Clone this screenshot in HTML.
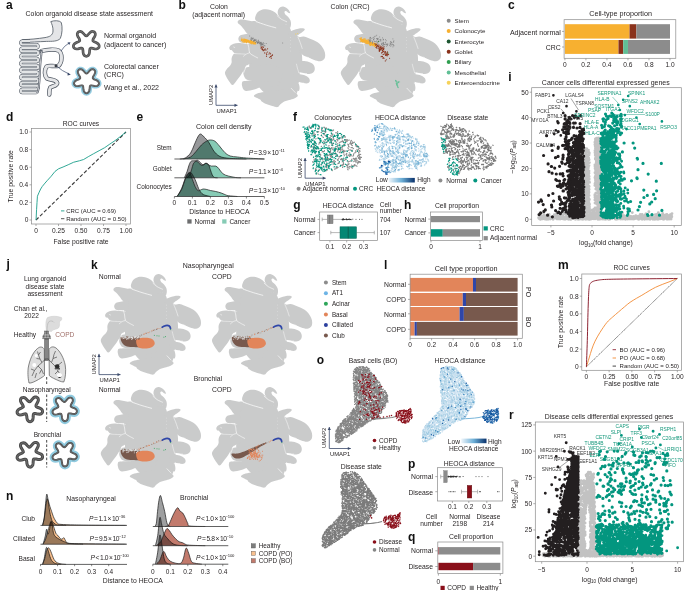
<!DOCTYPE html>
<html><head><meta charset="utf-8"><style>
html,body{margin:0;padding:0;background:#fff;}
body{width:685px;height:591px;overflow:hidden;font-family:"Liberation Sans",sans-serif;}
svg{display:block;}
</style></head><body>
<svg width="685" height="591" viewBox="0 0 685 591" font-family="Liberation Sans, sans-serif"><defs><g id="umap"><path d="M28.00,17.00 C30.50,15.25 36.00,18.67 40.00,19.50 C44.00,20.33 48.33,21.92 52.00,22.00 C55.67,22.08 59.67,19.67 62.00,20.00 C64.33,20.33 65.00,22.50 66.00,24.00 C67.00,25.50 66.50,27.50 68.00,29.00 C69.50,30.50 73.50,30.33 75.00,33.00 C76.50,35.67 76.50,41.17 77.00,45.00 C77.50,48.83 78.17,52.50 78.00,56.00 C77.83,59.50 76.50,62.83 76.00,66.00 C75.50,69.17 75.33,72.00 75.00,75.00 C74.67,78.00 74.67,81.33 74.00,84.00 C73.33,86.67 73.00,89.33 71.00,91.00 C69.00,92.67 65.50,93.50 62.00,94.00 C58.50,94.50 53.67,95.00 50.00,94.00 C46.33,93.00 42.83,90.33 40.00,88.00 C37.17,85.67 35.17,83.00 33.00,80.00 C30.83,77.00 28.33,73.00 27.00,70.00 C25.67,67.00 25.17,65.33 25.00,62.00 C24.83,58.67 25.83,53.67 26.00,50.00 C26.17,46.33 26.17,43.33 26.00,40.00 C25.83,36.67 24.67,33.83 25.00,30.00 C25.33,26.17 25.50,18.75 28.00,17.00 Z" fill="#cacbcb"/><path d="M31.00,15.00 C30.42,13.42 31.67,10.50 32.50,9.00 C33.33,7.50 34.58,6.70 36.00,6.00 C37.42,5.30 39.33,4.88 41.00,4.80 C42.67,4.72 44.33,4.97 46.00,5.50 C47.67,6.03 49.50,6.92 51.00,8.00 C52.50,9.08 53.50,10.67 55.00,12.00 C56.50,13.33 58.67,14.83 60.00,16.00 C61.33,17.17 63.83,17.92 63.00,19.00 C62.17,20.08 58.00,22.08 55.00,22.50 C52.00,22.92 48.17,22.17 45.00,21.50 C41.83,20.83 38.33,19.58 36.00,18.50 C33.67,17.42 31.58,16.58 31.00,15.00 Z" fill="#cacbcb"/><path d="M53.60,9.00 C53.35,7.78 53.60,6.23 54.00,5.20 C54.40,4.17 55.17,3.33 56.00,2.80 C56.83,2.27 58.00,1.93 59.00,2.00 C60.00,2.07 61.08,2.62 62.00,3.20 C62.92,3.78 63.83,4.62 64.50,5.50 C65.17,6.38 66.08,8.05 66.00,8.50 C65.92,8.95 64.70,8.52 64.00,8.20 C63.30,7.88 62.42,6.77 61.80,6.60 C61.18,6.43 60.43,6.68 60.30,7.20 C60.17,7.72 60.38,8.82 61.00,9.70 C61.62,10.58 63.12,11.45 64.00,12.50 C64.88,13.55 65.83,14.75 66.30,16.00 C66.77,17.25 66.93,18.75 66.80,20.00 C66.67,21.25 66.30,23.50 65.50,23.50 C64.70,23.50 63.17,21.25 62.00,20.00 C60.83,18.75 59.58,17.25 58.50,16.00 C57.42,14.75 56.32,13.67 55.50,12.50 C54.68,11.33 53.85,10.22 53.60,9.00 Z" fill="#cacbcb"/><path d="M13.50,17.00 C13.75,16.38 14.58,15.63 15.50,15.30 C16.42,14.97 17.58,14.88 19.00,15.00 C20.42,15.12 22.33,15.67 24.00,16.00 C25.67,16.33 27.50,16.50 29.00,17.00 C30.50,17.50 32.83,17.67 33.00,19.00 C33.17,20.33 31.33,23.25 30.00,25.00 C28.67,26.75 26.25,28.92 25.00,29.50 C23.75,30.08 23.42,29.33 22.50,28.50 C21.58,27.67 20.58,25.83 19.50,24.50 C18.42,23.17 16.92,21.42 16.00,20.50 C15.08,19.58 14.42,19.58 14.00,19.00 C13.58,18.42 13.25,17.62 13.50,17.00 Z" fill="#cacbcb"/><path d="M14.20,34.80 C14.03,33.85 14.53,32.72 15.00,32.00 C15.47,31.28 15.83,30.93 17.00,30.50 C18.17,30.07 20.17,29.57 22.00,29.40 C23.83,29.23 26.83,28.73 28.00,29.50 C29.17,30.27 29.17,32.45 29.00,34.00 C28.83,35.55 28.17,38.10 27.00,38.80 C25.83,39.50 23.83,38.38 22.00,38.20 C20.17,38.02 17.30,38.27 16.00,37.70 C14.70,37.13 14.37,35.75 14.20,34.80 Z" fill="#cacbcb"/><path d="M5.10,43.20 C5.20,42.42 5.87,41.37 6.60,40.70 C7.33,40.03 8.23,39.57 9.50,39.20 C10.77,38.83 12.45,38.53 14.20,38.50 C15.95,38.47 18.37,38.87 20.00,39.00 C21.63,39.13 22.83,39.13 24.00,39.30 C25.17,39.47 26.42,39.05 27.00,40.00 C27.58,40.95 27.50,43.42 27.50,45.00 C27.50,46.58 28.25,48.75 27.00,49.50 C25.75,50.25 22.00,49.53 20.00,49.50 C18.00,49.47 16.65,49.47 15.00,49.30 C13.35,49.13 11.33,49.08 10.10,48.50 C8.87,47.92 8.28,46.32 7.60,45.80 C6.92,45.28 6.42,45.83 6.00,45.40 C5.58,44.97 5.00,43.98 5.10,43.20 Z" fill="#cacbcb"/><path d="M8.80,50.50 C9.40,49.67 9.30,49.28 11.00,49.00 C12.70,48.72 16.83,48.77 19.00,48.80 C21.17,48.83 22.33,49.03 24.00,49.20 C25.67,49.37 27.58,49.17 29.00,49.80 C30.42,50.43 32.33,51.80 32.50,53.00 C32.67,54.20 31.70,55.63 30.00,57.00 C28.30,58.37 23.97,59.87 22.30,61.20 C20.63,62.53 20.88,63.53 20.00,65.00 C19.12,66.47 18.25,68.17 17.00,70.00 C15.75,71.83 13.92,74.25 12.50,76.00 C11.08,77.75 9.75,80.33 8.50,80.50 C7.25,80.67 6.08,78.42 5.00,77.00 C3.92,75.58 2.70,73.50 2.00,72.00 C1.30,70.50 0.63,69.33 0.80,68.00 C0.97,66.67 2.13,65.17 3.00,64.00 C3.87,62.83 5.27,62.00 6.00,61.00 C6.73,60.00 7.17,59.17 7.40,58.00 C7.63,56.83 7.17,55.25 7.40,54.00 C7.63,52.75 8.20,51.33 8.80,50.50 Z" fill="#cacbcb"/><path d="M64.00,28.80 C63.67,27.88 65.08,27.57 66.00,27.00 C66.92,26.43 68.17,25.87 69.50,25.40 C70.83,24.93 72.58,24.47 74.00,24.20 C75.42,23.93 76.92,23.75 78.00,23.80 C79.08,23.85 80.25,24.05 80.50,24.50 C80.75,24.95 80.25,25.75 79.50,26.50 C78.75,27.25 77.12,28.20 76.00,29.00 C74.88,29.80 74.13,30.72 72.80,31.30 C71.47,31.88 69.47,32.92 68.00,32.50 C66.53,32.08 64.33,29.72 64.00,28.80 Z" fill="#cacbcb"/><path d="M74.00,34.00 C74.37,32.08 75.27,32.83 76.20,32.50 C77.13,32.17 78.30,31.83 79.60,32.00 C80.90,32.17 82.43,32.92 84.00,33.50 C85.57,34.08 87.50,34.83 89.00,35.50 C90.50,36.17 91.67,36.58 93.00,37.50 C94.33,38.42 95.83,39.58 97.00,41.00 C98.17,42.42 99.33,44.42 100.00,46.00 C100.67,47.58 101.00,49.08 101.00,50.50 C101.00,51.92 100.83,53.45 100.00,54.50 C99.17,55.55 97.67,56.63 96.00,56.80 C94.33,56.97 92.00,56.13 90.00,55.50 C88.00,54.87 86.00,53.92 84.00,53.00 C82.00,52.08 79.67,51.50 78.00,50.00 C76.33,48.50 74.67,46.67 74.00,44.00 C73.33,41.33 73.63,35.92 74.00,34.00 Z" fill="#cacbcb"/><path d="M71.00,56.80 C72.33,55.22 77.50,56.30 80.00,56.50 C82.50,56.70 84.42,57.33 86.00,58.00 C87.58,58.67 88.73,59.43 89.50,60.50 C90.27,61.57 90.68,63.15 90.60,64.40 C90.52,65.65 89.93,67.15 89.00,68.00 C88.07,68.85 86.67,69.42 85.00,69.50 C83.33,69.58 81.17,69.08 79.00,68.50 C76.83,67.92 73.33,67.95 72.00,66.00 C70.67,64.05 69.67,58.38 71.00,56.80 Z" fill="#cacbcb"/><path d="M70.00,69.50 C71.17,68.83 75.00,69.67 77.00,70.00 C79.00,70.33 80.67,70.83 82.00,71.50 C83.33,72.17 84.42,73.08 85.00,74.00 C85.58,74.92 85.75,76.20 85.50,77.00 C85.25,77.80 84.58,78.55 83.50,78.80 C82.42,79.05 80.58,78.80 79.00,78.50 C77.42,78.20 75.50,77.75 74.00,77.00 C72.50,76.25 70.67,75.25 70.00,74.00 C69.33,72.75 68.83,70.17 70.00,69.50 Z" fill="#cacbcb"/><path d="M69.00,78.00 C70.00,77.50 72.93,78.17 74.00,79.00 C75.07,79.83 75.32,81.77 75.40,83.00 C75.48,84.23 75.23,86.07 74.50,86.40 C73.77,86.73 72.08,85.73 71.00,85.00 C69.92,84.27 68.33,83.17 68.00,82.00 C67.67,80.83 68.00,78.50 69.00,78.00 Z" fill="#cacbcb"/><path d="M62.00,85.00 C65.00,85.00 66.33,85.33 68.00,86.00 C69.67,86.67 71.08,88.10 72.00,89.00 C72.92,89.90 73.83,90.57 73.50,91.40 C73.17,92.23 71.42,93.32 70.00,94.00 C68.58,94.68 66.67,95.00 65.00,95.50 C63.33,96.00 61.50,96.25 60.00,97.00 C58.50,97.75 57.10,99.07 56.00,100.00 C54.90,100.93 54.73,102.35 53.40,102.60 C52.07,102.85 49.90,102.02 48.00,101.50 C46.10,100.98 43.75,100.25 42.00,99.50 C40.25,98.75 38.45,97.70 37.50,97.00 C36.55,96.30 37.05,95.88 36.30,95.30 C35.55,94.72 34.10,94.15 33.00,93.50 C31.90,92.85 29.70,92.15 29.70,91.40 C29.70,90.65 31.28,89.65 33.00,89.00 C34.72,88.35 37.17,88.00 40.00,87.50 C42.83,87.00 46.33,86.42 50.00,86.00 C53.67,85.58 59.00,85.00 62.00,85.00 Z" fill="#cacbcb"/><path d="M17.80,78.50 C18.00,77.80 17.80,77.17 19.00,76.80 C20.20,76.43 22.33,76.35 25.00,76.30 C27.67,76.25 31.67,76.38 35.00,76.50 C38.33,76.62 41.67,76.83 45.00,77.00 C48.33,77.17 53.17,77.00 55.00,77.50 C56.83,78.00 57.17,79.25 56.00,80.00 C54.83,80.75 51.13,81.58 48.00,82.00 C44.87,82.42 40.20,82.00 37.20,82.50 C34.20,83.00 32.53,84.35 30.00,85.00 C27.47,85.65 23.83,86.48 22.00,86.40 C20.17,86.32 19.70,85.40 19.00,84.50 C18.30,83.60 18.00,82.00 17.80,81.00 C17.60,80.00 17.60,79.20 17.80,78.50 Z" fill="#cacbcb"/><path d="M20.00,64.00 C21.67,62.33 25.83,62.67 30.00,62.00 C34.17,61.33 40.83,59.83 45.00,60.00 C49.17,60.17 52.83,61.33 55.00,63.00 C57.17,64.67 58.00,67.67 58.00,70.00 C58.00,72.33 58.00,75.83 55.00,77.00 C52.00,78.17 45.00,77.17 40.00,77.00 C35.00,76.83 28.33,76.83 25.00,76.00 C21.67,75.17 20.83,74.00 20.00,72.00 C19.17,70.00 18.33,65.67 20.00,64.00 Z" fill="#cacbcb"/><path d="M32.00,17.20 C33.67,17.77 38.73,19.58 42.00,20.60 C45.27,21.62 50.00,22.85 51.60,23.30" fill="none" stroke="#fff" stroke-width="0.7" stroke-linecap="round"/><path d="M53.00,11.20 C53.67,11.77 55.42,13.60 57.00,14.60 C58.58,15.60 61.58,16.77 62.50,17.20" fill="none" stroke="#fff" stroke-width="0.6" stroke-linecap="round"/><path d="M73.70,32.50 C74.08,33.42 75.28,36.08 76.00,38.00 C76.72,39.92 77.67,43.00 78.00,44.00" fill="none" stroke="#fff" stroke-width="0.5" stroke-linecap="round"/><path d="M83.80,52.80 L88.00,55.80" fill="none" stroke="#fff" stroke-width="0.6" stroke-linecap="round"/><path d="M75.00,68.30 C75.67,68.40 77.75,68.77 79.00,68.90 C80.25,69.03 81.92,69.07 82.50,69.10" fill="none" stroke="#fff" stroke-width="0.55" stroke-linecap="round"/><path d="M74.20,78.60 C74.67,78.63 76.12,78.80 77.00,78.80 C77.88,78.80 79.08,78.63 79.50,78.60" fill="none" stroke="#fff" stroke-width="0.55" stroke-linecap="round"/><path d="M72.30,59.70 C72.45,60.33 72.82,62.08 73.20,63.50 C73.58,64.92 74.37,67.42 74.60,68.20" fill="none" stroke="#fff" stroke-width="0.45" stroke-linecap="round"/><path d="M67.00,83.80 L71.00,88.00" fill="none" stroke="#fff" stroke-width="0.6" stroke-linecap="round"/><path d="M23.40,38.40 C23.60,39.17 24.27,41.35 24.60,43.00 C24.93,44.65 24.67,46.97 25.40,48.30 C26.13,49.63 27.65,50.15 29.00,51.00 C30.35,51.85 32.75,53.00 33.50,53.40" fill="none" stroke="#fff" stroke-width="0.6" stroke-linecap="round"/><path d="M25.40,48.30 C24.83,48.52 23.02,49.02 22.00,49.60 C20.98,50.18 19.75,51.43 19.30,51.80" fill="none" stroke="#fff" stroke-width="0.5" stroke-linecap="round"/><path d="M11.00,49.20 C11.83,49.23 14.33,49.33 16.00,49.40 C17.67,49.47 20.17,49.57 21.00,49.60" fill="none" stroke="#fff" stroke-width="0.45" stroke-linecap="round"/><path d="M22.30,61.20 L19.60,68.00" fill="none" stroke="#fff" stroke-width="0.6" stroke-linecap="round"/><path d="M9.50,42.50 L10.50,43.00" fill="none" stroke="#fff" stroke-width="0.5" stroke-linecap="round"/><circle cx="66.5" cy="33" r="0.35" fill="#fff"/><circle cx="66.5" cy="36" r="0.35" fill="#fff"/><circle cx="66.5" cy="39.5" r="0.35" fill="#fff"/><circle cx="66.5" cy="43" r="0.35" fill="#fff"/><circle cx="66.5" cy="46.5" r="0.35" fill="#fff"/></g><linearGradient id="gblue" x1="0" x2="1" y1="0" y2="0"><stop offset="0" stop-color="#f0f6fb"/><stop offset="0.5" stop-color="#6baed6"/><stop offset="1" stop-color="#08306b"/></linearGradient></defs><text x="6.00" y="8.50" font-size="12" text-anchor="start" fill="#111" font-weight="bold" >a</text>
<text x="178.40" y="8.50" font-size="12" text-anchor="start" fill="#111" font-weight="bold" >b</text>
<text x="507.90" y="8.80" font-size="12" text-anchor="start" fill="#111" font-weight="bold" >c</text>
<text x="5.90" y="120.60" font-size="12" text-anchor="start" fill="#111" font-weight="bold" >d</text>
<text x="136.40" y="120.60" font-size="12" text-anchor="start" fill="#111" font-weight="bold" >e</text>
<text x="292.90" y="120.60" font-size="12" text-anchor="start" fill="#111" font-weight="bold" >f</text>
<text x="293.30" y="208.50" font-size="12" text-anchor="start" fill="#111" font-weight="bold" >g</text>
<text x="403.90" y="208.60" font-size="12" text-anchor="start" fill="#111" font-weight="bold" >h</text>
<text x="508.30" y="81.10" font-size="12" text-anchor="start" fill="#111" font-weight="bold" >i</text>
<text x="6.40" y="268.20" font-size="12" text-anchor="start" fill="#111" font-weight="bold" >j</text>
<text x="91.10" y="268.60" font-size="12" text-anchor="start" fill="#111" font-weight="bold" >k</text>
<text x="384.00" y="268.50" font-size="12" text-anchor="start" fill="#111" font-weight="bold" >l</text>
<text x="557.90" y="268.60" font-size="12" text-anchor="start" fill="#111" font-weight="bold" >m</text>
<text x="5.90" y="499.60" font-size="12" text-anchor="start" fill="#111" font-weight="bold" >n</text>
<text x="316.80" y="363.50" font-size="12" text-anchor="start" fill="#111" font-weight="bold" >o</text>
<text x="407.90" y="467.50" font-size="12" text-anchor="start" fill="#111" font-weight="bold" >p</text>
<text x="407.90" y="540.80" font-size="12" text-anchor="start" fill="#111" font-weight="bold" >q</text>
<text x="509.00" y="418.60" font-size="12" text-anchor="start" fill="#111" font-weight="bold" >r</text>
<text x="89.30" y="16.07" font-size="6.87" text-anchor="middle" fill="#231f20" >Colon organoid disease state assessment</text>
<path d="M50.8,21.6 C54,20.3 59.5,20.3 61.3,22.5 C62.6,27 62.3,34 60.3,38.5 C57.5,41.6 52,41.3 46.5,41.4 C39,41.6 30,42.6 22.3,42.2 L22.3,39.6 C30,39.6 38,38.6 45,37.6 C49.5,36.8 52.8,35.5 53,31 C53.2,27 51.8,24 50.8,21.6 Z" fill="#e4e5e7" stroke="#4d5560" stroke-width="0.8" stroke-linejoin="round"/>
<path d="M30,41.0 L22.3,41.0 A1.73,1.73 0 0 0 22.3,44.45 L36.6,44.45 A1.73,1.73 0 0 1 36.6,47.90 L22.3,47.90 A1.73,1.73 0 0 0 22.3,51.35 L36.6,51.35 A1.73,1.73 0 0 1 36.6,54.80 L22.3,54.80 A1.73,1.73 0 0 0 22.3,58.25 L36.6,58.25 A1.73,1.73 0 0 1 36.6,61.70 L22.3,61.70 A1.73,1.73 0 0 0 22.3,65.15 L36.6,65.15 A1.73,1.73 0 0 1 36.6,68.60 L22.3,68.60 A1.73,1.73 0 0 0 22.3,72.05 L36.6,72.05 A1.73,1.73 0 0 1 36.6,75.50 L22.3,75.50 A1.73,1.73 0 0 0 22.3,78.95 L36.6,78.95 A1.73,1.73 0 0 1 36.6,82.40 L22.3,82.40 A1.73,1.73 0 0 0 22.3,85.85 L36.6,85.85 A1.73,1.73 0 0 1 36.6,89.30 L22.3,89.30 A1.73,1.73 0 0 0 22.3,92.75 L36.6,92.75 " fill="none" stroke="#4d5560" stroke-width="3.0" stroke-linejoin="round"/>
<path d="M30,41.0 L22.3,41.0 A1.73,1.73 0 0 0 22.3,44.45 L36.6,44.45 A1.73,1.73 0 0 1 36.6,47.90 L22.3,47.90 A1.73,1.73 0 0 0 22.3,51.35 L36.6,51.35 A1.73,1.73 0 0 1 36.6,54.80 L22.3,54.80 A1.73,1.73 0 0 0 22.3,58.25 L36.6,58.25 A1.73,1.73 0 0 1 36.6,61.70 L22.3,61.70 A1.73,1.73 0 0 0 22.3,65.15 L36.6,65.15 A1.73,1.73 0 0 1 36.6,68.60 L22.3,68.60 A1.73,1.73 0 0 0 22.3,72.05 L36.6,72.05 A1.73,1.73 0 0 1 36.6,75.50 L22.3,75.50 A1.73,1.73 0 0 0 22.3,78.95 L36.6,78.95 A1.73,1.73 0 0 1 36.6,82.40 L22.3,82.40 A1.73,1.73 0 0 0 22.3,85.85 L36.6,85.85 A1.73,1.73 0 0 1 36.6,89.30 L22.3,89.30 A1.73,1.73 0 0 0 22.3,92.75 L36.6,92.75 " fill="none" stroke="#eceded" stroke-width="2.0" stroke-linejoin="round"/>
<path d="M30,41.0 L22.3,41.0 A1.73,1.73 0 0 0 22.3,44.45 L36.6,44.45 A1.73,1.73 0 0 1 36.6,47.90 L22.3,47.90 A1.73,1.73 0 0 0 22.3,51.35 L36.6,51.35 A1.73,1.73 0 0 1 36.6,54.80 L22.3,54.80 A1.73,1.73 0 0 0 22.3,58.25 L36.6,58.25 A1.73,1.73 0 0 1 36.6,61.70 L22.3,61.70 A1.73,1.73 0 0 0 22.3,65.15 L36.6,65.15 A1.73,1.73 0 0 1 36.6,68.60 L22.3,68.60 A1.73,1.73 0 0 0 22.3,72.05 L36.6,72.05 A1.73,1.73 0 0 1 36.6,75.50 L22.3,75.50 A1.73,1.73 0 0 0 22.3,78.95 L36.6,78.95 A1.73,1.73 0 0 1 36.6,82.40 L22.3,82.40 A1.73,1.73 0 0 0 22.3,85.85 L36.6,85.85 A1.73,1.73 0 0 1 36.6,89.30 L22.3,89.30 A1.73,1.73 0 0 0 22.3,92.75 L36.6,92.75 " fill="none" stroke="#c9ccd0" stroke-width="0.5" stroke-linejoin="round"/>
<path d="M41.5,51 C47,49.5 55,49 58.5,50.5 C62.5,53 62.5,62 58.5,65.8 C54,66.8 49,65 46.6,66.5 C44,70 44.5,76 47,78.5 C51,80.5 56,79 57.2,83 C57.5,86 52,86.2 50.3,87.5 C49,89.5 49.5,92 49.3,94.5" fill="none" stroke="#4d5560" stroke-width="4.4" stroke-linecap="round" stroke-linejoin="round"/>
<path d="M41.5,51 C47,49.5 55,49 58.5,50.5 C62.5,53 62.5,62 58.5,65.8 C54,66.8 49,65 46.6,66.5 C44,70 44.5,76 47,78.5 C51,80.5 56,79 57.2,83 C57.5,86 52,86.2 50.3,87.5 C49,89.5 49.5,92 49.3,94.5" fill="none" stroke="#e4e5e7" stroke-width="3.0" stroke-linecap="round" stroke-linejoin="round"/>
<path d="M37.5,92.5 C40,88 39.5,72 40.5,62 C41,57 41.5,54 41.5,51" fill="none" stroke="#4d5560" stroke-width="2.0" stroke-linecap="round"/>
<path d="M37.5,92.5 C40,88 39.5,72 40.5,62 C41,57 41.5,54 41.5,51" fill="none" stroke="#e4e5e7" stroke-width="0.8" stroke-linecap="round"/>
<path d="M39.5,50.6 L42.5,51" stroke="#4d5560" stroke-width="1.2"/>
<path d="M56 65.8h0" stroke="#3b3f45" stroke-width="3.00" stroke-linecap="round" fill="none"/>
<path d="M61,51 Q64,46 69,43" fill="none" stroke="#3b4a6b" stroke-width="0.7"/>
<path d="M70.5,42.3 L67.5,42.6 L69.2,45 Z" fill="#3b4a6b"/>
<path d="M56.5,66 Q62,71 69,74" fill="none" stroke="#3b4a6b" stroke-width="0.7"/>
<path d="M70.8,74.8 L67.8,72.6 L67.5,75.6 Z" fill="#3b4a6b"/>
<path d="M78.4,31.9L79.3,31.5L80.5,31.4L81.8,31.9L83.1,33.1L84.3,34.4L85.1,35.2L85.7,35.7L86.3,35.9L86.9,35.7L87.5,35.2L88.3,34.4L89.5,33.1L90.8,31.9L92.1,31.4L93.3,31.5L94.2,31.9L94.9,32.7L95.3,33.8L95.3,35.1L94.6,36.8L93.6,38.3L93.1,39.3L92.9,40.1L92.9,40.7L93.2,41.1L93.9,41.6L94.9,42.1L96.5,42.8L98.1,43.7L98.9,44.8L99.2,45.9L99.1,47.0L98.6,47.9L97.7,48.6L96.4,49.0L94.6,48.8L92.8,48.4L91.7,48.2L90.9,48.2L90.4,48.4L90.0,48.8L89.8,49.6L89.6,50.7L89.5,52.5L89.1,54.3L88.3,55.4L87.3,56.1L86.3,56.3L85.3,56.1L84.3,55.4L83.5,54.3L83.1,52.5L83.0,50.7L82.8,49.6L82.6,48.8L82.2,48.4L81.7,48.2L80.9,48.2L79.8,48.4L78.0,48.8L76.2,49.0L74.9,48.6L74.0,47.9L73.5,47.0L73.4,45.9L73.7,44.8L74.5,43.7L76.1,42.8L77.7,42.1L78.7,41.6L79.4,41.1L79.7,40.7L79.7,40.1L79.5,39.3L79.0,38.3L78.0,36.8L77.3,35.1L77.3,33.8L77.7,32.7Z" fill="#fff" stroke="#4f4f4f" stroke-width="2.7"/>
<path d="M78.4,31.9L79.3,31.5L80.5,31.4L81.8,31.9L83.1,33.1L84.3,34.4L85.1,35.2L85.7,35.7L86.3,35.9L86.9,35.7L87.5,35.2L88.3,34.4L89.5,33.1L90.8,31.9L92.1,31.4L93.3,31.5L94.2,31.9L94.9,32.7L95.3,33.8L95.3,35.1L94.6,36.8L93.6,38.3L93.1,39.3L92.9,40.1L92.9,40.7L93.2,41.1L93.9,41.6L94.9,42.1L96.5,42.8L98.1,43.7L98.9,44.8L99.2,45.9L99.1,47.0L98.6,47.9L97.7,48.6L96.4,49.0L94.6,48.8L92.8,48.4L91.7,48.2L90.9,48.2L90.4,48.4L90.0,48.8L89.8,49.6L89.6,50.7L89.5,52.5L89.1,54.3L88.3,55.4L87.3,56.1L86.3,56.3L85.3,56.1L84.3,55.4L83.5,54.3L83.1,52.5L83.0,50.7L82.8,49.6L82.6,48.8L82.2,48.4L81.7,48.2L80.9,48.2L79.8,48.4L78.0,48.8L76.2,49.0L74.9,48.6L74.0,47.9L73.5,47.0L73.4,45.9L73.7,44.8L74.5,43.7L76.1,42.8L77.7,42.1L78.7,41.6L79.4,41.1L79.7,40.7L79.7,40.1L79.5,39.3L79.0,38.3L78.0,36.8L77.3,35.1L77.3,33.8L77.7,32.7Z" fill="none" stroke="#8a8a8a" stroke-width="0.6"/>
<path d="M78.9,69.7L79.8,69.3L80.9,69.3L82.2,69.7L83.5,70.9L84.6,72.2L85.4,73.0L86.0,73.4L86.5,73.6L87.0,73.4L87.6,73.0L88.4,72.2L89.5,70.9L90.8,69.7L92.1,69.3L93.2,69.3L94.1,69.7L94.8,70.5L95.2,71.5L95.1,72.8L94.4,74.4L93.5,75.9L93.0,76.9L92.8,77.6L92.8,78.2L93.1,78.6L93.7,79.1L94.7,79.6L96.3,80.2L97.8,81.1L98.6,82.1L99.0,83.2L98.9,84.2L98.3,85.1L97.4,85.8L96.2,86.1L94.4,86.0L92.8,85.6L91.7,85.4L90.9,85.4L90.4,85.5L90.0,86.0L89.8,86.7L89.7,87.8L89.5,89.5L89.2,91.2L88.4,92.3L87.5,93.0L86.5,93.2L85.5,93.0L84.6,92.3L83.8,91.2L83.5,89.5L83.3,87.8L83.2,86.7L83.0,86.0L82.6,85.5L82.1,85.4L81.3,85.4L80.2,85.6L78.6,86.0L76.8,86.1L75.6,85.8L74.7,85.1L74.1,84.2L74.0,83.2L74.4,82.1L75.2,81.1L76.7,80.2L78.3,79.6L79.3,79.1L79.9,78.6L80.2,78.2L80.2,77.6L80.0,76.9L79.5,75.9L78.6,74.4L77.9,72.8L77.8,71.5L78.2,70.5Z" fill="#fff" stroke="#93cbe0" stroke-width="5.0"/>
<path d="M78.9,69.7L79.8,69.3L80.9,69.3L82.2,69.7L83.5,70.9L84.6,72.2L85.4,73.0L86.0,73.4L86.5,73.6L87.0,73.4L87.6,73.0L88.4,72.2L89.5,70.9L90.8,69.7L92.1,69.3L93.2,69.3L94.1,69.7L94.8,70.5L95.2,71.5L95.1,72.8L94.4,74.4L93.5,75.9L93.0,76.9L92.8,77.6L92.8,78.2L93.1,78.6L93.7,79.1L94.7,79.6L96.3,80.2L97.8,81.1L98.6,82.1L99.0,83.2L98.9,84.2L98.3,85.1L97.4,85.8L96.2,86.1L94.4,86.0L92.8,85.6L91.7,85.4L90.9,85.4L90.4,85.5L90.0,86.0L89.8,86.7L89.7,87.8L89.5,89.5L89.2,91.2L88.4,92.3L87.5,93.0L86.5,93.2L85.5,93.0L84.6,92.3L83.8,91.2L83.5,89.5L83.3,87.8L83.2,86.7L83.0,86.0L82.6,85.5L82.1,85.4L81.3,85.4L80.2,85.6L78.6,86.0L76.8,86.1L75.6,85.8L74.7,85.1L74.1,84.2L74.0,83.2L74.4,82.1L75.2,81.1L76.7,80.2L78.3,79.6L79.3,79.1L79.9,78.6L80.2,78.2L80.2,77.6L80.0,76.9L79.5,75.9L78.6,74.4L77.9,72.8L77.8,71.5L78.2,70.5Z" fill="#fff" stroke="#4f4f4f" stroke-width="1.9"/>
<path d="M78.9,69.7L79.8,69.3L80.9,69.3L82.2,69.7L83.5,70.9L84.6,72.2L85.4,73.0L86.0,73.4L86.5,73.6L87.0,73.4L87.6,73.0L88.4,72.2L89.5,70.9L90.8,69.7L92.1,69.3L93.2,69.3L94.1,69.7L94.8,70.5L95.2,71.5L95.1,72.8L94.4,74.4L93.5,75.9L93.0,76.9L92.8,77.6L92.8,78.2L93.1,78.6L93.7,79.1L94.7,79.6L96.3,80.2L97.8,81.1L98.6,82.1L99.0,83.2L98.9,84.2L98.3,85.1L97.4,85.8L96.2,86.1L94.4,86.0L92.8,85.6L91.7,85.4L90.9,85.4L90.4,85.5L90.0,86.0L89.8,86.7L89.7,87.8L89.5,89.5L89.2,91.2L88.4,92.3L87.5,93.0L86.5,93.2L85.5,93.0L84.6,92.3L83.8,91.2L83.5,89.5L83.3,87.8L83.2,86.7L83.0,86.0L82.6,85.5L82.1,85.4L81.3,85.4L80.2,85.6L78.6,86.0L76.8,86.1L75.6,85.8L74.7,85.1L74.1,84.2L74.0,83.2L74.4,82.1L75.2,81.1L76.7,80.2L78.3,79.6L79.3,79.1L79.9,78.6L80.2,78.2L80.2,77.6L80.0,76.9L79.5,75.9L78.6,74.4L77.9,72.8L77.8,71.5L78.2,70.5Z" fill="none" stroke="#8a8a8a" stroke-width="0.5"/>
<text x="104.00" y="38.34" font-size="7.05" text-anchor="start" fill="#231f20" >Normal organoid</text>
<text x="104.00" y="46.84" font-size="7.05" text-anchor="start" fill="#231f20" >(adjacent to cancer)</text>
<text x="104.00" y="69.04" font-size="7.05" text-anchor="start" fill="#231f20" >Colorectal cancer</text>
<text x="104.00" y="77.04" font-size="7.05" text-anchor="start" fill="#231f20" >(CRC)</text>
<text x="104.00" y="90.14" font-size="7.05" text-anchor="start" fill="#231f20" >Wang et al., 2022</text>
<text x="219.00" y="8.85" font-size="6.8" text-anchor="middle" fill="#231f20" >Colon</text>
<text x="218.70" y="16.85" font-size="6.8" text-anchor="middle" fill="#231f20" >(adjacent normal)</text>
<text x="350.00" y="8.85" font-size="6.8" text-anchor="middle" fill="#231f20" >Colon (CRC)</text>
<use href="#umap" transform="translate(224.2,4.5) scale(1.0)"/>
<path d="M244 39.3h0m.8 1.4h0m6.1 1h0m-8.6-2.4h0m10.6 3h0m-1 1.6h0m2.5-1.1h0m-4.7-1.4h0m-5.1-.7h0m-.3 .2h0m.7 .2h0m3.1 .4h0m4.7 .7h0m-7.6-1.8h0m-2.2 .9h0m9.1 .6h0m1 .1h0m-2.5-1.2h0m-1.9 .6h0m-3.5-1.4h0m-1.7 .1h0m7.3 2.5h0m-1.9-1.9h0m-1.8 .5h0m-5.2-3.1h0m7.9 4h0m-.3-.7h0m0-.2h0m0 .1h0m-1.4 1h0m7.8 .7h0m-2.2-1.2h0m-1.2 .6h0m-4-.6h0m1.3 .7h0m-1.6-.5h0m.6-1.1h0m-.4 .6h0m-5-1.8h0m9.7 1.5h0m-7.5-1.4h0m-2.7 .4h0m9.4 2.5h0m-1.9-.6h0m-6.7-1.8h0m1.7-.3h0m.7 1h0m.8 .4h0m-3.2-1.7h0m.3 .1h0m-1.8 .2h0m9.9 3.2h0m-1.2-1.3h0m4.6 .3h0m-10.9-2.2h0m4.9 2.7h0m-7.3-.8h0m11.4 2.1h0m-6.9-3.5h0m.8 .8h0m7.3 1.7h0m.1-.2h0m-.4-.3h0m-6-.5h0m-4.1-2.1h0m.5 1.3h0m.5-.4h0m8.6 1.8h0m-10.1-.2h0m8.6 .4h0m-.8-2.2h0m-4.7-.3h0m1.8 1.1h0m3.3 1h0m2.5 1.6h0m-4.3-2.8h0m-4.1 1.2h0m4.9-1h0m-7.7-1.2h0m-.3 .5h0m9.8 1.1h0m-2.5-.6h0m-.7 .8h0m-3.8-1.8h0m8.4 2.8h0m-1.5-.7h0m-1.5-.1h0m3.1 .7h0m.9 .3h0m-11.2-1.6h0m-.6-1.7h0m12.1 2.8h0m-10.6-1.9h0m5.9 1.2h0m4.4 2h0m-7.4-2.4h0m7.8 .9h0m-12.3-1.3h0m11.4 1.5h0m-3.9 .2h0m-4.9-1.7h0m.1-.5h0m4.1-.1h0m-3.2 1.2h0m-.3-2.1h0m-1 1.9h0m3.8-.2h0m-7.5-1.2h0m7.6 1.6h0m.8 1.4h0m-1.6-2h0m0 0h0m6.6 2.8h0m.3-1.5h0m-13.5-2.4h0m3.8 .5h0m8.8 2.3h0m-.1-1.6h0m-1.2 .2h0m-9.5-.9h0m7.5 1.1h0m-8.1-1.9h0m5.1 1.5h0m-.8 .4h0m-1.7-.8h0m1.4 .2h0m-.6 .2h0m-1.3-1.2h0m1.6 .7h0m-5.8-1h0m8.8 2.6h0m1.9 .7h0m-3.5-.9h0m1.9-1.4h0m-4.9-.2h0m-3.7-.6h0m2.2-1.1h0m1.8 .7h0m.9 .4h0m3.9 .6h0m4.3 2.2h0m-9.6-1.2h0m7.7 1.1h0m-1.6 .2h0m-7.4-2.7h0m11.7 1.9h0m-9.3-2.3h0m-2.6-.8h0m7 2.3h0m4.3 1.4h0m-2.4-.1h0m-5.8-.5h0m8.7 1.5h0m-7.9-2h0m-2.5-1h0m-.9 0h0m5.5 .5h0m-5.3 .3h0m.7-.9h0m6.3 .3h0m3.3 2h0m-1.1-1.1h0m-6.7-.2h0m6.6 1.8h0m-3.5-1.9h0m5.6 2.3h0m-6.2-1.2h0m-2.8-1.5h0m.8 .5h0m-.1-1.4h0m.9 .8h0m-3.4-.3h0m5.8 .3h0m-1.3 .6h0m3.4 1.7h0m2.6 .3h0m-5.4-1.7h0m-8.6-1.4h0m6.4 .1h0m4.8 1h0m-4-1.1h0m1.9 1h0m-.7-.7h0m3.3 .7h0m-.3 .7h0m-7.6-2.8h0m4.6 3.5h0m-1.5-1.3h0m.5-.7h0m-2.2 .1h0m2.9 .3h0m-2.4-.9h0m-2.2 1.7h0m1.3-.6h0m2.5 .8h0m3.6 1h0m-.5-1.5h0m-1.5 1.1h0m-6-3.7h0m2.2 3.7h0m5.2-.8h0m2.3 .3h0m-6.2-2.3h0m-3.6 .2h0m10.2 3.4h0m-2.8-1.7h0m-2.4 0h0m2 1.2h0m-6.3-3.6h0m1.4 1.8h0m2.5 .4h0m-7.1-2.5h0m3.7 1.6h0m8.3 1.5h0m-7.1-1.6h0m5.2 1.8h0m-3.4-.7h0m-3.2-1.9h0m4.8 3h0m-4.5-2.8h0" stroke="#f7b030" stroke-width="1.10" stroke-linecap="round" fill="none"/>
<path d="M265 45.9h0m-3.6-.8h0m-2.7-3.2h0m3.4 2.2h0m.9 .8h0m-3.1-1.7h0m-9.4-4h0m12.2 5.6h0m-.5-.4h0m-10.3-5.6h0m6.9 2.7h0m2.4 2.1h0m-1.4-1.2h0m-4.6-2h0m2.3 2.8h0m0-1.1h0m-3-1.3h0m6.5 4.3h0m-1.2-3.1h0m.5 3.8h0m-6.7-7.6h0m8.4 6.3h0m-1.6-.3h0m4 1.4h0m-7.7-3.8h0m3.2 1.3h0m-1.4-.5h0m-6.4-4h0m7.8 5.2h0m1.6-1.4h0m-7.7-2h0m3.6 2.3h0m4.4 .8h0m-10.7-5.6h0m12.1 6h0m-5.2-1.1h0m3.3 1.9h0m-6.5-4.1h0m-.2-.2h0m6.2 3.1h0m-7-2.8h0m5.5 2.9h0m-6.5-5h0m3.8 2.7h0m1.6-.8h0m5.8 3.1h0m-1.2 .9h0m-7.8-3.8h0m5.4 1.9h0m-4.2-2.4h0m-2.7 1.2h0m4.1 .9h0m.3 .1h0m-6.3-2.5h0m.1-1.1h0m2.6 1.4h0m4.1 2.4h0m-6.5-5.2h0m.7 1.6h0m3.3 .6h0m-1-.3h0m7.6 4.6h0m-5-1.4h0m3.3 0h0m2.9 3.5h0m-3.3-3.4h0m-5-.1h0m5.4 1.3h0m.4 .7h0m-7-4.5h0m-2.9 .3h0m10 3.1h0m-4.3-1.5h0m1.3-1.7h0m-3.1 .2h0" stroke="#7f7f7f" stroke-width="0.84" stroke-linecap="round" fill="none"/>
<path d="M262.9 49.3h0m4.7 2.7h0m2.1 .9h0m-3.3 .1h0m5.9 2.3h0m.2-.4h0m-9.2-4.2h0m1.8-1.9h0m-.9 1.1h0m.5 .1h0m-1.8 .1h0m3.6 6.1h0m-4.4-7.5h0m4.6 5.7h0m-.7-4.3h0m5.3 6.1h0m-8-8.9h0m-1.9 .2h0m8.4 10h0m1.4-1.5h0m-.8 .5h0m-2.8-7.7h0m-6.4-2h0m7.7 7.2h0m-6.7-4.7h0m8.4 4.5h0m-9.7-5.8h0m1 1.1h0m.8-2.2h0m3.2 2.9h0m-1.2 3.1h0m6.6 5.3h0" stroke="#8a321b" stroke-width="1.20" stroke-linecap="round" fill="none"/>
<path d="M249.7 36h0m4.5 4h0m3.5 3h0m5.5-.5h0m3 1h0m16.5-.5h0m-17.5 6.5h0" stroke="#7f7f7f" stroke-width="0.90" stroke-linecap="round" fill="none"/>
<path d="M295.7 34h0" stroke="#f6d25a" stroke-width="1.10" stroke-linecap="round" fill="none"/>
<path d="M297.7 33.5h0" stroke="#f6d25a" stroke-width="0.90" stroke-linecap="round" fill="none"/>
<use href="#umap" transform="translate(340.0,4.5) scale(1.0)"/>
<path d="M374 44.5h0m-2.1 .2h0m-11-5.4h0m14.3 5.4h0m-7.3-1.6h0m5.6 2h0m-2.4-1.3h0m-8.6-3.8h0m12.2 4.8h0m-12.7-4.2h0m9.1 3.5h0m-5.7-2.4h0m4.7 2.9h0m.8-1.2h0m-5.9-3.3h0m8.3 3.6h0m-5.5-1h0m-5.6-2.2h0m6.2 .9h0m2.6 2.6h0m-1.5-1.9h0m-9-2.7h0m9.7 3.9h0m1.1 0h0m-1.8-.4h0m-4-1.1h0m6.8 1.9h0m-11.1-4.4h0m3.9 2.2h0m-4.3-1.3h0m13.9 4.2h0m-3.9 0h0m-5.2-3.4h0m6.6 1.8h0m-2.2-.5h0m.4 .3h0m-1.9-.1h0m5.4 1.3h0m-13.3-4.2h0m2.3 1.4h0m1 .9h0m3.5 .5h0m-1.8-1.8h0m3.6 .8h0m2.2 2.2h0m.1 1.4h0m-9-5.3h0m11.2 4h0m1 2.4h0m-8.8-4.3h0m3.6 2.4h0m3.2-.2h0m3.2 .4h0m-10.8-3.5h0m2.4 0h0m-.3 .6h0m3 1.8h0m-9.6-3.8h0m.3 .4h0m7 3h0m8.5 1.6h0m-3.4-1h0m0 1.8h0m-6.8-2.5h0m8.1 3.7h0m-9.7-7.6h0m8.3 5.4h0m-7.1-1.1h0m1-2.5h0m2.2 2.2h0m5.6 2.9h0m-7.2-2.4h0m9.3 2h0m-10.4-4.3h0m5.5 3h0m3.2-.3h0m-8.2-1.5h0m5.5 1.1h0m-5.9-1.8h0m8.6 2.8h0m-8.9-2.7h0m-4.6-.6h0m9.3 1.5h0m-7.4-2.7h0m12.2 5.2h0m-5.6-4h0m-1.4 1.5h0m5.3 1.3h0m-3.5-.1h0m3.2-.8h0m-11.3-3.2h0m4.9 0h0m4.2 2.5h0m-1.3 .8h0m2.9 1.8h0m-7.5-3.8h0m2.5 1h0m-7.4-2.9h0m3.3 2.4h0m11.8 2.9h0m-7.7-1.7h0m-1.1-.2h0m-.4 .6h0m-.4-.8h0m7.6 .7h0m-2.1 1h0m-7.8-2.7h0m3.8 1.1h0m-3.3-.2h0m4.5 1.1h0m4.6 .6h0m-6.9-1.2h0m-5.2-3.3h0m10.1 5.2h0m-1.5-1h0m-8.7-3.1h0m2.6-1.8h0m2.1 2.1h0m5.1 3.6h0m-9.4-5.2h0m5.6 4.4h0m1.7-1.8h0m-3.9-.5h0m.5-2.3h0m5.3 5h0m-.7-.4h0m-1.2 0h0m2.6-1h0m3.8 3.2h0m-11-5.1h0m-1-1.2h0m4.1 2.1h0m2.3-.4h0m-.8-.8h0m3.1 3.8h0m-10.3-4.8h0m7.1 3.2h0m-5.1-3.1h0m11.3 5h0m-3.6-1h0m-3.7-2h0m-5.3-1.2h0m.1 1.5h0m13.2 3h0m-2.1 .3h0m-10.1-3.3h0m1.6-.6h0m11 3.2h0m.1-.9h0m-6.7 .8h0m-1.4-2.7h0m5.9 3.2h0m-4.7-1.6h0m.4-1h0m4.3 .7h0m-6.5-1.2h0m2.2 1.7h0m-9.1-4.6h0m4.6 2.2h0m3.4 1.8h0m4.4 1.8h0m.3-.5h0m-7.9-1.1h0m-2.7-2.4h0m6.2-1h0m4.6 4.6h0m-13.1-5.8h0m4.5 2.2h0m4.1 1.8h0m-5.9-2.5h0m-1.9 1.2h0m3.1 .4h0m3.4-.2h0m7.2 2.9h0m-14.2-2.7h0m13.4 3.6h0m-8.3-3.9h0m-.8-2h0m-5-.5h0m12.8 6.8h0m-9.4-4.8h0m6.3 2.5h0m-5.4-2h0m1.8-.3h0m-2.5-.4h0m12.5 4.7h0m-6.4-2.6h0m-8.3-3.1h0m7.2 3.6h0m-1.1-.3h0m3.1 .9h0m0 1.6h0m-3.9-3.5h0m-5.8-1.7h0m10.2 2.8h0m.1 .8h0m-4.7-3.5h0m9 3.7h0m-7.3-1.4h0m1.8 0h0m-3.7-.3h0m3.9 .9h0m2.4 .5h0m-7.8-2.7h0m2.8 .6h0m-.8-1.6h0m4 2.8h0m-4.1-1.5h0m6.7 2.8h0m-1.6-.2h0m-7.1-3.4h0m9.3 4.4h0m-11.4-5h0m-1-2h0m8.3 7.3h0m1.7-.3h0m-4-3h0m-3.4-.3h0m3.3 .2h0m-3.7-1.8h0m5.8 2.5h0m-3.2-.3h0m9.4 1.2h0m-15.9-4.8h0m8 3.5h0m-2.9-1.2h0m2.9 2.6h0m1.3 .4h0m-4.4-2.9h0m-4-1.1h0m13.1 3.1h0m1.9 3.1h0m-11.6-4.8h0m4.8 2.5h0m6.7 1.4h0m-14.8-7.3h0m.8 1.9h0m3.7 1.5h0m-1.9 0h0m5.3 2h0m-5.1-3.2h0m4.8 2.8h0m-1.7-1.1h0m3.5 .7h0m-7.3-2.4h0m9.9 3.6h0m.5 .8h0m-9.2-2.5h0m3.1-1.3h0m-5.1 .7h0m.5-1.9h0m.7 1.8h0m3.4 .8h0m-2.6-.5h0m3.6-.5h0m2.4 1.2h0m-3.3 1.3h0m7.7 .3h0m-12-3.2h0m10.5 3.5h0" stroke="#f7b030" stroke-width="1.20" stroke-linecap="round" fill="none"/>
<path d="M392.3 44.2h0m-11.9-4.8h0m-2.6-.4h0m-8.4 1.6h0m2.8 .5h0m18.6 5.2h0m-4-2h0m-2.1 .1h0m-12.3-2h0m2.5-.7h0m10.2 2.9h0m-8.4-.1h0m3-7.5h0m12.2 5.6h0m-1.8 .7h0m-16.4-4h0m8.7 6.2h0m-8.6-5.8h0m4.1 3.8h0m12.9-.3h0m-.4 1.1h0m-4.8-4.7h0m-8 5.2h0m-7.8-1.9h0m6-6.7h0m-1.5 .2h0m.9 5.1h0m3.9-1.9h0m-1.1 6.4h0m8.4-1.6h0m-17.2-4.4h0m9 1.7h0m13.1 3.2h0m-14.5-3h0m5 2.1h0m9.8-1.6h0m-9.1-4.5h0m1 6.1h0m-2.6-4.4h0m-1.1 1.6h0m-8.9-.8h0m1.4 2.9h0m1.9-2.1h0m-4-.1h0m7.8-2.7h0m12.7 3.3h0m-19.5-3.1h0m6.4 1.1h0m5.8 4.2h0m10.2-2.3h0m-24.2-3.5h0m.5 3.4h0m.4-4.1h0m2.1 4.4h0m-1.7-3.9h0m12.5 7.5h0m10.7-4.6h0m-10.6-1.5h0m-2.3 1.6h0m-10.4-1.1h0m14.9 3.1h0m-12-3.2h0m3.7-.5h0m-1.9 5h0m1.4-8.9h0m-.3 5.7h0m8.4 3.7h0m7.4 .1h0m-17.8-6.6h0m8.7 6.4h0m.3-5h0m-6.3-.9h0m.7 .1h0m5.4 4.9h0m7.6-1.8h0m-1 3.1h0m3.5-.5h0m-18.1-.6h0m12.3 1.7h0m-4.3-2.8h0m3.3 3.4h0m-3.4-6.1h0m-1.7 4.4h0m1.7-2.2h0m4.5 2.3h0m-17.3-2.8h0m16.8 2.2h0m-.9-3.3h0m-.6 1.6h0m2.3 1.8h0m-10-1.9h0m11.9 3.4h0m3.1-6.7h0m-19.6-1.3h0m8 5.7h0m9.6 .6h0m-20.4-6.1h0m23.2 4.5h0m.1 3.4h0m0 0h0m-16.6-2.8h0m7.2 3.9h0m-7.7-8.3h0m3.7 2.2h0m2.4 2.8h0m10.1 3.4h0m-9.1-4.2h0m-10.9-4.6h0m-3.7 2h0m9.3 .9h0" stroke="#7f7f7f" stroke-width="0.84" stroke-linecap="round" fill="none"/>
<path d="M383.8 49.8h0m-1.6-1.9h0m6 6.5h0m-11.7-7.8h0m-.5 .8h0m2.2 1.1h0m1.1 2.9h0m7 3.3h0m-7.4-10h0m9.7 9.9h0m-8.6-8.8h0m7.1 8.8h0m-3.8-5.6h0m-.1 2.6h0m0-3.9h0m-.7 2.7h0m4.4 4.1h0m-.7 .4h0m.9-.4h0m-9.2-8.3h0m2.3 2.1h0m-.3 2.3h0m-1-3.4h0m7 7h0m-6-4.4h0m1.7 3h0m4 1.4h0m-1.6 0h0m-3.6-4.5h0m2.5 1.7h0m-5-5.3h0m9.5 5.7h0m-5.9-4.1h0m-2.5-.4h0m2.8-1h0m-1.8 2.8h0m4.1 2.3h0m-.2-4.7h0m.1 1.8h0m-3.2-.8h0m-.2-.1h0m1.1 1.1h0m.5 1.7h0m5.1 2h0m-10.8-5.6h0m6.2 1.1h0m4.8 7.8h0m2.1 2.6h0m-12.4-12.9h0m-.4 2.7h0m7.5 4.8h0m-3.2-3.5h0m-2 .8h0m-3.3-5.1h0m1.9 1.6h0m8.8 8h0m-7.4-5.5h0m6.5 6.2h0m-9.2-11.2h0m10.5 11.6h0m-1-3h0m-3-2.5h0m3 4.8h0m-.9-2.2h0m-4.5-6h0m-.7 1.4h0m-2.5-2.8h0m5 6.9h0m3.2-.8h0m1.9 2h0m-4.3 .9h0m-.2-4.9h0m2.2 3.2h0m-4-4.9h0m.6 5.2h0m-3.3-7.1h0m.5 .2h0m.6 1.5h0m-1.1-6.2h0m1.2 8.1h0m-4-4.5h0m10.7 8.4h0m-3.6-5.4h0m-.9 .2h0m-6.9-4.6h0m8.8 14.1h0m2.6 2h0m-5.3-3.1h0m1.6 1.3h0m1.1 0h0m-1.9-1.6h0m2.2 2.1h0m1.3 2.4h0m-1.9-3.1h0m-.9-1.4h0" stroke="#8a321b" stroke-width="1.10" stroke-linecap="round" fill="none"/>
<path d="M378.5 41.5h0m9.5 11.5h0" stroke="#2f9e4f" stroke-width="1.00" stroke-linecap="round" fill="none"/>
<path d="M397.2 85.1h0m0-.4h0m-.9-1.9h0m.2 .8h0m-.2-2.2h0m1.6 5.5h0m-.2-.7h0m-.3-2.9h0m.9 4.3h0m-.6-2h0m-1.4-4.7h0m1 5.2h0m-.3-2.4h0m.7 3.5h0m-2.1-6.8h0m1.1 3.9h0m-.5-1h0m.7 1.2h0m-1.2-4h0m.9 4.6h0m-.2-3.2h0m-1-.7h0" stroke="#60bf95" stroke-width="0.90" stroke-linecap="round" fill="none"/>
<path d="M398.4 82.2h0m.1 .5h0m-1-.5h0m1 .1h0m-.4-.5h0m1.6 .1h0m-1 .1h0m-1.5 .8h0" stroke="#60bf95" stroke-width="0.84" stroke-linecap="round" fill="none"/>
<path d="M448.7 20.8h0" stroke="#8c8c8c" stroke-width="4.00" stroke-linecap="round" fill="none"/>
<text x="454.50" y="23.03" font-size="6.2" text-anchor="start" fill="#231f20" >Stem</text>
<path d="M448.7 31.1h0" stroke="#f7b030" stroke-width="4.00" stroke-linecap="round" fill="none"/>
<text x="454.50" y="33.35" font-size="6.2" text-anchor="start" fill="#231f20" >Colonocyte</text>
<path d="M448.7 41.4h0" stroke="#1e5631" stroke-width="4.00" stroke-linecap="round" fill="none"/>
<text x="454.50" y="43.67" font-size="6.2" text-anchor="start" fill="#231f20" >Enterocyte</text>
<path d="M448.7 51.8h0" stroke="#8a321b" stroke-width="4.00" stroke-linecap="round" fill="none"/>
<text x="454.50" y="53.99" font-size="6.2" text-anchor="start" fill="#231f20" >Goblet</text>
<path d="M448.7 62.1h0" stroke="#2f9e4f" stroke-width="4.00" stroke-linecap="round" fill="none"/>
<text x="454.50" y="64.31" font-size="6.2" text-anchor="start" fill="#231f20" >Biliary</text>
<path d="M448.7 72.4h0" stroke="#60bf95" stroke-width="4.00" stroke-linecap="round" fill="none"/>
<text x="454.50" y="74.63" font-size="6.2" text-anchor="start" fill="#231f20" >Mesothelial</text>
<path d="M448.7 82.7h0" stroke="#f6d25a" stroke-width="4.00" stroke-linecap="round" fill="none"/>
<text x="454.50" y="84.95" font-size="6.2" text-anchor="start" fill="#231f20" >Enteroendocrine</text>
<path d="M216,84.6 L216,105.3 L237.5,105.3" fill="none" stroke="#3b4a6b" stroke-width="0.8"/>
<path d="M214.4,87.6 L216,84.6 L217.6,87.6 Z" fill="#3b4a6b"/>
<path d="M234.5,103.7 L237.5,105.3 L234.5,106.89999999999999 Z" fill="#3b4a6b"/>
<text x="213.10" y="94.95" font-size="5.9" text-anchor="middle" fill="#231f20" transform="rotate(-90 213.1 94.95)">UMAP2</text>
<text x="226.75" y="112.72" font-size="5.9" text-anchor="middle" fill="#231f20" >UMAP1</text>
<text x="620.60" y="16.29" font-size="7.2" text-anchor="middle" fill="#231f20" >Cell-type proportion</text>
<rect x="564.90" y="24.20" width="64.64" height="14.40" fill="#f7b030"/>
<rect x="629.54" y="24.20" width="6.83" height="14.40" fill="#8a321b"/>
<rect x="636.37" y="24.20" width="33.63" height="14.40" fill="#8c8c8c"/>
<rect x="564.90" y="40.00" width="53.60" height="13.90" fill="#f7b030"/>
<rect x="618.50" y="40.00" width="4.73" height="13.90" fill="#8a321b"/>
<rect x="623.23" y="40.00" width="4.73" height="13.90" fill="#60bf95"/>
<rect x="627.96" y="40.00" width="42.04" height="13.90" fill="#8c8c8c"/>
<rect x="564.1" y="19.7" width="111.69999999999993" height="38.599999999999994" fill="none" stroke="#8a8a8a" stroke-width="0.7"/>
<line x1="564.90" y1="58.30" x2="564.90" y2="60.30" stroke="#8a8a8a" stroke-width="0.7" />
<text x="564.90" y="66.58" font-size="6.6" text-anchor="middle" fill="#231f20" >0</text>
<line x1="585.92" y1="58.30" x2="585.92" y2="60.30" stroke="#8a8a8a" stroke-width="0.7" />
<text x="585.92" y="66.58" font-size="6.6" text-anchor="middle" fill="#231f20" >0.2</text>
<line x1="606.94" y1="58.30" x2="606.94" y2="60.30" stroke="#8a8a8a" stroke-width="0.7" />
<text x="606.94" y="66.58" font-size="6.6" text-anchor="middle" fill="#231f20" >0.4</text>
<line x1="627.96" y1="58.30" x2="627.96" y2="60.30" stroke="#8a8a8a" stroke-width="0.7" />
<text x="627.96" y="66.58" font-size="6.6" text-anchor="middle" fill="#231f20" >0.6</text>
<line x1="648.98" y1="58.30" x2="648.98" y2="60.30" stroke="#8a8a8a" stroke-width="0.7" />
<text x="648.98" y="66.58" font-size="6.6" text-anchor="middle" fill="#231f20" >0.8</text>
<line x1="670.00" y1="58.30" x2="670.00" y2="60.30" stroke="#8a8a8a" stroke-width="0.7" />
<text x="670.00" y="66.58" font-size="6.6" text-anchor="middle" fill="#231f20" >1.0</text>
<text x="560.80" y="34.54" font-size="7.05" text-anchor="end" fill="#231f20" >Adjacent normal</text>
<text x="560.80" y="49.78" font-size="6.9" text-anchor="end" fill="#231f20" >CRC</text>
<line x1="562.00" y1="31.40" x2="564.10" y2="31.40" stroke="#8a8a8a" stroke-width="0.7" />
<line x1="562.00" y1="47.00" x2="564.10" y2="47.00" stroke="#8a8a8a" stroke-width="0.7" />
<rect x="31.5" y="128.6" width="99.1" height="95.4" fill="none" stroke="#8a8a8a" stroke-width="0.7"/>
<line x1="29.50" y1="220.00" x2="31.50" y2="220.00" stroke="#8a8a8a" stroke-width="0.7" />
<text x="28.30" y="222.38" font-size="6.6" text-anchor="end" fill="#231f20" >0</text>
<line x1="29.50" y1="202.40" x2="31.50" y2="202.40" stroke="#8a8a8a" stroke-width="0.7" />
<text x="28.30" y="204.78" font-size="6.6" text-anchor="end" fill="#231f20" >0.2</text>
<line x1="29.50" y1="184.80" x2="31.50" y2="184.80" stroke="#8a8a8a" stroke-width="0.7" />
<text x="28.30" y="187.18" font-size="6.6" text-anchor="end" fill="#231f20" >0.4</text>
<line x1="29.50" y1="167.20" x2="31.50" y2="167.20" stroke="#8a8a8a" stroke-width="0.7" />
<text x="28.30" y="169.58" font-size="6.6" text-anchor="end" fill="#231f20" >0.6</text>
<line x1="29.50" y1="149.60" x2="31.50" y2="149.60" stroke="#8a8a8a" stroke-width="0.7" />
<text x="28.30" y="151.98" font-size="6.6" text-anchor="end" fill="#231f20" >0.8</text>
<line x1="29.50" y1="132.00" x2="31.50" y2="132.00" stroke="#8a8a8a" stroke-width="0.7" />
<text x="28.30" y="134.38" font-size="6.6" text-anchor="end" fill="#231f20" >1.0</text>
<line x1="36.00" y1="224.00" x2="36.00" y2="226.00" stroke="#8a8a8a" stroke-width="0.7" />
<text x="36.00" y="233.18" font-size="6.6" text-anchor="middle" fill="#231f20" >0</text>
<line x1="58.50" y1="224.00" x2="58.50" y2="226.00" stroke="#8a8a8a" stroke-width="0.7" />
<text x="58.50" y="233.18" font-size="6.6" text-anchor="middle" fill="#231f20" >0.25</text>
<line x1="81.00" y1="224.00" x2="81.00" y2="226.00" stroke="#8a8a8a" stroke-width="0.7" />
<text x="81.00" y="233.18" font-size="6.6" text-anchor="middle" fill="#231f20" >0.50</text>
<line x1="103.50" y1="224.00" x2="103.50" y2="226.00" stroke="#8a8a8a" stroke-width="0.7" />
<text x="103.50" y="233.18" font-size="6.6" text-anchor="middle" fill="#231f20" >0.75</text>
<line x1="126.00" y1="224.00" x2="126.00" y2="226.00" stroke="#8a8a8a" stroke-width="0.7" />
<text x="126.00" y="233.18" font-size="6.6" text-anchor="middle" fill="#231f20" >1.00</text>
<text x="81.00" y="126.01" font-size="6.7" text-anchor="middle" fill="#231f20" >ROC curves</text>
<text x="13.20" y="176.30" font-size="6.8" text-anchor="middle" fill="#231f20" transform="rotate(-90 13.2 176.3)">True positive rate</text>
<text x="81.05" y="243.75" font-size="6.8" text-anchor="middle" fill="#231f20" >False positive rate</text>
<path d="M36,220 L126,132" stroke="#3a3a3a" stroke-width="1.1" stroke-dasharray="3.6,2.0" fill="none"/>
<path d="M36.05,220.12 L36.57,209.66 L37.00,202.61 L37.43,196.22 L38.88,192.79 L40.66,189.01 L42.29,186.43 L45.02,183.08 L47.51,180.26 L51.21,176.21 L55.01,171.43 L58.62,168.78 L63.05,167.01 L68.20,164.75 L73.68,162.22 L79.39,160.79 L83.62,159.51 L88.22,156.73 L93.48,153.78 L99.08,150.71 L104.56,147.74 L109.74,144.15 L115.06,140.58 L120.52,136.45 L125.80,132.09" stroke="#1b9e8a" stroke-width="0.9" fill="none" stroke-linejoin="round"/>
<line x1="61.00" y1="210.90" x2="64.40" y2="210.90" stroke="#1b9e8a" stroke-width="0.9" />
<text x="66.20" y="213.06" font-size="6.0" text-anchor="start" fill="#231f20" >CRC (AUC = 0.69)</text>
<line x1="61.00" y1="218.70" x2="64.40" y2="218.70" stroke="#444" stroke-width="0.9" />
<text x="66.20" y="220.90" font-size="6.1" text-anchor="start" fill="#231f20" >Random (AUC = 0.50)</text>
<text x="223.80" y="129.16" font-size="7.1" text-anchor="middle" fill="#231f20" >Colon cell density</text>
<path d="M179.80,159 L179.80,159.00 C180.70,158.83 183.40,159.00 185.20,158.00 C187.00,157.00 189.10,155.17 190.60,153.00 C192.10,150.83 193.00,147.67 194.20,145.00 C195.40,142.33 196.75,138.83 197.80,137.00 C198.85,135.17 199.45,134.00 200.50,134.00 C201.55,134.00 202.75,135.67 204.10,137.00 C205.45,138.33 207.10,139.83 208.60,142.00 C210.10,144.17 211.60,147.83 213.10,150.00 C214.60,152.17 215.95,153.75 217.60,155.00 C219.25,156.25 220.60,156.92 223.00,157.50 C225.40,158.08 228.10,158.25 232.00,158.50 C235.90,158.75 244.00,158.92 246.40,159.00 L246.40,159 Z" fill="#97989a" style="mix-blend-mode:multiply"/>
<path d="M179.80,159.00 C180.70,158.83 183.40,159.00 185.20,158.00 C187.00,157.00 189.10,155.17 190.60,153.00 C192.10,150.83 193.00,147.67 194.20,145.00 C195.40,142.33 196.75,138.83 197.80,137.00 C198.85,135.17 199.45,134.00 200.50,134.00 C201.55,134.00 202.75,135.67 204.10,137.00 C205.45,138.33 207.10,139.83 208.60,142.00 C210.10,144.17 211.60,147.83 213.10,150.00 C214.60,152.17 215.95,153.75 217.60,155.00 C219.25,156.25 220.60,156.92 223.00,157.50 C225.40,158.08 228.10,158.25 232.00,158.50 C235.90,158.75 244.00,158.92 246.40,159.00" fill="none" stroke="#1a1a1a" stroke-width="0.7"/>
<path d="M183.40,159 L183.40,159.00 C184.60,158.67 188.50,158.25 190.60,157.00 C192.70,155.75 194.20,153.50 196.00,151.50 C197.80,149.50 199.60,146.75 201.40,145.00 C203.20,143.25 205.30,141.83 206.80,141.00 C208.30,140.17 209.05,139.97 210.40,140.00 C211.75,140.03 213.40,140.20 214.90,141.20 C216.40,142.20 217.75,144.12 219.40,146.00 C221.05,147.88 223.00,150.83 224.80,152.50 C226.60,154.17 228.10,155.25 230.20,156.00 C232.30,156.75 234.70,156.67 237.40,157.00 C240.10,157.33 241.90,157.67 246.40,158.00 C250.90,158.33 261.40,158.83 264.40,159.00 L264.40,159 Z" fill="#86cbb5" style="mix-blend-mode:multiply"/>
<path d="M183.40,159.00 C184.60,158.67 188.50,158.25 190.60,157.00 C192.70,155.75 194.20,153.50 196.00,151.50 C197.80,149.50 199.60,146.75 201.40,145.00 C203.20,143.25 205.30,141.83 206.80,141.00 C208.30,140.17 209.05,139.97 210.40,140.00 C211.75,140.03 213.40,140.20 214.90,141.20 C216.40,142.20 217.75,144.12 219.40,146.00 C221.05,147.88 223.00,150.83 224.80,152.50 C226.60,154.17 228.10,155.25 230.20,156.00 C232.30,156.75 234.70,156.67 237.40,157.00 C240.10,157.33 241.90,157.67 246.40,158.00 C250.90,158.33 261.40,158.83 264.40,159.00" fill="none" stroke="#1a1a1a" stroke-width="0.7"/>
<line x1="174.40" y1="159.00" x2="264.40" y2="159.00" stroke="#3a3a3a" stroke-width="0.8" />
<path d="M184.30,177.8 L184.30,177.80 C184.75,176.80 186.25,173.80 187.00,171.80 C187.75,169.80 188.20,167.47 188.80,165.80 C189.40,164.13 190.00,162.63 190.60,161.80 C191.20,160.97 191.65,160.97 192.40,160.80 C193.15,160.63 194.20,160.88 195.10,160.80 C196.00,160.72 196.90,159.97 197.80,160.30 C198.70,160.63 199.60,162.05 200.50,162.80 C201.40,163.55 202.30,164.72 203.20,164.80 C204.10,164.88 205.00,163.30 205.90,163.30 C206.80,163.30 207.85,163.72 208.60,164.80 C209.35,165.88 209.80,168.13 210.40,169.80 C211.00,171.47 211.60,173.55 212.20,174.80 C212.80,176.05 213.10,176.80 214.00,177.30 C214.90,177.80 217.00,177.72 217.60,177.80 L217.60,177.8 Z" fill="#97989a" style="mix-blend-mode:multiply"/>
<path d="M184.30,177.80 C184.75,176.80 186.25,173.80 187.00,171.80 C187.75,169.80 188.20,167.47 188.80,165.80 C189.40,164.13 190.00,162.63 190.60,161.80 C191.20,160.97 191.65,160.97 192.40,160.80 C193.15,160.63 194.20,160.88 195.10,160.80 C196.00,160.72 196.90,159.97 197.80,160.30 C198.70,160.63 199.60,162.05 200.50,162.80 C201.40,163.55 202.30,164.72 203.20,164.80 C204.10,164.88 205.00,163.30 205.90,163.30 C206.80,163.30 207.85,163.72 208.60,164.80 C209.35,165.88 209.80,168.13 210.40,169.80 C211.00,171.47 211.60,173.55 212.20,174.80 C212.80,176.05 213.10,176.80 214.00,177.30 C214.90,177.80 217.00,177.72 217.60,177.80" fill="none" stroke="#1a1a1a" stroke-width="0.7"/>
<path d="M187.00,177.8 L187.00,177.80 C187.45,177.30 188.95,176.13 189.70,174.80 C190.45,173.47 190.90,171.63 191.50,169.80 C192.10,167.97 192.70,165.13 193.30,163.80 C193.90,162.47 194.50,162.22 195.10,161.80 C195.70,161.38 196.15,160.97 196.90,161.30 C197.65,161.63 198.76,163.10 199.60,163.80 C200.44,164.50 201.19,165.42 201.94,165.50 C202.69,165.58 203.41,164.68 204.10,164.30 C204.79,163.92 205.33,163.12 206.08,163.20 C206.83,163.28 207.73,164.32 208.60,164.80 C209.47,165.28 210.10,165.88 211.30,166.10 C212.50,166.32 214.57,165.70 215.80,166.10 C217.03,166.50 217.51,167.23 218.68,168.50 C219.85,169.77 221.20,172.44 222.82,173.70 C224.44,174.96 226.27,175.42 228.40,176.05 C230.53,176.68 233.50,177.21 235.60,177.50 C237.70,177.79 240.10,177.75 241.00,177.80 L241.00,177.8 Z" fill="#86cbb5" style="mix-blend-mode:multiply"/>
<path d="M187.00,177.80 C187.45,177.30 188.95,176.13 189.70,174.80 C190.45,173.47 190.90,171.63 191.50,169.80 C192.10,167.97 192.70,165.13 193.30,163.80 C193.90,162.47 194.50,162.22 195.10,161.80 C195.70,161.38 196.15,160.97 196.90,161.30 C197.65,161.63 198.76,163.10 199.60,163.80 C200.44,164.50 201.19,165.42 201.94,165.50 C202.69,165.58 203.41,164.68 204.10,164.30 C204.79,163.92 205.33,163.12 206.08,163.20 C206.83,163.28 207.73,164.32 208.60,164.80 C209.47,165.28 210.10,165.88 211.30,166.10 C212.50,166.32 214.57,165.70 215.80,166.10 C217.03,166.50 217.51,167.23 218.68,168.50 C219.85,169.77 221.20,172.44 222.82,173.70 C224.44,174.96 226.27,175.42 228.40,176.05 C230.53,176.68 233.50,177.21 235.60,177.50 C237.70,177.79 240.10,177.75 241.00,177.80" fill="none" stroke="#1a1a1a" stroke-width="0.7"/>
<line x1="174.40" y1="177.80" x2="264.40" y2="177.80" stroke="#3a3a3a" stroke-width="0.8" />
<path d="M177.10,196.5 L177.10,196.50 C177.85,195.17 180.25,191.50 181.60,188.50 C182.95,185.50 184.15,181.00 185.20,178.50 C186.25,176.00 187.00,174.50 187.90,173.50 C188.80,172.50 189.85,172.33 190.60,172.50 C191.35,172.67 191.65,173.33 192.40,174.50 C193.15,175.67 194.20,177.50 195.10,179.50 C196.00,181.50 197.05,184.67 197.80,186.50 C198.55,188.33 198.70,189.17 199.60,190.50 C200.50,191.83 201.40,193.50 203.20,194.50 C205.00,195.50 209.20,196.17 210.40,196.50 L210.40,196.5 Z" fill="#97989a" style="mix-blend-mode:multiply"/>
<path d="M177.10,196.50 C177.85,195.17 180.25,191.50 181.60,188.50 C182.95,185.50 184.15,181.00 185.20,178.50 C186.25,176.00 187.00,174.50 187.90,173.50 C188.80,172.50 189.85,172.33 190.60,172.50 C191.35,172.67 191.65,173.33 192.40,174.50 C193.15,175.67 194.20,177.50 195.10,179.50 C196.00,181.50 197.05,184.67 197.80,186.50 C198.55,188.33 198.70,189.17 199.60,190.50 C200.50,191.83 201.40,193.50 203.20,194.50 C205.00,195.50 209.20,196.17 210.40,196.50" fill="none" stroke="#1a1a1a" stroke-width="0.7"/>
<path d="M177.10,196.5 L177.10,196.50 C177.85,195.33 180.25,192.33 181.60,189.50 C182.95,186.67 184.15,182.00 185.20,179.50 C186.25,177.00 187.15,175.58 187.90,174.50 C188.65,173.42 188.95,172.17 189.70,173.00 C190.45,173.83 191.50,177.25 192.40,179.50 C193.30,181.75 194.20,184.67 195.10,186.50 C196.00,188.33 196.90,189.92 197.80,190.50 C198.70,191.08 199.60,190.25 200.50,190.00 C201.40,189.75 202.15,189.08 203.20,189.00 C204.25,188.92 205.60,189.25 206.80,189.50 C208.00,189.75 208.90,190.17 210.40,190.50 C211.90,190.83 214.00,191.08 215.80,191.50 C217.60,191.92 219.70,192.50 221.20,193.00 C222.70,193.50 223.60,194.05 224.80,194.50 C226.00,194.95 226.30,195.37 228.40,195.70 C230.50,196.03 235.90,196.37 237.40,196.50 L237.40,196.5 Z" fill="#86cbb5" style="mix-blend-mode:multiply"/>
<path d="M177.10,196.50 C177.85,195.33 180.25,192.33 181.60,189.50 C182.95,186.67 184.15,182.00 185.20,179.50 C186.25,177.00 187.15,175.58 187.90,174.50 C188.65,173.42 188.95,172.17 189.70,173.00 C190.45,173.83 191.50,177.25 192.40,179.50 C193.30,181.75 194.20,184.67 195.10,186.50 C196.00,188.33 196.90,189.92 197.80,190.50 C198.70,191.08 199.60,190.25 200.50,190.00 C201.40,189.75 202.15,189.08 203.20,189.00 C204.25,188.92 205.60,189.25 206.80,189.50 C208.00,189.75 208.90,190.17 210.40,190.50 C211.90,190.83 214.00,191.08 215.80,191.50 C217.60,191.92 219.70,192.50 221.20,193.00 C222.70,193.50 223.60,194.05 224.80,194.50 C226.00,194.95 226.30,195.37 228.40,195.70 C230.50,196.03 235.90,196.37 237.40,196.50" fill="none" stroke="#1a1a1a" stroke-width="0.7"/>
<line x1="174.40" y1="196.50" x2="264.40" y2="196.50" stroke="#3a3a3a" stroke-width="0.8" />
<line x1="174.40" y1="196.50" x2="174.40" y2="198.50" stroke="#3a3a3a" stroke-width="0.6" />
<text x="174.40" y="204.98" font-size="6.6" text-anchor="middle" fill="#231f20" >0</text>
<line x1="192.40" y1="196.50" x2="192.40" y2="198.50" stroke="#3a3a3a" stroke-width="0.6" />
<text x="192.40" y="204.98" font-size="6.6" text-anchor="middle" fill="#231f20" >0.1</text>
<line x1="210.40" y1="196.50" x2="210.40" y2="198.50" stroke="#3a3a3a" stroke-width="0.6" />
<text x="210.40" y="204.98" font-size="6.6" text-anchor="middle" fill="#231f20" >0.2</text>
<line x1="228.40" y1="196.50" x2="228.40" y2="198.50" stroke="#3a3a3a" stroke-width="0.6" />
<text x="228.40" y="204.98" font-size="6.6" text-anchor="middle" fill="#231f20" >0.3</text>
<line x1="246.40" y1="196.50" x2="246.40" y2="198.50" stroke="#3a3a3a" stroke-width="0.6" />
<text x="246.40" y="204.98" font-size="6.6" text-anchor="middle" fill="#231f20" >0.4</text>
<line x1="264.40" y1="196.50" x2="264.40" y2="198.50" stroke="#3a3a3a" stroke-width="0.6" />
<text x="264.40" y="204.98" font-size="6.6" text-anchor="middle" fill="#231f20" >0.5</text>
<text x="219.40" y="213.65" font-size="6.8" text-anchor="middle" fill="#231f20" >Distance to HEOCA</text>
<rect x="187.30" y="219.30" width="4.30" height="4.30" fill="#6d6e6f"/>
<text x="194.60" y="223.84" font-size="6.5" text-anchor="start" fill="#231f20" >Normal</text>
<rect x="222.20" y="219.30" width="4.30" height="4.30" fill="#86cbb5"/>
<text x="229.40" y="223.84" font-size="6.5" text-anchor="start" fill="#231f20" >Cancer</text>
<text x="171.70" y="150.30" font-size="6.4" text-anchor="end" fill="#231f20" >Stem</text>
<text x="171.70" y="170.60" font-size="6.4" text-anchor="end" fill="#231f20" >Goblet</text>
<text x="171.70" y="188.70" font-size="6.4" text-anchor="end" fill="#231f20" >Colonocytes</text>
<text x="248.8" y="154.6" font-size="6.7" letter-spacing="-0.4" fill="#231f20"><tspan font-style="italic">P</tspan> = 3.9 × 10<tspan font-size="4.2" dy="-3.0" letter-spacing="-0.2">−11</tspan></text>
<text x="248.8" y="174.1" font-size="6.7" letter-spacing="-0.4" fill="#231f20"><tspan font-style="italic">P</tspan> = 1.1 × 10<tspan font-size="4.2" dy="-3.0" letter-spacing="-0.2">−4</tspan></text>
<text x="248.8" y="193.1" font-size="6.7" letter-spacing="-0.4" fill="#231f20"><tspan font-style="italic">P</tspan> = 1.3 × 10<tspan font-size="4.2" dy="-3.0" letter-spacing="-0.2">−10</tspan></text>
<text x="333.00" y="120.35" font-size="6.8" text-anchor="middle" fill="#231f20" >Colonocytes</text>
<text x="400.40" y="120.35" font-size="6.8" text-anchor="middle" fill="#231f20" >HEOCA distance</text>
<text x="467.80" y="120.35" font-size="6.8" text-anchor="middle" fill="#231f20" >Disease state</text>
<path d="M330 152.3l.1 .9m7.6-20.2l-.5 1.1m22 23.1l.3 .2m-7.3-7.2l0 1.1m-21.9-13.5l-1.3 0m18.9 6.3l.5 1.4m-39.1-4.9l-.3 .3m22.8 12.2l.4 .3m23.8 12.2l1 .7m-36-33.8l.6 .1m14.5 34.8l.9 1.1m4.7-9.4l.3 .1m-6.6 2.3l-.8 .8m-10.3-3.5l-.7 .3m25.7 8.9l-.3 .7m5.4-7.7l-.7 .7m-11.8-15.4l.6 .9m-26.9-1.5l-1.3 .4m37.6 21.1l-.6 .1m-14.5-27.9l.5 0m4.3 25.7l-.3 .5m-2-3.2l-1.1 .8m-8.1-7.5l.4 .9m23.8 7.9l.1 1.1m-38 4.2l-.9 .1m33.8-29.9l-.6 .3m-34.6 .5l.4 .2m19.2 19.8l-.8 1.2m7.8-11.6l-.1 .7m-14.6 15.9l1 .8m32.4-17.3l.8 .6m-33.1 13.7l0 1.1m13.1-9.5l-.9 .5m7.1 8.3l.4 .6m4.9-20.6l.7 .3m-36.7 13.1l-.4 0m17.8 3.9l-.3 .4m-18-28.9l-1.4 0m-3.7-7.3l.1 1.2m45.3 36.9l-1 .4m-26.7 4.5l-.7 1m21.1-26.3l.7 .2m-24 11.8l1.1 1m16.6-16.5l-.2 .9m-1.2 17.8l-.3 0m-4.9-9.9l-.3 1.5m-7.1-.6l.3 .6m.2-3.1l.7 .6m28.2 12l-1.3 .1m-18.9-15.7l-.1 1.5m21.2 14.7l1.3 .5m-10.9-6.1l.7 .8m-13.2-2.5l-.4 .4m-17.5 19.6l-.3 .1m32.1-18.5l.6 .5m-28.1-4.3l-.8 .2m3.3-23.5l.4 .1m10.7 19.9l.7 1m8.5 9.7l.7 .3m10-13.4l.4 .6m-41.3 5.8l-.2 1.3m21.1-21.2l-.6 .2m-.4 19.9l-.6 1.1m7.9-4.9l-.7 .9m14.5-5.2l-.7 1.1m-5.5 20.7l-1.1 .1m-15-6.4l.2 .8m-21.7 .8l.2 .5m9.1-32.8l-.4 .3m25.9 9.9l-.7 .5m-27.6 29.1l.5 .8m39.2-21.6l1.4 .2m-10.3-5.3l0 .6m10.7 13.5l.9 0m-36.1 7.1l-.2 .5m25.8 2.1l.6 .2m-20-19.7l-.4 1.3m8.2-10.4l-.1 .7m-15.8 4.5l.4 .4m22-3.6l-.2 1.1m11 3.9l-.5 1.1m-5.2-3.2l.1 .3m-24 15.8l-.9 .7m-3.1-19.1l.7 .2m9.5 22.8l-.2 .5m2.4-22.9l1 .5m19.2 9.3l-.1 .6m-49.5-19.3l-1.1 .2m16.8 25.1l.4 .9m36.7-4.6l.3 1m-15.7 7.1l.1 1.5m8.4 3.5l.2 1m3.6-17.9l.3 1.4m-10.1 2.3l.6 .8m12.7 2.7l.3 1.2m-32.7-17.1l.3 0m-11.1-3.2l-.5 .2m36.4 2.8l1.2 .7m-12.9-9l.4 .1m4.9 6.1l-1.1 .5m4.4 10l-1 .5m-18.5 12.7l-.5 .4m3.2-28.8l0 .3m6.2 25.1l-.5 .2m-19-28.8l-1.1 .6m-5.2 14.6l.6 .1m11.9-6.1l-.1 .3m28.6 12.7l.1 .8m-1.3-11.6l.6 .4m-33.7 .2l-.4 .5m6-12.8l.5 1.1m.9-4.7l.6 1m18.1 15.6l-.5 .2m-4.2 8l-.7 .1m-2 6.9l-.2 .3m-4.8-6.2l.3 .5m22.2-1.6l-.3 .5m-23.7 2.1l.4 .9m26.5 7.1l-.3 .7m-29.7-26.2l-.7 .3m12.6 14.4l-.7 .1m.6-3.7l.3 .6m-29.3-2.6l0 .5m34.3-10.8l.4 .6m2.1 29.8l-.2 .8m-2.8-12.1l-.4 .3m-.7-10.8l.5 1.3m-17.3 8.9l-.8 0m18-3.7l.5 .2m9.3-3.4l-.6 .4m-3.6 12.6l-1.1 .7m-11.2-26.9l.4 1m12.9 6.1l.3 .6m-28.1 8.3l1.1 .8m-9-10.1l.9 .5m37.4 13.5l-.1 .4m-.9 2.7l-.4 .7m-25.4-24.4l-.2 .9m3.7 17.9l-.5 .1m17.1-14.6l-.8 0m4.2 10.2l1.3 .3m-6.2-13.7l.1 .9m-12.7-1.3l-1.1 .5m-16.5 7l-.5 1.3m2 11.1l-.4 .4m24.4-18.5l-.3 .4m-15.2-4.6l-.7 1m20.4 1l.8 1.1m-18.7 25.1l.1 .4m1.7-21.1l-.9 .5m-2.3 1.2l-.4 .6m2.2 22.8l-.9 1.2m24.6-6.3l.8 .3m-18.1-31.5l.4 .2m-.2 8.5l.6 .6m25.5 11.3l-.5 1.3m.3 4.8l.8 .1m-28 .5l-1 .2m-4.4-18.5l.5 .5m10.6 .3l-.1 1.2m13.9-.5l-1.1 .7m-10.7 10.8l-.1 .3m17.8 10.1l1.2 0m-30.6-3.8l-.4 .1m21.1-12.4l.3 .8m9.5 5.4l.6 .5m-33.4 5.3l0 1.1m12.2-9l-.3 1.3m-18.8-24.8l.4 1.1m9.6 27.4l-1.4 .1m29.4 3.6l-1.1 .2m-9.7-8.2l-1.2 .3m-25.8-25l.5 1.1m40.6 31.4l-.7 .6m-26.8-25.7l.2 .9m-.7 19.3l-.4 1m-25.7-25.6l-.3 0m37.7 21l-.9 .9m-12.4-15.6l.4 .3m-11.9 12.3l.3 .5m22.5-11.8l.9 1m.3 26.3l1.2 .3m-19.3 5.9l.2 .4m24.4-7l-.6 .5m-28-10.2l.1 1.3m-4.7 13.3l-.7 .2m43-22l.6 .2m-2 2.3l.5 .8m-36.3 14.1l.1 1m31.2-17.9l-1.5 .3m-37.3-15.3l.3 .2m25.6 9.9l-.3 .6m-8.7-2.5l1.1 1m-18 8.1l.3 .4m23.6-18.5l.3 .3m5.6 9.5l0 1.4m-6.4 13.2l.9 .3m-6.2 .2l.5 .6m.8-11.7l-.9 .2m-.4-7.1l0 .7m-16.2-4.6l-1.2 .9m42.2 23.3l-.8 1m-6.3-4.9l-1 .2m-33.5 4.2l-1 0m34.1 4.6l-.3 1.4m-7-16.5l.1 .3m3 1l.3 .4m-2.9 8.3l.7 1.2m16.6-4.6l-.5 .5m-23.2-8l.4 .4m-10.7 2.3l-.3 .7m4.7 7.5l-.2 1.1m-10.1-8.5l0 .5m22.7 6.7l1.1 .2m-20.8-23.9l0 .8m5.5 22.4l.7 .9m30.5-1.7l.2 1.1m-6.6-14.8l-.8 1m-4.3 8.7l-.6 .8m-23.4 6.8l.6 .7m18.6-23.2l.1 .5m-3.3 8.3l-1 0m-16.4 11.9l-.6 .4m1.2 8.9l.4 .4m-11.4-40.9l-.4 .5m5.7 31.3l.7 1.2m19.7-6l.4 .4m-7.8-9.6l-1.1 .3m-3.2-10.7l1.1 .2m34.2 18.9l.4 .1m-29.8-16.1l.3 .7m2.2 .5l-.7 .7m9.1 18.9l.2 .7m-9-12.3l-.1 1.2m10.3 10.3l.1 .8m-7.5 8.9l-1.3 .3m-26-32.9l-.1 .9m49.3 8.8l-.3 1m-43.2 .5l-.3 .5m44.9 4.4l-.3 .6m-7.9 7.9l.3 .1m-28.3-24l.9 .6m-5.5 .4l-.2 .3m42.2 19.8l.4 1.1m-28.1-15.8l.3 .1m-9.5-12.3l-.5 .1m10.2 18l-.1 .6m-17.6-2.2l-.4 1.1m-5.5-22.8l-.4 1.3m16.9 4l0 .8m12 11.7l-.5 .1m-22.3 0l-.3 .3m45.4 17.5l.4 .9m-41.2-20.2l1.1 .7m-2.8 5.3l-1.3 .6m27 2.8l.2 .4m-31.8 2.5l.2 .4m30.7 6l-.2 1m11.1-3.6l.8 1m-15.7-9.7l.5 .1m-.2 8.8l-.5 .4m-8.1-9.5l.5 1.3m1.1-6.8l.6 1.4m-9-14.5l.3 .1m17.7 16.7l-.4 .3m-9.9-9l.9 .7m26.3 15.6l-.9 1.1m-24.4-25.7l-1.3 .2m15.8 9.9l-.7 1m13 12.9l-.6 .8m-20 7.7l-1.4 .6m3.3-22.1l-1.1 .6m2.8 24.6l-.3 .5m-20.3-38.7l-.6 .2m25.8 27.9l-.8 .7m-3.1-4.7l-.4 .2m-13.8-5.5l.8 .9m-4.2-16.7l-.5 0m21.9 33.9l.4 .3m-34-30.5l-.8 .2m35.6 10.4l.1 .7m-18.4 12.1l.5 .8m-21.9-14.2l-.3 .2m43.5-2.4l.3 .1m-4.3 18.1l.1 .7m-26.6-15.8l-.3 .5m21.5-6l.2 .6m11.4 .7l0 .3m-4.9 24.1l-.7 .8m-18.1-16.3l-.1 1.3m16.6 2.9l-.3 .1m-15.5-12.5l.8 .5m-2.4-5.7l.7 .2m-11.1-9l-1.2 .1m13.1 33.1l0 .6m-14 10.4l-1.3 .3m36.7-7.5l1.1 .3m-21.6 3.4l.2 1.1m9.8-11.4l-.2 .3m13.6 1.3l.1 .5m-25.6-2.8l.3 .1m23.4-3.7l-.3 .7m-29.8-28.4l1.1 .2m31.4 30.5l-1.2 .8m-15.6-2.3l-.3 .7m-.9 10.3l-.9 0m7-13.3l-.3 .3m-7.3 1.3l1.3 .6m-4.6-19l.1 .4m-10.9 20l-1.4 0m33.7 8l.1 .3m-9.6-6.4l-.7 .7m14.5 1.9l-.1 .4m-14.8-27.1l-1 .6m-25-4.6l-1.4 .4m-2.8 29l.2 .2m-2.7-33.3l-.3 .8m31.9 36.5l-1.3 .4m9.7-.5l.2 .3m-3.9-17.4l.5 .6m-.9 20.5l.7 .8m10.4-20.3l-.1 .4m-30.3 15.7l-.8 .4m21.9-13.2l.8 .4m1.4 1.7l-.1 .5m4.9 6.6l-.2 .6m-2.2-4.2l.7 1.3" stroke="#8d8d8d" stroke-width="1.12" stroke-linecap="round" fill="none"/>
<path d="M309.7 139.1l-.9 .6m6.3-3.7l.1 .8m29.4 2.9l.2 .3m-28.6 30.4l-.8 0m2.9-41.7l-.4 .3m18.2 17.5l-.3 .3m-7.6-12.3l-1.3 .1m-5.3 34.5l.4 1.3m-3-7.1l.2 .3m-1.1-9.1l.2 1.4m20.3-10.7l1.4 .2m-22.1 14.4l-.9 .5m-1.1-35.9l.1 .4m-1.7 17.7l.7 .3m16.7 18.3l-.4 0m6.2-6.2l-.6 1.4m-7.5 10.4l-.2 .2m9.3-18.6l-.5 .7m-16.6 9.4l1.2 .7m3.6-5.6l.8 .4m-13.1-7.2l.6 .5m25.4 1.7l-1.3 .7m-26.3-23.7l.2 1m18.8 5.8l.1 1.2m-16.9 3.6l-.5 .8m2 22.4l-.5 1m-6.5-15.5l-.7 .6m.9-11.9l.7 .9m23 18.9l-.9 .1m-.8-24.8l-1.2 .8m1.4 9l-.5 1.3m-25.3-7.6l-.4 .6m19.3 21.3l-.3 .3m9.1-19.3l-.1 .8m-7.5 7.6l.5 .3m-14.3-9.3l.3 .3m-3.9-7.1l-.1 .9m14.7 17.6l.2 1m7 13.1l.4 .3m-3.2-7.5l-1.3 .1m-7 15.9l-1 .8m21.3-9.7l.1 .3m-24-19l1 1m24.2 21.4l-.4 1.2m-26.8-18.6l0 1m28.2 3.6l-.4 .5m-34.5-21.3l.5 1.3m32.6 14.1l.9 .2m-29.3-.9l.1 .6m-3.7-9.4l-.2 .4m28 18.1l0 .6m-11.7 5.3l.4 .1m-5.3 3.2l-.7 1.3m-9.7-32l.6 .2m36.4 7.7l-.6 .8m-20.1-.9l.2 .7m21.6 13.9l.9 .8m-13.6 5.2l.7 1.3m-18.8-18.8l-.4 0m-7.7 1.7l-.3 .1m3-14.2l.9 .8m26.7 1.2l.3 .4m-25.2 4.7l-.8 .4m7.1 10.5l-.2 .2m2.3 13l-.4 .1m14-13.7l-.6 .3m-12.6-23.5l.1 1.2m2.7 30.3l.3 .8m.7 .4l-.2 .8m-2.4 5.2l.4 .2m19.3-6.3l.4 1.2m-26.1-29.6l.1 .4m27.7 34.5l-1 .2m-28.4-38.9l-.3 1.1m7.7 42.4l.1 .4m27.7-17.2l-.6 .3m-13.3 11.5l-.1 .4m-21.1-19.1l.3 .9m-1.8 1.8l-.1 .7m-5.8-21.1l0 .8m25.9 5.1l.2 .6m-17.5 25.6l-.4 .1m4.8-21.9l-1.2 .4m37.6 5.8l.5 .4m-43.6-11.2l-.6 .5m23.9-.8l-1.1 .3m-16.7 20.9l-.8 0m15.1-5.7l-.2 .6m-15.6 13.5l.8 .9m-1.1-27.9l1.1 .8m11.2 23.5l-.9 .2m-15.2-10.3l.5 1m-.8 10.6l-.2 .5m-1.1-39.8l.2 .8m6.2 39.4l-.9 .3m16.8-.6l.6 .3m-29.1-24.9l0 .6m1.1 4.3l1.1 .9m17.8-6.6l.3 .1m-8.3 12.9l.2 1.4m8.3 3.7l.5 1m-13-6.2l.4 .3m15.8-12.7l-1.1 0m13.8 2.8l.5 0m-17.4-6.4l.9 .5m.8 15.2l-.4 .5m17.6 5.8l.5 .4m-25.2-16.9l.3 0m-4.6 17.7l-1.3 .2m2.3-3.1l.2 .8m-10.1-13.7l0 .6m5.6 .4l1 .5m3.6-16.4l.1 .5m8.6 13.5l.1 .3m-14.7 7l.6 1.3m.2-17.5l-.3 .5m14.2 1.9l-.4 .9m-2.3 32.4l-.7 .9m23.6-19l.5 .5m-33-1.5l.4 .1m-7.5-13.5l-.6 .5m19 20.9l.3 .2m-19.3-20l-.4 0m28.9 10.2l.7 1m-17.3-.8l.2 .3m21.1-11.3l0 .7m-20.8-12.2l-.6 .2m-9.7 6.6l-.5 0m33.4 22.7l-1.3 .3m11.3 4.9l.5 0m-41.1-33.5l-.5 .5m5.7 45.1l-.1 1.3m11-14.4l-.3 .1m-17.2-19.2l.9 .7m24.8 17.1l.4 .2m-11.6-13l0 .8m-1.6 15.8l-.8 0m5.7-2.4l.7 .8m-2.4-4l-.5 1.3m-7.7 8.8l-1.3 .3m3.9-10.4l-.2 1.2m5.1-29.2l.6 1.2m16.6 15.8l.3 .6m-11.8-16.2l-1 .2m-5 9.2l.9 .5m2.8 25.7l.1 .9m-8 .9l.2 1.4m7.3-30.9l-.6 .1m16.3 20l.1 .4m-12.9-16.4l.6 .9m-23.5 4.3l-.3 .5m17.5-16.9l-.3 .3m-11.2 25.7l-.4 .4m21.4-6.3l-.5 .4m-26.9-16.7l-.2 .8m-2.3-4.1l-.8 .9m9.1 18.6l.6 .2m-5-14.2l-.7 .2m20.6 11l.2 .8m6.6-4.8l.7 .2m-14 4.1l-.6 .6m3.5 5.3l.6 .8m-18.4-26.8l.8 .9m20.4 38.6l.7 .9m0-39.1l-.3 .3m13.3 21.8l.6 .2m-8 14.8l-.8 .3m-7.6-3.4l-.3 .4m11.5-30.1l.6 .4m-13.5 19.3l-.7 0m20-18.1l-.7 .7m-13.1 12.4l-.3 .3m-8.2 18.2l-.6 .8m14.6-27.2l-1.2 .2m-18.9 10.2l1.1 .5m4.2 16.1l.4 .4m-2.6-29.5l.8 .4m.3-.8l0 1.3m-6.4 28.3l-.3 .9m4.5-21.9l-.9 1.1m16.4 4.8l1.1 1m-25.5-3.1l-.1 .7m.2-2.7l-1 .1m4.2-9.7l-.8 1.1m-6.9-13.1l-1.3 .1m24.5 13.7l1.2 .1m-9.5 12.8l.5 1m-4.9-19.2l.6 1m2.8-1.8l-.7 0m-2.2-4.2l-1.1 .4m.6 10.5l.3 .4m-3.8 8.8l-.3 1.2m-2.1-16.8l.7 1m7.2 28.7l-.4 .8m-1.7-41.2l.6 .1m9.3 44.6l.2 .9m8.8-26.9l0 .6m-16 22.6l1 1m-.4 3.7l0 .7m-4.7-7.1l-.6 1.1m7.3-15.2l1.3 .1m15.8-14.6l.4 .1m-10.3-.4l-.4 .1m-14.1 16.2l-.7 .9m10.3 10.2l-.5 .7m6.9-34.7l-1.4 .2m-20-2l-.5 .7m4.6 17.5l-.5 .6m.5-19.7l.4 0m14.5 21.3l-1.3 .2m6.8 6l-.4 0m-4.6 15.4l-.9 .7m3.7-27.6l.1 .7m9.9 1.7l-.6 .6m-8 23.5l.5 1.3m-14.5-6.9l-.7 0m11.5-.2l-.2 .5m-12.3 7l-.3 1.2m19.2-22.7l-.5 1.3m-14-8.3l.7 .1m11.5 17.2l-1.1 .7m-14.3-12.1l.2 1.3m-2.8-7.4l1.1 .9m20 10.8l.7 .1m-21.6-16.1l-.4 .6m4.6 .4l.7 0m18.8-1.2l-.8 .4m2.4 .5l-1.2 .5m-16.5 29.2l-.4 0m-8.8-24.3l.9 .3m16.1 7.6l-.3 1m12.3-18l-.5 .5m-25.4-10l.1 1.4m10.2 39.5l-.3 .4m-10.9-30.6l-1 .5m1.2 24.6l-.3 .1m32.8-.2l-.4 .2m-33.7-35.5l-.7 .3m-6.4 3.6l.4 .2m8.9 27l.8 .5m22.8-23.5l1.4 0m-14.6 26.5l-.8 1.1m-18.7-22.9l-.9 .9m6.8 5.2l1.1 .5m6.6-4.7l.7 .5m-5.3 11.6l.3 0m4.1 22.4l1.1 .2m7.2-34.9l.7 1m1.6 17.9l-1.1 .9m-13.6-4.4l.8 .1m-2 5.7l-.8 1.2m-6.3-33.7l.2 1.3m9.6-4.9l.9 .2m22 22.4l0 .6m-27.4-17l-.4 1.2m17.1 6.3l-.5 .2m2.7-8.6l-1.1 .4m-14.2 15.8l1.4 .2m.6 5.2l1 .6m11.2-22.9l1.1 .7m.7 26.4l.2 .5m-5.3-.3l.2 .7m-1.8-28.1l-.6 1.2m-16.1 5.9l1 .9m14.3 10.4l.5 .6m-4.8 12.5l-.5 1.1m3.3-28.7l1.2 .3m6 20.6l.8 .1m-6.1 16.6l-.1 .4m-15.1-26.8l-1 0m4.7 6.2l-.1 1.2m-.6-26.1l-.7 .1m11.3 41l1 0m-16-29.7l-.3 1.1m19.9 11.9l.1 .6m-15.8-17.2l-.1 .3m-.4 7.7l-.5 1m1.5-16.9l.1 .3m9.6 16.4l.9 .4m22.3 21.3l.6 .4m-15-.2l-1.2 .8m-9.3-26.6l-1 .2m-1.3 22.4l.3 .2m-11.4-16.7l.3 .9m-.3-6.8l.3 .1m28.5 10l-.6 .6m-3.3 11.9l-.3 .1m-14.7-.2l-.5 .4m40.9-11l0 .7m-29.9-3.6l-.4 1.4m-9-2l-.2 .7m-12.6-19.7l-.9 1m2.2 6.5l-1.1 .9m28.6 21l-.2 .4m17.9 8.6l1.2 .2m-26.2-30.7l.6 .5m27.9 7.3l.4 .6m-35.9 14.6l.4 .6m-8.9-5.4l-.6 .4m23.7-19.5l.8 1.1m-14.4 12.4l.6 .7m-13.5-7.9l-1 .7m35.4-5.3l.6 .8m-15.2 12.9l.8 1.1m-4.4 11.5l.2 .2m-10.8-37.4l-.5 1.3m8 8.2l.3 .1m11 9.5l-.7 .1m19.7 5.7l1 .1m-27.1 19.4l.2 .3m-16.5-28.9l.2 1m20.2 22.3l-.5 .3m-2.2-1.1l-.2 .9m-10.9-16.9l-.1 .4m28.3-3.7l1.3 .5m-33-15.1l-.5 1.1m10-.6l1.3 .1m-15-1.3l.1 .5m12 36.5l-.5 .9m-12.5-33.8l-1.3 .7m32.2 2.4l-.1 .8m-21.8-13.4l-1.1 .8m-1.9-.8l.7 .7m131.6 20.5l.3 .7m-2.1-4.4l.7 .4m13 18.3l.7 0m-13.9-21.8l-1 .7m4.9 24.5l-.6 .6m9.1 1.3l-1.3 .2m-12.5-17l1 .7m13.8 10.3l-.3 .2m-6.3 8.7l.2 .5m-1.7-10l.4 1.2m3.3 5.7l.1 .4m-11.2-28.1l1.1 1m.7 5.5l.5 1.2m1.3-10.3l1.2 .2m9.9 28.3l.9 .9m-14.6-18.8l-.1 1.3m5.8 12.8l-.2 .7m-3.1-13.8l-1 1m-2.1-4.1l-.4 1.3m1.8 5.5l.2 .5m11.1 11.3l.4 .2m-11.8-17.1l-.2 .5m10.4 27.4l.6 .9m3.2-1.6l-.9 .9m1.3-8.4l-.2 .3m-.5 2.2l-.7 .2m-2.9-6.8l.5 .7m3.3 9l-.6 .8m-3.8-3l.2 .4m-8.7-30.3l.9 .5m12.3 31.1l.9 .3m-13.3-30.6l-.5 .2m-1.6 5.8l-.3 .2m6 22.2l.4 .2m-7.7-26.7l1 .5m13.4 15.2l.1 .8m-13.8-13.6l-.1 .6m8.1 12.2l-1.4 .1m.8 6.7l1 .4m-6.9-18.9l.7 .4m9.4 12.1l-.3 .4m-2.7 8.4l.8 .4m-7.5-28.5l.6 .5m13.7 29.3l-.4 1.2m-12.4-19.2l1.4 .5m5.2 21l.5 .1m2.9 .9l.4 .7m-4.3-10.5l-.5 1.3m-8-24.4l.2 .3m10.4 29.8l.1 1.4m-11.2-27.8l.6 .1m8.5 25.4l-.4 .3m4.8-11.3l.8 0m-8 6.1l.2 1.4m4-4.8l-.5 .4m5.8 8.8l-.1 .3m-7.5-3.9l0 .8m-7.1-29.2l-.8 .1m14.1 25.1l-.8 .1m.7 9.7l.6 .8m-13.7-30.7l-.1 .3m8.4 18.4l.6 .3m4.8 9.1l-1.3 .1m-5.1-.9l-.7 .7m-6.2-26.8l.8 .4m-2.7-.1l-1 .6m4.1 .6l.4 .8m-5-10.1l.7 .5m2.4 13.4l-.7 .4m9.3 21.4l.1 1m2.1-6.4l.5 .4m2.3 3.6l.4 .7m-8.9-3l-.3 .4m7.5 1.9l.3 1.2m-.9-3.2l0 1" stroke="#03967f" stroke-width="1.12" stroke-linecap="round" fill="none"/>
<path d="M404.8 136.7l.2 .4m1.7 29.2l1.2 .8m-20.6-15.8l-.5 .3m31.8 11.8l-.6 1.3m-33.8-4.8l-.9 .1m35.2-14.8l-.4 .1" stroke="#91c2dd" stroke-width="1.12" stroke-linecap="round" fill="none"/>
<path d="M385.5 128.7l1.1 .5m-10 6l.4 .3m17.3 17.2l.6 .9" stroke="#7fb7d8" stroke-width="1.12" stroke-linecap="round" fill="none"/>
<path d="M387.2 142.2l-1.1 .7m16.6 14.3l.4 .6m2.2 2.3l-.2 1.1m-6.6 8.4l-.6 .6m25.2-11.4l-.3 .9m-34.9-4.2l-.8 1.1m20-2.2l-1.1 .1" stroke="#6aaad1" stroke-width="1.12" stroke-linecap="round" fill="none"/>
<path d="M427.5 154.6l-.4 .9m-15.1-7.2l-.4 .4m4.2 14.5l.5 .3" stroke="#69aad1" stroke-width="1.12" stroke-linecap="round" fill="none"/>
<path d="M390.1 143l.8 .7m37.1 17.1l.7 .2m-29.5-22.8l.7 .7" stroke="#9cc9e0" stroke-width="1.12" stroke-linecap="round" fill="none"/>
<path d="M420.9 160.6l.7 .1m-21.1-1.8l-.6 .8m20.3-3.8l1.3 .3m-37.8-12.5l.6 .5" stroke="#bedaec" stroke-width="1.12" stroke-linecap="round" fill="none"/>
<path d="M396.4 167.1l-.1 1m9.8-11.9l-.5 .8m-19.8-2l-.3 .8m-3.2-23.1l-.2 .4m7.5 4.6l-.1 .4m3.5 26.2l-.1 .3m17.9-6.9l-.6 .7m-33.4-32.2l-.5 .8m12.4 29.4l0 1m36.6-1.1l-1.1 .7m-9.5-12.9l.2 .3m-39.8-17.1l-.1 .7" stroke="#9fcae1" stroke-width="1.12" stroke-linecap="round" fill="none"/>
<path d="M403.2 158.4l-.1 .6m-7.2 4.9l.8 .3m-.9-17l-.4 .6m1.5 18.6l-1.3 .1m13.1-3.7l.6 .2m-10.7-17.2l-.7 .4" stroke="#9ecae1" stroke-width="1.12" stroke-linecap="round" fill="none"/>
<path d="M378.7 146.1l-.6 .1m16.4-18.3l.3 .4m7.5 29.3l-1.1 .1m-18.4-25.7l1.2 .3" stroke="#70aed3" stroke-width="1.12" stroke-linecap="round" fill="none"/>
<path d="M404.4 150.2l1.1 .7m-1.2 10.7l1.1 .9m18.1-16.4l1.4 .6m-31.1 18.5l-1.2 .3" stroke="#a8cfe4" stroke-width="1.12" stroke-linecap="round" fill="none"/>
<path d="M376.2 150.5l-.4 .9m21.8-1.7l1 .3m27.3 8.7l-.3 .4m-11.8-17.5l.1 .4m-19.8 25.4l.3 .6m2.7-38.5l.3 .6" stroke="#c3dded" stroke-width="1.12" stroke-linecap="round" fill="none"/>
<path d="M407.2 148.2l.5 .7m1.9-13.3l.4 1.4m-20.2 15.4l0 .3m-5.4-22.5l.2 .5m7.8 21l.6 1" stroke="#96c5de" stroke-width="1.12" stroke-linecap="round" fill="none"/>
<path d="M413.4 153.7l-.3 .9" stroke="#64a6d0" stroke-width="1.12" stroke-linecap="round" fill="none"/>
<path d="M415.4 138.4l.2 1.2m-5.6-3.7l0 .4m-6.6 14l.6 0m-24.3 9l-.4 1.2m4.1-31.9l-.8 .2m42.6 17.4l-.7 .7m-26.7 10.9l-.9 .2m-5.3 6.2l-1.1 .7m4.3-24.4l-1.3 .5m7.9 18.1l.8 .2m-1.7 2.8l-1 .1" stroke="#b0d3e7" stroke-width="1.12" stroke-linecap="round" fill="none"/>
<path d="M407.1 143.3l1 .1m17.7 18.4l-.3 0m-38.2-8l.4 .4m-5.9-4.7l.3 .8m-3.1 .5l.5 .7m33.9 10l.3 .8m-29.1-3l.8 .3m40.6-3.8l0 .6m-25.8 1.7l.4 1" stroke="#cbe1f0" stroke-width="1.12" stroke-linecap="round" fill="none"/>
<path d="M412.6 155.2l.2 1.2m3.1-6.8l-.4 .9" stroke="#7eb7d7" stroke-width="1.12" stroke-linecap="round" fill="none"/>
<path d="M411.7 145.5l0 .5m-14.6-5.2l-.4 .8m-3.2 20.5l.1 1.1" stroke="#64a7d0" stroke-width="1.12" stroke-linecap="round" fill="none"/>
<path d="M400.8 141.9l-.5 .2m19.8 20.4l1 .5m-29.3 6l.7 .6m-9-11.5l.9 .9m-3.2-13.9l.6 .6m8.6-6.7l.6 .9m-7.4-15.4l.3 .7m33 43.2l.5 1.4m-37.8-17.8l.7 1.3" stroke="#c4ddee" stroke-width="1.12" stroke-linecap="round" fill="none"/>
<path d="M423.4 146.6l.1 .5m-6.4 8.4l.7 .2m-35.7-5.1l-.6 .3m-1.3-4.4l-1.1 .8m8 10.6l-.8 .3" stroke="#93c3dd" stroke-width="1.12" stroke-linecap="round" fill="none"/>
<path d="M391.9 146.2l.9 .3m20 6.3l.5 .3m-21.7-23l.5 .4m23.5 23.4l-.6 .3m-10.9-1.5l.1 1.3m10.5-7.8l.4 .8m-32.2-23l-.7 .1" stroke="#72afd4" stroke-width="1.12" stroke-linecap="round" fill="none"/>
<path d="M398.5 152l-.2 .7m-3.8-24.4l.5 1m-13.1 4.4l0 .3m34.3 30.1l-.1 .4" stroke="#7db6d7" stroke-width="1.12" stroke-linecap="round" fill="none"/>
<path d="M426 154.3l-.2 1.3m-30.1-1.1l-.3 .8m18.1 7.5l1.3 .3m-21.5-9.5l-.9 .4m0-6.9l.1 .6m15.9 12.8l-1 .9m-14.8 7.3l-.7 .2m10.8-32.1l.4 .1" stroke="#bad8ea" stroke-width="1.12" stroke-linecap="round" fill="none"/>
<path d="M399.4 138.3l.6 .5" stroke="#c4deee" stroke-width="1.12" stroke-linecap="round" fill="none"/>
<path d="M417 164.9l-1 .1m-31.8-10.4l1.1 .1m11.7-10l-.6 .3m2-13.7l.5 .4m-15.9 19l.1 .3m7.5 10.8l-1.1 1" stroke="#bddaeb" stroke-width="1.12" stroke-linecap="round" fill="none"/>
<path d="M390.8 136.6l.2 1.1m9 18.6l-1.4 .5m18.9 6.6l-.7 .8" stroke="#88bdda" stroke-width="1.12" stroke-linecap="round" fill="none"/>
<path d="M386.3 167.8l-.8 .3m2.3-3.2l.2 .3" stroke="#4996c8" stroke-width="1.12" stroke-linecap="round" fill="none"/>
<path d="M394.5 153.2l-.1 1m16.4-14.4l.3 .7m6.1 14.1l.3 .2m-17.9-9.3l.6 .1m-13.7-3.4l.2 .6m-5.1 5l.9 .6m4.1-3.2l0 .4" stroke="#a1cbe2" stroke-width="1.12" stroke-linecap="round" fill="none"/>
<path d="M381.7 149l.5 0m-3.9-19.3l0 .6m2.6 .7l.9 .1" stroke="#76b1d5" stroke-width="1.12" stroke-linecap="round" fill="none"/>
<path d="M389.6 148.8l-.6 1.2m26.8-3.2l.8 .2m-12.6 6.9l-.2 .6" stroke="#65a7d0" stroke-width="1.12" stroke-linecap="round" fill="none"/>
<path d="M424.3 148.4l0 1.3m1.1-2.1l-.8 .7m-5 11.3l-.2 .2m-9.6 1.9l0 .3m-16.9-22l-.2 .2m3.2 4.7l.1 .4m25.5 20.6l-1.2 .3m3.1-11.6l-.1 .5m-19.5-4.9l.4 .6" stroke="#c0dbec" stroke-width="1.12" stroke-linecap="round" fill="none"/>
<path d="M377.6 125.3l-.1 .5" stroke="#9ac7e0" stroke-width="1.12" stroke-linecap="round" fill="none"/>
<path d="M386.7 163l1 .5" stroke="#3783bc" stroke-width="1.12" stroke-linecap="round" fill="none"/>
<path d="M397 151.2l-1.1 .6m19.2 12.2l.2 1" stroke="#8abddb" stroke-width="1.12" stroke-linecap="round" fill="none"/>
<path d="M385.8 163.7l.8 .4" stroke="#60a4ce" stroke-width="1.12" stroke-linecap="round" fill="none"/>
<path d="M382.2 152.4l-.8 .1m33.7-4.3l-.7 .6m-22.2 17.4l.4 .3m32.6-16.2l-.2 1m-40.1 4.9l.3 .6m-2.4-11l-.4 .4" stroke="#b8d7ea" stroke-width="1.12" stroke-linecap="round" fill="none"/>
<path d="M397.4 163.1l.1 .4m-7.1-2.8l-.6 .9m34.8-6.4l0 .8m-12-19.5l-.8 .6m-.9 17.9l0 .8m-22-8.5l-.1 .4m37.2 15.6l-.1 .5" stroke="#a4cde3" stroke-width="1.12" stroke-linecap="round" fill="none"/>
<path d="M399.1 149.9l-.4 .5" stroke="#c6deee" stroke-width="1.12" stroke-linecap="round" fill="none"/>
<path d="M394.7 136.3l.2 1.1m-12.5 13.1l.1 1.1m10 15.5l-.5 1.3m9.3-22.9l.9 1.1m24.5 9.7l.1 .8m-18.2-20.9l.5 .8" stroke="#98c6df" stroke-width="1.12" stroke-linecap="round" fill="none"/>
<path d="M386.1 138.8l.1 1.2m26.6 .6l-.9 .9" stroke="#67a9d1" stroke-width="1.12" stroke-linecap="round" fill="none"/>
<path d="M380.6 155.9l.3 .3m33.4-1.8l-.4 .4m-14.4-13.2l-.2 1.3m10.4 2.3l-.5 .2" stroke="#c8e0ef" stroke-width="1.12" stroke-linecap="round" fill="none"/>
<path d="M385 163.6l.7 .6" stroke="#1b5fa5" stroke-width="1.12" stroke-linecap="round" fill="none"/>
<path d="M403.8 156.7l-.8 .4m-13-3.2l1.3 .3m17.4 11.7l.4 .5" stroke="#acd1e5" stroke-width="1.12" stroke-linecap="round" fill="none"/>
<path d="M418.8 163.3l-.1 .6m4.7-3l-.8 .8m-35-34.3l-.3 .6m-3.9-1.3l.5 1m4.3 1l.7 .6" stroke="#8bbedb" stroke-width="1.12" stroke-linecap="round" fill="none"/>
<path d="M385.3 139.1l-.6 .2m18.9-4.3l.1 .3" stroke="#8abedb" stroke-width="1.12" stroke-linecap="round" fill="none"/>
<path d="M389.6 146.6l-.5 1.1m-.7-19.3l-.1 .4m37.4 27.4l.3 .2m-.9 5l-.6 0m-31.9-10.2l-1.3 .4m33.7-2.7l-.1 .4m-.3 4.6l-1.2 .7" stroke="#aad0e5" stroke-width="1.12" stroke-linecap="round" fill="none"/>
<path d="M415.4 165.2l-.8 .1m-33.8-36.9l.5 .1" stroke="#86bbda" stroke-width="1.12" stroke-linecap="round" fill="none"/>
<path d="M397.1 157l-.7 .4m5.9-27l.5 .7m-4.8 18.2l-.4 .4m-3.1-7.3l-.5 1m19.4 20l.5 .9" stroke="#b5d6e9" stroke-width="1.12" stroke-linecap="round" fill="none"/>
<path d="M388.7 171.9l-1.1 .7m-5.7-2.7l.5 1.1" stroke="#2369ab" stroke-width="1.12" stroke-linecap="round" fill="none"/>
<path d="M386.3 126.5l-.3 1.1m12.1 12.5l-.5 .9m26.3 5.3l1 1m-38.1-17.1l.4 .2" stroke="#9bc8e0" stroke-width="1.12" stroke-linecap="round" fill="none"/>
<path d="M403.1 154.4l-.2 .3m-21.4-14.7l.5 .1m23.9 15.3l-.2 1.1m19.1-.6l-.8 .5m-36.5-3.1l.9 1.2" stroke="#66a8d0" stroke-width="1.12" stroke-linecap="round" fill="none"/>
<path d="M420.3 151.9l.1 .9m-21.2 13.4l-.9 .3m-3.2 4.1l.3 1.4m-3.2-16l-1.5 0" stroke="#bbd9eb" stroke-width="1.12" stroke-linecap="round" fill="none"/>
<path d="M391.7 153.4l.3 .3m-3-18.7l0 .7m15.2 4.4l1.1 .3m15 25.9l1.1 .1m-8.7-11.9l-.1 .6m-23.3-12.9l-.9 .4m23.7 16.8l.5 1.1m-28.9-33.8l0 .5m-1.1 15.5l-1 .6" stroke="#c5deee" stroke-width="1.12" stroke-linecap="round" fill="none"/>
<path d="M413.7 144.2l-.4 1" stroke="#6eacd3" stroke-width="1.12" stroke-linecap="round" fill="none"/>
<path d="M388 169.8l-.5 .3" stroke="#3f8ec3" stroke-width="1.12" stroke-linecap="round" fill="none"/>
<path d="M393.6 143l.2 .4m-4.8 5.6l.3 .3m.1-9.5l.4 .7" stroke="#b3d5e8" stroke-width="1.12" stroke-linecap="round" fill="none"/>
<path d="M421.7 159.8l-1.4 .4m-24.5-11.7l-.2 .4m2 3l-.4 .2" stroke="#76b2d5" stroke-width="1.12" stroke-linecap="round" fill="none"/>
<path d="M395.2 154l.3 .6m6.9-23.1l-1.4 .3m5.1 19.6l-.2 .9m-21.6-7.7l.2 1.4m.4-17.2l-.5 1.3m27.4 38.6l1 .1m-8.7-9.2l.4 .5m-6-4.2l-.3 1.4m-10.7-17.7l-.4 0" stroke="#cde2f1" stroke-width="1.12" stroke-linecap="round" fill="none"/>
<path d="M397.3 137.5l-.7 .1m-3.1 4.5l.6 .1m-11.6 7.1l-.7 .8m20.2 14.1l-1 .3m23.5-11.8l-.4 .8m-31.2 13.9l-.3 .1m4.1-12.6l-.1 .3" stroke="#b6d6e9" stroke-width="1.12" stroke-linecap="round" fill="none"/>
<path d="M385.5 151.1l-.4 .1m21.9-.9l.9 0m-25.8-16.3l0 1.4m-2.4-9.2l-.2 .4" stroke="#8ec0dc" stroke-width="1.12" stroke-linecap="round" fill="none"/>
<path d="M377 126.1l.3 .4m22.5 18.1l-.1 .3" stroke="#8dc0dc" stroke-width="1.12" stroke-linecap="round" fill="none"/>
<path d="M388 129.4l-.1 1.2m6.3 31.8l.1 .6m30.3-10.1l.2 1.3m-48.7-11.9l-.2 .4m21.1 6.6l.3 .3m4.7 17l-.1 .4m-3.6-25.5l1.2 .9m1.5-11.1l-1.4 .5" stroke="#d1e4f2" stroke-width="1.12" stroke-linecap="round" fill="none"/>
<path d="M399.6 138.8l0 .9m-2.5 16.6l-.4 1.4m17.9 8.9l.6 .1m-32.8-19.5l-.2 1.1m10-.1l.8 .5" stroke="#7eb6d7" stroke-width="1.12" stroke-linecap="round" fill="none"/>
<path d="M418.4 143.6l.8 .3m-25.8-7.3l.9 .5m12.9 14.7l-1.2 .2" stroke="#78b3d6" stroke-width="1.12" stroke-linecap="round" fill="none"/>
<path d="M413.4 154.5l.9 .6m-19.8-8.4l-.9 .1m-10.3-14.5l.5 .3" stroke="#a5cee3" stroke-width="1.12" stroke-linecap="round" fill="none"/>
<path d="M396.9 158.5l.3 .3m-14.9-26.7l-.5 1m11.5 35.8l-.4 0" stroke="#d0e3f2" stroke-width="1.12" stroke-linecap="round" fill="none"/>
<path d="M388.2 143.7l.3 .1" stroke="#d4e5f3" stroke-width="1.12" stroke-linecap="round" fill="none"/>
<path d="M402.4 158.6l.2 1m10.4-21.7l.5 .3m-32.9-3.8l.2 .7m15.3 19.6l-.2 .4" stroke="#cae0f0" stroke-width="1.12" stroke-linecap="round" fill="none"/>
<path d="M395 157.1l-.3 .5m21.1 3.8l0 1.4" stroke="#b3d4e8" stroke-width="1.12" stroke-linecap="round" fill="none"/>
<path d="M406.4 161.3l-.8 .1m-16.4-24.8l-.2 .4m-6.6 19.3l-.6 .7m26.6 8.9l.6 .3" stroke="#80b8d8" stroke-width="1.12" stroke-linecap="round" fill="none"/>
<path d="M403.4 161.2l0 1.1m17.7 2.7l.5 .4m-27.9 1.7l.9 .8m7.2-34.7l0 .3m-15.3 10.9l-.3 .3" stroke="#74b0d4" stroke-width="1.12" stroke-linecap="round" fill="none"/>
<path d="M382.1 149.7l.5 .3" stroke="#a7cfe4" stroke-width="1.12" stroke-linecap="round" fill="none"/>
<path d="M386 172.5l.2 1.4" stroke="#3986be" stroke-width="1.12" stroke-linecap="round" fill="none"/>
<path d="M408.6 147.5l-.5 .5m11.7 6.6l-.5 .6" stroke="#83bad9" stroke-width="1.12" stroke-linecap="round" fill="none"/>
<path d="M413.8 156.9l-.7 .6" stroke="#78b2d5" stroke-width="1.12" stroke-linecap="round" fill="none"/>
<path d="M387.2 169.7l.2 .3" stroke="#12529c" stroke-width="1.12" stroke-linecap="round" fill="none"/>
<path d="M409.6 146.1l.5 .6m-20.2-7.6l-.6 1.1m21.6 12.9l-.3 1.4m-18.6 1.5l-.3 .2m11.9-4.3l.4 .5m10.1 11.7l.1 .4" stroke="#bfdbec" stroke-width="1.12" stroke-linecap="round" fill="none"/>
<path d="M413.5 151.9l1.2 .2m-7.4-18.5l-1.1 .9" stroke="#b5d5e8" stroke-width="1.12" stroke-linecap="round" fill="none"/>
<path d="M398 138.8l.3 .2m28.5 16.5l.4 .3m-45.9-32.2l1.1 .1" stroke="#79b3d6" stroke-width="1.12" stroke-linecap="round" fill="none"/>
<path d="M405 158.2l-.2 .6m-2.4 9.3l.8 .6m-26.1-19l-.2 .4m3.5 5.7l-.3 .4m1 .2l.2 1m8.8-27.3l-.4 .3m2.6 11.9l.8 .3m31.7 21.8l.1 .5" stroke="#b9d8ea" stroke-width="1.12" stroke-linecap="round" fill="none"/>
<path d="M405.5 161.4l-.1 1.4m.5-21.9l-.1 .8m4 22.8l-.3 .3" stroke="#7cb5d7" stroke-width="1.12" stroke-linecap="round" fill="none"/>
<path d="M392.1 137.2l.5 .2m-11.1 1.1l1.3 .4m23 16.3l-.1 .6m19.6 .7l.2 .4m-30.9 13.9l.3 .2m-21-43.1l.6 .3m42.9 34.7l.4 .1m-39.3-26.3l.5 .3m3.4-1.4l.3 .1m9.4-7.1l1.1 .2" stroke="#94c4de" stroke-width="1.12" stroke-linecap="round" fill="none"/>
<path d="M393.7 171l-.1 .7" stroke="#7bb5d6" stroke-width="1.12" stroke-linecap="round" fill="none"/>
<path d="M376.2 128l-1.4 .3" stroke="#3c8ac0" stroke-width="1.12" stroke-linecap="round" fill="none"/>
<path d="M381.4 130.9l.1 .6m11.4 4.5l-.1 .7m-4.5 6.5l.6 .1m-7.1 16.1l-1.2 .7m40-14.2l-.6 .4" stroke="#cce1f0" stroke-width="1.12" stroke-linecap="round" fill="none"/>
<path d="M384.2 154.1l.2 .7" stroke="#9ac7df" stroke-width="1.12" stroke-linecap="round" fill="none"/>
<path d="M376 145.3l-1 .2m8.7 13.1l-.9 .2m2.3-33.1l-.7 .1" stroke="#b2d4e7" stroke-width="1.12" stroke-linecap="round" fill="none"/>
<path d="M382.9 147.1l0 .4m36.4 15.3l.8 1" stroke="#d2e5f3" stroke-width="1.12" stroke-linecap="round" fill="none"/>
<path d="M379.6 149.7l.8 .6m25.9 .8l0 1m-8.9 13.3l.5 1m-19.6-18.3l-1.3 .4m43.9 2.5l.4 .3m-16.7 8.8l-.5 .4" stroke="#a0cbe1" stroke-width="1.12" stroke-linecap="round" fill="none"/>
<path d="M389.4 159.7l-.7 .4" stroke="#cfe3f1" stroke-width="1.12" stroke-linecap="round" fill="none"/>
<path d="M385.3 127.9l-.1 .4m1.8 22l-.9 .8m23.6 8.4l-.5 1.3" stroke="#cee3f1" stroke-width="1.12" stroke-linecap="round" fill="none"/>
<path d="M399.1 135.4l-.8 .3m27.7 20.5l1 .4" stroke="#6babd2" stroke-width="1.12" stroke-linecap="round" fill="none"/>
<path d="M417.3 141.7l-.6 .5m-7.9-8.1l-1.3 .3" stroke="#83b9d9" stroke-width="1.12" stroke-linecap="round" fill="none"/>
<path d="M424 154.1l-.1 .9m-6.9 6.6l1.4 .1m-33.4-35.4l-.5 .3" stroke="#8fc1dc" stroke-width="1.12" stroke-linecap="round" fill="none"/>
<path d="M406.9 143.9l0 .4m-5.6 21.8l.4 .3m2.3-20.8l-.4 .4m-22.5-13.3l0 .8m-4.8 13.3l1.1 1m30.6-11.6l-1 .8" stroke="#8dbfdc" stroke-width="1.12" stroke-linecap="round" fill="none"/>
<path d="M406.6 155.1l0 1.5m-10.9 2.6l-.6 1.3m5-21.4l.3 .9m21.4 11.8l.3 .9m-4.2 11.3l-.2 1.2m-1.6-26.1l1 0" stroke="#a3cce2" stroke-width="1.12" stroke-linecap="round" fill="none"/>
<path d="M421.3 145.9l-.6 1.1m-9.5 14.1l1.1 .9m-28.1-28l-.3 .6" stroke="#7ab4d6" stroke-width="1.12" stroke-linecap="round" fill="none"/>
<path d="M383.8 135.5l-.6 .1m18.7 26l-.1 1.1" stroke="#79b4d6" stroke-width="1.12" stroke-linecap="round" fill="none"/>
<path d="M399.3 169.3l-.4 1.3m4.5-13.3l.3 .7m8.4 3.3l-.4 .4m-15.2 3.2l-1.4 .3" stroke="#87bcda" stroke-width="1.12" stroke-linecap="round" fill="none"/>
<path d="M406.7 162.3l.8 1.1m-24.7-18.9l0 1.2m9.1 18.9l-.7 .8m31.3-19l-.4 .2m-6.8 3.2l-.2 .7" stroke="#b7d7e9" stroke-width="1.12" stroke-linecap="round" fill="none"/>
<path d="M392.2 151l1.3 .1" stroke="#7bb4d6" stroke-width="1.12" stroke-linecap="round" fill="none"/>
<path d="M375.2 127.7l-.5 .1" stroke="#4d98c9" stroke-width="1.12" stroke-linecap="round" fill="none"/>
<path d="M374.6 133.8l-.3 .3m12.9 36.8l-.5 .3" stroke="#549dcb" stroke-width="1.12" stroke-linecap="round" fill="none"/>
<path d="M376.9 139.7l.3 .4m1.2-1l.1 .5" stroke="#6cabd2" stroke-width="1.12" stroke-linecap="round" fill="none"/>
<path d="M383.6 161.5l.4 .3" stroke="#3d8cc2" stroke-width="1.12" stroke-linecap="round" fill="none"/>
<path d="M395.6 166.6l-.7 .5" stroke="#a9d0e5" stroke-width="1.12" stroke-linecap="round" fill="none"/>
<path d="M404.8 136.7l-.3 .3m19.8 7.5l-1 .1m-30.2 26.9l1 .5m15.7-3.9l-.8 .8" stroke="#acd1e6" stroke-width="1.12" stroke-linecap="round" fill="none"/>
<path d="M397.5 136.5l.3 .5m-10.7 14.8l-.4 .5" stroke="#b8d7e9" stroke-width="1.12" stroke-linecap="round" fill="none"/>
<path d="M385.3 137.1l-1 .6m14.4 10l-.1 1m3 4.4l-1 0m-9.2-17.2l-.4 1.1m25.5 25.2l-.1 .4m9.9-.2l.3 .9m-39.8-25.7l.9 .3" stroke="#c2dced" stroke-width="1.12" stroke-linecap="round" fill="none"/>
<path d="M382.4 139.6l-1.1 .6m36.8 14.7l.3 .4m-31.6-13.5l.5 .8m29.1-2.7l.7 .3m-32.8-5.8l-1.5 .1m15.6 2.8l-.6 .1m-14-7.4l1.1 .9" stroke="#a2cce2" stroke-width="1.12" stroke-linecap="round" fill="none"/>
<path d="M381.7 167.2l.1 .6" stroke="#5ea3ce" stroke-width="1.12" stroke-linecap="round" fill="none"/>
<path d="M412.3 161.4l-1.5 .1m-19.6-.4l-.2 .4m27.9-1.1l1.5 .1m.7 5.4l.5 .2m5.7-7.1l.8 .5" stroke="#b1d4e7" stroke-width="1.12" stroke-linecap="round" fill="none"/>
<path d="M407.9 135.2l-.1 .9m1.9 9.9l.4 .5m-14.7 4.4l-.1 .4" stroke="#cfe3f2" stroke-width="1.12" stroke-linecap="round" fill="none"/>
<path d="M427.7 155l1.2 .9m-29.1 8.9l.5 .3m13.5-23.2l-.3 .5m4.7 15.9l-.3 .2m-26.1-23.2l-.5 .4m27.9 15l-.6 .7m-3.6 4.2l-.2 1.5" stroke="#d0e4f2" stroke-width="1.12" stroke-linecap="round" fill="none"/>
<path d="M388.7 163.2l0 .9" stroke="#2f79b5" stroke-width="1.12" stroke-linecap="round" fill="none"/>
<path d="M418.2 148.2l.8 .9m-27.8 5.9l-1.5 .2m-9.6-13.5l-.9 0" stroke="#cee2f1" stroke-width="1.12" stroke-linecap="round" fill="none"/>
<path d="M393.1 152.2l.4 1.4m18-11.1l0 1.4m-38.8-14.9l-.8 .9m51.7 24.4l.1 1.4m-41.9-24.8l-.3 .6m27.3 32.9l.8 .5m-.7-25l-.9 .2" stroke="#84bad9" stroke-width="1.12" stroke-linecap="round" fill="none"/>
<path d="M386.3 162.1l-.9 .3m5-12.2l-.2 1.1m26.3 16.4l-.5 .8" stroke="#63a6cf" stroke-width="1.12" stroke-linecap="round" fill="none"/>
<path d="M381.6 165.5l1.2 .5" stroke="#11529c" stroke-width="1.12" stroke-linecap="round" fill="none"/>
<path d="M416.7 160.6l.2 .6m-27.1-11.1l-.2 1.3m27.3-8.3l-.6 1m-16.4 18.6l.1 .5m-13.2-13.2l-.1 .9m10.4-3.1l-.3 .3" stroke="#9dc9e0" stroke-width="1.12" stroke-linecap="round" fill="none"/>
<path d="M418.1 163.8l1 .2m-16.4-18.1l-.2 .9" stroke="#68a9d1" stroke-width="1.12" stroke-linecap="round" fill="none"/>
<path d="M416.1 160.2l.2 1.3m-34.5-5.8l-.3 .2m15.6-4.1l.9 .5" stroke="#b4d5e8" stroke-width="1.12" stroke-linecap="round" fill="none"/>
<path d="M411.9 147.3l-.5 1.2" stroke="#67a8d0" stroke-width="1.12" stroke-linecap="round" fill="none"/>
<path d="M384.9 164.4l.4 .7m-6.8-28.6l1.2 .4" stroke="#4292c6" stroke-width="1.12" stroke-linecap="round" fill="none"/>
<path d="M388.5 162.6l-.2 1.1m7.3 5.6l-.7 .9" stroke="#61a5cf" stroke-width="1.12" stroke-linecap="round" fill="none"/>
<path d="M390.4 135.4l-.5 .9" stroke="#93c3de" stroke-width="1.12" stroke-linecap="round" fill="none"/>
<path d="M393.1 137.8l-.3 1.1m16.1 4.2l1.3 .4" stroke="#60a4cf" stroke-width="1.12" stroke-linecap="round" fill="none"/>
<path d="M399.2 155.6l.4 .5m22.8-7.9l-.7 .9m-34.3-18.2l-.5 .8m37.4 21.3l.6 .5" stroke="#aed2e6" stroke-width="1.12" stroke-linecap="round" fill="none"/>
<path d="M376.1 129.8l-1.4 .1" stroke="#2e77b5" stroke-width="1.12" stroke-linecap="round" fill="none"/>
<path d="M379.5 133.9l.5 0" stroke="#71aed3" stroke-width="1.12" stroke-linecap="round" fill="none"/>
<path d="M389.8 161.3l-1.4 .5m-3.7-.2l.5 .4" stroke="#0d4c98" stroke-width="1.12" stroke-linecap="round" fill="none"/>
<path d="M411.6 168.3l-.8 .2m-22.3-18.3l-.1 .3m-1.8-7.5l-.8 1m12.2 22.5l-.7 .3m-2.9-9.3l-1 .2m28.5 2.5l.9 .5m-40.1-30.4l.6 .3" stroke="#d3e5f3" stroke-width="1.12" stroke-linecap="round" fill="none"/>
<path d="M378.2 138.3l-.9 .7m18.9 22.4l.2 1.1m9-8.3l-.1 1" stroke="#6eadd3" stroke-width="1.12" stroke-linecap="round" fill="none"/>
<path d="M392 163l.8 .2m3.6-.6l.3 .4m-6.6-9.5l.4 .6m6.7-4.2l.4 .4" stroke="#90c1dc" stroke-width="1.12" stroke-linecap="round" fill="none"/>
<path d="M387.2 172.5l-1.4 .5" stroke="#3c8ac1" stroke-width="1.12" stroke-linecap="round" fill="none"/>
<path d="M400.2 156.3l-.2 .5m-16.3-17.8l-.7 .7" stroke="#8cbfdb" stroke-width="1.12" stroke-linecap="round" fill="none"/>
<path d="M392.7 136.7l0 .8" stroke="#66a7d0" stroke-width="1.12" stroke-linecap="round" fill="none"/>
<path d="M420.6 149.4l.2 .4m-14.7-3.4l-1.1 .2" stroke="#c8dfef" stroke-width="1.12" stroke-linecap="round" fill="none"/>
<path d="M399.9 136.4l.1 1.2m.3 7.1l1.2 .1" stroke="#9ac8e0" stroke-width="1.12" stroke-linecap="round" fill="none"/>
<path d="M426.6 161.7l0 .4" stroke="#95c5de" stroke-width="1.12" stroke-linecap="round" fill="none"/>
<path d="M387 171l.9 .2" stroke="#4f9ac9" stroke-width="1.12" stroke-linecap="round" fill="none"/>
<path d="M402.6 153.9l-1.2 .4" stroke="#abd1e5" stroke-width="1.12" stroke-linecap="round" fill="none"/>
<path d="M388.7 136.5l-.3 1.3m28 29.6l-.6 0" stroke="#b9d7ea" stroke-width="1.12" stroke-linecap="round" fill="none"/>
<path d="M408.2 156.8l.3 .8m-11.5-14.6l-.7 1.3m-12.9 2.2l.2 .3" stroke="#81b8d8" stroke-width="1.12" stroke-linecap="round" fill="none"/>
<path d="M415.9 160.6l-.7 .4m-6.4-12.6l.3 1.3" stroke="#89bddb" stroke-width="1.12" stroke-linecap="round" fill="none"/>
<path d="M388.2 148.8l-.5 0m10.9 3.1l-.1 .4m21.5 1.2l-.1 .7" stroke="#a6cee4" stroke-width="1.12" stroke-linecap="round" fill="none"/>
<path d="M386 156.2l.2 .4" stroke="#b1d3e7" stroke-width="1.12" stroke-linecap="round" fill="none"/>
<path d="M390.2 172.5l-.3 .2" stroke="#3784bd" stroke-width="1.12" stroke-linecap="round" fill="none"/>
<path d="M402.8 154.9l.1 .4m-24.3-7.6l-.8 1.2" stroke="#c7dfef" stroke-width="1.12" stroke-linecap="round" fill="none"/>
<path d="M402.6 161.1l-.4 .1" stroke="#74b1d4" stroke-width="1.12" stroke-linecap="round" fill="none"/>
<path d="M393.8 159.4l0 1.3m7.2-.7l-1 .6" stroke="#77b2d5" stroke-width="1.12" stroke-linecap="round" fill="none"/>
<path d="M414.9 144.8l0 .4m-21.7-8.4l.3 1" stroke="#89bdda" stroke-width="1.12" stroke-linecap="round" fill="none"/>
<path d="M385.2 140.3l0 1.2m30.3 24.9l.2 .7m-9.9-29.7l1 .9m-2.7 3.7l-.6 1.3" stroke="#abd0e5" stroke-width="1.12" stroke-linecap="round" fill="none"/>
<path d="M405.5 153.7l-.7 0m1.1-10.4l-.5 1" stroke="#afd2e6" stroke-width="1.12" stroke-linecap="round" fill="none"/>
<path d="M415.5 149.7l.9 1.2m-15.2-18.3l.8 .7" stroke="#b7d6e9" stroke-width="1.12" stroke-linecap="round" fill="none"/>
<path d="M410.9 137.1l.4 .8" stroke="#92c2dd" stroke-width="1.12" stroke-linecap="round" fill="none"/>
<path d="M401.9 163.5l-.1 1.1" stroke="#97c6df" stroke-width="1.12" stroke-linecap="round" fill="none"/>
<path d="M390 171l-1.2 .5m-10.2-43.7l.8 .2" stroke="#5fa4ce" stroke-width="1.12" stroke-linecap="round" fill="none"/>
<path d="M380.1 134.3l-.2 .3m15 27.6l.1 1" stroke="#86bbd9" stroke-width="1.12" stroke-linecap="round" fill="none"/>
<path d="M381.8 151.7l1.3 .5m28.3-.6l-.7 .5m-1.2 9.7l-1.1 .3" stroke="#a9cfe4" stroke-width="1.12" stroke-linecap="round" fill="none"/>
<path d="M409.4 147.6l.4 .3m2.9 12.2l-.2 .3m-27.2-21.2l-.6 .1m13.2-5.4l-.5 0m11.2 1.6l.7 1m-26.6 6.1l.1 1" stroke="#a6cee3" stroke-width="1.12" stroke-linecap="round" fill="none"/>
<path d="M403 139.1l.3 1.2m-5.5 12.3l.3 .3m1-.4l-1 1m-15.7-2.1l-.6 .9" stroke="#90c1dd" stroke-width="1.12" stroke-linecap="round" fill="none"/>
<path d="M418.9 141.9l-.2 .7m-15.5 16.8l-1.1 .2m-25.1-7.7l.9 .8m45.2 9.6l-.4 .2m-40.1-11.8l.4 .7" stroke="#bcd9eb" stroke-width="1.12" stroke-linecap="round" fill="none"/>
<path d="M372.6 130.2l-.9 1.2" stroke="#4795c7" stroke-width="1.12" stroke-linecap="round" fill="none"/>
<path d="M386.1 163.1l0 .6" stroke="#408fc4" stroke-width="1.12" stroke-linecap="round" fill="none"/>
<path d="M400.3 163.2l.9 .3m-3.9-21.3l1 .6m-23.1 6l.3 .4m34.7 4.2l-.4 .3m-10.3-23.8l.3 1.1" stroke="#a5cde3" stroke-width="1.12" stroke-linecap="round" fill="none"/>
<path d="M392.4 159.5l.3 .4" stroke="#9cc8e0" stroke-width="1.12" stroke-linecap="round" fill="none"/>
<path d="M411.9 150.6l1.3 .5m-11.6 17.5l-.4 .8m-21.5-36.7l.6 .1" stroke="#add1e6" stroke-width="1.12" stroke-linecap="round" fill="none"/>
<path d="M390.4 128l.3 .7m1.8 42.7l-1.3 .5m29.4-9.5l.7 1.2" stroke="#afd3e7" stroke-width="1.12" stroke-linecap="round" fill="none"/>
<path d="M375.6 130.3l-.1 .6" stroke="#2e77b4" stroke-width="1.12" stroke-linecap="round" fill="none"/>
<path d="M410.5 164.7l1.1 .8m14.9-11.4l-.3 .8m-35 15.4l.8 1.1m-11.3-44.9l.2 .3m15.9 7.5l-1.3 .3" stroke="#c1dced" stroke-width="1.12" stroke-linecap="round" fill="none"/>
<path d="M380.4 144.8l-.1 .5m44.1 19.4l0 .9" stroke="#c9e0ef" stroke-width="1.12" stroke-linecap="round" fill="none"/>
<path d="M377.3 127.1l0 .3" stroke="#3682bb" stroke-width="1.12" stroke-linecap="round" fill="none"/>
<path d="M419.2 156.4l1.3 .3m-26.6 .3l.8 .7" stroke="#d2e4f2" stroke-width="1.12" stroke-linecap="round" fill="none"/>
<path d="M383.6 134.3l1.4 .2" stroke="#a3cde3" stroke-width="1.12" stroke-linecap="round" fill="none"/>
<path d="M417.2 155.9l-.9 0m-8.6-12.4l.2 .5" stroke="#a7cee4" stroke-width="1.12" stroke-linecap="round" fill="none"/>
<path d="M383.7 163.8l.6 .4" stroke="#5fa3ce" stroke-width="1.12" stroke-linecap="round" fill="none"/>
<path d="M389.9 140.1l.1 .6" stroke="#61a4cf" stroke-width="1.12" stroke-linecap="round" fill="none"/>
<path d="M387.1 167.2l-.1 .4" stroke="#0a4896" stroke-width="1.12" stroke-linecap="round" fill="none"/>
<path d="M398.8 132.6l.4 .3m-25 5.4l.2 1.1m29.4-2.9l.1 .3m-7.1 1.2l.5 .2m2.1 25.1l-1 .7m1.4-17.3l-.1 1.4" stroke="#62a5cf" stroke-width="1.12" stroke-linecap="round" fill="none"/>
<path d="M375.3 125.7l-.8 0m13.2 41.1l1.1 .6" stroke="#539ccb" stroke-width="1.12" stroke-linecap="round" fill="none"/>
<path d="M387 168.8l-.5 0" stroke="#084594" stroke-width="1.12" stroke-linecap="round" fill="none"/>
<path d="M385.3 157.8l-.4 .2m10 8.5l.9 .6" stroke="#82b9d8" stroke-width="1.12" stroke-linecap="round" fill="none"/>
<path d="M399.1 145.1l.3 .1m-19.6-21.5l-.6 .3" stroke="#c9e0f0" stroke-width="1.12" stroke-linecap="round" fill="none"/>
<path d="M385.5 171l-.6 .7" stroke="#347fba" stroke-width="1.12" stroke-linecap="round" fill="none"/>
<path d="M417.9 161.9l1.1 .7" stroke="#6aaad2" stroke-width="1.12" stroke-linecap="round" fill="none"/>
<path d="M384.1 151l.6 1.3m11.2 8.5l-.3 1.1m-2.5-5.9l-1.4 0m4.8 2.3l.5 .5m-12.3-6.5l-.3 1" stroke="#6fadd3" stroke-width="1.12" stroke-linecap="round" fill="none"/>
<path d="M400.1 163.6l.2 .3m7.3-24l.5 .7" stroke="#73b0d4" stroke-width="1.12" stroke-linecap="round" fill="none"/>
<path d="M388.2 161l.5 .4" stroke="#094795" stroke-width="1.12" stroke-linecap="round" fill="none"/>
<path d="M426.9 153.4l-1.1 0" stroke="#7db5d7" stroke-width="1.12" stroke-linecap="round" fill="none"/>
<path d="M385.8 174.1l1.5 0" stroke="#11519b" stroke-width="1.12" stroke-linecap="round" fill="none"/>
<path d="M381.5 165.3l-.3 1.1" stroke="#0c4a97" stroke-width="1.12" stroke-linecap="round" fill="none"/>
<path d="M414.2 156.5l-.1 .3m-30.7-19l.6 .4m-8.6 6.9l-.8 .7" stroke="#88bcda" stroke-width="1.12" stroke-linecap="round" fill="none"/>
<path d="M377 132.2l.6 .4" stroke="#3a88bf" stroke-width="1.12" stroke-linecap="round" fill="none"/>
<path d="M416.6 166.3l.3 1.1m-25.4-16.1l.5 .3" stroke="#add2e6" stroke-width="1.12" stroke-linecap="round" fill="none"/>
<path d="M384.4 161.8l-.2 .9" stroke="#2971b1" stroke-width="1.12" stroke-linecap="round" fill="none"/>
<path d="M380.8 167.7l-1.4 .2m10.9-5.3l-1.4 0" stroke="#3987bf" stroke-width="1.12" stroke-linecap="round" fill="none"/>
<path d="M407.2 140.2l.5 .2" stroke="#99c7df" stroke-width="1.12" stroke-linecap="round" fill="none"/>
<path d="M400 155.9l-.3 1.1m2.4 7.5l1.4 .1" stroke="#cce2f1" stroke-width="1.12" stroke-linecap="round" fill="none"/>
<path d="M389 129.3l.1 .4" stroke="#cae1f0" stroke-width="1.12" stroke-linecap="round" fill="none"/>
<path d="M376 142.6l-.8 .2" stroke="#6cacd2" stroke-width="1.12" stroke-linecap="round" fill="none"/>
<path d="M386.2 172.3l-.6 .4" stroke="#266dae" stroke-width="1.12" stroke-linecap="round" fill="none"/>
<path d="M408.9 138.8l-.7 1.2m-12.1-8.8l.9 .7m9.8 23.3l.7 .1m-5.6-18.7l.8 .2" stroke="#6dacd2" stroke-width="1.12" stroke-linecap="round" fill="none"/>
<path d="M381.8 170.2l.4 0" stroke="#4895c7" stroke-width="1.12" stroke-linecap="round" fill="none"/>
<path d="M395.1 134.4l.3 .7m-20 6.3l-.3 .5" stroke="#80b7d8" stroke-width="1.12" stroke-linecap="round" fill="none"/>
<path d="M384.9 159.8l-.5 .1m30.3 3.7l-.5 .1m-8.9-2.8l1 .4" stroke="#b2d4e8" stroke-width="1.12" stroke-linecap="round" fill="none"/>
<path d="M392.2 160.8l.3 .4" stroke="#71afd4" stroke-width="1.12" stroke-linecap="round" fill="none"/>
<path d="M383.5 171.4l.7 .6" stroke="#195ca3" stroke-width="1.12" stroke-linecap="round" fill="none"/>
<path d="M398.5 159l.1 .9m15.7-1.3l-.7 .1" stroke="#95c4de" stroke-width="1.12" stroke-linecap="round" fill="none"/>
<path d="M379.6 124.6l-1.3 .2" stroke="#c2dded" stroke-width="1.12" stroke-linecap="round" fill="none"/>
<path d="M403.5 151.8l.1 .5" stroke="#85bbd9" stroke-width="1.12" stroke-linecap="round" fill="none"/>
<path d="M387.8 167.4l-.9 1" stroke="#67a8d1" stroke-width="1.12" stroke-linecap="round" fill="none"/>
<path d="M399.3 135.9l-.7 .7" stroke="#c0dced" stroke-width="1.12" stroke-linecap="round" fill="none"/>
<path d="M469.4 137.7l-.5 1m20 25.9l-.7 .2m-41.8-19.1l-1.1 .3m39.8 1.2l-.6 1.2m-21.3 15.7l-.3 1.2m-13.1-11.6l.3 .6m1.2-11.6l-.1 .3m-2.4 7.5l.5 1m-2.8-24.8l-1.2 .3m30.4 27.6l.4 .3m-11.7 3.8l.1 .9m-11.8-16.1l-1.2 .8m8.5 2.4l-.8 .4m-13.3-12.4l.1 .3m40.5 31.2l.4 .6m-23.2-24.6l-.8 .8m10.2-8.9l0 .6m17.7 30.1l1 .3m-16.1-1.9l.9 .4m4.9-16.6l.1 1.2m-22.5-17.5l-.2 .8m-12.7 19.5l.7 .6m35.4-10.7l-1 .9m10.5 20.4l.2 .9m-17-.3l.2 1m-6.3 4.9l0 1.4m-7.8-33.5l.7 .4m-5.1-7.8l.8 1.2m26 14.8l.7 .6m-26.2 9.6l.7 .8m24-18.3l.8 .6m-11.8 30.4l-.7 .5m-3.8-5.3l-.1 .4m-6.3-35l-.6 1.1m17.8 31.7l.9 .7m-37-32l-.5 .1m41.3 15.9l.2 .8m-30.4-11l1.1 .4m14 6.1l-.7 .1m-7.6-8.4l.4 .5m8.5 9.6l.1 1.3m-9.2 8.4l-.1 1.4m.6-22.7l1 .8m-15 4.2l1.1 .2m14.8-3.7l-1.3 .2m-9-4.9l-.1 .4m15.8 21.7l1.1 .4m.3 13l-1.3 .3m-2.9-24.7l-.3 .7m1.2-5.9l.4 .2m-14.6-8.5l1.2 .4m6.8 14.2l.9 .7m2.7 3.1l0 .6m28.8 3.3l-.2 1.3m-14.3 15.2l.6 .2m-26.1-17l.9 1m-1.1-7.4l.2 .7m28.2 4.7l-.6 .4m7.9 17.2l.4 1.4m-16.6 .5l1 .9m2.8-16.6l.8 1.1m-12.2-3.1l.9 .8m5.8-20.5l-.6 .1m-6 33.9l.2 .9m16.8 2.6l.4 .2m-14-37.3l-.6 .4m-6.4-3.9l.5 .6m-5.7 5.9l.7 .9m-8.8 14.2l-.1 .3m39.7 12.7l.3 .3m-13.6-5.4l.1 .8m-7 4.3l.6 .2m1.1-17.8l-.3 .7m-11.4-.2l-.4 .1m13 18.7l0 1.2m-14.8-25.1l-.2 1.2m30.4 13.4l-.8 1.1m-30.7-11.6l-.7 .1m28.1 23.9l-1 0m-5.4-36.2l-.5 .3m-3.7 14.8l1.2 .8m8.2 19.9l.3 .8m-19-1.9l-.8 .7m13.1-31.7l-.3 1.1m-17.8 10.5l1.1 .2m8.9-13l-.8 1m-11.4-11.8l-.4 1.4m22.5 34.5l.8 0m20.9 .4l-.4 1.2m-33.8-15.8l.4 0m6.2 15.3l-.5 .6m11.2 5l.6 .5m-7.1-7.8l-.1 .3m-18.8-17.6l-.9 .4m2.4 10.4l.9 1.2m5.9-23.7l-.4 .3m26.7 32.5l-.9 .4m-31.7-33.7l.9 .2m39.3 26.2l-.2 .5m-31.7 12.7l.7 .2m-11.1-34.5l1.1 .5m27.2 4.6l.9 .1m-30.8-14.1l-.1 1m24.4 33.1l1.4 .2m8.1 1.6l.6 0m-20.1 .3l.2 .5m2.5-29.5l-.8 1m-15-8.2l.1 .3m20.2 24l-.2 .7m-2.8 4.1l-.6 .3m-21.7-9.1l.7 .1m19.9 21l-.4 1.4m8.1-3.2l1.3 0m10.3 .7l-.4 .2m-36.8-14.9l.6 .5m-2.4-20.1l-.8 .6m1.9-4.8l-1.2 .5m-3.5 24.8l-1.4 0m18.4 6.9l-1.2 .6m12.5 6l-1 1m-22.4-26.7l0 .3m5.5 27.1l0 .9m-9.7-18.1l.6 .9m39.5-5.2l.2 1.1m-36.6-7.1l.3 .3m18.8-3l-.5 1.2m-8.2 .9l-1.1 .7m20-.2l-.4 .1m17.2 19.8l.5 .1m-7.9-3l-1.3 .3m-37.4-30.2l-.6 .2m12.5 34.9l.7 .6m-14.6-18.2l1.5 .1m25.4-4.6l.9 .8m-8 11l.7 .1m-2.1 14l.3 .2m3.8-32.3l.4 .1m-3.7 10.7l.8 .8m-8.8 .7l-.9 .1m-5.1 .9l-1.3 0m5.7-20.7l-.6 .2m36.3 30.6l-.9 .4m-38 6.6l.1 1.1m-10.6-32.6l-.8 .7m49 29.9l.8 .2m-10.6 0l.9 .2m-19.6-3.7l-.3 .1m22.3-13.4l-1.1 .9m-15.2-8.6l-.6 1.2m11.7 14.2l1 .6m-7.4 4.9l0 .3m-19.6-7.1l.6 .3m8.2-23.5l.5 .6m28.1 29.1l.7 .2m-12.3-.2l.2 .2m-22.9-20.3l-.2 .3m1.7 3.8l.6 1.1m32.4 7.2l-.7 1.1m-43.7-8.6l-.3 .9m18.3-16.6l-.3 .6m-13.4 3l-.9 1m38.3 15.9l-.3 .7m.5-5.4l0 .4m-20.4-12.2l-.4 0m-8.6-6.1l.7 .5m13.2 35l.5 .9m-15.4-5l.9 .6m8.9-4.5l-.5 .5m17.4 4.7l.4 .4m-20.5 7.1l-.9 .4m5.2-19.1l-.2 .2m10.4 .9l-.3 1.3m-33.9-1.5l.7 .7m12.9-4.2l-1.2 .9m-15.9-14.2l-.1 .8m9.3 9.5l.8 .9m-5.5-11.9l.5 1m39.1 20.5l.6 .8m-40.8-29.2l.2 1.4m46.8 32.4l.6 .5m-42-13.7l-.3 .2m17.8-11.7l-.5 1.2m14.5 5.6l-.3 .1m-26.5-10.4l-.5 .7m8.4 22.4l.3 1.3m-8.2-6.7l-.6 .5m8.5-20.7l-.9 .1m3 3.3l.2 .7m-16.4 9.5l.5 1m14.7 18.1l1.4 .2m7.3-13.5l-1.4 .3m13.7 11.2l.4 .9m-23.1 1.3l-1.1 .1m-14.6-9.9l-.1 1.4m10-9.4l-.6 .8m10.4 9.8l.3 .3m-3.6-4l-.5 .6m-5.2 21.5l1 .8m25.2-23.1l-.8 .2m-4.9-15.3l-.3 .5m-33.3-8.6l-1.3 .1m27.6 23.1l.1 1.1m-12.1-2.3l.4 .2m25.7-9.8l.7 1.3m-.4 13.1l.4 .1m-4.5-11.9l-.2 .4m-3.4 7.2l.4 .2m-25.2-6.4l-.2 1.4m-3.2-11.7l-.1 .6m12.7 22.9l0 .4m18.3-2.3l0 .9m-27.5 .4l-.5 .7m-1.2-29.3l-.2 .4m35.8 19l-.4 .5m-5.8-8.8l-1 .2m.9 12.5l-.5 .4m-19.8 5.7l.6 .1m-10.9-25.2l.2 .2m20.3 12.4l-1 1.1m3.3 11.1l-1.4 .5m-7.4 10.1l.2 .8m25.6-5.4l.6 0m-38.3-22.1l-.4 0m-2.6-14.9l.3 .5m-6.7-.2l.3 .2m8.5-1.2l-.7 .4m21 23.7l-1.2 .6m13.8 .5l-.3 .5m3.8-1.3l.7 .1m-25.4 2.9l.3 .6m-10.7 16.5l.3 .2m35-21.8l0 .6m-17.7-9.6l.9 0m17.2 18.2l.1 1.3m-47.1-24.6l.1 .3m24 22.4l1.2 .8m-16.7-16.7l.5 .6m27.2 21.1l-1 .3m8.8-6.4l.5 .1m-33.9-28l.8 .8m28.1 16.8l-.2 1.1m-3.2-2.1l.4 .8m-13.1 2.9l-.5 .4m28.9 11l-.3 .8m-44.6-20.5l.5 .7m6.9 2.6l-.7 0m0 4.2l-.5 1.2m20.3 13.9l-.9 .5m15-6.6l.5 1.3m-27.4-29.9l-.7 .2m22.5 40.1l-.9 .7m-25.8-20.3l.4 1.2m-1-4.7l-.3 .3m27.2 5.6l-.6 .9m-32.5-27.6l.3 .4m-10.3 .5l.5 .2m19.2 32.3l.8 .7m-6.2-13.8l.3 .3m-13.1-17.1l.4 .4m17.6 11.6l.7 1m-.2 28l-.8 1.1m3.7-30l-.4 1.5m22.7 9.5l1.4 .6m-31.5-13.1l-1.3 .5m17.2 17.4l-.4 .7m11.4-3.2l-1.3 0m-15.8-23.5l.2 .3m22.6 15.4l-.2 1.3m-5.4 19.9l.4 0m-17.2-14.5l-.7 0m-18.4-17.6l1.1 .5m22-.2l-.5 .5m-19.3-9.7l-1 .8m-2.6 21.4l0 .7m4.7-12.9l-.9 .1m12.6 24.3l-.8 .9m21.4-23.1l.6 .6m-3.2-2.7l-.4 .1m-28.4 5.9l.4 .2m20.6 8.3l1.1 .5m-11.9-.6l-.8 .3m-9.9-12.3l.9 .3m16.9 15.5l-1 .2m-15.1-27.8l-.5 .5m3.9 23l-.5 .9m20.3 16l-.6 .9m-21.6-27.9l-.7 .1m21.7 8.9l.8 0m-29.7 2.4l-.6 0m28 15.6l.7 1m4.5-30.9l.7 .4m5.8 7.7l.7 .1m2.2 13.2l.9 .1m-26.7-18.6l0 .4m-.6-2l1.1 .7m8.4 20.2l-.2 .5m-16.5-28.1l-.3 .6m3.1 24.6l1 .9m-.8-8l.1 .9m19.9 11l.4 1.1m10.5-14.3l.1 .9m-39.5 4.1l.5 .5m8 2.1l-.4 1.2m-11.3-21.6l.4 .2m14.8 25.9l-.5 .3m3.9-33.4l.9 .9m14.2 18.1l-.4 .2m-30.5-11.5l.6 .7m8.7 14.4l.6 1m30 1.4l-.7 .4m-37.9-28.3l-.3 .3m18 17.9l.8 .1m18.1-.5l-.1 .8m-34.4 8.3l1.4 .1m-4.5-3.6l-1.2 .8m14.4-15.4l.2 .4m26 28.4l1.3 .6m-22.7-11.5l-.5 1.1m-15.7-13.3l-.2 1m38.5 21.7l1.2 .2m-41.7-38.7l.3 .6m7 6.5l.2 1.3m-6.3-3l-1.3 .6m11.5-2.9l-.8 .2m-13.9 12.4l-.2 .7m28.3 5.3l-.4 .2m-10.5 6.4l-.8 .5m-.3 12.3l.4 .1m21.1-3l.2 .7m-31.7-13.2l1.4 0m33.7-5.8l.7 .2m-28.8-4.4l.1 .5m-16.3-14.8l.5 .2m19.7 3.4l.9 .4m7.6 6.4l-.6 .8m-28.9 .8l.3 .8m31.4 7.9l.4 .3m-11.4 17.2l-.4 .6m23.4 .7l.7 1.2m-26.8-33.4l-1.2 .4m-6.6 15.5l1.1 .6m38.3-4.4l-.5 1.3m-33.6 3.1l-.4 .4m36.3-6.5l.3 .4m-28.9-9.5l.7 .5m4.2 17.5l-.7 .1m-19.1-9.4l-1.4 .2m23.4 16.9l.5 .7m-20.7-8.1l-.8 .6m33.7 5l-.9 .4m-26.6-17.1l-.4 .5m38.4 15.8l-.8 0m-25.5 3.7l-.4 0m-7.6-21.1l1.1 .4m2.4 0l1.1 .8m-18 2.7l.3 .3m-4.1-17l.6 0m13.3 22.8l-.9 .3m32.2-7.9l-.5 .3m-26.9-9.7l.3 .8m1.1 2.1l-.7 .8m-10.3 9.2l.6 .7m-6.9-17.1l1.1 .9m39.5 15.3l-.4 0m-43.7-15.2l-1 .7m41.9 19.1l.2 .4m-14.4 3.9l-.3 .9m8.5-8.7l.4 1.4m-15.9 5.1l-.6 .1m-13.6-31.5l.5 .2m43.4 28.5l-.6 1.3m-33.9-9l-1.4 .2m4.3-14.9l-.5 .2m28.8 12.4l.9 .9m-35.3-1.6l1 .1m9.1 24.5l-.8 .4m-2.4 4.5l0 .4m-10.7-9.4l.5 0m33.8 4.1l.7 .3m-11-13.8l.3 1m17.9 10.1l0 .8m-9.3-.8l-.1 .3m-17-25.4l.2 1.4m-3.5 19.7l-.6 1m15.3-19.2l-.4 .1m-31.7-12.2l.4 0m18.1 24.2l.1 .4m-16.4-29.7l-.2 .6m24 15.3l-.8 .4m-9.6 20.4l-1.3 .1m6.5-19.4l-1 .8m18.6 21l1.1 .1m-12.6-25.4l-.5 .7m17.1 26.2l.8 .6m-40.7-37.2l-.5 .7m38.3 17.9l.6 .3m-14.6-3.9l-.9 .8m5.5 21.1l.1 .7m17.6-6.7l.5 .4m-9.5-1l.6 .7m-6.5-2.5l-.7 .4m13.9-2.1l-.3 1.4m-19.2-7.3l.4 .1m16.8-.2l.2 .5m-41.6-7l.1 1.1m-1.5-10l.1 .4m25.2 31.7l-1 .3m-28.8-36.9l.9 .1m24.9 38.1l-.4 .8m-14.3-39.7l.1 .9m-1.2 20.1l.5 1.1m8.6-19.8l-.5 .4m.6 31.5l.2 .4m1-34.6l0 .3m-17 7.2l.8 .9m-.9 6.4l.5 .9m20.4 4l-.4 .3m-19.3-14.4l.3 .6m4.5-2l-.2 .7m6.9-.8l-.5 .3m-1.7-3.9l-.1 .6m21.6 13.1l-.3 .9m-6.9 14.1l.7 0m-9-27.2l-.3 .3m1.1 1.5l-.7 .9m21.7 16.4l-.5 1.3m-28-7.1l-.4 .1m9.2 15.7l-.1 .3m-3.8 5.2l.1 .7m5.9-.5l-1 .7m-16.5-36.3l-.9 .4m7.2 13.1l.5 1.2m26.7 .6l-.9 .9m-26.8-13.5l0 .4m25.7 7.5l.4 1.3m-28.8-12.9l-.3 .1m39.3 23.4l1.2 .2m-38-11.7l-.4 .1m41.7 14.5l-.4 .2m-47.9-19.2l-.3 .2m12.9 6.3l-.4 .9m-10.5 .9l1.4 .5m38.1-.5l.7 .4m-19.2 4l.2 1.4m22.7 2.8l-.6 .1m-41.8-29.6l.8 .5m1.2 4.3l-.2 .4m7 15.8l-.5 .6m4.2 14.2l.6 .4m20.4 6l.2 .3m-21.2-18.5l.2 .3m-1.9 2.5l-.3 .1m23.9-6.9l1 .8m-21-5.9l-.2 .2m-24.1-5.3l.4 .1m11.8 9.2l1 .7m12.5 10.9l.1 .5m-19.4-24.1l.3 .8m5 26.4l.1 .4m19.3-5.5l.3 .9m-12.2 7.1l1.1 .2m-12-24l-1 .7m14.8 22.9l.9 .5m24.5-11.8l.4 .3m-33.9 1.8l1.4 .2m22.4 15l.2 1.1m9.2-19.9l-.3 .5m-31.8-5.4l-1.1 1m-4.6-9l.9 .2m17.1-.8l-.9 1.1m-19 .5l.7 .5m14.9 4.1l-.2 1.4m4.1 8.1l0 .6m-6.8-11.4l-.4 1.4m3.9-.1l.5 .1m-11.6 10.4l-.3 .7m6.6 14.4l0 .6m-12.5-19.2l-.4 .6m30.3 11.3l.7 .1m-2.2 4.4l1 .4m-6.9-25.5l.4 .5m16.3 16.9l1.3 .6m-18.9-2.4l1.1 .9m1.5-4.5l.2 1.1m19.4-5.6l.1 .9m-19.3 16.5l-.5 .5m-17.5-29l.9 .4m-1.9 20.4l.1 .5m21.2 5.9l.4 .1m-9.6 4.3l-.4 .7m28.4-5.1l1 .2m-25-9.8l-.2 1.2m21.9-7l-.4 .4m-30-2.5l-1.4 0m21.2-6.5l.1 .5m5.1 15.9l-.6 .5m-29.5-13.2l.4 .6m3 8.5l.6 .9m22.6-11.3l-.4 .5m-17.5 22.9l.9 .3m3-2.8l.8 .7m1.8 4.8l-1.2 .5m1-30.8l-.7 .4m-12.1 2.5l-.4 .2m31.5 17.3l-.8 .7m-19.1 1l.8 1.1m-23.2-15.7l.9 .5m42.5 1l-.9 .4m-7.3-7.8l.2 .7m.7 18.7l-1.3 .3m-3.9-18.4l1 .1m-30.8-2.6l-1.2 .5m47.1 19.2l-.3 .9m-23.4-11.2l-.4 .2m17.1-.1l-1.1 .9m-34.5-22.3l-.3 .2m12 31l-1.1 .5m.8 9.8l-.5 1.1m27.2-19.8l-.1 1.2m-19.5 2l.2 .4m-24.1-27.5l-.6 .6m34.8 27.8l-.7 1.1m-24.4-11.4l1.4 .3m1.7 12.1l1 .3m10.2-10.3l.4 .1m6.2-3.2l-.2 .6m-16.3-10.7l-1 1m23.7 23.2l-1.1 .2m9.5-10.1l-.5 0m6.7 10.1l.3 1.4m-7.3 3.4l.3 .3m-.8-11.6l-.2 .7m-12.6-14.5l-.8 .7m10.7 7.5l-.3 .6m-34.4-5.6l0 .4m32.1 18.2l-.9 .5m-16.8-8.2l1.1 .8m4.1 7.5l1 1.1m6-25.1l1.1 .8m-27.9 16.6l-.7 .1m6 3.3l-.6 1m18.8-7.9l-1.2 .6m-25.8-18.9l1.2 .8m27 4.1l.3 1m15.6 19.8l-.1 .4m-17.2 10.2l-.6 .3m-28.8-33.4l-1.1 .3m50.1 23.3l.7 .7m-16.1-7l-.6 .1m-15.9 17.3l.3 .7m19.1-32.2l-.8 .7m9.4 20.1l1 1m-30.5 9.8l.3 .1m9.7-10.1l-.2 .3m14.5-5l1.1 .7m-15.7 7.9l0 1.4m15.6-10.2l.7 .1m-40.1-24.9l.3 .2m9.3 15l.2 1.1m-12 1.5l.3 .3m25.2 6.4l0 .5m20.5 2.8l-.2 .4m-5.8 3.6l-.6 .3m-5.7-26.1l-.3 .6m-6.8 21.3l1.1 .5m-22.8-32.3l-.2 .6m35.4 17l-.5 .7m-9.7-4.8l.5 .3m-7.8-3.5l-1.3 .7m15.9 21.8l1 .2m-37.2-26.8l.4 1.3m22.2 25.7l-.5 1.3m-17-11.2l-1 .5m0 18.6l.2 .7m-.5-2.2l-.9 1.1" stroke="#7a7a7a" stroke-width="1.12" stroke-linecap="round" fill="none"/>
<path d="M305.1,158.0 L305.1,178.2 L325.70000000000005,178.2" fill="none" stroke="#3b4a6b" stroke-width="0.8"/>
<path d="M303.5,161.0 L305.1,158.0 L306.70000000000005,161.0 Z" fill="#3b4a6b"/>
<path d="M322.70000000000005,176.6 L325.70000000000005,178.2 L322.70000000000005,179.79999999999998 Z" fill="#3b4a6b"/>
<text x="302.20" y="168.10" font-size="5.9" text-anchor="middle" fill="#231f20" transform="rotate(-90 302.20000000000005 168.1)">UMAP2</text>
<text x="315.40" y="185.62" font-size="5.9" text-anchor="middle" fill="#231f20" >UMAP1</text>
<path d="M298.6 188.7h0" stroke="#8d8d8d" stroke-width="4.00" stroke-linecap="round" fill="none"/>
<text x="302.60" y="191.04" font-size="6.5" text-anchor="start" fill="#231f20" >Adjacent normal</text>
<path d="M355 188.7h0" stroke="#03967f" stroke-width="4.00" stroke-linecap="round" fill="none"/>
<text x="359.00" y="191.04" font-size="6.5" text-anchor="start" fill="#231f20" >CRC</text>
<text x="375.80" y="182.44" font-size="6.5" text-anchor="start" fill="#231f20" >Low</text>
<rect x="388.7" y="177.9" width="26.1" height="4.6" fill="url(#gblue)"/>
<text x="417.20" y="182.44" font-size="6.5" text-anchor="start" fill="#231f20" >High</text>
<text x="401.00" y="191.04" font-size="6.5" text-anchor="middle" fill="#231f20" >HEOCA distance</text>
<path d="M440.4 180.5h0" stroke="#8d8d8d" stroke-width="4.00" stroke-linecap="round" fill="none"/>
<text x="446.30" y="182.64" font-size="6.5" text-anchor="start" fill="#231f20" >Normal</text>
<path d="M475.3 180.5h0" stroke="#03967f" stroke-width="4.00" stroke-linecap="round" fill="none"/>
<text x="480.80" y="182.64" font-size="6.5" text-anchor="start" fill="#231f20" >Cancer</text>
<text x="348.20" y="207.75" font-size="6.8" text-anchor="middle" fill="#231f20" >HEOCA distance</text>
<text x="379.80" y="206.74" font-size="6.5" text-anchor="start" fill="#231f20" >Cell</text>
<text x="379.80" y="213.14" font-size="6.5" text-anchor="start" fill="#231f20" >number</text>
<line x1="322.20" y1="219.40" x2="327.40" y2="219.40" stroke="#888" stroke-width="0.6" />
<line x1="322.20" y1="217.60" x2="322.20" y2="221.20" stroke="#888" stroke-width="0.6" />
<line x1="333.00" y1="219.40" x2="342.00" y2="219.40" stroke="#888" stroke-width="0.6" />
<path d="M342.4 219.3h0m5.2 .2h0m-4.4-.4h0m0 .5h0m-1 .1h0m3.1-.3h0m-.7 .1h0m1.8-.3h0m1.6 .2h0m.8 .1h0m-6 .1h0m.6-.1h0m-1 .1h0m.7-.2h0m.7 .1h0m7.3 .2h0m-2.7-.3h0m-1.4 .3h0m-3.5-.5h0m-.1 0h0m3.3 .3h0m-3.7-.2h0m3.4 0h0m-4.2 .2h0m8.2 0h0m-3.5 .2h0m3.7-.2h0m2.2-.3h0m-3.3 .4h0m1.4-.2h0m-8.2 .2h0m2.3-.2h0m-2.6 .2h0m1.2 .1h0m5.3-.4h0m-2.6-.1h0m-2.2 .4h0m5.3-.5h0m-6.4 .4h0m-.1-.2h0" stroke="#333" stroke-width="1.00" stroke-linecap="round" fill="none"/>
<path d="M356 219.4h0m3.5 0h0m2.5 0h0" stroke="#333" stroke-width="0.90" stroke-linecap="round" fill="none"/>
<rect x="327.4" y="215" width="5.6" height="8.7" fill="#8c8c8c" stroke="#777" stroke-width="0.5"/>
<line x1="329.60" y1="215.00" x2="329.60" y2="223.70" stroke="#666" stroke-width="0.6" />
<line x1="330.80" y1="232.60" x2="340.00" y2="232.60" stroke="#888" stroke-width="0.6" />
<line x1="330.80" y1="230.80" x2="330.80" y2="234.40" stroke="#888" stroke-width="0.6" />
<line x1="356.50" y1="232.60" x2="374.30" y2="232.60" stroke="#888" stroke-width="0.6" />
<line x1="374.30" y1="230.80" x2="374.30" y2="234.40" stroke="#888" stroke-width="0.6" />
<rect x="340" y="226.8" width="16.5" height="11.6" fill="#038774" stroke="#0a6a5a" stroke-width="0.5"/>
<line x1="348.20" y1="226.80" x2="348.20" y2="238.40" stroke="#0f4f42" stroke-width="0.7" />
<rect x="319.7" y="212" width="57.69999999999999" height="28.599999999999994" fill="none" stroke="#8a8a8a" stroke-width="0.7"/>
<line x1="329.90" y1="240.60" x2="329.90" y2="242.40" stroke="#8a8a8a" stroke-width="0.7" />
<text x="329.90" y="249.04" font-size="6.5" text-anchor="middle" fill="#231f20" >0.1</text>
<line x1="346.70" y1="240.60" x2="346.70" y2="242.40" stroke="#8a8a8a" stroke-width="0.7" />
<text x="346.70" y="249.04" font-size="6.5" text-anchor="middle" fill="#231f20" >0.2</text>
<line x1="363.60" y1="240.60" x2="363.60" y2="242.40" stroke="#8a8a8a" stroke-width="0.7" />
<text x="363.60" y="249.04" font-size="6.5" text-anchor="middle" fill="#231f20" >0.3</text>
<text x="315.60" y="222.15" font-size="6.8" text-anchor="end" fill="#231f20" >Normal</text>
<text x="315.60" y="235.35" font-size="6.8" text-anchor="end" fill="#231f20" >Cancer</text>
<line x1="317.60" y1="219.40" x2="319.70" y2="219.40" stroke="#8a8a8a" stroke-width="0.7" />
<line x1="317.60" y1="232.60" x2="319.70" y2="232.60" stroke="#8a8a8a" stroke-width="0.7" />
<text x="379.80" y="222.04" font-size="6.5" text-anchor="start" fill="#231f20" >704</text>
<text x="379.80" y="235.24" font-size="6.5" text-anchor="start" fill="#231f20" >107</text>
<text x="457.00" y="207.75" font-size="6.8" text-anchor="middle" fill="#231f20" >Cell proportion</text>
<rect x="431.00" y="216.00" width="49.00" height="6.20" fill="#8c8c8c"/>
<rect x="431.00" y="229.20" width="11.76" height="7.40" fill="#03967f"/>
<rect x="442.76" y="229.20" width="37.24" height="7.40" fill="#8c8c8c"/>
<rect x="430.4" y="212" width="52.10000000000002" height="28.599999999999994" fill="none" stroke="#8a8a8a" stroke-width="0.7"/>
<line x1="431.00" y1="240.60" x2="431.00" y2="242.40" stroke="#8a8a8a" stroke-width="0.7" />
<text x="431.00" y="249.04" font-size="6.5" text-anchor="middle" fill="#231f20" >0</text>
<line x1="480.00" y1="240.60" x2="480.00" y2="242.40" stroke="#8a8a8a" stroke-width="0.7" />
<text x="480.00" y="249.04" font-size="6.5" text-anchor="middle" fill="#231f20" >1</text>
<text x="426.30" y="221.85" font-size="6.8" text-anchor="end" fill="#231f20" >Normal</text>
<text x="426.30" y="235.35" font-size="6.8" text-anchor="end" fill="#231f20" >Cancer</text>
<line x1="428.30" y1="219.10" x2="430.40" y2="219.10" stroke="#8a8a8a" stroke-width="0.7" />
<line x1="428.30" y1="232.90" x2="430.40" y2="232.90" stroke="#8a8a8a" stroke-width="0.7" />
<rect x="483.60" y="226.30" width="4.20" height="4.20" fill="#03967f"/>
<text x="490.00" y="230.64" font-size="6.5" text-anchor="start" fill="#231f20" >CRC</text>
<rect x="483.60" y="236.10" width="4.20" height="4.20" fill="#8c8c8c"/>
<text x="490.00" y="240.44" font-size="6.5" text-anchor="start" fill="#231f20" >Adjacent normal</text>
<text x="605.80" y="85.32" font-size="7.0" text-anchor="middle" fill="#231f20" >Cancer cells differential expressed genes</text>
<rect x="531.7" y="87.7" width="149.5999999999999" height="137.7" fill="none" stroke="#8a8a8a" stroke-width="0.7"/>
<path d="M560 218h0m42.3-2.1h0m-35.4 2.2h0m39.9-3.3h0m-1 4.5h0m-18-.2h0m28.9-3.9h0m-47.6 2.2h0m0-6.6h0m68.2 6.2h0m18.4 1.8h0m-73.6 .1h0m22.7-4.3h0m-17.4 .5h0m-28.8 3.7h0m104.2-.7h0m-64-1h0m4.3 1.5h0m-40.2-4.3h0m6.5 3.8h0m73.5-.5h0m15.4-4.8h0m-18.8 6.2h0m-3.4-3h0m-81.8-1.4h0m10.6 4h0m97.3-1.3h0m-75.2 .3h0m11.6-4.5h0m-8.7 .8h0m-48.5 2h0m130.2 1.2h0m-67-1h0m34 3h0m-70.9-2.3h0m54 .5h0m-59.6 .9h0m100.6-1h0m-78.2 .3h0m-32.8 .6h0m-5.1-.5h0m41.7-2.4h0m41.6 1.7h0m37-2.5h0m-74.3-1.6h0m24.8 6.1h0m39.4-2.1h0m-85.7 2.4h0m84.8-.4h0m-9.6-.3h0m-4.2-4h0m-97.3 4.3h0m27.7-.2h0m-11.7-1.9h0m-13.7-.3h0m123.2-1.7h0m-32 2.7h0m28.7 1.6h0m-58.4 .2h0m-42.3-.5h0m84.5-.9h0m-32-3.5h0m-23.6 .7h0m-15.9 1.9h0m30.5 1.7h0m-70.7-3.6h0m91 3.8h0m-12.3 .3h0m6.7-1.8h0m-52.1-.7h0m20-2.6h0m-36.7 3.9h0m-5.2 .9h0m47.5 .2h0m-41.3-2.2h0m-1.9-.2h0m55.6 1.4h0m-43-1.3h0m-7.3 1.6h0m73.4-1.3h0m-21.6-1.5h0m43.7 2.7h0m-13.5 1h0m-41.8-.2h0m-54 .2h0m87.4-1.5h0m-61.9 .9h0m-28.4-1.4h0m46.8 .1h0m-12.7-3.1h0m28.1-.8h0m-54.6 4h0m67.8-2.2h0m49.3 3.9h0m-88.5-.8h0m33.7-1.9h0m-67 .1h0m39.3-3.6h0m-5 5.2h0m-32.6 1.1h0m-.4-1.6h0m50.5-2.2h0m23.4 .3h0m-24.1 3.1h0m10.1-1.5h0m-39.4 .4h0m-23.8-.2h0m88.4 1h0m15.2 .3h0m-78.3-2.3h0m20.1-.8h0m77.9 3.3h0m-118.3-2.6h0m85.1 2.5h0m23.4-.3h0m-17.8-2.8h0m-12.2 1h0m2-.6h0m-59 .9h0m49.8 .9h0m28.3-6.2h0m-110.3 5.8h0m41.3 .7h0m-22.5-1.3h0m54.9 .4h0m52.6 .9h0m-27.1-.2h0m28.8 .9h0m-34-.3h0m-8.4-1.6h0m5.4 1.8h0m-48.4-5.8h0m-9.2 5.4h0m57.6-.4h0m-64.9-.5h0m24.1 .5h0m75.8-1.5h0m-43.7 2.1h0m-45.3-.5h0m-1.1-1.1h0m-11.3 1.5h0m83.8 .5h0m16.8 .1h0m-58.5-.4h0m-62.3-2.6h0m27.1 .6h0m-31.3 1.4h0m40.6 .8h0m19.6-1.6h0m-43.1 .4h0m88.6 .1h0m-100.1-1.4h0m18.6 .2h0m5.1 .8h0m77.8-1.4h0m11-1.6h0m-116.8 3.9h0m118.9 .4h0m-20.6 .4h0m-92.6-1.5h0m101.8-1.2h0m-46.3 .6h0m44.3 1.1h0m-60.2-.6h0m-7.5-2h0m-30.6-.1h0m-.4 0h0m16.4 3.5h0m10.8-.4h0m30.4 .4h0m25-.6h0m-77.7-.3h0m111.4-1.3h0m-32.3 1.9h0m5-.4h0m13.4 .8h0m-82.7-2.1h0m42.9 1.7h0m12.9-1.2h0m-18.1-1.8h0m-44.7 .9h0m100.3-1h0m-30.6 2.8h0m30.1-3.4h0m-49.8-1.4h0m-19.3 2h0m74.4-.5h0m-125.4 2.5h0m45.9-.9h0m54.4 .3h0m-14.7-.8h0m-14.9-1.9h0m46.6 2.6h0m-44.1-6.3h0m29.8 8.4h0m-55.7-5h0m-37.7 4h0m61.6 .4h0m37.1 0h0m-106.2-.1h0m53.4 .5h0m32.7 .2h0m-61.3-4.3h0m42.1 1h0m50.1 2.3h0m-88.3 1.2h0m24.8-2.7h0m44.1-.6h0m-13.5 3.4h0m-36.8-2.7h0m15 2.4h0m-4.1-2.8h0m-57.1 1.6h0m103.5-1.5h0m-9 2h0m-48.4-7h0m2.2 4.2h0m25.3 3.7h0m-.6-1.6h0m-47.1 1.7h0m68.3-1.1h0m-91.5-1.6h0m42.5 1.3h0m12.3-1.3h0m-9.8 .3h0m41-.1h0m23.2 2.5h0m-82.9-2.5h0m71.7 .9h0m-78.7-4h0m87.5 4.8h0m-72.7 .2h0m43.9-2.3h0m-49.7-.9h0m56.2 3.3h0m-64.1-1.2h0m39.2 1.3h0m25.5-1.3h0m-47.4 .3h0m-19.1-.6h0m-7-1.7h0m36.7 2.3h0m-39.1-1.3h0m-13.8 .2h0m94.8 .2h0m-30.2 .8h0m62.3-1h0m-44.1-.1h0m-36.3 .2h0m36.4-1.1h0m-24.2 1.7h0m44.9 1.6h0m-103.8-1.5h0m27.2-.5h0m49.3 1.3h0m-13.1 .4h0m-43.8-.2h0m22-1.5h0m-15.2 .6h0m-8.6 1.1h0m63.7-.5h0m-69.1-.5h0m57-.4h0m30.5 .2h0m-75.2 .7h0m-15.9-2h0m21.2 2.1h0m-5.2 .2h0m50.3-.6h0m11.7-1.5h0m-88.2 2.1h0m121.9-1.4h0m-75 2h0m19-.6h0m53 .3h0m-95.6-2.9h0m100.3-2.5h0m-20.2 2.6h0m-7.6 1.7h0m-51.1 1.2h0m43.6-1.1h0m18.5-.7h0m-100.9 1.8h0m36.6-.8h0m63.1 1.1h0m-65.3-1.4h0m-26.4 0h0m16.1-.9h0m19.2 .5h0m42.7-.2h0m-8.5-1.2h0m-35.6 2.7h0m-22.3-1.7h0m17.7 2.1h0m-19.3-2.2h0m1.8 .9h0m-22.7 .3h0m41.2-3.9h0m44.5 4.5h0m-29.3-3.2h0m38.6 1.3h0m-61.5 2h0m42.4-1.5h0m-15.4-1.5h0m-20.5-.4h0m-24.6 .7h0m71.9 2.6h0m38.4-3.3h0m-11.5 3.6h0m-74.3-8.4h0m7 7.1h0m2.2 1.3h0m31-.1h0m22.7-1.7h0m-24.5 1.8h0m35-4.3h0m2.9 1.4h0m-53.1-3.2h0m27.2-.4h0m-6.2 6.1h0m-30.3-.5h0m-40.6-.7h0m34.6 1.7h0m-39.6-.1h0m48.8 .1h0m24.6-.7h0m-70.8-1.3h0m45.1 2h0m35.8-2.1h0m2.3 .9h0m-82.6-1h0m96.9-.9h0m19.5 3h0m-89.9-3.4h0m52.5 2.8h0m-48.1-.3h0m79.7-1.1h0m-15.9-.7h0m-72.8 2.9h0m8.3-.2h0m-23.4-.8h0m-19-.5h0m104.8 0h0m-33.5-1.4h0m39.8 .9h0m-91.8-.9h0m79.8-1.9h0m-61 1.4h0m-7.5 2.9h0m72.7-2h0m8.5 2.4h0m-82.3-4h0m10.3 3.2h0m74.6-1.7h0m16.4-3.1h0m-10.4 2.4h0m-61.7 1.7h0m-37-2.6h0m57.9-1h0m39.8 4.6h0m-111.4 0h0m111.1-2.3h0m-100.1 1.7h0m86 .8h0m-11-1.7h0m-78.4 1.7h0m66.6-.2h0m42.5-.1h0m2-2.4h0m-81.2 1.9h0m32.8-1h0m19.3 .6h0m-75.9 .3h0m5.2-2.8h0m-21.1 2.8h0m46.2 .5h0m-13.2 .6h0m30.2-2.2h0m-56.8 1.6h0m-5 .6h0m16.6 .1h0m12-2.2h0m73.6 .7h0m-8.9-.8h0m-11.5 1h0m8-1.8h0m-28.4 3.1h0m53-3.5h0m-89.4 .3h0m35.5-2.8h0m50.9 2.7h0m-86.3 1.1h0m65.4-.5h0m-67.6 1.3h0m1.1-.9h0m50.1-.3h0m-69.1 .9h0m11.7-4.6h0m45.2 5.4h0m2.2-1.9h0m56 2.5h0m-72.8-1.4h0m-1.4 .3h0m-21.4-2h0m58.2 3.1h0m-54 .2h0m11.5-1h0m82.9-2.4h0m-8.2 .2h0m-59.3-.2h0m12.8 2.9h0m-30.2 .1h0m1.6-.9h0m-42.7-.8h0m83.8 .5h0m-66.5 1.3h0m20.1 0h0m58.8-1.2h0m-80.7-1.7h0m67.6 1.1h0m-79.5-2.5h0m53.5 3.5h0m51 .1h0m-62.3 .3h0m57.1 .2h0m-88.3 .5h0m2.7-2.9h0m35.3 1.2h0m-5.9-.4h0m36.1 1.8h0m-63-1.1h0m-12.3 1.5h0m30.1-1.8h0m42.7 .3h0m-14 .8h0m-62.7-2h0m86.7-.7h0m33.4 1.1h0m-60.8 2.4h0m-3.4-2.4h0m-24.2 .3h0m45.4 .6h0m21.6 1.1h0m-2-4.9h0m-52.6 4.8h0m51.6-.2h0m-11.6 .4h0m-58.8-2.6h0m70.5-1.1h0m17.4 2h0m-19.7 .3h0m22.7 .1h0m-5.6 .7h0m-15.7-1.3h0m-4.3 1.6h0m27.7-2.1h0m-117.5 2.1h0m110.2-3.1h0m5.3-.7h0m3.4 3.5h0m-86.6 .6h0m61-1.7h0m-86.6-3.6h0m8.2 3.9h0m57.7-4.8h0m-15.5 5.3h0m-3.1-2.3h0m-46.6 1.1h0m88.8-3h0m21.5 1.4h0m-63.4 2.4h0m-29.2 .7h0m-9.5-1.1h0m-20.8-1.6h0m73.8 .2h0m-4.3 1h0m48.6 2.2h0m-46.5-.9h0m-42.2-4.6h0m56.3 5.3h0m19.7 .3h0m-60.7-2.8h0m-5.1 .9h0m41.6-.1h0m-84.8 .8h0m127.2 1h0m-56.2-1.6h0m20.8 .7h0m.6-1.6h0m-59.4 1h0m48.4-2.2h0m-43.4 2.7h0m55.6-1h0m-74.2-.2h0m-17.8 2.1h0m47.4-4.5h0m18.1 3.1h0m-35.5-5h0m58.6 5.9h0m-46.8-3.5h0m17.2 4h0m1.5-1.5h0m20 .8h0m4.2-.4h0m-60.4-.1h0m58.1-.8h0m-1.1 1h0m-14.8 .9h0m-6.7 .2h0m-45.4-5.4h0m15.8 2.2h0m53.5 2.6h0m-58.5-2.3h0m-3 1.5h0m99.8 .4h0m-10.4-.5h0m-99 .3h0m111.2-.7h0m-88.5 .9h0m70.2 .2h0m-85.7-.2h0m49.4-.6h0m44 1.6h0m-32.4-2.8h0m-7.9 0h0m-35.4 1.1h0m-21.6-1.5h0m56.6 3.3h0m30.3-1.9h0m-46.6-1.1h0m9.6 1.7h0m-12-1.2h0m28.3-.4h0m-17.3-1h0m-64-2h0m126.2 5.4h0m-74.5 .1h0m-19.1-5.3h0m-35.9 5.8h0m88.3-2.8h0m-81.7 .8h0m37.4-1.4h0m-22.8 2.8h0m70-1.9h0m-28.4 1.4h0m66.2-1.6h0m-21.8 2.3h0m-27.5-2.4h0m-31.4-1.8h0m58.1 2.3h0m-5.5 .4h0m30.7-.5h0m-70.3 1.5h0m-12.7 .9h0m25.9-1.2h0m29.6-1.5h0m-56.2 .8h0m30.6-2.1h0m-78.1 4.1h0m38 0h0m-25.4-.1h0m81.5-1.4h0m-87.2 .5h0m114.9-2.8h0m-115 1.9h0m74.2 .2h0m-73.4 .7h0m109.7 .9h0m-54-.9h0m26.3 .1h0m29-.5h0m-7.1-2.8h0m19.4 .8h0m-87.3 1.9h0m58.8 .2h0m-20.8-2h0m48.9 3h0m-109.5-.8h0m24.3-2.1h0m-13.1 .8h0m40.3 .3h0m11.2 1.5h0m-28-.7h0m62.6 1.1h0m-35.3-.8h0m1.4 .7h0m21-2.1h0m-36.6-.8h0m-59.5 1.8h0m52.6-.3h0m37.9-1.8h0m-53.1 0h0m64.7 1.7h0m-56-.8h0m58.5 2h0m-7.4-3.1h0m-62.5 2.6h0m.4 .7h0m-20.4 .2h0m96.5-1.1h0m-76.3-47.5h0m10.9 12.5h0m-9.5 1h0m9.1 12.8h0m2.3-7.2h0m-13.1 3.3h0m3.8 1.4h0m-.6-10h0m8.3 12.5h0m2.6-27.7h0m2-21h0m-3.2 52.2h0m-8.3-10.8h0m7.5-47.8h0m-.9 67.9h0m-6 4.4h0m7.9 1.9h0m2.6-39.7h0m-6 32.9h0m-6.7-25.5h0m12.7-41.1h0m-7.4 74.5h0m4.6-35.8h0m-8.4 27.1h0m.3-55.4h0m8.8 36.2h0m-13.8-39.6h0m12.9 24.4h0m-11.1-21.8h0m.8 38h0m12.4-48.8h0m-12 63.4h0m1.5-16.6h0m11.7 20.7h0m-14.5-13h0m9.7-20.6h0m.8 24.2h0m-1.6-34.4h0m.7 52.1h0m-8.6-35.8h0m5.7 29.1h0m-7.3-29.1h0m14.9 32.6h0m-6.4 2.7h0m5.6-22.1h0m-10.4-8.1h0m9.3 20.2h0m-.1-33.4h0m-10.5 38.7h0m8.6 .4h0m-.1-24.9h0m-7.9-9.8h0m9.1 31.1h0m-10.4-40.2h0m10.4-28.2h0m-13.3 72.4h0m11.3-54.6h0m-10.8 12.2h0m3 6.6h0m1.4-.5h0m9.9 42.4h0m-13.7-48.9h0m15.1-20.3h0m-.4 21.7h0m-12.6-6.2h0m10.7 26.3h0m1.1-42.6h0m-14.6 54h0m1.2-10.8h0m3.3-37.3h0m7.1-10.4h0m-8.7 51.4h0m11.4 16.6h0m-1.3-8.2h0m2-34.1h0m-11.2 15.6h0m.4 12.9h0m8.1-50.9h0m-8.3 43.8h0m3.1 24h0m-3.8-16.6h0m0-8.5h0m-2.7 23.9h0m14.1-6.1h0m-12.2-25.6h0m12.5 28.7h0m-12.1-.3h0m10.6-23.3h0m2.5 15.9h0m-5.6-50.8h0m5 61.9h0m-.1-19.1h0m-4.1-10.8h0m1.8-1.6h0m-.7 21.1h0m-9.1-52.2h0m9.5-10.1h0m2.3-2.4h0m-12.1 61.7h0m-.3 7.2h0m13.1-55.9h0m-.2 60.2h0m-12.1-7.4h0m5.7 6.1h0m2.1-22.3h0m1.2-42.8h0m-1.4 23.8h0m-.6 7.3h0m-6.9 20.2h0m10.9 3.9h0m-1.6-15.9h0m2 19.4h0m-14.5-22.1h0m12 3.4h0m3.2-5.7h0m-13.5-30h0m13 58.2h0m-15.1-5h0m5-21.4h0m6.5-17.6h0m-.7 18.9h0m-.3-10.9h0m.8 30h0m-9.5-35.4h0m11.8-19.6h0m-9.6 63.2h0m-.4-39.7h0m10.2-7.9h0m1.4 46.9h0m-13.1-33.3h0m11.9-3.4h0m-2.4-24.4h0m-.3 .2h0m2.4 32.4h0m-10.8 27.6h0m10.8-46.6h0m-3.3-20.6h0m5.2 23.5h0m-.6-7.8h0m-14.4 22.9h0m14 34.5h0m-11.9-59.2h0m-2.1 61.1h0m10.7-23.9h0m-9.2 11.5h0m1.4-53.6h0m11.5 9.8h0m-14.4 17.6h0m2.3 18.1h0m-2.3-17.9h0m13.8-19.6h0m.6 48.7h0m.3-32.4h0m-3.9 4.9h0m.1-29.1h0m1.4 17.2h0m3.2 25.4h0m-15.6-14.1h0m1.7-4.9h0m13.9-23h0m-16.1 50.9h0m.9-40.9h0m13.8 5.6h0m-1.3-26h0m-1.8 59.9h0m-1.5 12.2h0m-9.5-27.7h0m2-15.5h0m12.8-11.5h0m-2.9-14.4h0m-11.9 33.8h0m-.8-17.6h0m.2 26.6h0m13.5 30.2h0m-10.4-46.8h0m-1.7 26.7h0m3.6 10.9h0m6.9 4.1h0m-3.9-2.1h0m3-27.9h0m-.6 36.3h0m-1-6.4h0m-9.5-18.7h0m8.7 19.9h0m-.1 1.8h0m-6.7-44.6h0m2.3-12.3h0m.4 45.5h0m-2.9-38.6h0m10.9 31.1h0m2.7-45.2h0m-11.8 25h0m-1.3 7.7h0m-1 20.2h0m11.8-62.5h0m-10.2 30.3h0m12.2 26.2h0m-2.4-14.9h0m3.2-26.6h0m-14.2 54h0m9.5-24.9h0m3.9-18.8h0m-13.4-14.9h0m2.9 47.2h0m11.6-25.6h0m-15.8 9.1h0m0 24.8h0m-.3-44.5h0m3.8-2.3h0m-3.6 11.6h0m11.8-22.4h0m0 62.7h0m-.8-68.3h0m-10.8 60h0m11.6-24.4h0m-7.8-27.1h0m5.1 60.3h0m5.4 4.4h0m.1-29.5h0m-.9 .8h0m-13.3-17.7h0m12.4 5.7h0m-2-31.6h0m-8.6 28.3h0m13.3 6.8h0m-13.4 33.2h0m-.5-.8h0m1.2-34.9h0m11.1 24.6h0m2 10.7h0m-9.5 2.8h0m-3.4-34h0m7.9 26.8h0m-.4-40.1h0m-8.4 41.4h0m-.3 1.1h0m2.2-53.4h0m8.5-1.1h0m-1.4 11.4h0m-7.9 47.6h0m-2.2-36.5h0m2.9 23.7h0m8.9-52.2h0m.7-6.3h0m-3.1 73.3h0m1.7-76.6h0m-8.2 10.6h0m11.9 64.2h0m-3.2-35.7h0m.3-21.9h0m-1-4.2h0m.3 44.3h0m-.3-8.9h0m-9.9-7.2h0m13.6-27.8h0m-1.7 1.6h0m-.4 23.6h0m-10.1 10.6h0m-2-8.2h0m.8-2.1h0m-1.4-11.3h0m12.9 8h0m-9.2-16.9h0m9.1-2.9h0m-12.5-3h0m9.5 24.9h0m4.7-.3h0m-2.9-3h0m-2.8 38.1h0m2.4-44.1h0m2.2 3.5h0m-12.9-18.4h0m14.1 36.1h0m-1.3-16.4h0m-13.7 43h0m-.1-23h0m2.8 9.7h0m.7-53.8h0m-3.1 11.2h0m14.2 7h0m-3.8-12.2h0m3 4.4h0m-2.1 20.9h0m-10.4 9.8h0m10.2-7h0m.5-5.6h0m2.1 20.4h0m1.5-44.1h0m-12.4 39.7h0m.9-29h0m9.4-11.6h0m-12.6 31.3h0m1.2-25.2h0m8.6 5.9h0m-2.1 45.7h0m5.1-33.7h0m1.7 8.8h0m-12.2-35.8h0m6.8 44.7h0m5.2-22.5h0m-1.7 2.1h0m-10.8-17.6h0m-3 40.9h0m.3 6.2h0m12.2-49h0m-8.2 48.9h0m8.2-53.4h0m-.3 .1h0m-1.6-5.3h0m-3.8 67.6h0m-4-37.6h0m-2.1 9.9h0m12.6-14.8h0m1.1-1.2h0m-9.6-7.4h0m-1.3 16.7h0m-.7-21.8h0m10 58.6h0m-.1-35.3h0m-9.4 38.1h0m-.2-18.4h0m9.2-53.5h0m1.4 31.7h0m-14-18.7h0m3.5 33.6h0m11.1-53.1h0m-3.1 32.5h0m-9.2-.2h0m10.2 28.8h0m-1.8-4.1h0m3.7 6.6h0m-10.9-1.2h0m12.5-51.3h0m-11.9 6.6h0m6.6 25.5h0m-6.4 34.5h0m6.8-70.1h0m2 3.8h0m2.8 31.9h0m-13.6-26.1h0m13.2 47.3h0m-2.3-37.3h0m.4-28.5h0m-1.5 26.3h0m-8.1 2.6h0m10.6 26.4h0m-.7-18.2h0m-11.6 21.2h0m-1.3-2.1h0m11.8 7.1h0m-12.4-44.1h0m3.8 4.7h0m-.7 54.5h0m-3-56.5h0m1.5 45.5h0m-.6-51.1h0m3.1 36.5h0m-1.1-40.5h0m-1.8 35.1h0m10.4 22.7h0m-9.2-21h0m12.1-6.4h0m-11.2 17.3h0m10.4-58.6h0m-12.5 51.5h0m0-13.1h0m4 38h0m7.5-27.3h0m-.3-25.5h0m-8.3 38.7h0m11.7-30.3h0m-5-24.2h0m-10.8 24h0m13.9 45.4h0m-1.9-79.3h0m-10.6 11.4h0m1.7 22.4h0m-2.6 42h0m11.7-47.6h0m-11.7-11h0m3.4 30h0m-.2 16.8h0m-3.4-20.8h0m14.4 9h0m-1.7-52.6h0m-12.1 19.5h0m10.6 5h0m-11-13.2h0m12.4 39.2h0m-10.9 2.6h0m13.3-17.4h0m-5.8 35.4h0m5.8-47.7h0m-11.3 31.9h0m.7 12.9h0m-2.9-19.4h0m9-6.7h0m-6.2 1.6h0m-3.4-32h0m-.1 12.7h0m12.7 4.2h0m-9.7 34.4h0m9.3-4.4h0m1.3-47.2h0m.6 42.4h0m-9.5 21.3h0m9.6-46.2h0m-.3-12.5h0m.3 23.3h0m-13.8-6.4h0m-1.5-7.6h0m10.2-13.1h0m2.1 5.1h0m-12.2 11h0m13.5-3.4h0m-13.5 20.4h0m10 1.6h0m-10.2 7.7h0m3.7 2.3h0m10.1-46.7h0m-10.8 21.8h0m12.4-28.8h0m.5 67.3h0m-11.2-9.6h0m-1.6 .2h0m8.5-6.6h0m1.1 7.6h0m-1.1-35.6h0m-11.7 37.6h0m-.4-41.2h0m3.5 55.4h0m7.5-61.7h0m4.1 49.3h0m-13.3-6.7h0m12.2-9.6h0m1.9-20.3h0m-13.9-3h0m9.9 52h0m-9.9-42.7h0m.7 34.4h0m.7 .1h0m10-41.2h0m1.5 44.8h0m-.5-10.5h0m-3.3-6.5h0m-.2 2h0m5.3-23.3h0m-3.7-17.3h0m-12.2 33.5h0m5.1 22.4h0m-.9-23.9h0m-.2 .9h0m12-6.7h0m-4.3-31.9h0m2.5 56.5h0m-1.1-4.8h0m1.4-63h0m-1.6 68.6h0m-9.7-6.8h0m12.5-54.3h0m-15.1 10.3h0m14.3-15.9h0m-12.6 30.1h0m-.6-6.3h0m-1.9-10.9h0m1.4 46.8h0m.8-24.5h0m12.7-32.1h0m.3 38.9h0m-14.6 19h0m2.9-20.2h0m10.4 7.5h0m-11.8-18.5h0m10.3 37.8h0m.6-12.9h0m-6.8 14.3h0m9.5-40.4h0m-.3 24.9h0m-14.7 3.4h0m12.6-22.3h0m1.8 23.8h0m-3.4-55.9h0m.1 30.1h0m2.4 37.1h0m-9.5-38h0m0-10.3h0m10.2 44.9h0m-3.3-36.4h0m-.4-31.2h0m-5 76h0m5.2-6.9h0m-11-13h0m.2-2.3h0m.1-42.3h0m13.2 63.4h0m-1.1-25.5h0m-11.1-12.8h0m-.7-9.6h0m.9 24.7h0m10.2-47.4h0m-.7 36.4h0m-10.9-5.8h0m3.2 25.8h0m10.1 14.4h0m-1.3-7.5h0m2.2 1.2h0m-1.1-46.9h0m-12.2 .8h0m-.9 24.2h0m13 2.3h0m1.4-12.3h0m-14.4-17.8h0m1.6 48.8h0m-1.1-45.6h0m11.1-3.6h0m-.1 15.2h0m-7.1 4.8h0m10.8 20.5h0m-14.3-13.5h0m.4 11.9h0m8.8-53.2h0m-9.7 45.7h0m3.7 9.9h0m-3.1-26.6h0m-1.5-5.4h0m14.5 37.8h0m-11.3-43.2h0m6.9 54.7h0m5-40.8h0m-11.8 9.2h0m7.4-19.1h0m.1 5.6h0m4.5-8.3h0m-.2 11.2h0m-11.4 26.4h0m-3.2 4.3h0m12.8-59.3h0m-12.8 13.2h0m-.3 9.5h0m3.2-9h0m-1.6 43.8h0m9.2-45.3h0m5.1 34.7h0m-.8-9.8h0m-14.6-26.1h0m1.8-2.8h0m13.5 30.2h0m-12 16.2h0m8.1-.4h0m3.2-51.8h0m-11.8 41.3h0m1.7 13.8h0m-3.1-53.9h0m10.9 62.4h0m-.2-71.5h0m-10.9 75.5h0m3-16.8h0m9-6.8h0m-2-32.4h0m-.8-10.2h0m-8 43.2h0m10.2-38.2h0m1.4-16.9h0m-.7 44.6h0m-1.5-29h0m-11.2 42.5h0m15-22.6h0m-13.4 23.8h0m-1.9-6.2h0m-.8-43h0m4.5 22.2h0m-3.1-11h0m11.9 51.9h0m-1.4-39.2h0m-11.9-16.7h0m11-.7h0m3-17.2h0m1.4 74.2h0m.2-55.8h0m-13.6 10.3h0m12.3 20h0m-10.5-19.5h0m.9 50.3h0m-3.1-57.6h0m3.2 51.9h0m11.2-25.5h0m-15.6-18.3h0m.3 28.2h0m.7-37.8h0m14.1 47.7h0m-13.4-43.7h0m5.8 47.6h0m6.8-45.6h0m-1.9-14.8h0m1.6 17.8h0m-1.4-10.8h0m-8.8-1.7h0m6.9 28.1h0m-.2-44.1h0m-8.9 56.3h0m.5 5.4h0m-2.5-40.4h0m11.2 55h0m-.7-15h0m-6.7 3h0m-2.1-1.7h0m12.1-29.7h0m-10.5 36.6h0m-3-25.2h0m15.6 16h0m-11.4-7h0m-1-37.4h0m1.1 40.8h0m10.8-6.8h0m-2.6-13.5h0m-13.1 3.2h0m2 6.1h0m2-4.8h0m-1.1-24.5h0m10.4-16.2h0m-11.9 21.7h0m9.4 42.3h0m2.5-46.3h0m-11.1 31.7h0m13.2 2h0m-9 20h0m6.5-27.8h0m3 3.4h0m-3.1-16.8h0m3.2-13.9h0m-3.7-17.1h0m-1 37.6h0m.9-14h0m-1.5 32.8h0m3-49.3h0m-9.4 29.3h0m6.4 25.2h0m-9.4 16.5h0m10.2-58.2h0m-9.1-9.4h0m12.2 16.4h0m-13.3 13.4h0m11.1-4.6h0m3.6-34.6h0m.2 61.9h0m.1-25.2h0m-11.6 26.2h0m6.1 5.7h0m5.1-52h0m-12.2 41.8h0m-.4-21.9h0m11.5 11.7h0m-14.6 1.6h0m15.9-19.9h0m.1-3.2h0m-15.8 1.3h0" stroke="#c2c2c2" stroke-width="2.90" stroke-linecap="round" fill="none"/>
<path d="M569.6 187.3h0m13.3-3.7h0m-5.9-45.2h0m-.2 67.1h0m5.4-58.8h0m-13.3 48.7h0m2.5-20.1h0m5.5-18.4h0m-2.6 24.1h0m-.8-7.4h0m-.9-20.3h0m3.9 24.2h0m-6.4 .9h0m2.9 14.7h0m8.9-47.3h0m0 16.1h0m-12 51.3h0m3.1-59.7h0m10.6 28.5h0m-10.5 11.8h0m3-53.7h0m-.7 64.5h0m8.6-37.7h0m-9.8-22.9h0m.9 38.1h0m4.4 11.1h0m-4.6-11.4h0m-2.8 12h0m11.8 22.1h0m-6-60.3h0m2.1 .5h0m-10.5 40.1h0m11.1-30.3h0m1.7 47.2h0m-6.5-57.4h0m5.1 53.2h0m-.1 7.4h0m.3-27.7h0m-8.7 20.8h0m5.4-48.8h0m5.6 23.6h0m-4.2 21.1h0m4.6-57.8h0m-13.4 57.9h0m8.2-60h0m-3.1 8.8h0m-6.3 5.8h0m2.2 47.4h0m11.2-11.2h0m-13.9-39.4h0m4 58.8h0m-.7-22.4h0m6.6 13.3h0m-3.8-55.4h0m3.6 59.1h0m-5.4-22.7h0m6.6-35.5h0m.5 58.2h0m-7.6-19.9h0m3.1-7.6h0m7.2-15.1h0m-5.2 40h0m.1-46.2h0m5.2-3.8h0m-14.2 18.9h0m1.1 2.8h0m-1.2 1.8h0m4.5-10.3h0m.6-12.5h0m2.9 21h0m1 2.9h0m3.6-20.5h0m-.4 24h0m-5.4-2h0m-.3 31.3h0m6.2-62.8h0m1.5 19.5h0m-6.7-7.5h0m2.6 11.2h0m-6.8 12.7h0m9.6 16.8h0m1-47.3h0m-9.9-6.2h0m4.5 9.5h0m2.7-3.3h0m-3 18.6h0m-3.8 16.5h0m2.2 21.7h0m6.3-63.3h0m-7.7 7.3h0m7.6 54.3h0m-3.4-71.5h0m1.7 42.3h0m3.5 32h0m-2.2 .2h0m2.7-4.4h0m-8.7-62.1h0m4.5 49.9h0m-.5-24.4h0m4-.5h0m-10.7 8.4h0m7.3-36.5h0m4 52.4h0m-10.8-15.3h0m9.5 23h0m-1.8-8.1h0m-4.2-22.2h0m-1.2-33.9h0m-1.3 59.8h0m.6-6.8h0m9.4 .2h0m-.4-5.4h0m-2.5-10.1h0m1.8 31h0m-1.1-38.7h0m.2 22.4h0m-5.4 15.6h0m4.1-54.3h0m-7.1 28.4h0m10-33.4h0m-9.4 17.4h0m1.6-4.8h0m-6.8 33.5h0m4-31.6h0m6-11.8h0m-3.8 52.5h0m2.7-18.8h0m-.6 27.3h0m-2.2 1.9h0m4.4-77h0m3.6 48.7h0m-7.6-9.2h0m-6.5-26.9h0m10.9 38.4h0m-2.5 16.7h0m4.4-3.1h0m2-22.9h0m-3 13.1h0m-8.2-4.3h0m9.4 25.9h0m-9.3-59.2h0m1.8 38.1h0m6.9-17.9h0m-4 36h0m1.6-70.5h0m4.2 42.7h0m-.3-23.4h0m-2.1 48.7h0m-1.9-10.8h0m-2.6 3.4h0m-4.2-28.6h0m2.5-12.8h0m3.2 41.5h0m-2.8-22.5h0m7.8-38.8h0m-12.6 67.6h0m.9-20.4h0m2.9-38.7h0m4.2-9.6h0m1.7 26.2h0m-5.4 .1h0m3.5 31.6h0m3.6-35h0m-5.2 27.8h0m.6 10h0m-4-48.1h0m8.6 48.9h0m-7.4-13.4h0m7.4-24.1h0m-2.8-22.6h0m2.4 48.5h0m-7.7-5h0m-3.9 6.3h0m14.5 9.6h0m-11.7-25.9h0m-.1 20.3h0m7 3h0m.8-37.9h0m3 56h0m-12.9-41.5h0m4-17.3h0m1.5-6h0m.2 18.5h0m5.7-23.6h0m1.4 39h0m-3.3-42.2h0m-4.2 11.2h0m5.6 10.5h0m-5.5-14h0m1.6 64.7h0m-3.3-26.9h0m2.1-3.2h0m5.3-14.4h0m-6.4-20.4h0m4.8 9.4h0m.3 19.8h0m0-45.4h0m-9.5 44.4h0m6.6-15.7h0m7.2 48.6h0m-1.6-33h0m-.8 1.5h0m-10.2 34.1h0m1.7-47.5h0m8.9 42.8h0m-5-42.3h0m4.4 2.7h0m-8.5 33.9h0m3.6-16.9h0m-3.2 13h0m7 9.6h0m-2.7-26.3h0m-2.2-28h0m-4.8-5.4h0m6.4-1.4h0m6.8-16h0m-11.4 71.4h0m-1.7-26.5h0m2.1 36.8h0m5.4-33.9h0m3.5 31.4h0m-1.9-65.7h0m-1.3 42.3h0m4.2-48.5h0m-9.7 5.6h0m7.6 11.1h0m.5-12.5h0m-8.5 34.4h0m1.7 28.7h0m6.6-73.1h0m.2 71.9h0m-8.7-46.5h0m5.1 14.7h0m-1.4 10.9h0m-2.4 25.8h0m5.6-62h0m-5.6 18.4h0m6.6-32.4h0m-7.5 25.5h0m9.4-4h0m-2.9 33.3h0m4.3-61.2h0m-.9 40.5h0m-10.4-4.7h0m2.5-2.1h0m-4.7 53.3h0m5.7-50.2h0m4.2-22.5h0m-7.1 10.1h0m6.9 5.4h0m-10.7 52.2h0m3.2-51.9h0m.1 33.6h0m10.3-27.3h0m-7.2 48h0m.3-23h0m4.5 21.9h0m-2.9-57.2h0m-5 57.6h0m10.7-49.6h0m-12.3 48.8h0m-.1-60.9h0m13.2 57.6h0m-7.6-31.9h0m-4.2 27.2h0m5.4 1h0m-4.6-21h0m4-34.8h0m6.7-18.9h0m-10.1 74.6h0m6-37.4h0m-3.4 44.4h0m1.8-73.6h0m3.5-.5h0m-11.2 37.2h0m9.9-39.4h0m-.3 11.4h0m-7 34.5h0m4.8 22.7h0m4.7-53.5h0m-1.8 10.8h0m-9.3 23.7h0m2.1-3.2h0m3.2-18.7h0m6.2 37.8h0m-4.2-50h0m-.7 62.6h0m-6.6-40.8h0m11.1 10.1h0m-12.6-4.9h0m4.1 27.9h0m0-59.3h0m9.6-16h0m-4.5 84.6h0m1.9-16.7h0m-3 10.5h0m-9-48h0m6.4-6.5h0m4.2 26.2h0m-3.8 4h0m.9-8.7h0m-2.1 41.5h0m-3.3-16.3h0m11.4-61.6h0m-.7 34.7h0m-9.2 7h0m10.7-11.2h0m-12.1 19.1h0m8.8-30h0m3.2 5.8h0m-7.6 52.5h0m1.7-79.4h0m4.8 44.2h0m-1 10.3h0m-.5-42h0m-6.9 44.3h0m8.2-63.2h0m-3.1 61.1h0m-6.1-21h0m4.9 44.2h0m5.9-3.8h0m-4-24.4h0m.2-25h0m-1 3.7h0m1.4 26.7h0m-.7-27.2h0m-9.8 24.9h0m5.7 22.1h0m6.5 3.1h0m-1.5-53.2h0m1-2.8h0m-7.5 7h0m7.1 15h0m-6.7 27.8h0m-.6-38.3h0m.2 6.8h0m.1 35.3h0m-2.4-64.3h0m4 58.6h0m2.6-22.2h0m.6 23.7h0m-6.4-53h0m10.7 57.6h0m-9.4-38.8h0m-2-27.1h0m-1.4 32.5h0m5.2-37.4h0m3.2-2.8h0m-4.8 68.4h0m-3.7-22.1h0m10.9-45.8h0m-3.5 12.2h0m-.9 46.4h0m-6.5-9.7h0m2.4-33h0m5.5 60.9h0m2.6-61.3h0m-5.9-10.6h0m-3.7 13.7h0m11.7 44.9h0m-2.1-48.2h0m-3-4.2h0m4.1 63h0m-10.2-20.1h0m8.2 4.3h0m-10.2-39.5h0m5.6 13.7h0m1.3-5.8h0m1.8-22.6h0m4.4 29.5h0m-10 1.3h0m-1.5 5.5h0m1.7-2h0m5.7 20h0m-8.8-1.6h0m12.8-44.2h0m-9.5 60.1h0m7.5-46.2h0m.6 47.1h0m2.7-47.2h0m-8.6-18.4h0m1.9 21.1h0m1.2-29.5h0m-8.1 43.6h0m1.1 25.4h0m1.4-20.6h0m.3 2.5h0m2.3 20.9h0m2.1-29.7h0m4.5-20.3h0m-12.5 13.6h0m10.6-6.1h0m-4.4 33.8h0m-1.9-28.2h0m-2 31h0m-1.9-1.9h0m1.9-49.7h0m10.9-10.7h0m-6.4 53.6h0m1.7-14.9h0m1.5 4.3h0m-9.8 21.3h0m8.1-34.1h0m5.6 20.1h0m-1.2 16.2h0m1.6-54.4h0m-1.5 23.6h0m-6.6 24.3h0m1.7-26.2h0m4.5-17h0m-6.9 13.2h0m-5.9 16.2h0m8.4 22.5h0m2.2 1.8h0m-7.4-24.6h0m2.4 1.6h0m7.4-51h0m-9.5 58.6h0m5.8-55.9h0m-2.5 67.9h0m-3.1 5.2h0m-1.4-35h0m8.9-12.2h0m-9.4 35.7h0m7.4-41.4h0m-8.6 52.8h0m7-50.6h0m-1.7-15.5h0m6 58.2h0m-11-38.4h0m8.5-32.7h0m.3 6.9h0m2.8 13.6h0m-4.9-8.4h0m.9 17.9h0m-4.9 39.5h0m-1.8 5.6h0m1.9-7.9h0m-2.5-20.7h0m11.8-46.4h0m-2.1 5.9h0m-4.9 73.2h0m-2.2-29.1h0m6.6-49.4h0m-8.8 10.8h0m4.2-7.3h0m-5.9 24.6h0m8.6 12.1h0m.4-20.1h0m2.4 19.9h0m-5.6 25.1h0m-3.5-23h0m-.1-19.8h0m11.1 5.4h0m-3.2 30.8h0m.8-8.1h0m3.9-54.8h0m-13.4 33.4h0m5.2 21.3h0m-1.8 10.9h0m3.1-12h0m.8-15.5h0m3.8-1h0m1.4 43.8h0m-1.7-1.1h0m-.4-54.2h0m-9.1 7.8h0m3.1-22.9h0m-.6 62.6h0m-2.7 8.9h0m5.3-1.7h0m1.9-17.6h0m-.3 1.3h0m-2.3-49.3h0m-6.8 46.6h0m3.2-36.2h0m-3.4 52.4h0m5.4-56.5h0m1.5 5.2h0m-3.4 46.2h0m-3.9-54.8h0m4.5 12.2h0m5.7 1.8h0m-6.3 52.4h0m1.5-13h0m-1.8-39.3h0m11.1 38.1h0m-.8-39.2h0m-8.3-21h0m8.7 19.5h0m-9.3 .2h0m4 46.5h0m-1.4-66.6h0m.2 18.9h0m-4.4 50h0m5.9-17.5h0m-4.1 14.8h0m8.6 3.4h0m-8.6-8h0m2.3-1.6h0m-5.2-26.5h0m11.4 15.9h0m.2-11h0m-6 .2h0m-.9-36.6h0m6.5 48.5h0m-2.6-52.5h0m-.8 70.1h0m-9.2-59.4h0m1.2 52.4h0m11.2-39.9h0m-2.4 40.8h0m1.7-10.7h0m-6-18.5h0m8.8 33.1h0m-7.6-33.2h0m-.5 14.3h0m-.3 10.9h0m-2.7-10h0m-4.2-37.1h0m8.2 61.8h0m5.4-35.3h0m-6.6-27.1h0m1 52.5h0m-.8-12.7h0m-3.9 14.3h0m5-34.8h0m-6.4 32.1h0m-2.1-17.6h0m4.1-1.9h0m7.6-25.9h0m1.3-11.3h0m-1 8.3h0m-1.6 31.4h0m.4-50.9h0m-9.7 38.2h0m6.3 17.8h0m5.1-6.4h0m1.4-23.7h0m-1.8-14.8h0m-4.1 22h0m-6 32.6h0m3.4-2.7h0m9.6-23.5h0m-1.2 24.4h0m-13-35.3h0m8.8 44.9h0m4.3-11.9h0m-.5-58.8h0m-3.4 36h0m-7.8 8.7h0m10.5-35.7h0m-.1 26.1h0m-3.6 34.3h0m-3.1-14.2h0m-4.9-3h0m11.7-13.1h0m-2.3 15.6h0m-2.6 20.7h0m4.6 1.5h0m-3.6-38.4h0m.4 34.1h0m-1.5-31.9h0m-4.7-10.2h0m.7 24.2h0m11.4-18.9h0m-10.2-21.2h0m3.7 13.9h0m6.2-29h0m-14.2 71.2h0m11.6-37.2h0m0 12.4h0m-9.2-25.5h0m5.7 18.8h0m-3.5 30.8h0m6.1-37.5h0m-6.3 34.7h0m8.2-24.3h0m-.8-25.8h0m-8.6 19.8h0m.9 27.8h0m9.1 7.7h0m-8.4-29h0m9.7 30.9h0m-.3-32.8h0m-2.4-20.2h0m-5.1-17.6h0m-3.2 19.8h0m.8 26.4h0m9-48.2h0m-6.2 44.6h0m3.1 11.4h0m-10.2-34.2h0m9.2-25.8h0m-.9 55.1h0m-1.9-46.4h0m-4.3 10.6h0m11 35.6h0m.7-1.9h0m-12.7-2.4h0m12.7-.2h0m-3.5-35.1h0m-.6 34.4h0m-5.8 2.3h0m.3-25.5h0m0 4.9h0m-3.6 2.7h0m12.9-18.9h0m-3.5 22.3h0m-7.7-22.5h0m7.2-2.3h0m3.4 20h0m-.8 40.6h0m.3-57.8h0m.3 48h0m-4-9.8h0m-1.9 14.2h0m-1-31.1h0m7-14.5h0m-13.2 39.8h0m1.1 14h0m12.9-1.5h0m-5.3-64.8h0m-1.4 66.2h0m-2-41.7h0m-4.1 35.2h0m9.6-58.9h0m-1.8 .4h0m3.5 10h0m-8.7-5.4h0m7.4-3.6h0m-4.5 43.6h0m6.7-19.1h0m-1.3-18h0m2.5 36.4h0m-5-51.2h0m3.4 8.9h0m-6.6 13.7h0m3.7 3.9h0m.7-25.8h0m3.4 18.3h0m-9.9-13.3h0m1.4 54.9h0m8.2-23.3h0m-2.7 12.6h0m-9-.5h0m9.8 26.7h0m-.7-16.9h0m-10.1-18h0m-.8 24.2h0m4.8-31.7h0m-3.7 14.8h0m9.8-16.6h0m.3-26.7h0m-4.4 29.6h0m-3.1-20.7h0m9.6 29.5h0m-6.6 19.7h0m-4.2-19.6h0m8.1 15h0m-7.3-13.9h0m-2.1-4h0m2.8 12.2h0m5.3 8.6h0m2.3-42h0m1.6-2.5h0m-4.1-1.7h0m-1.1 15.7h0m-7.8-9.8h0m10.6 20h0m-3.4-19.1h0m5.5-31.4h0m1.9 55.4h0m-9.7-31.6h0m4.4 8.8h0m4.4 9.4h0m-6.5 31.9h0m1-6.1h0m-5.2-6.7h0m-3.4-35.3h0m12.1 28.9h0m-6.5-2.7h0m5.9-49.9h0m-4.1 61.1h0m2.6-1.9h0m-6.6-41.7h0m8.1 28.1h0m-8.7 8h0m10.4-29.6h0m-11.2 7.6h0m9.4 51.3h0m3.3-34.4h0m-.5 2.5h0m-5.9 20.3h0m.4-11.3h0m0-22.4h0m2.4 34.2h0m.5-66.4h0m-7 78.6h0m.5-22.4h0m1-4.8h0m-.8-35.2h0m.4 60.8h0m6.6-25.5h0m1.7 9.8h0m-3.9-7.6h0m2-1.5h0m-3.7 9.5h0m1.8-9.1h0m-3.5 14.8h0m5.1 6.2h0m.5-30.4h0m-8.6 27.5h0m9.5-2.4h0m-8-6.5h0m7.2-15.5h0m-7.3-15h0m.4-16.5h0m-.6 49.4h0m2.9 .5h0m5.8-22.1h0m-10.5 5.1h0m7.1-12.4h0m-1.9 24.5h0m-8-28.5h0m5.2-1.1h0m9-24.1h0m-8.5 1.8h0m2.1 27.3h0m1.6-22.4h0m-1.5 7.3h0m.1-18.1h0m-1.8 2.5h0m7.7-13.1h0m-9.7 53.4h0m8.1 8.6h0m1.5-35.4h0m-8 47h0m.9-21.5h0m6.1 7.2h0m-4.1 19h0m3.3-75.5h0m.6 1.7h0m-7.2 35.5h0m-5.1 10.1h0m7.9 27.2h0m-1.9-9.6h0m.8-54.2h0m-2.9 46.5h0m-1.3-30.7h0m3.9 57.4h0m4.3-21.2h0m-10.8 8.1h0m4.8-57.2h0m-2.7 36.4h0m5.6 13.2h0m4.8-9.7h0m-2.5 26.2h0m-6-.7h0m-4.6-49.8h0m9.7 34.9h0m3-23.6h0m-8.6-18.4h0m-1.6-2.4h0m8.3 41.7h0m-3.8-16.8h0m4.9-38.4h0m.5 11.9h0m1.9 58.2h0m-10.5-54.3h0m-3.5 35.8h0m10.1-29.7h0m-1.1 41.6h0m-5.2-44.2h0m10.5 54.8h0m-10.7-1.4h0m6.3-37.8h0m-8.3 .7h0m8-9.3h0m-.6 49.6h0m2.9-64.8h0m-8.6 66.1h0m9.9-36.1h0m-5.7-16.9h0m-3.8 46.3h0m2.3-46.5h0m8.8 43.8h0m-11.5-37.8h0m4.7-5.3h0m-5 50.1h0m11.4-16.4h0m-2.4 8.8h0m-4.6-27.1h0m-3.4-24.8h0m3.4 59.5h0m2.5-54.2h0m-8.6 21.8h0m5.1 2.3h0m6.7 22.8h0m1.2-12h0" stroke="#231f20" stroke-width="2.90" stroke-linecap="round" fill="none"/>
<path d="M552.2 150.5h0m15.1 20.6h0m-7.8 14.8h0m-12.9-50.2h0m8.9 22h0m11.8-28.6h0m-18.3 42.6h0m7.9 8.8h0m6.1-35.1h0m-10.9 27.8h0m-4-9.3h0m10.1-41.1h0m-6.6 43.7h0m12.2-34h0m-18.5 77.4h0m19.9-70.9h0m-7-7.4h0m-3.5 36.5h0m2.7 17.9h0m8.2 21h0m-22-51.5h0m8.2-10.3h0m8.4 28.7h0m5.9-42h0m-14.8 34.6h0m8.8 17.6h0m7-38.5h0m-.8-.2h0m-1 60.8h0m-16.7-10.9h0m17.4 2.7h0m.4 13.7h0m-4.7-49.7h0m6.3 30.4h0m.6 2.2h0m-9.3 2.2h0m10-56.2h0m-2.1-13.7h0m-4.1 48.9h0m-.5-46h0m.1 79h0m1.3-28.4h0m4.7-52.5h0m-8.3 85.7h0m5.2-65.1h0m-.5 .2h0m3.1 1.3h0m-1.9-15.8h0m-10 39.8h0m9.7 24h0m1.5-35.6h0m2.5 26.1h0m-1.8 24.9h0m1.6-18.1h0m-5.7-68.3h0m1.9 82.9h0m-.7-82.7h0m2 32.8h0m.9 15.8h0m-4.8 7.3h0m4.3 4.4h0m-9.6-39.2h0m4.7 10.6h0m-3.2 26.5h0m6.3 21.1h0m1.7-35.3h0m2.1-43.3h0m-13.9 51.7h0m7.7 30h0m.3-26.5h0m1.9-44.4h0m-2.2 44.5h0m-5.5 3.3h0m10.6 13.2h0m1.9-18.1h0m-2.8-40.4h0m-1.8 44h0m-2.8 5.7h0m0-33.6h0m-3.5 9h0m8.9 47.3h0m-5.9-28.7h0m-1.7 2.6h0m8.8-65h0m-.5 61.9h0m-3.9-42.9h0m4.4-14.7h0m-.9 16.7h0m-2.4 .7h0m2.7-21.7h0m.2 77.7h0m.7-38.5h0m-1.4-28.2h0m.2 46h0m-1.2-21.1h0m-2.2-13.2h0m-1.2-21.2h0m1.9 12.9h0m-1.3 42.6h0m-.5 .7h0m3.9 2.2h0m-9.9-35.2h0m6.4 32.5h0m-5.2 1.3h0m1.3 3.7h0m7.3-64.5h0m-7.8 84.2h0m-7.4-10.9h0m16.6-46.4h0m-7.2 64.2h0m7.2-52.8h0m-2.9 25.7h0m-1.2-20.2h0m3.9 29.2h0m.7 14.4h0m-2.8-6.5h0m-1.2-12.1h0m2.4-34.5h0m-5.6 31.5h0m2.9 17.4h0m-5.4-4h0m8.9-13h0m-11.1-30h0m7.4 46.4h0m-.2-74.1h0m-2.6 44.9h0m3.3-50h0m1.7 7.7h0m1.3-2.4h0m-.4 59.6h0m-9.2 10.3h0m5-1h0m-1-6.8h0m3.4-69.3h0m-3.7 33.5h0m6.2 59.2h0m-7.1-51.2h0m3.6-36.3h0m6.3 11.2h0m10 1.6h0m-2.7-4.5h0m-3.7-19h0m2.1 27.7h0m2.2-16.5h0m-.6 20.7h0m-3.1-12h0m4 7.6h0m-11.9-13.3h0m8.6 14h0m3.6-9.6h0m-9.8-15.8h0m6.2 9h0m-5.2 19.8h0m-3.6-16.1h0m11.9-8h0m-13.4 .5h0m1.7 20.2h0m.3-18.1h0m-4.1-2.8h0m3.2 24.2h0m4.8-32.2h0m7.1 16h0m-14.6-15.8h0m15.4-.1h0m.5 28.5h0m-9.7-4.7h0m10.8-9.8h0m-17-10.7h0m15.9 28.1h0m-5.8-7.9h0m.1-16.1h0m-1.2 12.7h0m1.3-19.8h0m-1.8 7.2h0m4.4-5.1h0m-3.6-.5h0m-.9 9.9h0m-4.9 13.5h0m1.3-17.4h0m3.5 19.2h0m3.4-.2h0m-7.5-25.1h0m-15.7 83.6h0m9.8 2.8h0m-19.5 7.6h0m18.9-8h0m-1.2-1.3h0m-20-.9h0m16.3 11.4h0m-18 1.2h0m26.2-1.9h0m-27 2.7h0m21-6.3h0m-21.6-6.2h0m13.9 14.7h0m-11.4-16.9h0m10.8 7h0m3.8 3.7h0m7.8-2.3h0m-4.6 3.9h0m-7.3-7.2h0m-8.3-.4h0m4.4 10.6h0m-7-2.3h0" stroke="#231f20" stroke-width="3.20" stroke-linecap="round" fill="none"/>
<path d="M601.2 179.8h0m6 2.9h0m-4.4-38.1h0m3.2 49h0m5.8-21h0m-7.6 25h0m-1.1-7.3h0m3.4-26.7h0m-3.4 20.7h0m-2.4-43.1h0m5.2 24.6h0m6.5 25.7h0m-10.9-4.1h0m10.3-52.1h0m-1.5 50.5h0m-6.7 11.4h0m5.8-52.6h0m-5-3.8h0m-1.1 30.2h0m3.1 3.5h0m-1.5 28.1h0m4.4-8.9h0m-5-35.6h0m-1.5-16.7h0m10.4 19.4h0m-.9-10.3h0m.7 11.5h0m-10.5-27.9h0m4.4 1h0m5 40.5h0m-.7-2.9h0m-8-19h0m3.9 30.3h0m3.9-32.1h0m-2.7 16.4h0m-2.7-2.7h0m-4.5 19.3h0m9.1 3.8h0m.2-20.5h0m-1.3 12.3h0m-5.7-21.4h0m-1.3 35.6h0m6.5-34.3h0m-3 43.2h0m1.6-43.8h0m-5.1 10h0m8.5 19.2h0m.2 .3h0m-8.8-14.9h0m4.1-14.6h0m5.9-24.9h0m-6 23.4h0m-.1-11.9h0m7.2 19.2h0m-.1-20.4h0m-3.3 12.4h0m-7.5-9.9h0m4.9 44.2h0m4.8-37.7h0m-8.4 50.6h0m.6 10.1h0m3.1-35.1h0m1.1 7h0m-1.1 23.6h0m-.2-50h0m4-27.2h0m-2.2 79.6h0m-7.3-62.3h0m10.9 52.8h0m-10.7-27.3h0m1.5 6.1h0m-.9-17.9h0m7 9.6h0m1.6-34.8h0m-7 20.2h0m9.7 47.2h0m-12.1-67.4h0m1.1 17.6h0m7 36.2h0m1.5 18.2h0m-5.5 6.7h0m5.9-.8h0m.4-28.1h0m.7-34.7h0m-6.2-11.4h0m-3.9 54.7h0m11.5-45.4h0m-2.4-2h0m1.4 22.8h0m-1.7 37.3h0m-7.4-12.6h0m-2.7-53.3h0m9.9 2.2h0m-1.6 15.2h0m-5.8 33.5h0m-3.1-19.2h0m1.9-10.9h0m7.4 24.7h0m-7.9-50.5h0m7.3 23.1h0m3.6 48.5h0m-4.7-65.3h0m2.7 27.7h0m-7.4-34h0m9.4 42.6h0m-3 25.7h0m-.5 7h0m3.4-36.3h0m.4 27h0m-11.8-37.6h0m1.1 35.2h0m9.2-10h0m-5.7-26.4h0m-5.3-5.7h0m5.5 50.1h0m2.7-45.5h0m-4.5 40.3h0m5 3.8h0m-4.3-19.6h0m2.7-46.8h0m-.7 60.5h0m4.3-2.5h0m2.4-6.2h0m-3.2 6.3h0m-3.5 10.9h0m1 3.6h0m-4.2-51.7h0m-1.9-25.8h0m6.6 29.9h0m-3.7-16.1h0m4.1 65.5h0m-2-57.1h0m-2.5 33.7h0m7.9 2.6h0m-10.9-17.7h0m5.9-17.2h0m-3.5 21.4h0m-1.2-41.9h0m2.4 58.2h0m-1.5-7.7h0m-1.8-32.3h0m1.6-1.7h0m-1 4.9h0m7.3 6.1h0m1.4 32.3h0m-7.7-67.3h0m-2.8 68.8h0m12.8-40.6h0m-9 38.4h0m-2.8-50.4h0m7.1 67.1h0m-.5-46h0m-4.4-9.3h0m6-22.2h0m-4 .4h0m-4.4 57.3h0m5.9-40h0m1.1 40.6h0m2.5-35.5h0m-5.4 .2h0m5.6 45h0m2.5 .1h0m-7.3-26.9h0m-3.6 36.3h0m4.2-32.7h0m-5.3-33.7h0m.2 64h0m.9-53h0m-1.1 14.6h0m3-9.3h0m-1 18.1h0m3.9 29.1h0m-2.1-32.7h0m5.5-30h0m-6.5 16.2h0m.8 5.5h0m-3.5 35.2h0m6.9-69.4h0m-.4 1.1h0m-5.3 7.4h0m-2.1 9.5h0m11.6 30.1h0m-10.4 26.4h0m.1-79h0m10.9 24.3h0m-.5 39.9h0m-6.1 8.7h0m-3.4-11.9h0m10.8-11.9h0m-6.3 14.1h0m-5.9-6.1h0m11.8-12h0m-10.5-35.2h0m1.9 33.3h0m.9-36.6h0m-1.2 65.1h0m5-27.3h0m3.2-26.8h0m-.5 61.8h0m-5.8-76.7h0m5.4 50.1h0m-1.2-8h0m.7-41.6h0m-7.2 38.3h0m-2.7 37.6h0m5.9-75.7h0m5 77.1h0m-2.1-9.4h0m.7-20h0m-4.8-47.3h0m5.3 43.5h0m-4 36.2h0m1-69.4h0m.4 52.9h0m1.4-60.2h0m-3.1 41.9h0m7 27.1h0m-8.6-42.9h0m-.5 12.1h0m-4.2-35.9h0m10.7 6.4h0m-9.5 7.4h0m4.4 3.5h0m3.5-27.9h0m-1.1 46h0m3.1-44.2h0m-2 21.2h0m3 5.5h0m-5.2-2.1h0m-1.3-11.5h0m7.7 30.9h0m-4.9 17.6h0m-2.6-7.6h0m-5.4-24.2h0m1-13.1h0m3.4 9.5h0m-1.6-23.5h0m1.2 62.5h0m5.3-45h0m2.4 46.3h0m-5.2-46.3h0m4.7 27.1h0m-11.3-21.4h0m12.2 19.4h0m-1.2-11.6h0m.9-32.3h0m-11.8 46.9h0m12.5 34.6h0m-8.2-37.8h0m5.4 27.4h0m-1.4-62.2h0m-1.1 35.7h0m3.1-24.5h0m-1.4 61.8h0m-4.4-5.1h0m-.5-55.5h0m-2.9 9.3h0m7-16.1h0m2.7 60.4h0m-.4-53.5h0m2.2-13.9h0m-3.1 46.8h0m-3.1-58.6h0m.8 61.4h0m-7.3 10h0m2.3-39.5h0m3.3 50.5h0m5.2-70.1h0m-7.2 1.5h0m5-7h0m-3.5 18.3h0m4.5 3.5h0m3 2h0m-2.6 17.6h0m-1.2-14h0m-9.1-27.2h0m4.8 18.1h0m8.5 48.5h0m-10.6-13h0m-2.7-28.6h0m4.2-4.8h0m7.6 56.7h0m-.8-14h0m-2.8-39.7h0m-4.3-2.1h0m3.7 .9h0m-3.8 55.6h0m5.8-4.6h0m-3-2.6h0m2.3-63.6h0m-.1 67.4h0m-2.2-23.7h0m-5.8-47h0m-.8 60.5h0m4.2-6.3h0m8.7-37.8h0m-9.1 38h0m1.5 1.8h0m-1.9-33.7h0m5.6-8.6h0m-4.6-5.2h0m8.3 46.8h0m-2.4-13.3h0m2.2 6.7h0m-3.7 26.4h0m-1.6-64.3h0m2.6 60.7h0m2.8-79.8h0m-8.9 82.6h0m-2.2-83.8h0m4.1 44.9h0m-5.7 11.3h0m11.1 9h0m.3 7.9h0m-7.7-40.6h0m8.8 22h0m-2 27.4h0m-.5-9.5h0m-2.9 9.2h0m1-7.4h0m-7.4 2.4h0m11.3-64.2h0m-3-8.4h0m2.6 80.6h0m-3.7-10.5h0m-6.1-10h0m7.2-19.8h0m-6.9-37h0m1.2-7.3h0m-1.3 7.8h0m-1.7 35.8h0m.3-34.4h0m6.8 49.5h0m-5.7-9.9h0m1 34.3h0m3-15.4h0m-3-54h0m5.6 27.1h0m1.3-20.8h0m1.9 58.7h0m-10.4-47.9h0m10.4-16.6h0m-1.5 62h0m-7.4-32h0m1.6-8.4h0m9.1 42.8h0m-9.5 2.2h0m1.9-66.1h0m-.1 54.8h0m6.9 1.4h0m-11.7-10.7h0m-.2-41.4h0m-.3 60.7h0m1.2-26.5h0m10.1 31.8h0m-5.4-47h0m6.9 1.6h0m-7.6 5.2h0m2.2 3.7h0m3.9-26.9h0m1.8-17.5h0m-13 50.6h0m10-42.9h0m-7.2-11.2h0m4.1 51.3h0m-.7 15.4h0m-4.3-8.8h0m3.9-48.1h0m-1.8 13.1h0m5.9 14.7h0m-10 13.5h0m4.5 5.7h0m1.4-22.3h0m-2.7-8.6h0m1.8 7.8h0m1.3 2.1h0m1.5 16.6h0m3.3-28.3h0m-6.4-12.5h0m2.8 69.5h0m-4.7-58h0m10.1 .3h0m-13.2 5.7h0m8.8 34.4h0m2.1 19.7h0m.1-31.4h0m-3.5-17.4h0m4.3-26.1h0m.8 67.3h0m-6.8-60.9h0m4.5 34.1h0m-7.4-43.2h0m7-2h0m-3.9 43.7h0m0-3.4h0m5.8 33.1h0m-3.5-31.1h0m-3.9-40.1h0m7 75.1h0m0-23.1h0m-6.7-46.8h0m.7 5.9h0m6.4 66.2h0m-9.2 .6h0m3.8-74.2h0m4.1 2.4h0m-4.7 23.8h0m2.7 11.3h0m2 19.1h0m-1-.4h0m-1-10.7h0m3.2 14.4h0m-10.4-1h0m7.4-21.5h0m-5.7 25.6h0m7.2-31h0m1.3 8.1h0m.2 27.2h0m-5.9-42.1h0m5.5-5.4h0m-.2-27.1h0m-3.2 62.1h0m1.5-18.3h0m-2.3 10.7h0m-6.7-48.5h0m9.4 55.4h0m-1.6-25.2h0m-7 5.5h0m3.5 9.2h0m2.8-22.1h0m.2-16.5h0m-6.5 27.5h0m1.3 26.7h0m8.4-22.5h0m-4.3 7.7h0m4.1 5.5h0m-1.2-2.4h0m-3.3 20.2h0m-2.2-78.3h0m6.8 13.8h0m-4.9 45.6h0m2.5-55.3h0m-5.9 14.6h0m4.4-12.8h0m-2.1 64.3h0m4.9 10.6h0m1.2-17.3h0m-5.7-35.9h0m-3.4-22.1h0m7.2 43.1h0m-1.5 5.5h0m-.1 23.1h0m-2.4-76.3h0m-3.3 82.7h0m-.5-18.5h0m6.5-2.8h0m-2.3-13h0m-.5-47.4h0m-.6 24.2h0m1.7-2.4h0m-5.8-14h0m12.8 31.6h0m-4.2 31.6h0m2.5 2.5h0m1.2-18.4h0m-8.7-47.8h0m8.1-5.7h0m-8.1 18.2h0m7 18.4h0m-1.5 31.5h0m2-11.4h0m-9.4 14.9h0m5.9-69.8h0m-.3 18.5h0m5.9-23.9h0m-7.7 46.9h0m.9-22h0m3 7.9h0m-7.3-29.6h0m8.7 33.8h0m-3.6 25.4h0m-.5-40.8h0m-1.5 11.4h0m2.1 36.5h0m-2.7 13.4h0m7.1-13.9h0m-3.8 13.1h0m-7.1-9.7h0m7.8-51.8h0m-1.7 55.6h0m1.5-32.8h0m4.1 8.1h0m-8.8-10.6h0m7.8-27.4h0m-11.7 15.5h0m5.6 .7h0m.3 43.9h0m-2.6-36.8h0m2.7-1.6h0m3.9 0h0m-6.1-23.8h0m5.1 27.1h0m-7.8 15.1h0m9.8-28.4h0m-9.6 26.5h0m0 24.2h0m11.8-40h0m-3.5 49.7h0m-2.4-79.1h0m2.3 62.5h0m-1.9-58.9h0m2.7 25.5h0m1.2-35.5h0m-1.9 77.6h0m3.3-44.1h0m-1.1 12.8h0m-2.5 37.3h0m1.2-74.3h0m-3.4 58h0m4.6-28.6h0m-8.1-23.7h0m6.5-14.5h0m-9.6 31h0m1.9 21.2h0m-1.5 21.1h0m3.7-61.2h0m-2 13.1h0m2.7 6.5h0m1.2-2.4h0m2.3-23.3h0m.4 12.3h0m-3.3 60.6h0m-1.1-56.3h0m8.5-6.7h0m-5.7 42.5h0m.3 11.8h0m-.7-5.5h0m-3.3-27.6h0m-2.8-9.7h0m-1 29.3h0m1.1 17.4h0m-1 8.7h0m12-16.7h0m-7-65.5h0m-.5 27.3h0m5-16.3h0m-.8 22h0m-6.4-14.5h0m10.4 4.3h0m-6.3 4.6h0m-2.9-16.4h0m4.6 60.7h0m-3-10.6h0m7.8-21.7h0m-4.6 6.4h0m-2.4 29.9h0m-2.1-70.3h0m.5 7.2h0m0 37.5h0m8.1 30.4h0m-.1-18.7h0m-2 13.9h0m-5-36.6h0m3.7-12.5h0m3.4-26.5h0m-10.3 4.6h0m2.3 43.5h0m1.9 18.4h0m1-2.9h0m.6-60.8h0m-2.6 21.9h0m.5 41.8h0m0-31.3h0m6.1-7.5h0m-5.9 32.2h0m7-31.8h0m-2.1 24.2h0m-8.1 20.3h0m3.6 5.4h0m5.5-52.8h0m-11.2 43.4h0m3.1-42.9h0m6.2-15.7h0m1.2 47.3h0m-.7-56.9h0m-4 9.1h0m6.7 17.2h0m-10.9-17.9h0m4.5 49.6h0m6-1.9h0m-3.4 9.2h0m-7.5-5.8h0m9.1-48.3h0m-1.4 44.9h0m-.1 25.2h0m-5.6-42.8h0m4.9-31.6h0m-8.5 68.1h0m8.2 5h0m-.8-72.4h0m2.2 3h0m1.9 68.9h0m.5-78.3h0m-12.2 67h0m10.2-9.3h0m-7.4 8.1h0m7.1-34.5h0m-6.3-27.8h0m.9 57.9h0m-2.4-52.8h0m10.2 10.6h0m-2.9-12.4h0m-1.4 15.7h0m1 50.5h0m3.8-40.7h0m-5.5-18.1h0m-2.6 67h0m-1.3-74.1h0m5.7 53.8h0m-8.8-2.5h0m7.2-30.9h0m5.1-30.9h0m-11.9 20.2h0m1.2-16.2h0m8.3 71.3h0m-6-18.5h0m2.3-20.1h0m-6.1-20.8h0m6.9-14.6h0m-1.5 32.2h0m4.3-18h0m-8 53.3h0m4.1-18.9h0m-4.1-27.6h0m.7 22.7h0m3-34.1h0m5.1 13.7h0m-5.4 30.2h0m-3.9-34.7h0m1.8 65.5h0m3.8-75.3h0m.7 67.6h0m-.8-16.9h0m.5-15.8h0m-2.7-42.6h0m4.6 37.9h0m.6-33.9h0m-1.2 79.2h0m-5.1-53.6h0m5.3 43.6h0m-1.5-23.4h0m4.8-22.4h0m-1.2 21.4h0m-10.2 30.8h0m2.4-23.9h0m3.6-12.5h0m-.5-31.1h0m-1.4 1h0m4.3 48.3h0m.4-27.4h0m-5.4-24.7h0m4.9 46h0m-2.1 17h0m-2.6-63.9h0m1.1 51.2h0m1-1.8h0m5.1-29.4h0m-6 14.9h0m-3.8 2.3h0m-1.6-13.1h0m5.8-21.2h0m5.3 33.6h0m-.4-22.8h0m-4.7 51h0m.2 7.2h0m1.4-48.5h0m-.2-1.6h0m1.6 9.4h0m-2.1 43h0m-2-34.6h0m3.1-25.8h0m-.8-22.4h0m1.6 55.3h0m-.5-2.9h0m-5.3-45.6h0m4.9 1.1h0m-5.7 50.5h0m8-1.7h0m1.3 7.6h0m-4.5-45.9h0m-6.9 43.7h0m9.9 11.8h0m-3.3-60.3h0m.9-8.8h0m3.8 24.3h0m-8-5.9h0m-2.8-22.9h0m2.9 20.1h0m3.1-12.3h0m1 48.6h0m4.2 19.7h0m-4.6-33.6h0m.8-22h0m-1.9 20.5h0m3.9-1.9h0m-2.1 30.7h0m-3.4-5.7h0m4.3 11.7h0m-9.4-58.4h0m6.2 16.6h0m-5.3 30.9h0m-.6-37.9h0m9.8-5.7h0m-9.3 31.1h0m-.4-53.7h0m11.6 25.8h0m-9.6 6h0m.5 30.8h0m10.2-28.9h0m-.2-14h0m-3.8 7h0m3.8 1.4h0m-9.6 3.9h0m3.7 27h0m.9-37.3h0m-1-1.4h0m-4.7 28.9h0m.1-42.6h0m9.9 50.7h0m-7.8 9.7h0m8.4-.1h0m-9.6-31.7h0m6.7 31.7h0m-8.3-7.3h0m3.4-15h0m1.4 19.7h0m3.1-28.6h0m-5.7-7.2h0m7.7 53.2h0m-1.5-70.7h0m-10.2 13.7h0m1.2-14.8h0m7.5 53.3h0m-3.1-49.4h0m6 57.2h0m-6.8-6.7h0m1.3-6.7h0m4-34.3h0m-9.3-22.5h0m0 75.7h0m6.1 8.1h0m2.2-20.2h0m-2.4-30.3h0m1.2 49h0m1-37.1h0m1.3 4.1h0m-5.6 12.5h0m.7-24.6h0m-2.9 34.3h0m-.9-50.6h0m5 42.4h0m-.8-58.4h0m-1.5 19.6h0m-.7 2.8h0m5.8 17.3h0m-6.5 15.4h0m4.2 4.9h0m-1.2-27.9h0m-1.3-1.2h0m-2.1 10.9h0m6.9 35.3h0m.6-10.3h0m-4.1-4.7h0m6-8.2h0m-7.5-17.2h0m8.3-28.7h0m-11 57.4h0m5.1-48.2h0m-.3 14.3h0m-4.6 7.4h0m2.3 22.8h0m5.8 7h0m-.1-56.9h0m-2.9 36.1h0m4.6-33h0m-8.6 59.3h0m.5-7.9h0m-1.7-59.9h0m-1.7 33h0m12.7-32.9h0m-11.1 48.2h0m10.1-55.2h0m1.1 27.8h0m-5.3-.2h0m-4.8 5.7h0m10.9-3.2h0m-4.3 21.5h0m2.8-39.3h0m-4.8-13.7h0m2.9-.9h0m13.1 37.1h0m-8.2 12.1h0m-1.3 26.3h0m4.4-48.5h0m-3.3-26.4h0m3.2 50.3h0m1.1 22h0m-4.2-20.3h0m-.4-53.2h0m5.9 59.8h0m-5-46.5h0m7.7 49.4h0m-9.1 10h0m13.1-15h0m-8.3 1.3h0m5.7-6.5h0m-4.6-11.2h0m-.9-19.7h0m-3.6-18.6h0m1.2 38.9h0m-3 38h0m.9-30.8h0m1.2 27.3h0m3.6-15.1h0m-3.8 4.6h0m1.7-5.4h0m1.8-28.4h0m2.7 12.3h0m-3.7 25.3h0m-2.8-46.1h0m3.4 16.7h0m8.7 38.4h0m-13.2-72h0m3.6 54.2h0m-2.5-20.6h0m8.6 25.4h0m-.7 6.9h0m-3.5-24h0m.4-18.4h0m-3.6 44.5h0m4.5-48.8h0m-4.6-3h0m2.6-4.4h0m5 25.2h0m-5.3 2.1h0m-4.9-30h0m1.4 64.3h0m6.3-21.1h0m-4.1 14.8h0m1.2-3.9h0m-1.3 2.2h0m3.3-15.2h0m-4.8 24h0m-.8-19.2h0m.9 12.1h0m4.4-37h0m-3.9 35.8h0m-1.7-9.9h0m4.8 19.3h0m-2.2-45.8h0m7.5 26h0m-5.5-1.5h0m-1-38.1h0m-.5-3.8h0m-1.3 42.1h0m2.8-40.6h0m.7 59.4h0m-4.5-10.5h0m-.2-52h0m.2 41.7h0m.4-34h0m1.6 48h0m-2.4-21.4h0m13.9 24.2h0m-7.9 1h0m-5.1-39.2h0m.7 40.7h0m10 1.9h0m-11-74.3h0m-.1 16.6h0m7.5 14.1h0m-3.6-12.8h0m-2.1 14.8h0m2.5 6.5h0m-.4-.2h0m-5.2-31.5h0m3.6 33.9h0m9.2 26.2h0m-12.6-40.5h0m5.7 35.1h0m-.9-39.3h0m-5.1-21.9h0m-.4 41h0m3.7 24.2h0m-1.5-10.7h0m4.3-7.7h0m-.9-1.2h0m-3.8 17.9h0m8.7-9.6h0m-6.4-7.4h0m-.8 2.6h0m1.8 17.9h0m-3-9.8h0m.3-29.2h0m4.6 29h0m-5.5-38.7h0m.9-1.9h0m-2.1 19h0m2.2-28.5h0m-2.5-4.8h0m2.5 64.9h0m2.8 3.2h0m-1.9-53h0m4.3 7.7h0m-6.1 32.6h0m3.3 6.7h0m4.3-.1h0m-6-10.7h0m3.5-4.2h0m-4.1-30.3h0m-1.8 24.4h0m12.5 4.4h0m-11.7 5.9h0m1.8 5.6h0m-1.7-61.2h0m1.7 28.4h0m-2.4-20.5h0m.8-10.5h0m2.5 35.9h0m-3.5 1.3h0m-.4-20.9h0m9.3 39.8h0m4.2 8.7h0m-12-56.3h0m2.2 68.7h0m1-41.1h0m-2.3 44h0m-2.1-47.4h0m2.9-22.3h0m.7 41h0m-2.9-13.4h0m.7 2.9h0m2.6 34.6h0m7.4-12.1h0m-2.2-22.3h0m-3.2-2.3h0m-5.2-4.1h0m3.9-13.4h0m1 57.2h0m1.5-35.7h0m-1.3-1.1h0m-2.7 9.5h0m1-8.4h0m2.4 18.5h0m-4.3-26.7h0m2.7 26.8h0m-5.4-44.3h0m-.1-9.1h0m11.9 53.5h0m1.4 12.6h0m-13.4-68.6h0m2.7 19.8h0m6.7 28h0m-5.4-9.3h0m-.5 5.8h0m.8-14.8h0m-2.7 19.4h0m4.3 21.6h0m-3.2-11.9h0m-2.3-27.2h0m3.5-20.6h0" stroke="#03967f" stroke-width="2.90" stroke-linecap="round" fill="none"/>
<path d="M610.2 130.1h0m5.7-12.4h0m4.4 16.9h0m1-18.6h0m-.9 18h0m-4.8-3.4h0m.6-10.1h0m.8 4.2h0m.7 4h0m-16.1-3.5h0m16.1-3.4h0m-13.3 4.7h0m7.4-13.4h0m5.4 3.3h0m-1 19h0m-2.4-16.9h0m-.9 11.8h0m-10-11.3h0m4.2 15.3h0m1.5-8.5h0m7.6-6.3h0m1 9.3h0m.4 4h0m-12.5-8.6h0m.4-10.1h0m9.5 7.3h0m6.5 5.7h0m-13.4-10.3h0m3.3-.3h0m2.3 4.1h0m-2.4 13.2h0m-9.1-6h0m18.2-2.9h0m-6.4-9.4h0m7.5 10.5h0m-18-7.3h0m13.1 4.1h0m4.5-8.5h0m-4.1 16h0m3.7-11.1h0m.3 4.7h0m-12.9-5.5h0m12.3-2.5h0m-7 13.3h0m-9.3 2.4h0m1.3-9.5h0m3.8 9.7h0m5.4-14.3h0m-4.6 8.9h0m1.4 3.9h0m1.3-7.2h0m1.9 2.7h0m-11.1-4.7h0m10 13.1h0m-2.1-6.1h0m.3 2.5h0m-6.5-.6h0m16.4 3h0m-10.2-5.4h0m5.2 1h0m-6.9-12.6h0m3.6 19h0m-7-15.3h0m.1-3.6h0m6.5-1.8h0m2.3 2.4h0m3.9 14.6h0m2.3-12.3h0m-2.6 9.7h0m2.2-7.4h0" stroke="#03967f" stroke-width="3.10" stroke-linecap="round" fill="none"/>
<path d="M637.5 159.1h0m12.3 44.8h0m-10.4 2.7h0m20.1 8.6h0m-18.9-12.9h0m20.7-38.9h0m-14 32h0m.2 19.1h0m8.8-33.3h0m-27.1 27.8h0m8.8 1h0m10.2-35.9h0m-16.7 6.7h0m25.1 10h0m-12.7 6.7h0m-7-19.6h0m18.3 20.8h0m-3.5 3.3h0m-3.8 13.5h0m4.1-.8h0m1.6-20.3h0m8.3 16h0m-18.1-20.3h0m-6.6-11.5h0m5.8-15.2h0m-9.9-20.4h0m1.6 5.1h0m3.3 21.6h0m-.8-11.4h0m-6.6 43.2h0m-6.5-58.5h0m-1.7 8.9h0" stroke="#03967f" stroke-width="3.20" stroke-linecap="round" fill="none"/>
<path d="M553.4 95.3h0m13.1 10.9h0m-3.3 6.8h0m13.2-1.7h0m-18.9 10.1h0m13.1-2.5h0m-14.8 11.4h0m5 5.1h0m1.6 10.2h0m-8.2-11.5h0" stroke="#231f20" stroke-width="2.70" stroke-linecap="round" fill="none"/>
<path d="M628.2 96h0m-5 3.8h0m-4.9 5.1h0m1.6 5.1h0m9.9-3.8h0m6.6 11.4h0m-11.5-2.5h0m-6.6 7.6h0m21.4 1.3h0m22.2-2.6h0m-35.4 7.7h0" stroke="#03967f" stroke-width="2.70" stroke-linecap="round" fill="none"/>
<line x1="529.70" y1="219.30" x2="531.70" y2="219.30" stroke="#8a8a8a" stroke-width="0.7" />
<text x="528.50" y="221.64" font-size="6.5" text-anchor="end" fill="#231f20" >0</text>
<line x1="529.70" y1="193.88" x2="531.70" y2="193.88" stroke="#8a8a8a" stroke-width="0.7" />
<text x="528.50" y="196.22" font-size="6.5" text-anchor="end" fill="#231f20" >10</text>
<line x1="529.70" y1="168.46" x2="531.70" y2="168.46" stroke="#8a8a8a" stroke-width="0.7" />
<text x="528.50" y="170.80" font-size="6.5" text-anchor="end" fill="#231f20" >20</text>
<line x1="529.70" y1="143.04" x2="531.70" y2="143.04" stroke="#8a8a8a" stroke-width="0.7" />
<text x="528.50" y="145.38" font-size="6.5" text-anchor="end" fill="#231f20" >30</text>
<line x1="529.70" y1="117.62" x2="531.70" y2="117.62" stroke="#8a8a8a" stroke-width="0.7" />
<text x="528.50" y="119.96" font-size="6.5" text-anchor="end" fill="#231f20" >40</text>
<line x1="529.70" y1="92.20" x2="531.70" y2="92.20" stroke="#8a8a8a" stroke-width="0.7" />
<text x="528.50" y="94.54" font-size="6.5" text-anchor="end" fill="#231f20" >50</text>
<line x1="550.90" y1="225.40" x2="550.90" y2="227.40" stroke="#8a8a8a" stroke-width="0.7" />
<text x="550.90" y="235.34" font-size="6.5" text-anchor="middle" fill="#231f20" >−5</text>
<line x1="592.00" y1="225.40" x2="592.00" y2="227.40" stroke="#8a8a8a" stroke-width="0.7" />
<text x="592.00" y="235.34" font-size="6.5" text-anchor="middle" fill="#231f20" >0</text>
<line x1="633.10" y1="225.40" x2="633.10" y2="227.40" stroke="#8a8a8a" stroke-width="0.7" />
<text x="633.10" y="235.34" font-size="6.5" text-anchor="middle" fill="#231f20" >5</text>
<line x1="674.20" y1="225.40" x2="674.20" y2="227.40" stroke="#8a8a8a" stroke-width="0.7" />
<text x="674.20" y="235.34" font-size="6.5" text-anchor="middle" fill="#231f20" >10</text>
<text x="605.8" y="245.2" font-size="6.8" text-anchor="middle" fill="#231f20">log<tspan font-size="4.5" dy="1.5">10</tspan><tspan dy="-1.5">(fold change)</tspan></text>
<text x="0" y="0" font-size="6.8" text-anchor="middle" fill="#231f20" transform="translate(514.5,156.8) rotate(-90)">−log<tspan font-size="4.5" dy="1.5">10</tspan><tspan dy="-1.5">(</tspan><tspan font-style="italic">P</tspan><tspan font-size="4.5" dy="1.5">adj</tspan><tspan dy="-1.5">)</tspan></text>
<text x="535.20" y="97.06" font-size="4.9" text-anchor="start" fill="#333" >FABP1</text>
<text x="565.20" y="97.36" font-size="4.9" text-anchor="start" fill="#333" >LGALS4</text>
<text x="556.20" y="103.26" font-size="4.9" text-anchor="start" fill="#333" >CA12</text>
<text x="575.40" y="105.26" font-size="4.9" text-anchor="start" fill="#333" >TSPAN8</text>
<text x="547.80" y="108.76" font-size="4.9" text-anchor="start" fill="#333" >CES2</text>
<text x="537.00" y="113.46" font-size="4.9" text-anchor="start" fill="#333" >PCK1</text>
<text x="547.20" y="117.96" font-size="4.9" text-anchor="start" fill="#333" >BTNL3</text>
<text x="566.40" y="120.26" font-size="4.9" text-anchor="start" fill="#333" >CDHR5</text>
<text x="531.30" y="122.46" font-size="4.9" text-anchor="start" fill="#333" >MYO1A</text>
<text x="561.90" y="128.66" font-size="4.9" text-anchor="start" fill="#333" >CA2</text>
<text x="539.20" y="133.86" font-size="4.9" text-anchor="start" fill="#333" >AKR7A3</text>
<text x="535.90" y="147.36" font-size="4.9" text-anchor="start" fill="#333" >CALML4</text>
<text x="597.40" y="95.16" font-size="4.9" text-anchor="start" fill="#13977a" >SERPINA1</text>
<text x="627.90" y="95.16" font-size="4.9" text-anchor="start" fill="#13977a" >SPINK1</text>
<text x="595.10" y="100.76" font-size="4.9" text-anchor="start" fill="#13977a" >HLA-B</text>
<text x="621.80" y="102.56" font-size="4.9" text-anchor="start" fill="#13977a" >SPNS2</text>
<text x="639.90" y="104.36" font-size="4.9" text-anchor="start" fill="#13977a" >AHNAK2</text>
<text x="594.20" y="107.56" font-size="4.9" text-anchor="start" fill="#13977a" >SQSTM1</text>
<text x="587.90" y="112.36" font-size="4.9" text-anchor="start" fill="#13977a" >PSAP</text>
<text x="606.00" y="110.96" font-size="4.9" text-anchor="start" fill="#13977a" >ITGA2</text>
<text x="626.40" y="112.76" font-size="4.9" text-anchor="start" fill="#13977a" >WFDC2</text>
<text x="645.20" y="116.16" font-size="4.9" text-anchor="start" fill="#13977a" >S100P</text>
<text x="574.30" y="116.86" font-size="4.9" text-anchor="start" fill="#13977a" >SERINC2</text>
<text x="584.50" y="124.06" font-size="4.9" text-anchor="start" fill="#13977a" >HLA-E</text>
<text x="618.00" y="122.46" font-size="4.9" text-anchor="start" fill="#13977a" >ADGRG1</text>
<text x="583.80" y="129.06" font-size="4.9" text-anchor="start" fill="#13977a" >HLA-A</text>
<text x="620.70" y="130.46" font-size="4.9" text-anchor="start" fill="#13977a" >TACC1</text>
<text x="637.00" y="130.46" font-size="4.9" text-anchor="start" fill="#13977a" >PMEPA1</text>
<text x="660.30" y="129.06" font-size="4.9" text-anchor="start" fill="#13977a" >RSPO3</text>
<text x="585.20" y="134.96" font-size="4.9" text-anchor="start" fill="#13977a" >HLA-C</text>
<line x1="571.00" y1="98.50" x2="578.50" y2="110.00" stroke="#333" stroke-width="0.45" />
<line x1="561.00" y1="109.00" x2="565.00" y2="113.50" stroke="#333" stroke-width="0.45" />
<line x1="610.00" y1="114.50" x2="645.00" y2="114.50" stroke="#13977a" stroke-width="0.45" />
<line x1="612.50" y1="97.00" x2="618.00" y2="103.00" stroke="#13977a" stroke-width="0.45" />
<line x1="575.00" y1="124.50" x2="567.00" y2="131.00" stroke="#333" stroke-width="0.45" />
<text x="45.00" y="280.78" font-size="6.6" text-anchor="middle" fill="#231f20" >Lung organoid</text>
<text x="45.00" y="288.98" font-size="6.6" text-anchor="middle" fill="#231f20" >disease state</text>
<text x="45.00" y="296.48" font-size="6.6" text-anchor="middle" fill="#231f20" >assessment</text>
<text x="13.80" y="311.28" font-size="6.6" text-anchor="start" fill="#231f20" >Chan et al.,</text>
<text x="31.50" y="317.78" font-size="6.6" text-anchor="middle" fill="#231f20" >2022</text>
<text x="13.80" y="336.68" font-size="6.6" text-anchor="start" fill="#231f20" >Healthy</text>
<text x="55.30" y="336.68" font-size="6.6" text-anchor="start" fill="#a0706a" >COPD</text>
<path d="M46.5,331 C45.5,326 45.5,320 47.5,317.5 C51,315.8 57,315.8 61.5,317.5 C62.5,319.5 61,321 59.5,321.5 C59.5,324 60,326 58.5,328 C56.5,329.5 53,329 51.5,331.5 Z" fill="#dcdcdc" stroke="#c8c8c8" stroke-width="0.4"/>
<path d="M47,331 C47,327 47.5,323 49,321.5 C51,320.5 53,321 54,322.5" fill="none" stroke="#bbb" stroke-width="0.8"/>
<path d="M44.3,349.5 C43,346.5 40,346.3 37.5,348.5 C33,352 29.5,360 28.2,368 C27.5,374 28.3,380 29,383 C31,383.5 35,381.5 38.5,379.5 C41,378 43.5,376.5 44.5,375.5 Z" fill="#dedede" stroke="#555" stroke-width="0.7"/>
<path d="M49,349.5 C50.5,346.5 53.5,346.2 56,348 C60,351 63.8,358 65.2,365 C66.2,371 65.5,378 63.8,382 C61.5,382.2 57,380 53.5,378.3 C51.5,377.3 50,376.3 49.3,375.5 Z" fill="#dedede" stroke="#555" stroke-width="0.7"/>
<rect x="44.5" y="331" width="4.2" height="29.5" fill="#6e6e6e" stroke="#444" stroke-width="0.4"/>
<line x1="44.70" y1="341.00" x2="48.50" y2="341.00" stroke="#b5b5b5" stroke-width="0.7" />
<line x1="44.70" y1="343.00" x2="48.50" y2="343.00" stroke="#b5b5b5" stroke-width="0.7" />
<line x1="44.70" y1="345.00" x2="48.50" y2="345.00" stroke="#b5b5b5" stroke-width="0.7" />
<line x1="44.70" y1="347.00" x2="48.50" y2="347.00" stroke="#b5b5b5" stroke-width="0.7" />
<line x1="44.70" y1="349.00" x2="48.50" y2="349.00" stroke="#b5b5b5" stroke-width="0.7" />
<line x1="44.70" y1="351.00" x2="48.50" y2="351.00" stroke="#b5b5b5" stroke-width="0.7" />
<line x1="44.70" y1="353.00" x2="48.50" y2="353.00" stroke="#b5b5b5" stroke-width="0.7" />
<line x1="44.70" y1="355.00" x2="48.50" y2="355.00" stroke="#b5b5b5" stroke-width="0.7" />
<line x1="44.70" y1="357.00" x2="48.50" y2="357.00" stroke="#b5b5b5" stroke-width="0.7" />
<path d="M42.6,338.6 L44.3,333.6 L48.9,333.6 L50.6,338.6 Z" fill="#9a9a9a" stroke="#444" stroke-width="0.5"/>
<path d="M42.4,336.2 L50.8,336.2" stroke="#333" stroke-width="0.6"/>
<path d="M45.2,331.5 L45.2,338 M48,331.5 L48,338" stroke="#ddd" stroke-width="0.5"/>
<path d="M45.5,359 L42,362.5 L38,366 L34.5,370.5 L32,376" fill="none" stroke="#444" stroke-width="0.65"/>
<path d="M42,362.5 L40,359 L38.5,355 L37.5,351.5" fill="none" stroke="#444" stroke-width="0.65"/>
<path d="M38,366 L41.5,369.5 L43.5,374" fill="none" stroke="#444" stroke-width="0.65"/>
<path d="M34.5,370.5 L31,369" fill="none" stroke="#444" stroke-width="0.65"/>
<path d="M40,359 L36.5,358.5" fill="none" stroke="#444" stroke-width="0.65"/>
<path d="M38.5,355 L40.5,352" fill="none" stroke="#444" stroke-width="0.65"/>
<path d="M41.5,369.5 L39.5,373.5" fill="none" stroke="#444" stroke-width="0.65"/>
<path d="M36.5,373 L35,378" fill="none" stroke="#444" stroke-width="0.65"/>
<path d="M47.8,359 L51.5,362.5 L55,366 L58,371 L61,376" fill="none" stroke="#444" stroke-width="0.65"/>
<path d="M51.5,362.5 L53,358.5 L54,354.5 L55.5,351" fill="none" stroke="#444" stroke-width="0.65"/>
<path d="M55,366 L59,364.5 L62,362" fill="none" stroke="#444" stroke-width="0.65"/>
<path d="M53,358.5 L57,357" fill="none" stroke="#444" stroke-width="0.65"/>
<path d="M58,371 L55,374" fill="none" stroke="#444" stroke-width="0.65"/>
<path d="M36.2 355.4h0" stroke="#fff" stroke-width="3.00" stroke-linecap="round" fill="none"/>
<path d="M34.3 365h0" stroke="#fff" stroke-width="4.00" stroke-linecap="round" fill="none"/>
<path d="M57.2 366.6h0" stroke="#2a2a2a" stroke-width="4.60" stroke-linecap="round" fill="none"/>
<path d="M55.6 368.5h0" stroke="#555" stroke-width="2.00" stroke-linecap="round" fill="none"/>
<path d="M59 368.8h0" stroke="#444" stroke-width="2.00" stroke-linecap="round" fill="none"/>
<path d="M59.5 375.6h0" stroke="#fff" stroke-width="5.00" stroke-linecap="round" fill="none"/>
<path d="M57.4,376.6 C58,378.4 61,378.6 61.7,376.6 C60.5,377.3 58.6,377.3 57.4,376.6 Z" fill="#222"/>
<path d="M46.7,377 L46.7,385" stroke="#444" stroke-width="1.0" stroke-dasharray="2.6,1.8"/>
<path d="M46.7,394.5 L46.7,422" stroke="#444" stroke-width="1.0" stroke-dasharray="2.6,1.8"/>
<path d="M46.7,440 L46.7,467.5" stroke="#444" stroke-width="1.0" stroke-dasharray="2.6,1.8"/>
<text x="46.70" y="391.58" font-size="6.6" text-anchor="middle" fill="#231f20" >Nasopharyngeal</text>
<text x="47.40" y="436.58" font-size="6.6" text-anchor="middle" fill="#231f20" >Bronchial</text>
<path d="M21.5,398.0L22.5,397.6L23.6,397.5L24.9,397.9L26.3,399.1L27.5,400.4L28.3,401.2L28.9,401.7L29.5,401.8L30.0,401.6L30.6,401.1L31.4,400.3L32.5,398.9L33.8,397.6L35.0,397.1L36.2,397.1L37.1,397.5L37.9,398.2L38.3,399.3L38.3,400.7L37.6,402.3L36.7,403.9L36.2,404.9L36.0,405.6L36.0,406.2L36.3,406.7L37.0,407.1L38.0,407.5L39.7,408.2L41.3,409.0L42.2,410.0L42.5,411.1L42.5,412.2L42.0,413.1L41.1,413.8L39.8,414.2L38.0,414.1L36.3,413.7L35.2,413.6L34.4,413.6L33.8,413.8L33.5,414.2L33.3,415.0L33.2,416.1L33.1,417.9L32.8,419.7L32.1,420.8L31.2,421.5L30.2,421.8L29.1,421.6L28.2,421.0L27.4,419.9L26.9,418.1L26.8,416.4L26.5,415.3L26.3,414.5L26.0,414.1L25.4,413.9L24.6,414.0L23.5,414.2L21.8,414.7L20.0,414.9L18.7,414.6L17.8,413.9L17.2,413.0L17.1,412.0L17.4,410.9L18.2,409.8L19.7,408.8L21.3,408.1L22.3,407.6L22.9,407.1L23.3,406.7L23.2,406.1L22.9,405.3L22.4,404.4L21.4,402.9L20.6,401.3L20.5,399.9L20.8,398.8Z" fill="#fff" stroke="#4a4a4a" stroke-width="3.0"/>
<path d="M21.5,398.0L22.5,397.6L23.6,397.5L24.9,397.9L26.3,399.1L27.5,400.4L28.3,401.2L28.9,401.7L29.5,401.8L30.0,401.6L30.6,401.1L31.4,400.3L32.5,398.9L33.8,397.6L35.0,397.1L36.2,397.1L37.1,397.5L37.9,398.2L38.3,399.3L38.3,400.7L37.6,402.3L36.7,403.9L36.2,404.9L36.0,405.6L36.0,406.2L36.3,406.7L37.0,407.1L38.0,407.5L39.7,408.2L41.3,409.0L42.2,410.0L42.5,411.1L42.5,412.2L42.0,413.1L41.1,413.8L39.8,414.2L38.0,414.1L36.3,413.7L35.2,413.6L34.4,413.6L33.8,413.8L33.5,414.2L33.3,415.0L33.2,416.1L33.1,417.9L32.8,419.7L32.1,420.8L31.2,421.5L30.2,421.8L29.1,421.6L28.2,421.0L27.4,419.9L26.9,418.1L26.8,416.4L26.5,415.3L26.3,414.5L26.0,414.1L25.4,413.9L24.6,414.0L23.5,414.2L21.8,414.7L20.0,414.9L18.7,414.6L17.8,413.9L17.2,413.0L17.1,412.0L17.4,410.9L18.2,409.8L19.7,408.8L21.3,408.1L22.3,407.6L22.9,407.1L23.3,406.7L23.2,406.1L22.9,405.3L22.4,404.4L21.4,402.9L20.6,401.3L20.5,399.9L20.8,398.8Z" fill="none" stroke="#8a8a8a" stroke-width="0.6"/>
<path d="M56.8,398.5L57.7,398.1L58.8,398.0L60.0,398.4L61.3,399.5L62.4,400.7L63.2,401.4L63.8,401.9L64.4,402.0L64.9,401.8L65.5,401.3L66.2,400.6L67.2,399.3L68.5,398.1L69.7,397.6L70.8,397.6L71.7,398.0L72.4,398.7L72.8,399.7L72.8,401.0L72.2,402.6L71.3,404.0L70.9,405.0L70.7,405.7L70.7,406.3L71.0,406.7L71.7,407.1L72.6,407.6L74.2,408.2L75.7,409.0L76.5,410.0L76.9,411.0L76.8,412.0L76.3,412.9L75.5,413.6L74.3,414.0L72.6,413.9L70.9,413.5L69.9,413.4L69.1,413.4L68.6,413.6L68.3,414.1L68.1,414.8L68.0,415.9L67.9,417.5L67.6,419.2L66.9,420.3L66.0,420.9L65.0,421.2L64.1,421.0L63.1,420.4L62.4,419.4L62.0,417.7L61.8,416.1L61.6,415.0L61.3,414.3L61.0,413.9L60.4,413.7L59.7,413.8L58.6,414.0L57.0,414.4L55.3,414.6L54.1,414.3L53.2,413.7L52.7,412.8L52.5,411.8L52.8,410.8L53.6,409.8L55.0,408.8L56.5,408.1L57.4,407.6L58.1,407.2L58.4,406.7L58.3,406.2L58.1,405.5L57.6,404.5L56.6,403.1L55.9,401.6L55.8,400.3L56.1,399.3Z" fill="#fff" stroke="#8fcadf" stroke-width="5.8"/>
<path d="M56.8,398.5L57.7,398.1L58.8,398.0L60.0,398.4L61.3,399.5L62.4,400.7L63.2,401.4L63.8,401.9L64.4,402.0L64.9,401.8L65.5,401.3L66.2,400.6L67.2,399.3L68.5,398.1L69.7,397.6L70.8,397.6L71.7,398.0L72.4,398.7L72.8,399.7L72.8,401.0L72.2,402.6L71.3,404.0L70.9,405.0L70.7,405.7L70.7,406.3L71.0,406.7L71.7,407.1L72.6,407.6L74.2,408.2L75.7,409.0L76.5,410.0L76.9,411.0L76.8,412.0L76.3,412.9L75.5,413.6L74.3,414.0L72.6,413.9L70.9,413.5L69.9,413.4L69.1,413.4L68.6,413.6L68.3,414.1L68.1,414.8L68.0,415.9L67.9,417.5L67.6,419.2L66.9,420.3L66.0,420.9L65.0,421.2L64.1,421.0L63.1,420.4L62.4,419.4L62.0,417.7L61.8,416.1L61.6,415.0L61.3,414.3L61.0,413.9L60.4,413.7L59.7,413.8L58.6,414.0L57.0,414.4L55.3,414.6L54.1,414.3L53.2,413.7L52.7,412.8L52.5,411.8L52.8,410.8L53.6,409.8L55.0,408.8L56.5,408.1L57.4,407.6L58.1,407.2L58.4,406.7L58.3,406.2L58.1,405.5L57.6,404.5L56.6,403.1L55.9,401.6L55.8,400.3L56.1,399.3Z" fill="#fff" stroke="#4a4a4a" stroke-width="1.9"/>
<path d="M56.8,398.5L57.7,398.1L58.8,398.0L60.0,398.4L61.3,399.5L62.4,400.7L63.2,401.4L63.8,401.9L64.4,402.0L64.9,401.8L65.5,401.3L66.2,400.6L67.2,399.3L68.5,398.1L69.7,397.6L70.8,397.6L71.7,398.0L72.4,398.7L72.8,399.7L72.8,401.0L72.2,402.6L71.3,404.0L70.9,405.0L70.7,405.7L70.7,406.3L71.0,406.7L71.7,407.1L72.6,407.6L74.2,408.2L75.7,409.0L76.5,410.0L76.9,411.0L76.8,412.0L76.3,412.9L75.5,413.6L74.3,414.0L72.6,413.9L70.9,413.5L69.9,413.4L69.1,413.4L68.6,413.6L68.3,414.1L68.1,414.8L68.0,415.9L67.9,417.5L67.6,419.2L66.9,420.3L66.0,420.9L65.0,421.2L64.1,421.0L63.1,420.4L62.4,419.4L62.0,417.7L61.8,416.1L61.6,415.0L61.3,414.3L61.0,413.9L60.4,413.7L59.7,413.8L58.6,414.0L57.0,414.4L55.3,414.6L54.1,414.3L53.2,413.7L52.7,412.8L52.5,411.8L52.8,410.8L53.6,409.8L55.0,408.8L56.5,408.1L57.4,407.6L58.1,407.2L58.4,406.7L58.3,406.2L58.1,405.5L57.6,404.5L56.6,403.1L55.9,401.6L55.8,400.3L56.1,399.3Z" fill="none" stroke="#8a8a8a" stroke-width="0.5"/>
<path d="M21.5,443.3L22.5,442.9L23.6,442.8L24.9,443.2L26.3,444.4L27.5,445.7L28.3,446.5L28.9,447.0L29.5,447.1L30.0,446.9L30.6,446.4L31.4,445.6L32.5,444.2L33.8,442.9L35.0,442.4L36.2,442.4L37.1,442.8L37.9,443.5L38.3,444.6L38.3,446.0L37.6,447.6L36.7,449.2L36.2,450.2L36.0,450.9L36.0,451.5L36.3,452.0L37.0,452.4L38.0,452.8L39.7,453.5L41.3,454.3L42.2,455.3L42.5,456.4L42.5,457.5L42.0,458.4L41.1,459.1L39.8,459.5L38.0,459.4L36.3,459.0L35.2,458.9L34.4,458.9L33.8,459.1L33.5,459.5L33.3,460.3L33.2,461.4L33.1,463.2L32.8,465.0L32.1,466.1L31.2,466.8L30.2,467.1L29.1,466.9L28.2,466.3L27.4,465.2L26.9,463.4L26.8,461.7L26.5,460.6L26.3,459.8L26.0,459.4L25.4,459.2L24.6,459.3L23.5,459.5L21.8,460.0L20.0,460.2L18.7,459.9L17.8,459.2L17.2,458.3L17.1,457.3L17.4,456.2L18.2,455.1L19.7,454.1L21.3,453.4L22.3,452.9L22.9,452.4L23.3,452.0L23.2,451.4L22.9,450.6L22.4,449.7L21.4,448.2L20.6,446.6L20.5,445.2L20.8,444.1Z" fill="#fff" stroke="#4a4a4a" stroke-width="3.0"/>
<path d="M21.5,443.3L22.5,442.9L23.6,442.8L24.9,443.2L26.3,444.4L27.5,445.7L28.3,446.5L28.9,447.0L29.5,447.1L30.0,446.9L30.6,446.4L31.4,445.6L32.5,444.2L33.8,442.9L35.0,442.4L36.2,442.4L37.1,442.8L37.9,443.5L38.3,444.6L38.3,446.0L37.6,447.6L36.7,449.2L36.2,450.2L36.0,450.9L36.0,451.5L36.3,452.0L37.0,452.4L38.0,452.8L39.7,453.5L41.3,454.3L42.2,455.3L42.5,456.4L42.5,457.5L42.0,458.4L41.1,459.1L39.8,459.5L38.0,459.4L36.3,459.0L35.2,458.9L34.4,458.9L33.8,459.1L33.5,459.5L33.3,460.3L33.2,461.4L33.1,463.2L32.8,465.0L32.1,466.1L31.2,466.8L30.2,467.1L29.1,466.9L28.2,466.3L27.4,465.2L26.9,463.4L26.8,461.7L26.5,460.6L26.3,459.8L26.0,459.4L25.4,459.2L24.6,459.3L23.5,459.5L21.8,460.0L20.0,460.2L18.7,459.9L17.8,459.2L17.2,458.3L17.1,457.3L17.4,456.2L18.2,455.1L19.7,454.1L21.3,453.4L22.3,452.9L22.9,452.4L23.3,452.0L23.2,451.4L22.9,450.6L22.4,449.7L21.4,448.2L20.6,446.6L20.5,445.2L20.8,444.1Z" fill="none" stroke="#8a8a8a" stroke-width="0.6"/>
<path d="M56.8,443.8L57.7,443.4L58.8,443.3L60.0,443.7L61.3,444.8L62.4,446.0L63.2,446.7L63.8,447.2L64.4,447.3L64.9,447.1L65.5,446.6L66.2,445.9L67.2,444.6L68.5,443.4L69.7,442.9L70.8,442.9L71.7,443.3L72.4,444.0L72.8,445.0L72.8,446.3L72.2,447.9L71.3,449.3L70.9,450.3L70.7,451.0L70.7,451.6L71.0,452.0L71.7,452.4L72.6,452.9L74.2,453.5L75.7,454.3L76.5,455.3L76.9,456.3L76.8,457.3L76.3,458.2L75.5,458.9L74.3,459.3L72.6,459.2L70.9,458.8L69.9,458.7L69.1,458.7L68.6,458.9L68.3,459.4L68.1,460.1L68.0,461.2L67.9,462.8L67.6,464.5L66.9,465.6L66.0,466.2L65.0,466.5L64.1,466.3L63.1,465.7L62.4,464.7L62.0,463.0L61.8,461.4L61.6,460.3L61.3,459.6L61.0,459.2L60.4,459.0L59.7,459.1L58.6,459.3L57.0,459.7L55.3,459.9L54.1,459.6L53.2,459.0L52.7,458.1L52.5,457.1L52.8,456.1L53.6,455.1L55.0,454.1L56.5,453.4L57.4,452.9L58.1,452.5L58.4,452.0L58.3,451.5L58.1,450.8L57.6,449.8L56.6,448.4L55.9,446.9L55.8,445.6L56.1,444.6Z" fill="#fff" stroke="#8fcadf" stroke-width="5.8"/>
<path d="M56.8,443.8L57.7,443.4L58.8,443.3L60.0,443.7L61.3,444.8L62.4,446.0L63.2,446.7L63.8,447.2L64.4,447.3L64.9,447.1L65.5,446.6L66.2,445.9L67.2,444.6L68.5,443.4L69.7,442.9L70.8,442.9L71.7,443.3L72.4,444.0L72.8,445.0L72.8,446.3L72.2,447.9L71.3,449.3L70.9,450.3L70.7,451.0L70.7,451.6L71.0,452.0L71.7,452.4L72.6,452.9L74.2,453.5L75.7,454.3L76.5,455.3L76.9,456.3L76.8,457.3L76.3,458.2L75.5,458.9L74.3,459.3L72.6,459.2L70.9,458.8L69.9,458.7L69.1,458.7L68.6,458.9L68.3,459.4L68.1,460.1L68.0,461.2L67.9,462.8L67.6,464.5L66.9,465.6L66.0,466.2L65.0,466.5L64.1,466.3L63.1,465.7L62.4,464.7L62.0,463.0L61.8,461.4L61.6,460.3L61.3,459.6L61.0,459.2L60.4,459.0L59.7,459.1L58.6,459.3L57.0,459.7L55.3,459.9L54.1,459.6L53.2,459.0L52.7,458.1L52.5,457.1L52.8,456.1L53.6,455.1L55.0,454.1L56.5,453.4L57.4,452.9L58.1,452.5L58.4,452.0L58.3,451.5L58.1,450.8L57.6,449.8L56.6,448.4L55.9,446.9L55.8,445.6L56.1,444.6Z" fill="#fff" stroke="#4a4a4a" stroke-width="1.9"/>
<path d="M56.8,443.8L57.7,443.4L58.8,443.3L60.0,443.7L61.3,444.8L62.4,446.0L63.2,446.7L63.8,447.2L64.4,447.3L64.9,447.1L65.5,446.6L66.2,445.9L67.2,444.6L68.5,443.4L69.7,442.9L70.8,442.9L71.7,443.3L72.4,444.0L72.8,445.0L72.8,446.3L72.2,447.9L71.3,449.3L70.9,450.3L70.7,451.0L70.7,451.6L71.0,452.0L71.7,452.4L72.6,452.9L74.2,453.5L75.7,454.3L76.5,455.3L76.9,456.3L76.8,457.3L76.3,458.2L75.5,458.9L74.3,459.3L72.6,459.2L70.9,458.8L69.9,458.7L69.1,458.7L68.6,458.9L68.3,459.4L68.1,460.1L68.0,461.2L67.9,462.8L67.6,464.5L66.9,465.6L66.0,466.2L65.0,466.5L64.1,466.3L63.1,465.7L62.4,464.7L62.0,463.0L61.8,461.4L61.6,460.3L61.3,459.6L61.0,459.2L60.4,459.0L59.7,459.1L58.6,459.3L57.0,459.7L55.3,459.9L54.1,459.6L53.2,459.0L52.7,458.1L52.5,457.1L52.8,456.1L53.6,455.1L55.0,454.1L56.5,453.4L57.4,452.9L58.1,452.5L58.4,452.0L58.3,451.5L58.1,450.8L57.6,449.8L56.6,448.4L55.9,446.9L55.8,445.6L56.1,444.6Z" fill="none" stroke="#8a8a8a" stroke-width="0.5"/>
<text x="208.20" y="268.32" font-size="7.0" text-anchor="middle" fill="#231f20" >Nasopharyngeal</text>
<text x="98.80" y="279.45" font-size="6.8" text-anchor="start" fill="#231f20" >Normal</text>
<text x="212.00" y="279.45" font-size="6.8" text-anchor="start" fill="#231f20" >COPD</text>
<text x="207.80" y="380.65" font-size="6.8" text-anchor="middle" fill="#231f20" >Bronchial</text>
<text x="98.70" y="392.25" font-size="6.8" text-anchor="start" fill="#231f20" >Normal</text>
<text x="212.00" y="392.25" font-size="6.8" text-anchor="start" fill="#231f20" >COPD</text>
<use href="#umap" transform="translate(100,272) scale(1.0)"/>
<path d="M120.80,337.00 C121.30,336.55 122.47,337.55 124.00,337.80 C125.53,338.05 128.00,338.47 130.00,338.50 C132.00,338.53 134.33,338.03 136.00,338.00 C137.67,337.97 139.33,336.88 140.00,338.30 C140.67,339.72 141.00,345.05 140.00,346.50 C139.00,347.95 136.17,347.00 134.00,347.00 C131.83,347.00 128.83,347.00 127.00,346.50 C125.17,346.00 124.00,345.00 123.00,344.00 C122.00,343.00 121.37,341.67 121.00,340.50 C120.63,339.33 120.30,337.45 120.80,337.00 Z" fill="#78594d"/>
<path d="M136.50,339.50 C137.08,338.53 138.42,338.48 140.00,338.20 C141.58,337.92 144.17,337.75 146.00,337.80 C147.83,337.85 149.67,337.97 151.00,338.50 C152.33,339.03 153.42,340.00 154.00,341.00 C154.58,342.00 155.00,343.42 154.50,344.50 C154.00,345.58 152.58,346.83 151.00,347.50 C149.42,348.17 147.00,348.45 145.00,348.50 C143.00,348.55 140.42,348.55 139.00,347.80 C137.58,347.05 136.92,345.38 136.50,344.00 C136.08,342.62 135.92,340.47 136.50,339.50 Z" fill="#e2855a"/>
<path d="M127.2 336.8h0m-5 1h0m3.5 .4h0m6.8 .1h0m-4.5-.1h0m9.8-.4h0m-6.2 .1h0m6.4 .1h0m-13.9 .6h0m4.3-.9h0m-5 .7h0m-1.9-1.6h0m16.6 1.6h0m-10.3 .3h0m7-1.4h0m-9.8 .7h0" stroke="#e4e4e4" stroke-width="0.80" stroke-linecap="round" fill="none"/>
<path d="M122.8 338.2h0m-.5 1.1h0m9.1-.8h0m2-.7h0m-3.8 1.7h0m-6.7-2.1h0m13.9 1.5h0m-1.9-.6h0m-7.4-.8h0m11.4 1.7h0m-4.9 .2h0m-5.5 .1h0m-2.1-2.7h0m10.2 .5h0m2.2 1.4h0m-8.8-.3h0m3 .5h0m-5.1-2.2h0m11 1.2h0m-11.9-1.1h0m6.7 .4h0m-2.9 1.8h0m8 .1h0m-12.8-.4h0m3.3 .9h0m10.7-3.5h0m1.7-1h0m4.6-1.8h0m7.3-2.9h0m1.2-.5h0m1.9-.4h0m.3-.5h0m5-1.3h0" stroke="#78594d" stroke-width="0.80" stroke-linecap="round" fill="none"/>
<path d="M131.7 339.5h0m4.3-2.8h0m-4.4 1h0m-4.7 1.5h0m-3.6-.9h0m3.4 .8h0m2.1-.2h0m-6.9-1h0m10.3 .1h0m2.7-1.2h0m3.4 0h0m-10.3 1.5h0m1.9-.6h0m-7.2-.7h0m14.1 1.4h0m-2.3-.4h0m2.9-.5h0m-4.8 .9h0m3 .8h0m2.6-1.6h0" stroke="#f4f4f4" stroke-width="0.80" stroke-linecap="round" fill="none"/>
<path d="M128.8 338.2h0m3.4-1.6h0m-9.6 2.2h0m.3-.9h0m3.5-1.1h0m7.2 1.3h0m3.6 .9h0m-4.6 .6h0m-2.1-2.6h0" stroke="#a89890" stroke-width="0.80" stroke-linecap="round" fill="none"/>
<path d="M137.4 336.7h0m2.1-1h0m1.8-1h0m2-.2h0m6.2-2.7h0m1.7 0h0m1.2-.8h0m6.5-2.5h0m2.6-1.1h0" stroke="#b0a29c" stroke-width="0.80" stroke-linecap="round" fill="none"/>
<path d="M144.1 334.3h0m0-.5h0m1.4-.5h0m2.4-.6h0m1-.1h0m2.8-1.7h0m1.5-.7h0m4.6-1.7h0m2.3 0h0" stroke="#e2855a" stroke-width="0.80" stroke-linecap="round" fill="none"/>
<path d="M162.3,327.2 C164,325.6 167.5,324.8 169.3,326 C170.2,326.8 170.5,327.8 170.5,328.6" fill="none" stroke="#2f46a8" stroke-width="1.7" stroke-linecap="round"/>
<path d="M170.7 329.6h0m-16.4 5.8h0m4.7 .6h0m4.9 1.2h0m1.7-.6h0m-8.6-.8h0" stroke="#2ea65a" stroke-width="1.00" stroke-linecap="round" fill="none"/>
<use href="#umap" transform="translate(211.2,272) scale(1.0)"/>
<path d="M232.00,337.00 C232.50,336.55 233.67,337.55 235.20,337.80 C236.73,338.05 239.20,338.47 241.20,338.50 C243.20,338.53 245.53,338.03 247.20,338.00 C248.87,337.97 250.53,336.88 251.20,338.30 C251.87,339.72 252.20,345.05 251.20,346.50 C250.20,347.95 247.37,347.00 245.20,347.00 C243.03,347.00 240.03,347.00 238.20,346.50 C236.37,346.00 235.20,345.00 234.20,344.00 C233.20,343.00 232.57,341.67 232.20,340.50 C231.83,339.33 231.50,337.45 232.00,337.00 Z" fill="#78594d"/>
<path d="M247.70,339.50 C248.28,338.53 249.62,338.48 251.20,338.20 C252.78,337.92 255.37,337.75 257.20,337.80 C259.03,337.85 260.87,337.97 262.20,338.50 C263.53,339.03 264.62,340.00 265.20,341.00 C265.78,342.00 266.20,343.42 265.70,344.50 C265.20,345.58 263.78,346.83 262.20,347.50 C260.62,348.17 258.20,348.45 256.20,348.50 C254.20,348.55 251.62,348.55 250.20,347.80 C248.78,347.05 248.12,345.38 247.70,344.00 C247.28,342.62 247.12,340.47 247.70,339.50 Z" fill="#e2855a"/>
<path d="M244.4 337.8h0m0 1.2h0m3.8-2.1h0m-6.5-.4h0m-4.2 3h0m.1-.4h0m6-2.6h0m.1 1.7h0m-5.9-.1h0m11.9-.7h0m.2 .1h0m-.2 .7h0m-16.4 1.2h0m.9-2.1h0m15.3 2h0m-14.2-.5h0m11.9-.5h0m-.3 1h0" stroke="#f4f4f4" stroke-width="0.80" stroke-linecap="round" fill="none"/>
<path d="M249.1 338.6h0m-13.9 .8h0m1.3 .2h0m3.3-1.8h0m-.4 .3h0m10.3-1.4h0m-12.3 .1h0m10.2 1.9h0m-4.3-1.6h0m4.5 .8h0m2.3-.1h0m-1 1.9h0m-15.5-2.7h0m3.8 2.1h0m4.9-2.1h0m-5.3 .9h0m7.2 .3h0m3.1-1.9h0m-7.1 .2h0m7.7 2.1h0m-7.2-1.7h0m-7.9 .7h0m6.1-1.3h0m-1.6 .3h0m5.7 1.1h0m-3.5-.3h0m-5.3-1h0m15.3 1.2h0m-15.6 1.3h0m11.6-1.9h0m-4.2 .6h0m16.1-4.4h0m1.3-.7h0m5.6-1.1h0m2.5-1.8h0m4.2-1.5h0" stroke="#78594d" stroke-width="0.80" stroke-linecap="round" fill="none"/>
<path d="M235.5 337.8h0m4.3 .4h0m-6.5-1.8h0m4.7 .7h0m6.2 1.7h0m-10.7 .4h0m10.2-.3h0m-8.6-.8h0m7.4 .4h0m-1.8-2h0m7.7 .1h0" stroke="#a89890" stroke-width="0.80" stroke-linecap="round" fill="none"/>
<path d="M238.3 338.8h0m.3-.9h0m4.1 .9h0m-2.6-2.2h0m3.7 2.5h0m-4-1.6h0m3.4 1.2h0m-6.2 .3h0m5.6 .1h0m2-1.1h0" stroke="#e4e4e4" stroke-width="0.80" stroke-linecap="round" fill="none"/>
<path d="M249.5 336.5h0m.5 0h0m4.6-1.9h0m0-.6h0m3.5-.5h0m4.4-2.1h0m5-1.2h0m1-1.1h0m2.4-1.3h0m1.4-.1h0m.5-.2h0" stroke="#e2855a" stroke-width="0.80" stroke-linecap="round" fill="none"/>
<path d="M251.4 336h0m.3-1h0m.9 0h0m2.8-.9h0m4.6-1h0m1-.3h0m.6-1.4h0m3.2-.6h0m.7-.6h0m4-1.5h0" stroke="#b0a29c" stroke-width="0.80" stroke-linecap="round" fill="none"/>
<path d="M273.5,327.2 C275.2,325.6 278.7,324.8 280.5,326 C281.4,326.8 281.7,327.8 281.7,328.6" fill="none" stroke="#2f46a8" stroke-width="1.7" stroke-linecap="round"/>
<path d="M281.9 329.6h0" stroke="#2ea65a" stroke-width="1.00" stroke-linecap="round" fill="none"/>
<use href="#umap" transform="translate(100,385) scale(1.0)"/>
<path d="M120.80,450.00 C121.30,449.55 122.47,450.55 124.00,450.80 C125.53,451.05 128.00,451.47 130.00,451.50 C132.00,451.53 134.33,451.03 136.00,451.00 C137.67,450.97 139.33,449.88 140.00,451.30 C140.67,452.72 141.00,458.05 140.00,459.50 C139.00,460.95 136.17,460.00 134.00,460.00 C131.83,460.00 128.83,460.00 127.00,459.50 C125.17,459.00 124.00,458.00 123.00,457.00 C122.00,456.00 121.37,454.67 121.00,453.50 C120.63,452.33 120.30,450.45 120.80,450.00 Z" fill="#78594d"/>
<path d="M136.50,452.50 C137.08,451.53 138.42,451.48 140.00,451.20 C141.58,450.92 144.17,450.75 146.00,450.80 C147.83,450.85 149.67,450.97 151.00,451.50 C152.33,452.03 153.42,453.00 154.00,454.00 C154.58,455.00 155.00,456.42 154.50,457.50 C154.00,458.58 152.58,459.83 151.00,460.50 C149.42,461.17 147.00,461.45 145.00,461.50 C143.00,461.55 140.42,461.55 139.00,460.80 C137.58,460.05 136.92,458.38 136.50,457.00 C136.08,455.62 135.92,453.47 136.50,452.50 Z" fill="#e2855a"/>
<path d="M134.4 452.7h0m-5.8-2.6h0m.8 .4h0m-4.4-1.1h0m5.2 1.9h0m-7.1 1.1h0m5.4-1.5h0m-4.8-.1h0m6.9 .9h0m1.9-.6h0m-11 .1h0m.5-.5h0m.5-.7h0m.4 .1h0m10.8 1.7h0m-.3-1.8h0m-7.9 .1h0m-.7 0h0m-2.9 1.3h0m.5-1.9h0m7 2.3h0m5.2-2.4h0m1.6 3.3h0m-11.7-3.4h0m6.8 2.7h0m-3.6 .2h0m-.5-.3h0m-5.2-1.2h0m12.6 1.7h0m-12.3-.5h0m-.4-1.8h0m12.1 .8h0m6.6-2.5h0m2.8-.9h0m2.9-1.6h0m5.5-1.4h0m2.1-.9h0m2.5-1.6h0m2.3-1.2h0" stroke="#78594d" stroke-width="0.80" stroke-linecap="round" fill="none"/>
<path d="M131.3 450.7h0m6.1 .3h0m-8.4 .2h0m-.8 .7h0m-4.5-.8h0m12.8 1.6h0m-1.3-2.6h0m-2.4 .3h0m-6 2.2h0m-.4-2.2h0m3.4-.3h0m4.6 1h0m-4.2-1.1h0m-6.1 .7h0m10.2 2.1h0m-11.3-1h0m5 .7h0m7.6-3h0" stroke="#f4f4f4" stroke-width="0.80" stroke-linecap="round" fill="none"/>
<path d="M132.8 449.6h0m-5.7 1h0m1.3 1.9h0m-.1-2.4h0m-4.9 1.4h0m14-2h0m-10.1 .4h0m.6 .6h0m9.8-.2h0" stroke="#a89890" stroke-width="0.80" stroke-linecap="round" fill="none"/>
<path d="M123.1 450.5h0m5 0h0m8.3 1.9h0m2-1.4h0m-15.4 1h0m12.2-1.9h0m-1.5-.4h0m4 .4h0m-14.8 .7h0m-.7-1.4h0m15.3 2.1h0" stroke="#e4e4e4" stroke-width="0.80" stroke-linecap="round" fill="none"/>
<path d="M138.7 449.1h0m.8 .5h0m.7-1.4h0m2.7-.3h0m3.3-1.5h0m1.5-.4h0m.8-.7h0m.8 .2h0m.3-.1h0m3.9-2.4h0m3.1-1h0m1.2 0h0m2.3-.9h0m1.8-.5h0" stroke="#e2855a" stroke-width="0.80" stroke-linecap="round" fill="none"/>
<path d="M141.7 448.2h0m3-1.1h0m6.9-2.9h0m3.6-.9h0m5.9-2.4h0" stroke="#b0a29c" stroke-width="0.80" stroke-linecap="round" fill="none"/>
<path d="M162.3,440.2 C164,438.6 167.5,437.8 169.3,439 C170.2,439.8 170.5,440.8 170.5,441.6" fill="none" stroke="#2f46a8" stroke-width="1.7" stroke-linecap="round"/>
<path d="M170.7 442.6h0m-16.4 5.8h0m4.7 .6h0m4.9 1.2h0m1.7-.6h0m-8.6-.8h0" stroke="#2ea65a" stroke-width="1.00" stroke-linecap="round" fill="none"/>
<use href="#umap" transform="translate(211.2,385) scale(1.0)"/>
<path d="M231.70,453.80 C232.45,453.30 235.12,453.88 237.20,453.50 C239.28,453.12 241.87,452.33 244.20,451.50 C246.53,450.67 248.87,449.50 251.20,448.50 C253.53,447.50 255.87,446.45 258.20,445.50 C260.53,444.55 263.87,443.12 265.20,442.80 C266.53,442.48 267.20,442.82 266.20,443.60 C265.20,444.38 261.37,446.18 259.20,447.50 C257.03,448.82 255.20,450.25 253.20,451.50 C251.20,452.75 249.20,453.92 247.20,455.00 C245.20,456.08 243.03,457.42 241.20,458.00 C239.37,458.58 237.62,458.75 236.20,458.50 C234.78,458.25 233.45,457.28 232.70,456.50 C231.95,455.72 230.95,454.30 231.70,453.80 Z" fill="#78594d"/>
<path d="M253.1 454h0m4.3 5h0m-6-2.7h0m.8 2.3h0m-.6-1.2h0m.9-.9h0m1.3-3.5h0m9 2.2h0m-15.2 2.4h0m-.3 .9h0m4.6-3.1h0m7.3 0h0m-10.6-5.5h0m10.3 7.3h0m-8 .4h0m5.3-.7h0m1.6 .3h0m-2.9-.7h0m-2-1.4h0m4.8-1.4h0m1.1-1.1h0m-3.5 .8h0m-.5-.5h0m-7 5.4h0m7.6-5h0m-.4 4.7h0m-4.7-3.3h0m6.1 1.9h0m-3.5-7.9h0m6.3 7.3h0m-4.9-1.8h0m1-.5h0m-5.2-.9h0m1.7 .4h0m-2.2 3.7h0m-.6 .1h0m1.1-.9h0m9.6-.5h0m-8.4-.5h0m3.5-5.3h0m-3 5.7h0m.5-.3h0m4.8 2.1h0m.7-.5h0m-4.8-1.9h0m.1-.8h0m.4-4.3h0m-.6 5.1h0m-2.6 0h0m6-.4h0m-2.9-5h0m2.9 4.6h0m.1-5.8h0m1.2 7.8h0m-3.3-2.9h0m2.5 .3h0m-1.7 0h0m-.1 3.8h0m-4.3-2.4h0m6 .5h0m2.5 5.6h0m-8.6-11.8h0m7 10.4h0m.3-2.2h0m-6.2-4.5h0m6.1-.6h0m-6.3 .5h0m3.6 0h0m4.3 2h0m-9.5 4.1h0m2-3.2h0m2.2-1.6h0m1.4-1.2h0m-6.4-.2h0m5 2.5h0m2.3 .2h0m-5.4-2.5h0m5.1 3.7h0m-2.4-2.1h0m4.2 .5h0m-.7 1.7h0m-2.1 2.2h0m-3.2-5h0m-.9-1.3h0m9.4 7.7h0m-6.1-3.6h0m4.6 .7h0m.1-6.2h0m-7.4 5.2h0m8.3-1.1h0m-9.1-1.4h0m.8-1.5h0m8.6 .7h0m-1.3 2.9h0m-7.1 .2h0m8.9 .7h0m-1.5-1.6h0m-2.9-.9h0m-.4 4.5h0m-7.4-4.1h0m6.7-1.5h0m-2.2 4.1h0m9.2-.5h0m-6.7-6.6h0m6.4 4.9h0m-7.8-3.6h0m-.1 .1h0m.5 4.7h0m-.2-.6h0m-3.5 3.5h0m.8-9.8h0m1.8 3.2h0m-3.2 1.2h0m5.2-2.4h0m-1.8 7.8h0m3.3-4.8h0m-2.2 .1h0m-.7 2.6h0m.1-4.9h0m2.7 .9h0m-6.8-1.6h0m1.6-2.2h0m-3.3 7.5h0m2.8-3h0m4.4 5.2h0m6.5-1h0m-7.2-2.5h0m6.6 3.7h0m-8.4-2.9h0m2.3-1.2h0m-3.1-4.2h0m-.1-.6h0m7 6.2h0m-9.7 2.6h0m8.4-9.9h0m3.8 8.1h0m.9-6.1h0m-6.2 5h0m-1.3-.8h0m3.4-5h0m-9.2 .3h0m2.8 2.4h0" stroke="#e2855a" stroke-width="1.00" stroke-linecap="round" fill="none"/>
<path d="M249.3 450h0m.6-.6h0m.9 0h0m5.1-2.1h0m.8-.8h0m.6-.3h0m1.2-1h0m1.6 .8h0m4.3-2h0m5.1-2h0m1-.8h0m.6-.8h0m1.8 .1h0" stroke="#e2855a" stroke-width="0.80" stroke-linecap="round" fill="none"/>
<path d="M252.4 447.8h0m.8 .1h0m.3-.1h0m9-3.2h0m3.1-1.5h0m1.7-.4h0m1.2-.8h0" stroke="#b0a29c" stroke-width="0.80" stroke-linecap="round" fill="none"/>
<path d="M254.9 447.2h0m6.1-1.8h0m1.1-.7h0m1.8-1.2h0m1.9-.8h0m7.1-2.1h0" stroke="#78594d" stroke-width="0.80" stroke-linecap="round" fill="none"/>
<path d="M273.5,440.2 C275.2,438.6 278.7,437.8 280.5,439 C281.4,439.8 281.7,440.8 281.7,441.6" fill="none" stroke="#2f46a8" stroke-width="1.7" stroke-linecap="round"/>
<path d="M281.9 442.6h0" stroke="#2ea65a" stroke-width="1.00" stroke-linecap="round" fill="none"/>
<path d="M325.9 282.6h0" stroke="#8c8c8c" stroke-width="4.00" stroke-linecap="round" fill="none"/>
<text x="331.90" y="284.87" font-size="6.3" text-anchor="start" fill="#231f20" >Stem</text>
<path d="M325.9 293.2h0" stroke="#6db4e6" stroke-width="4.00" stroke-linecap="round" fill="none"/>
<text x="331.90" y="295.47" font-size="6.3" text-anchor="start" fill="#231f20" >AT1</text>
<path d="M325.9 303.8h0" stroke="#2ea65a" stroke-width="4.00" stroke-linecap="round" fill="none"/>
<text x="331.90" y="306.07" font-size="6.3" text-anchor="start" fill="#231f20" >Acinar</text>
<path d="M325.9 314.4h0" stroke="#e2855a" stroke-width="4.00" stroke-linecap="round" fill="none"/>
<text x="331.90" y="316.67" font-size="6.3" text-anchor="start" fill="#231f20" >Basal</text>
<path d="M325.9 325h0" stroke="#2b3f9e" stroke-width="4.00" stroke-linecap="round" fill="none"/>
<text x="331.90" y="327.27" font-size="6.3" text-anchor="start" fill="#231f20" >Ciliated</text>
<path d="M325.9 335.6h0" stroke="#78594d" stroke-width="4.00" stroke-linecap="round" fill="none"/>
<text x="331.90" y="337.87" font-size="6.3" text-anchor="start" fill="#231f20" >Club</text>
<path d="M99,353.90000000000003 L99,374.6 L120.5,374.6" fill="none" stroke="#3b4a6b" stroke-width="0.8"/>
<path d="M97.4,356.90000000000003 L99,353.90000000000003 L100.6,356.90000000000003 Z" fill="#3b4a6b"/>
<path d="M117.5,373.0 L120.5,374.6 L117.5,376.20000000000005 Z" fill="#3b4a6b"/>
<text x="96.10" y="364.25" font-size="5.9" text-anchor="middle" fill="#231f20" transform="rotate(-90 96.1 364.25)">UMAP2</text>
<text x="109.75" y="382.02" font-size="5.9" text-anchor="middle" fill="#231f20" >UMAP1</text>
<text x="466.20" y="271.11" font-size="7.25" text-anchor="middle" fill="#231f20" >Cell type proportion</text>
<rect x="410.10" y="277.90" width="62.89" height="13.70" fill="#e2855a"/>
<rect x="472.99" y="277.90" width="3.01" height="13.70" fill="#2f46a8"/>
<rect x="476.00" y="277.90" width="41.60" height="13.70" fill="#78594d"/>
<rect x="410.10" y="293.00" width="52.68" height="13.00" fill="#e2855a"/>
<rect x="462.78" y="293.00" width="3.22" height="13.00" fill="#2f46a8"/>
<rect x="466.00" y="293.00" width="51.60" height="13.00" fill="#78594d"/>
<rect x="410.10" y="307.00" width="49.45" height="13.90" fill="#e2855a"/>
<rect x="459.55" y="307.00" width="4.30" height="13.90" fill="#2f46a8"/>
<rect x="463.85" y="307.00" width="53.75" height="13.90" fill="#78594d"/>
<rect x="410.10" y="321.90" width="4.51" height="13.70" fill="#e2855a"/>
<rect x="414.62" y="321.90" width="2.26" height="13.70" fill="#2f46a8"/>
<rect x="416.87" y="321.90" width="100.73" height="13.70" fill="#78594d"/>
<rect x="410.1" y="274.2" width="112.19999999999993" height="64.10000000000002" fill="none" stroke="#8a8a8a" stroke-width="0.7"/>
<line x1="410.10" y1="338.30" x2="410.10" y2="340.30" stroke="#8a8a8a" stroke-width="0.7" />
<text x="410.10" y="347.34" font-size="6.5" text-anchor="middle" fill="#231f20" >0</text>
<line x1="431.60" y1="338.30" x2="431.60" y2="340.30" stroke="#8a8a8a" stroke-width="0.7" />
<text x="431.60" y="347.34" font-size="6.5" text-anchor="middle" fill="#231f20" >0.2</text>
<line x1="453.10" y1="338.30" x2="453.10" y2="340.30" stroke="#8a8a8a" stroke-width="0.7" />
<text x="453.10" y="347.34" font-size="6.5" text-anchor="middle" fill="#231f20" >0.4</text>
<line x1="474.60" y1="338.30" x2="474.60" y2="340.30" stroke="#8a8a8a" stroke-width="0.7" />
<text x="474.60" y="347.34" font-size="6.5" text-anchor="middle" fill="#231f20" >0.6</text>
<line x1="496.10" y1="338.30" x2="496.10" y2="340.30" stroke="#8a8a8a" stroke-width="0.7" />
<text x="496.10" y="347.34" font-size="6.5" text-anchor="middle" fill="#231f20" >0.8</text>
<line x1="517.60" y1="338.30" x2="517.60" y2="340.30" stroke="#8a8a8a" stroke-width="0.7" />
<text x="517.60" y="347.34" font-size="6.5" text-anchor="middle" fill="#231f20" >1.0</text>
<text x="406.00" y="287.05" font-size="6.8" text-anchor="end" fill="#231f20" >Normal</text>
<line x1="408.00" y1="284.30" x2="410.10" y2="284.30" stroke="#8a8a8a" stroke-width="0.7" />
<text x="406.00" y="302.15" font-size="6.8" text-anchor="end" fill="#231f20" >COPD</text>
<line x1="408.00" y1="299.40" x2="410.10" y2="299.40" stroke="#8a8a8a" stroke-width="0.7" />
<text x="406.00" y="316.55" font-size="6.8" text-anchor="end" fill="#231f20" >Normal</text>
<line x1="408.00" y1="313.80" x2="410.10" y2="313.80" stroke="#8a8a8a" stroke-width="0.7" />
<text x="406.00" y="332.05" font-size="6.8" text-anchor="end" fill="#231f20" >COPD</text>
<line x1="408.00" y1="329.30" x2="410.10" y2="329.30" stroke="#8a8a8a" stroke-width="0.7" />
<text x="0.00" y="0.00" font-size="6.8" text-anchor="middle" fill="#231f20" transform="translate(526,292) rotate(90)">PO</text>
<text x="0.00" y="0.00" font-size="6.8" text-anchor="middle" fill="#231f20" transform="translate(526,322) rotate(90)">BO</text>
<rect x="581.8" y="274" width="99.70000000000005" height="96.30000000000001" fill="none" stroke="#8a8a8a" stroke-width="0.7"/>
<line x1="579.80" y1="366.80" x2="581.80" y2="366.80" stroke="#8a8a8a" stroke-width="0.7" />
<text x="578.60" y="369.18" font-size="6.6" text-anchor="end" fill="#231f20" >0</text>
<line x1="579.80" y1="349.14" x2="581.80" y2="349.14" stroke="#8a8a8a" stroke-width="0.7" />
<text x="578.60" y="351.52" font-size="6.6" text-anchor="end" fill="#231f20" >0.2</text>
<line x1="579.80" y1="331.48" x2="581.80" y2="331.48" stroke="#8a8a8a" stroke-width="0.7" />
<text x="578.60" y="333.86" font-size="6.6" text-anchor="end" fill="#231f20" >0.4</text>
<line x1="579.80" y1="313.82" x2="581.80" y2="313.82" stroke="#8a8a8a" stroke-width="0.7" />
<text x="578.60" y="316.20" font-size="6.6" text-anchor="end" fill="#231f20" >0.6</text>
<line x1="579.80" y1="296.16" x2="581.80" y2="296.16" stroke="#8a8a8a" stroke-width="0.7" />
<text x="578.60" y="298.54" font-size="6.6" text-anchor="end" fill="#231f20" >0.8</text>
<line x1="579.80" y1="278.50" x2="581.80" y2="278.50" stroke="#8a8a8a" stroke-width="0.7" />
<text x="578.60" y="280.88" font-size="6.6" text-anchor="end" fill="#231f20" >1.0</text>
<line x1="586.40" y1="370.30" x2="586.40" y2="372.30" stroke="#8a8a8a" stroke-width="0.7" />
<text x="586.40" y="379.48" font-size="6.6" text-anchor="middle" fill="#231f20" >0</text>
<line x1="609.12" y1="370.30" x2="609.12" y2="372.30" stroke="#8a8a8a" stroke-width="0.7" />
<text x="609.12" y="379.48" font-size="6.6" text-anchor="middle" fill="#231f20" >0.25</text>
<line x1="631.85" y1="370.30" x2="631.85" y2="372.30" stroke="#8a8a8a" stroke-width="0.7" />
<text x="631.85" y="379.48" font-size="6.6" text-anchor="middle" fill="#231f20" >0.50</text>
<line x1="654.58" y1="370.30" x2="654.58" y2="372.30" stroke="#8a8a8a" stroke-width="0.7" />
<text x="654.58" y="379.48" font-size="6.6" text-anchor="middle" fill="#231f20" >0.75</text>
<line x1="677.30" y1="370.30" x2="677.30" y2="372.30" stroke="#8a8a8a" stroke-width="0.7" />
<text x="677.30" y="379.48" font-size="6.6" text-anchor="middle" fill="#231f20" >1.00</text>
<text x="631.70" y="269.91" font-size="6.7" text-anchor="middle" fill="#231f20" >ROC curves</text>
<text x="563.50" y="322.15" font-size="6.8" text-anchor="middle" fill="#231f20" transform="rotate(-90 563.5 322.15)">True positive rate</text>
<text x="631.65" y="386.45" font-size="6.8" text-anchor="middle" fill="#231f20" >False positive rate</text>
<path d="M586.4,366.8 L677.3,278.5" stroke="#222" stroke-width="0.75" stroke-dasharray="0.9,0.7" fill="none"/>
<path d="M586.40,366.80 C586.85,365.33 588.22,360.91 589.13,357.97 C590.04,355.03 590.87,351.94 591.85,349.14 C592.84,346.34 593.67,343.99 595.04,341.19 C596.40,338.40 598.08,335.45 600.03,332.36 C601.99,329.27 604.64,325.23 606.76,322.65 C608.88,320.07 610.82,318.68 612.76,316.91 C614.70,315.14 616.43,313.75 618.40,312.05 C620.37,310.36 622.64,308.37 624.58,306.76 C626.52,305.14 628.06,303.74 630.03,302.34 C632.00,300.94 634.43,299.54 636.39,298.37 C638.36,297.19 639.73,296.53 641.85,295.28 C643.97,294.03 646.85,292.19 649.12,290.86 C651.39,289.54 653.21,288.43 655.48,287.33 C657.76,286.23 660.33,285.21 662.76,284.24 C665.18,283.27 667.60,282.46 670.03,281.50 C672.45,280.55 676.09,279.00 677.30,278.50" stroke="#f28a33" stroke-width="0.9" fill="none"/>
<path d="M586.40,366.80 C586.55,362.38 587.01,350.61 587.31,340.31 C587.61,330.01 587.91,313.82 588.22,304.99 C588.52,296.16 588.75,290.94 589.13,287.33 C589.51,283.72 589.88,284.33 590.49,283.36 C591.10,282.39 591.63,282.02 592.76,281.50 C593.90,280.99 595.04,280.62 597.31,280.27 C599.58,279.91 600.64,279.60 606.40,279.38 C612.15,279.16 620.03,279.09 631.85,278.94 C643.67,278.79 669.72,278.57 677.30,278.50" stroke="#8e2433" stroke-width="1.0" fill="none"/>
<line x1="612.60" y1="349.70" x2="616.00" y2="349.70" stroke="#8e2433" stroke-width="0.9" />
<text x="619.60" y="351.86" font-size="6.0" text-anchor="start" fill="#231f20" >BO (AUC = 0.96)</text>
<line x1="612.60" y1="358.00" x2="616.00" y2="358.00" stroke="#f28a33" stroke-width="0.9" />
<text x="619.60" y="360.16" font-size="6.0" text-anchor="start" fill="#231f20" >PO (AUC = 0.68)</text>
<line x1="612.60" y1="366.10" x2="616.00" y2="366.10" stroke="#333" stroke-width="0.9" />
<text x="619.60" y="368.26" font-size="6.0" text-anchor="start" fill="#231f20" >Random (AUC = 0.50)</text>
<text x="91.10" y="500.75" font-size="6.8" text-anchor="middle" fill="#231f20" >Nasopharyngeal</text>
<text x="194.20" y="499.95" font-size="6.8" text-anchor="middle" fill="#231f20" >Bronchial</text>
<path d="M42.55,525.4 L42.55,525.40 C42.83,524.07 43.74,521.07 44.25,517.40 C44.76,513.73 45.22,507.23 45.62,503.40 C46.01,499.57 46.30,495.40 46.64,494.40 C46.98,493.40 47.26,495.23 47.66,497.40 C48.06,499.57 48.51,504.23 49.02,507.40 C49.54,510.57 50.16,514.07 50.73,516.40 C51.30,518.73 51.72,520.15 52.44,521.40 C53.15,522.65 54.14,523.32 54.99,523.90 C55.84,524.48 55.70,524.65 57.55,524.90 C59.40,525.15 64.65,525.32 66.08,525.40 L66.08,525.4 Z" fill="#9e9fa0" style="mix-blend-mode:multiply"/>
<path d="M42.55,525.40 C42.83,524.07 43.74,521.07 44.25,517.40 C44.76,513.73 45.22,507.23 45.62,503.40 C46.01,499.57 46.30,495.40 46.64,494.40 C46.98,493.40 47.26,495.23 47.66,497.40 C48.06,499.57 48.51,504.23 49.02,507.40 C49.54,510.57 50.16,514.07 50.73,516.40 C51.30,518.73 51.72,520.15 52.44,521.40 C53.15,522.65 54.14,523.32 54.99,523.90 C55.84,524.48 55.70,524.65 57.55,524.90 C59.40,525.15 64.65,525.32 66.08,525.40" fill="none" stroke="#1a1a1a" stroke-width="0.7"/>
<path d="M42.55,525.4 L42.55,525.40 C42.83,524.23 43.74,521.40 44.25,518.40 C44.76,515.40 45.16,510.57 45.62,507.40 C46.07,504.23 46.55,500.57 46.98,499.40 C47.41,498.23 47.69,499.23 48.17,500.40 C48.66,501.57 49.31,504.57 49.88,506.40 C50.45,508.23 51.01,509.73 51.58,511.40 C52.15,513.07 52.72,514.98 53.29,516.40 C53.86,517.82 54.28,518.73 54.99,519.90 C55.70,521.07 56.56,522.65 57.55,523.40 C58.54,524.15 58.12,524.15 60.96,524.40 C63.80,524.65 69.48,524.77 74.60,524.90 C79.71,525.03 83.12,525.12 91.65,525.20 C100.18,525.28 120.07,525.37 125.75,525.40 L125.75,525.4 Z" fill="#f9c08e" style="mix-blend-mode:multiply"/>
<path d="M42.55,525.40 C42.83,524.23 43.74,521.40 44.25,518.40 C44.76,515.40 45.16,510.57 45.62,507.40 C46.07,504.23 46.55,500.57 46.98,499.40 C47.41,498.23 47.69,499.23 48.17,500.40 C48.66,501.57 49.31,504.57 49.88,506.40 C50.45,508.23 51.01,509.73 51.58,511.40 C52.15,513.07 52.72,514.98 53.29,516.40 C53.86,517.82 54.28,518.73 54.99,519.90 C55.70,521.07 56.56,522.65 57.55,523.40 C58.54,524.15 58.12,524.15 60.96,524.40 C63.80,524.65 69.48,524.77 74.60,524.90 C79.71,525.03 83.12,525.12 91.65,525.20 C100.18,525.28 120.07,525.37 125.75,525.40" fill="none" stroke="#1a1a1a" stroke-width="0.7"/>
<line x1="40.50" y1="525.40" x2="127.00" y2="525.40" stroke="#3a3a3a" stroke-width="0.8" />
<path d="M43.06,544.2 L43.06,544.20 C43.43,542.87 44.68,538.70 45.27,536.20 C45.87,533.70 46.18,529.53 46.64,529.20 C47.09,528.87 47.55,534.03 48.00,534.20 C48.46,534.37 48.91,532.20 49.37,530.20 C49.82,528.20 50.28,523.20 50.73,522.20 C51.18,521.20 51.67,522.53 52.09,524.20 C52.52,525.87 52.80,530.20 53.29,532.20 C53.77,534.20 54.28,535.20 54.99,536.20 C55.70,537.20 56.56,537.53 57.55,538.20 C58.54,538.87 59.82,539.62 60.96,540.20 C62.10,540.78 63.23,541.20 64.37,541.70 C65.51,542.20 66.08,542.83 67.78,543.20 C69.48,543.57 72.04,543.73 74.60,543.90 C77.16,544.07 81.70,544.15 83.12,544.20 L83.12,544.2 Z" fill="#9e9fa0" style="mix-blend-mode:multiply"/>
<path d="M43.06,544.20 C43.43,542.87 44.68,538.70 45.27,536.20 C45.87,533.70 46.18,529.53 46.64,529.20 C47.09,528.87 47.55,534.03 48.00,534.20 C48.46,534.37 48.91,532.20 49.37,530.20 C49.82,528.20 50.28,523.20 50.73,522.20 C51.18,521.20 51.67,522.53 52.09,524.20 C52.52,525.87 52.80,530.20 53.29,532.20 C53.77,534.20 54.28,535.20 54.99,536.20 C55.70,537.20 56.56,537.53 57.55,538.20 C58.54,538.87 59.82,539.62 60.96,540.20 C62.10,540.78 63.23,541.20 64.37,541.70 C65.51,542.20 66.08,542.83 67.78,543.20 C69.48,543.57 72.04,543.73 74.60,543.90 C77.16,544.07 81.70,544.15 83.12,544.20" fill="none" stroke="#1a1a1a" stroke-width="0.7"/>
<path d="M43.06,544.2 L43.06,544.20 C43.48,543.37 44.76,541.53 45.62,539.20 C46.47,536.87 47.46,532.70 48.17,530.20 C48.88,527.70 49.39,525.70 49.88,524.20 C50.36,522.70 50.64,521.37 51.07,521.20 C51.50,521.03 51.92,522.03 52.44,523.20 C52.95,524.37 53.57,526.53 54.14,528.20 C54.71,529.87 55.28,532.03 55.84,533.20 C56.41,534.37 56.98,534.53 57.55,535.20 C58.12,535.87 58.69,536.53 59.25,537.20 C59.82,537.87 60.39,538.95 60.96,539.20 C61.53,539.45 62.15,538.95 62.66,538.70 C63.18,538.45 63.60,537.45 64.03,537.70 C64.46,537.95 64.74,539.37 65.22,540.20 C65.71,541.03 66.22,542.17 66.93,542.70 C67.64,543.23 66.79,543.23 69.48,543.40 C72.18,543.57 76.59,543.60 83.12,543.70 C89.66,543.80 101.60,543.92 108.70,544.00 C115.80,544.08 122.91,544.17 125.75,544.20 L125.75,544.2 Z" fill="#f9c08e" style="mix-blend-mode:multiply"/>
<path d="M43.06,544.20 C43.48,543.37 44.76,541.53 45.62,539.20 C46.47,536.87 47.46,532.70 48.17,530.20 C48.88,527.70 49.39,525.70 49.88,524.20 C50.36,522.70 50.64,521.37 51.07,521.20 C51.50,521.03 51.92,522.03 52.44,523.20 C52.95,524.37 53.57,526.53 54.14,528.20 C54.71,529.87 55.28,532.03 55.84,533.20 C56.41,534.37 56.98,534.53 57.55,535.20 C58.12,535.87 58.69,536.53 59.25,537.20 C59.82,537.87 60.39,538.95 60.96,539.20 C61.53,539.45 62.15,538.95 62.66,538.70 C63.18,538.45 63.60,537.45 64.03,537.70 C64.46,537.95 64.74,539.37 65.22,540.20 C65.71,541.03 66.22,542.17 66.93,542.70 C67.64,543.23 66.79,543.23 69.48,543.40 C72.18,543.57 76.59,543.60 83.12,543.70 C89.66,543.80 101.60,543.92 108.70,544.00 C115.80,544.08 122.91,544.17 125.75,544.20" fill="none" stroke="#1a1a1a" stroke-width="0.7"/>
<line x1="40.50" y1="544.20" x2="127.00" y2="544.20" stroke="#3a3a3a" stroke-width="0.8" />
<path d="M42.55,564.4 L42.55,564.40 C42.83,563.40 43.74,560.73 44.25,558.40 C44.76,556.07 45.22,552.23 45.62,550.40 C46.01,548.57 46.21,547.40 46.64,547.40 C47.06,547.40 47.63,548.90 48.17,550.40 C48.71,551.90 49.31,554.73 49.88,556.40 C50.45,558.07 50.87,559.32 51.58,560.40 C52.29,561.48 53.15,562.28 54.14,562.90 C55.13,563.52 56.41,563.85 57.55,564.10 C58.69,564.35 60.39,564.35 60.96,564.40 L60.96,564.4 Z" fill="#9e9fa0" style="mix-blend-mode:multiply"/>
<path d="M42.55,564.40 C42.83,563.40 43.74,560.73 44.25,558.40 C44.76,556.07 45.22,552.23 45.62,550.40 C46.01,548.57 46.21,547.40 46.64,547.40 C47.06,547.40 47.63,548.90 48.17,550.40 C48.71,551.90 49.31,554.73 49.88,556.40 C50.45,558.07 50.87,559.32 51.58,560.40 C52.29,561.48 53.15,562.28 54.14,562.90 C55.13,563.52 56.41,563.85 57.55,564.10 C58.69,564.35 60.39,564.35 60.96,564.40" fill="none" stroke="#1a1a1a" stroke-width="0.7"/>
<path d="M42.55,564.4 L42.55,564.40 C42.92,563.40 44.11,560.57 44.76,558.40 C45.42,556.23 45.90,553.15 46.47,551.40 C47.04,549.65 47.60,548.23 48.17,547.90 C48.74,547.57 49.31,548.48 49.88,549.40 C50.45,550.32 51.01,551.98 51.58,553.40 C52.15,554.82 52.72,556.65 53.29,557.90 C53.86,559.15 54.28,560.07 54.99,560.90 C55.70,561.73 56.56,562.40 57.55,562.90 C58.54,563.40 59.54,563.65 60.96,563.90 C62.38,564.15 65.22,564.32 66.08,564.40 L66.08,564.4 Z" fill="#f9c08e" style="mix-blend-mode:multiply"/>
<path d="M42.55,564.40 C42.92,563.40 44.11,560.57 44.76,558.40 C45.42,556.23 45.90,553.15 46.47,551.40 C47.04,549.65 47.60,548.23 48.17,547.90 C48.74,547.57 49.31,548.48 49.88,549.40 C50.45,550.32 51.01,551.98 51.58,553.40 C52.15,554.82 52.72,556.65 53.29,557.90 C53.86,559.15 54.28,560.07 54.99,560.90 C55.70,561.73 56.56,562.40 57.55,562.90 C58.54,563.40 59.54,563.65 60.96,563.90 C62.38,564.15 65.22,564.32 66.08,564.40" fill="none" stroke="#1a1a1a" stroke-width="0.7"/>
<line x1="40.50" y1="564.40" x2="127.00" y2="564.40" stroke="#3a3a3a" stroke-width="0.8" />
<path d="M154.55,526.5 L154.55,526.50 C154.84,526.00 155.80,526.00 156.30,523.50 C156.80,521.00 157.09,515.33 157.53,511.50 C157.96,507.67 158.43,503.17 158.93,500.50 C159.42,497.83 159.92,495.17 160.50,495.50 C161.08,495.83 161.73,499.83 162.43,502.50 C163.12,505.17 163.97,508.17 164.70,511.50 C165.43,514.83 166.16,520.17 166.80,522.50 C167.44,524.83 167.97,524.83 168.55,525.50 C169.13,526.17 170.01,526.33 170.30,526.50 L170.30,526.5 Z" fill="#9e9fa0" style="mix-blend-mode:multiply"/>
<path d="M154.55,526.50 C154.84,526.00 155.80,526.00 156.30,523.50 C156.80,521.00 157.09,515.33 157.53,511.50 C157.96,507.67 158.43,503.17 158.93,500.50 C159.42,497.83 159.92,495.17 160.50,495.50 C161.08,495.83 161.73,499.83 162.43,502.50 C163.12,505.17 163.97,508.17 164.70,511.50 C165.43,514.83 166.16,520.17 166.80,522.50 C167.44,524.83 167.97,524.83 168.55,525.50 C169.13,526.17 170.01,526.33 170.30,526.50" fill="none" stroke="#1a1a1a" stroke-width="0.7"/>
<path d="M165.05,526.5 L165.05,526.50 C165.58,526.33 167.33,526.33 168.20,525.50 C169.08,524.67 169.37,523.50 170.30,521.50 C171.23,519.50 172.60,515.78 173.80,513.50 C175.00,511.22 176.45,508.22 177.48,507.80 C178.50,507.38 179.05,510.13 179.93,511.00 C180.80,511.87 181.85,511.92 182.73,513.00 C183.60,514.08 184.33,515.75 185.18,517.50 C186.02,519.25 187.04,522.08 187.80,523.50 C188.56,524.92 186.81,525.50 189.73,526.00 C192.64,526.50 202.70,526.42 205.30,526.50 L205.30,526.5 Z" fill="#c27a6c" style="mix-blend-mode:multiply"/>
<path d="M165.05,526.50 C165.58,526.33 167.33,526.33 168.20,525.50 C169.08,524.67 169.37,523.50 170.30,521.50 C171.23,519.50 172.60,515.78 173.80,513.50 C175.00,511.22 176.45,508.22 177.48,507.80 C178.50,507.38 179.05,510.13 179.93,511.00 C180.80,511.87 181.85,511.92 182.73,513.00 C183.60,514.08 184.33,515.75 185.18,517.50 C186.02,519.25 187.04,522.08 187.80,523.50 C188.56,524.92 186.81,525.50 189.73,526.00 C192.64,526.50 202.70,526.42 205.30,526.50" fill="none" stroke="#1a1a1a" stroke-width="0.7"/>
<line x1="152.80" y1="526.50" x2="228.30" y2="526.50" stroke="#3a3a3a" stroke-width="0.8" />
<path d="M155.43,545.7 L155.43,545.70 C155.80,544.03 156.97,540.37 157.70,535.70 C158.43,531.03 159.16,519.70 159.80,517.70 C160.44,515.70 160.97,521.37 161.55,523.70 C162.13,526.03 162.72,529.70 163.30,531.70 C163.88,533.70 164.32,534.53 165.05,535.70 C165.78,536.87 166.80,537.70 167.68,538.70 C168.55,539.70 169.28,540.78 170.30,541.70 C171.32,542.62 172.34,543.58 173.80,544.20 C175.26,544.82 176.72,545.15 179.05,545.40 C181.38,545.65 186.34,545.65 187.80,545.70 L187.80,545.7 Z" fill="#9e9fa0" style="mix-blend-mode:multiply"/>
<path d="M155.43,545.70 C155.80,544.03 156.97,540.37 157.70,535.70 C158.43,531.03 159.16,519.70 159.80,517.70 C160.44,515.70 160.97,521.37 161.55,523.70 C162.13,526.03 162.72,529.70 163.30,531.70 C163.88,533.70 164.32,534.53 165.05,535.70 C165.78,536.87 166.80,537.70 167.68,538.70 C168.55,539.70 169.28,540.78 170.30,541.70 C171.32,542.62 172.34,543.58 173.80,544.20 C175.26,544.82 176.72,545.15 179.05,545.40 C181.38,545.65 186.34,545.65 187.80,545.70" fill="none" stroke="#1a1a1a" stroke-width="0.7"/>
<path d="M156.30,545.7 L156.30,545.70 C157.03,545.03 159.36,543.70 160.68,541.70 C161.99,539.70 163.15,535.87 164.18,533.70 C165.20,531.53 165.93,529.20 166.80,528.70 C167.68,528.20 168.55,529.70 169.43,530.70 C170.30,531.70 171.03,533.37 172.05,534.70 C173.07,536.03 174.38,537.53 175.55,538.70 C176.72,539.87 177.88,541.03 179.05,541.70 C180.22,542.37 181.53,542.28 182.55,542.70 C183.57,543.12 184.01,543.78 185.18,544.20 C186.34,544.62 186.20,544.95 189.55,545.20 C192.90,545.45 202.68,545.62 205.30,545.70 L205.30,545.7 Z" fill="#c27a6c" style="mix-blend-mode:multiply"/>
<path d="M156.30,545.70 C157.03,545.03 159.36,543.70 160.68,541.70 C161.99,539.70 163.15,535.87 164.18,533.70 C165.20,531.53 165.93,529.20 166.80,528.70 C167.68,528.20 168.55,529.70 169.43,530.70 C170.30,531.70 171.03,533.37 172.05,534.70 C173.07,536.03 174.38,537.53 175.55,538.70 C176.72,539.87 177.88,541.03 179.05,541.70 C180.22,542.37 181.53,542.28 182.55,542.70 C183.57,543.12 184.01,543.78 185.18,544.20 C186.34,544.62 186.20,544.95 189.55,545.20 C192.90,545.45 202.68,545.62 205.30,545.70" fill="none" stroke="#1a1a1a" stroke-width="0.7"/>
<line x1="152.80" y1="545.70" x2="228.30" y2="545.70" stroke="#3a3a3a" stroke-width="0.8" />
<path d="M155.43,564.2 L155.43,564.20 C155.80,562.20 156.97,557.03 157.70,552.20 C158.43,547.37 159.16,536.87 159.80,535.20 C160.44,533.53 160.97,539.03 161.55,542.20 C162.13,545.37 162.72,551.03 163.30,554.20 C163.88,557.37 164.32,559.62 165.05,561.20 C165.78,562.78 166.80,563.20 167.68,563.70 C168.55,564.20 169.86,564.12 170.30,564.20 L170.30,564.2 Z" fill="#9e9fa0" style="mix-blend-mode:multiply"/>
<path d="M155.43,564.20 C155.80,562.20 156.97,557.03 157.70,552.20 C158.43,547.37 159.16,536.87 159.80,535.20 C160.44,533.53 160.97,539.03 161.55,542.20 C162.13,545.37 162.72,551.03 163.30,554.20 C163.88,557.37 164.32,559.62 165.05,561.20 C165.78,562.78 166.80,563.20 167.68,563.70 C168.55,564.20 169.86,564.12 170.30,564.20" fill="none" stroke="#1a1a1a" stroke-width="0.7"/>
<path d="M156.30,564.2 L156.30,564.20 C156.88,563.53 158.78,562.03 159.80,560.20 C160.82,558.37 161.70,554.62 162.43,553.20 C163.15,551.78 163.45,551.03 164.18,551.70 C164.90,552.37 165.78,555.62 166.80,557.20 C167.82,558.78 168.84,560.20 170.30,561.20 C171.76,562.20 173.80,562.87 175.55,563.20 C177.30,563.53 179.49,564.03 180.80,563.20 C182.11,562.37 182.55,560.70 183.43,558.20 C184.30,555.70 185.18,549.03 186.05,548.20 C186.93,547.37 187.80,551.03 188.68,553.20 C189.55,555.37 190.28,559.53 191.30,561.20 C192.32,562.87 193.05,562.70 194.80,563.20 C196.55,563.70 200.63,564.03 201.80,564.20 L201.80,564.2 Z" fill="#c27a6c" style="mix-blend-mode:multiply"/>
<path d="M156.30,564.20 C156.88,563.53 158.78,562.03 159.80,560.20 C160.82,558.37 161.70,554.62 162.43,553.20 C163.15,551.78 163.45,551.03 164.18,551.70 C164.90,552.37 165.78,555.62 166.80,557.20 C167.82,558.78 168.84,560.20 170.30,561.20 C171.76,562.20 173.80,562.87 175.55,563.20 C177.30,563.53 179.49,564.03 180.80,563.20 C182.11,562.37 182.55,560.70 183.43,558.20 C184.30,555.70 185.18,549.03 186.05,548.20 C186.93,547.37 187.80,551.03 188.68,553.20 C189.55,555.37 190.28,559.53 191.30,561.20 C192.32,562.87 193.05,562.70 194.80,563.20 C196.55,563.70 200.63,564.03 201.80,564.20" fill="none" stroke="#1a1a1a" stroke-width="0.7"/>
<line x1="152.80" y1="564.20" x2="228.30" y2="564.20" stroke="#3a3a3a" stroke-width="0.8" />
<line x1="40.50" y1="564.20" x2="40.50" y2="566.20" stroke="#3a3a3a" stroke-width="0.6" />
<text x="40.50" y="573.94" font-size="6.5" text-anchor="middle" fill="#231f20" >0</text>
<line x1="152.80" y1="564.20" x2="152.80" y2="566.20" stroke="#3a3a3a" stroke-width="0.6" />
<text x="152.80" y="573.94" font-size="6.5" text-anchor="middle" fill="#231f20" >0</text>
<line x1="57.55" y1="564.20" x2="57.55" y2="566.20" stroke="#3a3a3a" stroke-width="0.6" />
<text x="57.55" y="573.94" font-size="6.5" text-anchor="middle" fill="#231f20" >0.1</text>
<line x1="170.30" y1="564.20" x2="170.30" y2="566.20" stroke="#3a3a3a" stroke-width="0.6" />
<text x="170.30" y="573.94" font-size="6.5" text-anchor="middle" fill="#231f20" >0.1</text>
<line x1="74.60" y1="564.20" x2="74.60" y2="566.20" stroke="#3a3a3a" stroke-width="0.6" />
<text x="74.60" y="573.94" font-size="6.5" text-anchor="middle" fill="#231f20" >0.2</text>
<line x1="187.80" y1="564.20" x2="187.80" y2="566.20" stroke="#3a3a3a" stroke-width="0.6" />
<text x="187.80" y="573.94" font-size="6.5" text-anchor="middle" fill="#231f20" >0.2</text>
<line x1="91.65" y1="564.20" x2="91.65" y2="566.20" stroke="#3a3a3a" stroke-width="0.6" />
<text x="91.65" y="573.94" font-size="6.5" text-anchor="middle" fill="#231f20" >0.3</text>
<line x1="205.30" y1="564.20" x2="205.30" y2="566.20" stroke="#3a3a3a" stroke-width="0.6" />
<text x="205.30" y="573.94" font-size="6.5" text-anchor="middle" fill="#231f20" >0.3</text>
<line x1="108.70" y1="564.20" x2="108.70" y2="566.20" stroke="#3a3a3a" stroke-width="0.6" />
<text x="108.70" y="573.94" font-size="6.5" text-anchor="middle" fill="#231f20" >0.4</text>
<line x1="222.80" y1="564.20" x2="222.80" y2="566.20" stroke="#3a3a3a" stroke-width="0.6" />
<text x="222.80" y="573.94" font-size="6.5" text-anchor="middle" fill="#231f20" >0.4</text>
<text x="132.80" y="583.45" font-size="6.8" text-anchor="middle" fill="#231f20" >Distance to HEOCA</text>
<text x="35.00" y="521.18" font-size="6.6" text-anchor="end" fill="#231f20" >Club</text>
<text x="35.00" y="540.98" font-size="6.6" text-anchor="end" fill="#231f20" >Ciliated</text>
<text x="35.00" y="560.58" font-size="6.6" text-anchor="end" fill="#231f20" >Basal</text>
<text x="89" y="520.8000000000001" font-size="6.7" letter-spacing="-0.4" fill="#231f20"><tspan font-style="italic">P</tspan> = 1.1 × 10<tspan font-size="4.2" dy="-3.0" letter-spacing="-0.2">−36</tspan></text>
<text x="89.5" y="541.2" font-size="6.7" letter-spacing="-0.4" fill="#231f20"><tspan font-style="italic">P</tspan> = 9.5 × 10<tspan font-size="4.2" dy="-3.0" letter-spacing="-0.2">−12</tspan></text>
<text x="90.5" y="560.2" font-size="6.7" letter-spacing="-0.4" fill="#231f20"><tspan font-style="italic">P</tspan> < 1.0 × 10<tspan font-size="4.2" dy="-3.0" letter-spacing="-0.2">−100</tspan></text>
<text x="196" y="521.1" font-size="6.7" letter-spacing="-0.4" fill="#231f20"><tspan font-style="italic">P</tspan> < 1.0 × 10<tspan font-size="4.2" dy="-3.0" letter-spacing="-0.2">−100</tspan></text>
<text x="197" y="541.0" font-size="6.7" letter-spacing="-0.4" fill="#231f20"><tspan font-style="italic">P</tspan> = 5.8 × 10<tspan font-size="4.2" dy="-3.0" letter-spacing="-0.2">−10</tspan></text>
<text x="196" y="559.7" font-size="6.7" letter-spacing="-0.4" fill="#231f20"><tspan font-style="italic">P</tspan> < 1.0 × 10<tspan font-size="4.2" dy="-3.0" letter-spacing="-0.2">−100</tspan></text>
<rect x="251.2" y="543.8" width="4.2" height="4.2" fill="#7d7d7d" stroke="#555" stroke-width="0.4"/>
<text x="258.70" y="548.20" font-size="6.4" text-anchor="start" fill="#231f20" >Healthy</text>
<rect x="251.2" y="551.1999999999999" width="4.2" height="4.2" fill="#f9c08e" stroke="#555" stroke-width="0.4"/>
<text x="258.70" y="555.60" font-size="6.4" text-anchor="start" fill="#231f20" >COPD (PO)</text>
<rect x="251.2" y="558.6999999999999" width="4.2" height="4.2" fill="#c27a6c" stroke="#555" stroke-width="0.4"/>
<text x="258.70" y="563.10" font-size="6.4" text-anchor="start" fill="#231f20" >COPD (BO)</text>
<text x="373.00" y="363.45" font-size="6.8" text-anchor="middle" fill="#231f20" >Basal cells (BO)</text>
<text x="460.00" y="363.45" font-size="6.8" text-anchor="middle" fill="#231f20" >HEOCA distance</text>
<text x="361.30" y="468.85" font-size="6.8" text-anchor="middle" fill="#231f20" >Disease state</text>
<path d="M356 418.9h0m19.3-41.3h0m-5.1-.8h0m-11.3 21.2h0m26-.7h0m-5.3-3.7h0m-32.8 34h0m9.4-11.6h0m12-7.7h0m3.8-34.6h0m-12.7 54.2h0m-18.9 14h0m20-37.3h0m13.2 15h0m2.2-33.7h0m2.8 3.4h0m-19.3 30.4h0m21.4-22.5h0m-7.6 4.6h0m-13.2-25.2h0m6 2.5h0m6.9 28.8h0m5.5-13.6h0m.2 1.5h0m-6.4-1.2h0m-3.8 8.6h0m-7.6-14h0m-5.4 35.4h0m1.2 1.5h0m9.1-45.4h0m5.2 25.5h0m.2 2.7h0m-14.1 20.7h0m6.8-29.4h0m-5.2 3h0m-18.6 29.2h0m19.2-35.2h0m-1.3 11.9h0m1.4-32.2h0m26.8 21.8h0m-9.2-11.9h0m-18.7-14.5h0m19.4 35.7h0m-23.7 11.5h0m-2 11.9h0m20.8-18.2h0m9.4-4.5h0m-6.2-22.1h0m1 25.4h0m-9.1-34.3h0m-7.4 29.7h0m-1.1-27.2h0m-17 53.5h0m36.6-41.6h0m-12.3 .8h0m-26.1 35.8h0m13.2-48.6h0m3.5 9.1h0m-6.2 40.2h0m5.7-23.6h0m26.2-14.5h0m-1.6 21.6h0m-11.6-38.5h0m.5 29.6h0m-15.6-19.8h0m31.9 17.9h0m-31.4-2.5h0m4.7-7.4h0m25.8 10.4h0m-18.9 8.9h0m9.7-9.6h0m-28.4 17.3h0m11.3-40.7h0m-3.3 40.5h0m12.4-44.8h0m-12 27.9h0m3.6 16.3h0m7.4-23.4h0m-6.4-5.3h0m-12.3 31.1h0m16.1-47.8h0m14.4 15.5h0m-19 30.6h0m7.1-33.6h0m-29 51.5h0m33.5-40.5h0m-18.3 30.9h0m13.7-30.7h0m-11.6-26.5h0m19.1 11.5h0m-8.4-1h0m-30 53.3h0m20-45.5h0m16.6-6h0m-15.2 8.2h0m20.3 18.6h0m-3.9-17.2h0m-15.8 19.6h0m20.5-2.1h0m-20.2 0h0m20.6-19.7h0m-5.7 6.6h0m-7.4-6.5h0m6.5 12.7h0m-31.7 27.3h0m20.1-42.5h0m-13.1 48.8h0m4.7-14h0m4-16.7h0m12.3 10h0m-10.3 7h0m21.8-14h0m-35.5 14h0m32-33.2h0m-22.2-5.3h0m6.7-7.4h0m-13.1 44.8h0m18.8-33.3h0m-18.3 44.1h0m14.6-62h0m-9.3 40.1h0m5.4-24h0m1.7-9.4h0m5.7-.2h0m19.4 18.4h0m-32.5 37.3h0m-2.5-.4h0m35.4-34.4h0m.4 2.6h0m-23.7-15.8h0m-9.8-13.4h0m13.9 33.3h0m-15.5 24.8h0m28.8-33.1h0m-1.8 15.7h0m-6.3-27.3h0m-17.1 35.9h0m-1.8-44.9h0m-11.2 46.8h0m24-3.4h0m-18 7.6h0m8.4-17.9h0m23.7-10h0m-15.2-.3h0m8.4-2.8h0m-25.7 33.5h0m7.7-36.1h0m3.9-24h0m-5.8 22.2h0m31.5 14.1h0m-16.9 16.4h0m-27.7 4.3h0m20.5-56.8h0m21.4 36h0m-4.6-5.6h0m-24.6 11.6h0m1.1 8.8h0m-6.7-3.4h0m-5.3 15h0m26.4-32.2h0m-30.5 40h0m13-13.2h0m10.1-28.1h0m-5.7 19h0m6-35.4h0m-18.7 49.4h0m1.5-.3h0m27.3-51.9h0m-7 45.6h0m3.9-24.5h0m-24.7 37.4h0m19.6-13.7h0m8.3-5h0m-1.1-15.1h0m.5-26.9h0m-14 47.2h0m-14.7 8h0m28.5-12h0m-29.9 9.4h0m8.6-.2h0m30-39.8h0m-15.2-1h0m20.7 4.1h0m-49.5 43.5h0m37.2-16.6h0m-22 3.1h0m9.5-50.2h0m13.2 43.4h0m-9.9-14.9h0m-12.1 14.9h0m5.3-4.1h0m-3.7-37.6h0m3 16.6h0m22.7 8.5h0m-24.6 3.1h0m16.5-23.8h0m-1.3 27.2h0m-12-24.7h0m9.1 42.2h0m1.2-11.1h0m3.1-28.7h0m4 5.7h0m7.2 15.2h0m3.4-8.6h0m-9.8 8.1h0m-16.5 5.2h0m14.7-16.2h0m-9.2-24.9h0m2.8 12.9h0m-16.6 47.8h0m1.5 4.3h0m8.8-8.8h0m8.5-39.7h0m11 2.6h0m0 14.2h0m-13.4 7.2h0m-1.3-2.7h0m11.3-6.4h0m-22.5-23h0m8.7 48.2h0m-12.7-1.7h0m-8.9 9.9h0m8.7-2.8h0m14.1-31.4h0m-22.8 36.3h0m9.4-16h0m23.2-14.9h0m8.5-11.7h0m-3.8-9.5h0m-17.9 29h0m2.8 10.1h0m-10.7-8.6h0m18-28.4h0m-.9 28.6h0m-7.2-8.9h0m11 8.8h0m-21.6 17.9h0m3.2-3.5h0m17.6-13h0m-3-30.9h0m-3.9 21.4h0m-2.3-11.5h0m-22.4 42h0m38.3-49.5h0m-28.1 24.7h0m14.3-39.8h0m-11.1 44h0m.3-30.4h0m16.3 8.2h0m-26.9 34.4h0m19.3-13.4h0m-5.7-38.6h0m4.6 27.6h0m-21.5 35.3h0m36.8-35.4h0m-40.9 32.3h0m34.2-58.8h0m-24.1 49.4h0m9.6-16.1h0m-6.4 12.1h0m1.7 3.6h0m8.5-41.2h0m-4.1 6.7h0m24.9 7.9h0m-18.1-.3h0m-14.2 26h0m8-.9h0m15.3-16.3h0m-6.5 13.1h0m19.8-20.4h0m-19.6 5.4h0m-15.1 7.1h0m13.6-6.6h0m-9.6 19.2h0m-3.5-14.2h0m27.9-17.4h0m-13.9 12.1h0m-30.8 28.9h0m9.2-.5h0m19.9-55.2h0m10.5 22.8h0m-28 34.3h0m31-49.2h0m-3.9-6.6h0m11.8 18.4h0m-12.1 9.3h0m-29.7 16.3h0m34.7-26.1h0m.1 14.9h0m-14.4-23.2h0m-8.9 4.9h0m.4 5.8h0m12.1 13.1h0m-11.8-1h0m19.3-20.1h0m-20.8 37.9h0m21.2-22.7h0m5.5 4.1h0m-24.7 2.5h0m-18.3 20h0m9.3-.9h0m26-44.1h0m-7.9 28.8h0m-7.5-47.4h0m5.8 4.9h0m-14.4 39.1h0m17.9-41h0m-13.5 56.3h0m-15.4 13.2h0m28.5-52.6h0m-4.9-17.1h0m-.3 38.1h0m.3 1.5h0m-13.3 7.6h0m12.6 1.1h0m-8.9-8.9h0m3.8-30.3h0m18.2 9h0m-16.4-15.1h0m23 10.8h0m-1.8 7.1h0m-20.6 24.6h0m16.3-15.8h0m-18.9 23.2h0m12.2-39.1h0m-10.2 36.3h0m9.6-6.1h0m-3.2-4.8h0m8.1-10h0m2.9-19.2h0m7.2 20.9h0m-1.3-.6h0m-8.9-14.5h0m-4.6-19.1h0m-8.3 31.7h0m5.4-3.1h0m15.7-6.6h0m-21.6 12.2h0m3.5 22h0m-3.3-54.6h0m7.3 19.9h0m-9.3 20.8h0m-3.3 13.9h0m4.8-24.7h0m-4.3 19.3h0m24.8-30.1h0m-13.6 28.2h0m-4.5-23.1h0m14.4 4.8h0m2.1 13.4h0m-21.1-11.3h0m-1.2-8.5h0m27.3 11h0m-27.7 11.2h0m13.2-4.3h0m-13.5-26.7h0m16.7 33.9h0m11.6-19.1h0m-31.7 24.7h0m18.1-7h0m3.6-28.7h0m-20.6 30.6h0m.8-2.1h0m-3.5 1h0m12.9-42.9h0m20.1 27h0m-23.1-29.1h0m8.5 29.9h0m-30.2 24.5h0m10.9 2h0m20.5-43.7h0m-15.7-3.3h0m.9 46.7h0m1.7-34.4h0m-1.3 34.9h0m10-62h0m-8.8 41.4h0m-12.4 22.1h0m40.8-29.7h0m-14.9-28.5h0m-16.4 36.9h0m-13.5 19.8h0m5.4-10.8h0m11.6-46h0m-5.6 61.1h0m16.7-41.9h0m-31.8 48.9h0m30.7-24.1h0m-11-23.4h0m4.2 20.8h0m3.2-48h0m-14.8 51.4h0m-6.9 20.2h0m18.9-14.9h0m19.5-16.9h0m-15.5-2.1h0m8.7-9.1h0m-7.2-15h0m-18.9 47.8h0m11.5-18.8h0m-2.4 19.8h0m-3 3.2h0m19.1-27h0m-18.9 13.3h0m29.4-22.2h0m-6.5-7.2h0m-26.3 38.2h0m13.7-10.1h0m-7.5 11.1h0m4.1-17.7h0m5.8-39.2h0m6.7 45.7h0m-27.1 7.1h0m24.3-28.4h0m16.6 .4h0m-28.7-25.5h0m-5.7 44.4h0m19.9 3.1h0m3.8-28.7h0m-18.2-4.2h0m18.3-1.9h0m-21.7 39.6h0m21.1-16.2h0m-27.2 13.4h0m24.1-3h0m-5.7-14.6h0m10.3-16.1h0m-33 38.8h0m13.4-.8h0m-9.2-1.8h0m-1.6 8.8h0m30.2-21.3h0m-12.4 10.6h0m2.1-4.5h0m-9.3-9.9h0m24.3-14.9h0m3.6 6.2h0m-37.1 26.7h0m22-15.5h0m-8.4-33.4h0m8.5 19.6h0m-13.4-24.8h0m7.7 3h0m-26.4 53.6h0m31-33.4h0m-2.3 9.8h0m-9.2-3.5h0m15.3 17.5h0m-4.2-24.7h0m7.6 25.6h0m-22.9 1.4h0m25.3-32.3h0m-23.9 34.1h0m-14.8 10.5h0m33.6-44.3h0m-8.7 14.6h0m-6.3 25.6h0m13.4-11.6h0m-28.8 7.5h0m14.8-37.1h0m0 1.3h0m1.1 13.3h0m9.8-11.9h0m1.6 .9h0m-12.5 24.6h0m5.3-12h0m-6.4 21.2h0m-19.5 13h0m43.1-32.8h0m-21.4-13h0m11.6 7.2h0m-35.2 37.8h0m17.8-6.6h0m6.2-26.8h0m6.4 17.6h0m-13.5 1.6h0m18.8-42.4h0m-12.7 44.2h0m-20.8 5.1h0m30.3-56.9h0m4.2 42.6h0m-7.5-30.9h0m-14.3 47.9h0m23.6-47.4h0m-34.8 51.7h0m41.8-29.6h0m-19.2-11.9h0m21.5-1.4h0m-4.8 1.2h0m-1-12.9h0m-30.4 43h0m6.6-52.9h0m-2.6 47.9h0m20.9-38.1h0m-16-9.7h0m-14.2 58.4h0m26.3-54.8h0m3.1 8.5h0m-.1 13.1h0m-29.6 42.3h0m21.8-64h0m6.2 9.4h0m-25.7 36.7h0m26.3-3.8h0m-20 8.1h0m-7.8 5.8h0m16.6-5.6h0m-11-3.9h0m13.9-52.4h0m-1.4 16.5h0m4.6 30.3h0m7.1-10.4h0m11.1-12.1h0m-11.5 15h0m1.7-20.2h0m-3.2 5.4h0m-11 28.8h0m9.1-52.8h0m-2.9 49.2h0m-13.4 8.9h0m14.5-50.3h0m-3.8 33.6h0m14.3-8.8h0m-15.3-2h0m13.1 12h0m-25.3 21.5h0m10.1-43.4h0m-1.9-12.6h0m-12.9 49.9h0m26.2-17.1h0m6.1-6.5h0m-14.1 18.3h0m-12.8 .9h0m17.6-14.5h0m-3.4-10.3h0m-.7 16.1h0m-4-41h0m-5.9 50.5h0m-11.4 5.8h0m42.9-32.7h0m-29-21.4h0m-15.5 59.4h0m24.9-21.8h0m-16.2 22.1h0m23.9-40.6h0m-14.3-8.8h0m6.3 36.2h0m-10.6 1.8h0m8.1-49.6h0m11.3 43.4h0m-17.8-26.3h0m2.4 32.5h0m-7.5 3h0m-7.5-4h0m-5.7 14.1h0m20.2-10.1h0m2.4-13.9h0m-8.8 .6h0m7.3-17.2h0m1 21.7h0m-7-.9h0m-6.2 11.5h0m9.1-2.6h0m5.3-2.2h0m18.8-25.5h0m-31.4 30.7h0m35-34.8h0m-7.2 20.2h0m-40.8 26.7h0m15.8-8.3h0m27-39.8h0m-29.5 39.5h0m13.4-51.8h0m9.6 11.6h0m-29.4 47.7h0m17-43.8h0m.5-4.5h0m15.9 4.1h0m1.9 21.3h0m-22.4-25.1h0m11.8 20.6h0m-1.5 2.8h0m-11.1-3h0m19.7-16.1h0m-12.8-1h0m21.7 7.7h0m-27.7 .1h0m20.8 12.7h0m-26.2 11.6h0m15.3-53.6h0m-8.4-6.5h0m5.3 46.7h0m2-30h0m5.2 36.3h0m17.3-19.7h0m-3.1-1.7h0m-10.2 17h0m7.3-26.9h0m-16.4 31.8h0m17.3-11.5h0m-43.7 26.9h0m22.8-63.6h0m11.5 28.7h0m.9-17.8h0m-19.2-.3h0m23.5 14.2h0m-11.7 11.7h0m10.7-8.6h0m-18.8-17.6h0m1 36.5h0m10.6-25h0m-5.6 13.4h0m13.6 9.8h0m-21.6-28.3h0m17.6 28.6h0m-14.7-29.2h0m2.3 .6h0m-1.5 26.2h0m18.3-19.1h0m-16.8-10.1h0m-1.2-9.5h0m3.9 12.4h0m-15.5 30.3h0m7.8-1.8h0m18.1-40.9h0m-6.8 2.4h0m-9.5 24.5h0m15.4 .8h0m7.6-11h0m-27.5-10.7h0m.6-8.6h0m26.2 25.8h0m-25.9 15.5h0m-.7-39.7h0m13.5-7h0m-26.2 68.4h0m21.4-13h0m-.3 .7h0m3.4-55.5h0m-.2 53.8h0m-9.8-1.3h0m12.8-51.4h0m-25.1 59.1h0m16.6-37.2h0m1.7 1.8h0m22.7 8.6h0m-25.5-24.2h0m11.3-2.2h0m-.1 2.4h0m-21.5 45.9h0m23.2-48.2h0m-4.9 6.2h0m12.9 10.9h0m-20.6-14.8h0m14.9 27.3h0m-8.1 .2h0m-25 34.2h0m16.9-26.6h0m-2.7-19.1h0m9.7 13.7h0m-5.2 15.7h0m.9-31.2h0m-12.3 38.8h0m11.3-64.9h0m1 18.5h0m13.8 16.8h0m.1-27.6h0m10.5 22h0m-20.6-2.4h0m15.7 3.9h0m-17.8 .8h0m-12 30.5h0m35.9-29.5h0m-18.5 10h0m6.9 2.2h0m1.9-28.7h0m-16.6 11.7h0m-9.7 38.4h0m1.7-3.9h0m25.3-40.1h0m4.3 10.8h0m-29.3 15.8h0m5.5 3.4h0m-.6-15h0m-19.4 33.2h0m33.9-25.1h0m-20.5 4.6h0m-.1 7h0m13.4-26.7h0m15.9 8.8h0m-11.3-24.3h0m-5 19.4h0m-27.9 35.8h0m24.7-11.7h0m2.9-15.2h0m-4.6-7.2h0m24.5 2.2h0m-8.3-21.1h0m-.9 13h0m-33.7 36h0m39.5-38.8h0m-37.6 41.9h0m44.9-35.9h0m-23.8-27.1h0m24.2 22.3h0m-21.8-24h0m13.5 27.6h0m-40.2 26.9h0m31-43.6h0m-14.6 30.8h0m.1-27h0m14.5 21.1h0m-24.7 26.7h0m17.5-62.8h0m-23.6 63.4h0m23.4-27.7h0m-18.2 16.7h0m37-21.7h0m-25.3-16.6h0m5.5 16.2h0m-5.1 18.3h0m5.7-32h0m14-10.4h0m-17.3 20.1h0m1.6 20.6h0m-1.3-24.1h0m-14.3 36.5h0m-8.5 6.3h0m19.9-15.6h0m18.2-9.7h0m-3.6-30.1h0m-18.7 47.5h0m25-35.9h0m6.4 9.5h0m-45.3 28.2h0m39.1-18.8h0m-16.5-14.2h0m4.7 21.7h0m-21.1 9.8h0m9.3-43.5h0m26.2 17.5h0m-22.4 10.9h0m8.3-30.2h0m.2 28.4h0m3.7-6.3h0m-16.1 3.3h0m0 10.9h0m1.4-33.9h0m20.1 3.6h0m-17.2-17.6h0m-2 58.1h0m-17.1 9.2h0m35.9-33.1h0m-27.6 18.4h0m-11.3 10.3h0m10-16.9h0m-8.5 20.7h0m28.4-45.5h0m9.7-4.4h0m-4.9 31.2h0m-31 14.8h0m32.9-50.2h0m6.1 18.3h0m-22.7-24.9h0m2.8 28.6h0m2.1 3.2h0m4.9-15.2h0m-28.1 38.7h0m26.8-39.7h0m8.3 1.8h0m3-13.4h0m-14.9 44.1h0m-4.7-16.3h0m4-40.8h0m-7 42.8h0m10.6-8.4h0m9.9 12.5h0m-21.5-3.7h0m19.1 3.5h0m-11 9.4h0m-.8-6.7h0m-6.4-8h0m12.1-26.4h0m-1-13.6h0m-6.9 22h0m2.4-14.4h0m-1.6 23.3h0m-.8-11.2h0m6.5-2.1h0m-4.1 25.5h0m-23.2 23.1h0m40.7-51.3h0m2.7 21.5h0m-10.3-32.5h0m-12.8 54.2h0m-20.8 2.2h0m23.9-52.7h0m-22.3 53.6h0m23.4-55.5h0m-21 54.1h0m19.7-45.4h0m-6.8 33.3h0m-10.1 18.3h0m33.6-22.4h0m-36 13.3h0m25.4-41.6h0m9.2-2.4h0m-4.9 15.5h0m-.6 9h0m-14.8 9.4h0m1.4-38.7h0m.9 27.2h0m13.2-13.3h0m-17.5 24.4h0m11.4 5h0m2.4-50h0m-3.4 27.2h0m17.6-7.9h0m-8.4-16h0m-21.8 49.7h0m22.9-32h0m1.3-10.7h0m-8.8 29.5h0m-1.5-41.5h0m-7.1 48.4h0m-18.9 15.5h0m14.9-57h0m7.1 37.3h0m-3.7-4.5h0m24.9-7h0m-11.2 .8h0m5.6-14.1h0m-1.4 19.3h0m-6.1-13.6h0m.2 19.2h0m-2.6 6.2h0m11-14.7h0m1.3-17.5h0m-2.1 25h0m-14.8-45.2h0m5.4 34.2h0m-12.2 19.5h0m4.1-15.5h0m-1.5 14.2h0m-10 .5h0m26.7-45.8h0m-4.3-2.4h0m11.5 21.2h0m-42.6 39.9h0m15.4-2.7h0m32-38.8h0m-33.2 20.5h0m-3.9 9.6h0m22.9-19h0m-31.8 20.8h0m17.4-10.5h0m17.2-20.8h0m5.8 11.7h0m-1.3-23.6h0m-32.3 53.3h0m16.7-60.8h0m-7.8 6.3h0m10.3 30.3h0m.1-34.1h0m-5.1-6.1h0m24.3 34.5h0m-23-31h0m10.2 21.5h0m-15.9 1.6h0m-6.3 31.6h0m33.2-32.9h0m-25.3-.4h0m5.1 1.7h0m17.8 14h0m-16.3-42.2h0m-6.6 31.1h0m13.8 7.4h0m-22.7 27.8h0m-5.7 1.9h0m29.3-20.2h0m3.8-16.1h0m-9.7 21.3h0m-13.9-8h0m15.8-30.3h0m-1.3 4.1h0m-13.3 35.7h0m23.5-33.4h0m-16.8 7.6h0m7.5-18.3h0m2.4 9.8h0m-16.1 29.2h0m17.4-27.8h0m-19.1 42.1h0m27.7-43.8h0m-41.7 50.8h0m37.8-59.3h0m-22.4 10.9h0m20.2-1.4h0m2.6 21.1h0m-15.9 14.6h0m-6.3-27.4h0m4.9 16.9h0m-4.9-14.6h0m4.6-31.6h0m4-1.8h0m-23.4 56.1h0m27.7-50.4h0m3.2 42.6h0m-3.6 1.8h0m4.4-21.4h0m-20.9 21.5h0m-11.9 13.4h0m42-22.7h0m-7.8-3.8h0m-10.2-31.5h0m9 19.4h0m15.1 4.1h0m-45.9 42.4h0m23.8-50.7h0m-.3 2.7h0m-9 15.9h0m-.2 20.3h0m4.8-26.3h0m-1.6 20.3h0m-19.9 17.6h0m20-41.8h0m7.4 16.1h0m12.7-6.5h0m-21.4-2.5h0m6.8 14.7h0m-7.7 6.4h0m-2.8-38.2h0m21.8 .6h0m-1.2-6.7h0m-15.4-1.8h0m5.6 3.6h0m-20 51.1h0m4.1 1.1h0m15.1-49.2h0m-6.8 14.5h0m16.1 8.7h0m-16.7-30.1h0m1 .9h0m2.2 20.8h0m2.5 5.3h0m3.9-.1h0m-2.4 19.3h0m-5.7-45.7h0m2.6 40.7h0m6.2-26.6h0m4.4 21.7h0m-12.5-38h0m15 28h0m-28.8 26.9h0m14.9-46.4h0m-2 10.2h0m3.3-21h0m-7 48.3h0m9.1-24.3h0m15.3-16.1h0m-9.3 35h0m-13-38.4h0m-.9 7.2h0m13.8 21.2h0m-17.1 25.7h0m14.6-26.2h0m12.8-9.2h0m-39.3 35.7h0m-1.8 5.1h0m17.1-14.8h0m12.3-27h0m-.2 9.9h0m.4-38.6h0m5.8 32.9h0m11.4 5.8h0m-21.9-5.6h0m-12.2 18.9h0m33.4-21.4h0m-23.7 7.6h0m-5 .3h0m20.8-12.7h0m-10 8.4h0m-4.3 23.7h0m-19.5-5.1h0m15.5-7.5h0m26.1-21.5h0m-25.4 16.5h0m2.7-11.8h0m9.8-6.5h0m-11.7 2h0m.1 1h0m6.9-17.2h0m8.1 28.1h0m-3.4-1.5h0m-16.7-1.2h0m21.4-3h0m-6.6-5.9h0m13.9 .5h0m-8.3-11.5h0m-13.8 31.3h0m13.5-4.9h0m-13-16.3h0m-4.1-15.7h0m5.4 4.7h0m14.9 35.3h0m-8-39.6h0m2 14.6h0m-14.7-12.8h0m5.7 35.4h0m-19.6 22.9h0m12.7-66.7h0m-2.5 54.1h0m16.2-42.9h0m-29 42.3h0m43.7-21.8h0m-30.8 14.8h0m18.5-40.4h0m12.4 14.7h0m-8-1.1h0m2.8-2.5h0m-15.9 24.2h0m13.2-20.4h0m2 18h0m-13.4-38h0m17.9 26.4h0m-17.6 7.5h0m1.6-34.8h0m-5.2 13.6h0m-1-13.9h0m18.4 15.6h0m-12.8 14.3h0m-7.6-10.6h0m14.3-10.9h0m-1.6 13h0m2.5-15h0m1 1.2h0m-28.1 50.9h0m21.3-49.7h0m4.6 8.5h0m-13.2 7.1h0m4.4-12.8h0m23.7 20.7h0m-33.4-10.7h0m-11.2 35.5h0m9 2.9h0m23.8-38.2h0m-33.2 33.8h0m16.7-24.6h0m-3.4-5.9h0m10.9 18.7h0m20.3-11.7h0m-6-15h0m-21.8-17.8h0m-2.1 21.6h0m-19.7 42.6h0m33.8-47.3h0m-17.4 45.2h0m20.4-35.7h0m-11.3 15.7h0m-.4-20.4h0m1.3-6.6h0m9 28.2h0m-32.3 22.1h0m26.4-44.7h0m9.5-8.1h0m-19.6 34.8h0m12.5-2.4h0m-13.1-20.4h0m2.7-18h0m-8.9 48h0m9.4-49.5h0m-20.2 59.5h0m34.4-29.2h0m11.3-12.1h0m-21.8-21.3h0m-5.3 16.9h0m7.6 32.8h0m-2.9-3.5h0m-6.5-23.6h0m-15 42.9h0m35.1-50.3h0m-1 21.3h0m-22.5 2.3h0m5.9-7.1h0m12.2-4.9h0m.5 14.5h0m-16.3-40.2h0m18.6 34.7h0m-15.2-33.9h0m5.2 24.9h0m13.4 .1h0m-15.8-21.8h0m24.3 24.3h0m-42.6 37.6h0m20.3-39.5h0m20.4-4h0m-25.6 27.5h0m16.8-14.8h0m-15.3-12.4h0m21 6.2h0m-10.7-1.1h0m-16.3 21.9h0m9.8-54.5h0m-15.1 54h0m31.1-19.7h0m-13.8-5.5h0m-24.4 27.2h0m29.8-7.2h0m-20.8 2.7h0m33.1-12.2h0m-19-20.8h0m-7.3 29.3h0m.8-33.9h0m20.1 13.2h0m-24.7 25.6h0m13.8-34.3h0m-13.7 30.7h0m-1.1 12.9h0m15.8-24.6h0m-15 7.2h0m11.2-41.7h0m-22.9 69.7h0m21.5-62.1h0m5.7 2.6h0m15.2 16.5h0m-25.5 15.6h0m6.4-12.5h0m21.5-3.5h0m-24.9 13.2h0m23.3-8.5h0m-29.4-20.7h0m8.8 9.1h0m4-20.9h0m7.5 45.1h0m-19.8-37.5h0m15.3-3.5h0m10.9 34.5h0m-27.2-38.2h0m16.8 20.9h0m-25.1 47h0m13.2-18h0m2 5.1h0m12.2-31.7h0m-17.2-2.2h0m14.6 16.5h0m11.9-10.7h0m-39.4 36.9h0m33.9-38.5h0m-15.6 7h0m-7-15h0m7.8 31.7h0m2-4.7h0m-14.2 6.4h0m6.5-30.8h0m-7.5 39.5h0m5.2-37.2h0m2.7 33.8h0m23.8-12.7h0m-21.9-18.4h0m1.8 .1h0m6-10.8h0m-13.5 42.8h0m30.8-22.9h0m-20.3 18.7h0m5.8-48h0m-27.3 57.6h0m29.4-14.5h0m-30.5 18.5h0m-5.4-2.6h0m20.4-2.2h0m14.7-52.4h0m-13.5 29.4h0m-5.1 12.2h0m-.6-8.1h0m5.7-42.6h0m-4.6 50.8h0m7.6 5h0m14.8-47.5h0m-6.6 27.6h0m-18.8 22.5h0m13-20.2h0m13 10.1h0m2.1-25.2h0m-10.6 28.4h0m3.6-36.9h0m-3 35.1h0m-31 9.8h0m28.9-15.2h0m-10.4-30.9h0m29.1 16.2h0m-28.7 15.4h0m17.5-10.2h0m-20-19.9h0m11.2 5.9h0m-2.2 14.7h0m12.1 3.6h0m-8.6 1.6h0m-29.7 24.4h0m26.3-43.4h0m16.3 12.7h0m-11.7 16.8h0m-4.8-24h0m1.3 21.2h0m5.8-12.7h0m-1.8-6.8h0m7.3-7.5h0m-19.4-8.1h0m13.1-2.3h0m9.4 27.2h0m-23.4-9.4h0m-9.4 26.9h0m14.7-33.9h0m11.2-8.7h0m-21.9 45.5h0m1.8-2.1h0m-2-8.4h0m12.7-8.4h0m-4.8 14.8h0m2.5-49.5h0m13 35.3h0m-1.7-2.4h0m8.6-18.2h0m-38.3 45.9h0m27.3-53.9h0m-17.1 53.3h0m13.1-18.1h0m16.3-27.6h0m-10.6 2.1h0m-13.1 25.6h0m13.7-31.9h0m-3.5 1.3h0m-9.3 37.7h0m-17.3 17.9h0m24.6-64.1h0m-9.3 26.8h0m4.4 15.6h0m3.8-31.9h0m-4.7-12.8h0m-5.1 34.9h0m25.9-17.3h0m-16.3-11.8h0m-14.1 39h0m7.8-15.3h0m-2.3-11.6h0m-7.9 30.4h0m13.7-25.2h0m-3.7-29.4h0m24.8 38.4h0m-32.3 19.3h0m8.4-18.5h0m-4.1-38h0m-6.8 60.8h0m-1.7-7.9h0m18.1-31.4h0m-23.8 45.6h0m33.8-56.9h0m-17.5 31.5h0m-19.3 29h0m24.8-48.2h0m5-16.5h0m1.5 11.5h0m-12.5 30.3h0m-5.5 16h0m8.9-66.3h0m27.9 34.6h0m-27.6 12.3h0m18.9-15.8h0m-18.4 19.8h0m-3.6-3.7h0m14.5-14.2h0m-35.3 36.1h0m44.3-28.4h0m-21.5 14.5h0m-3.3-30.9h0m7.2-19.2h0m-2.2-.8h0m20.8 37.7h0m-33 12.8h0m21.1-25.1h0m-3.6 26.2h0m11.8-40.2h0m-23.2-7h0m23.1 13h0m9.3 8.1h0m-9.6-10.6h0m4.2 1.1h0m-22.4-12.5h0m12.3 34.8h0m-27.7 13.9h0m16.5-56.4h0m.9 33.4h0m6.4 3.2h0m-7.7 12.9h0m-14.6 13.4h0m8.6-6.2h0m16.7-9.8h0m-20.5 3.3h0m19.9-6.6h0m-21.4 17.6h0m-10.9 2.6h0m23-13.7h0m-3.2-22.6h0m-14 44.1h0m34.3-27.7h0m-38.8 17h0m21-2.2h0m-8-2.9h0m-5.7-.8h0m21.8-17.7h0m10.3-18.9h0m-.6-2.8h0m-31.8 38.8h0m16.7-28.6h0m-2.5-7.9h0m9 26.8h0m12.8-6.7h0m-7.5-14.1h0m-18.3 3h0m10.4-27.2h0m4.8 25.8h0m8.6 12.3h0m-12.5-28.1h0m-2.1 24.2h0m-8.2-32.4h0m19 13h0m-19.7-.4h0m4.6 37.5h0m-20.8 21.4h0m27-56.6h0m-21.3 49.1h0m33.2-26.3h0m-19.9 16.2h0m7.3-35.7h0m21 11.8h0m-20 2.6h0m-1.4-12.4h0m-22.3 33.6h0m31.9-32h0m-20.3 17.5h0m9.4-4.6h0m15.9 9.8h0m-7.4-17.5h0m-3.4-19.2h0m17.5 23.6h0m-51.6 38.2h0m47.1-32.2h0m-18.7 16.5h0m5.1-3.7h0m14.4-23h0m-3.1-11.1h0m-16.7-3.3h0m8.4 27.8h0m-1.5-23.9h0m-8.5 15.1h0m20.6-4.5h0m-35.5 23.1h0m36.6-12.8h0m-24.3-26.4h0m-4.8 20.3h0m2.6 .4h0m14.5-27.3h0m-30.4 55.9h0m19.7-2.6h0m-1.9-50.7h0m.1 48.6h0m-.8-19.6h0m1.7 2.3h0m-2.2-38.7h0m11.7 34.7h0m-9.5 8h0m9 3.4h0m8.8 .3h0m-10.4-6.2h0m-15.2 23.6h0m4.6-3.1h0m22.3-18.2h0m-39.5 23.8h0m25.7-18h0m2.3-9.7h0m18.7-12.9h0m-43.1 29.4h0m1.8-4.9h0m14.8-46.1h0m4.5 51.3h0m-1.2-50.1h0m9.2 39.1h0m-3.1-34.3h0m6.1 23.9h0m-10.2-9.7h0m5.2-18.4h0m-15.7 12.5h0m8.3 6.4h0m.1-22.5h0m-1 6.3h0m-5.6-9.4h0m2.2 50.3h0m3.3 4.6h0m24.7-24.7h0m-26.5-8.6h0m1.8 33.4h0m-19.9 .7h0m26.8-36.6h0m-6.6 25.1h0m-21.2 19.8h0m40.7-26.4h0m-10.9-33h0m6 19.1h0m-23.2 33.5h0m-14.2 5.4h0m17-57.8h0m13.7 23.5h0m-29 41.5h0m33.6-40.1h0m-13.8 21.6h0m-24.2 17.2h0m30.4-43.7h0m17.1 12.9h0m-12.2-3.7h0m-15.4 .1h0m25-8.4h0m-12.9 3.5h0m8.4 18.6h0m-9.8 5.9h0m-31.7 17.3h0m.2-7.7h0m28.4-40.5h0m-14.3 31.1h0m11.9-17h0m12.7-9.4h0m-11.1-3.6h0m-20.9 29.1h0m21.6-46h0m-20.5 46.6h0m13.1-6h0m1.2 11.3h0m22.8-35.3h0m-24.5 5.7h0m1.2-18.4h0m12 30.3h0m-4.4 5.1h0m11.8-3.4h0m-39.6 28.2h0m28.2-62.2h0m-9.4 1.1h0m21.1 14.7h0m2.2 23.6h0m-19.7 9.8h0m11.2-39.3h0m-16.5 1.7h0m19.5-8.6h0m-8.5-5.5h0m-29.2 57.1h0m25.6-58.1h0m-7.3 31.2h0m-.9 7.7h0m2.6 18.7h0m.4-4.1h0m-18.5 1.1h0m-2.2 12.5h0m22.1-14.2h0m-1.2-47.5h0m-.4 15.6h0m.3 26.6h0m.7-17.1h0m20.8 1.9h0m-34.3 31.9h0m.2-18.1h0m11.8 7.2h0m7.7-30.1h0m8.3-3.6h0m-12.8 26.6h0m10.7-11.1h0m14.1-3.8h0m-23.1-2.6h0m5.6 20.8h0m-21.7 10.3h0m14.2-8.5h0m-14.4 3h0m20.1-40.6h0m-12.2 24h0m10.4-21.7h0m7.6 21.4h0m-12.6-34.2h0m20 35.7h0m-3 .5h0m-33.3 12.9h0m19.2-41.5h0m10.5 14.2h0m-19.5 32.6h0m31.6-41.8h0m-21.3 19.4h0m-7.3-36.8h0m12.8 27.4h0m-7-1.3h0m10.9-9.6h0m-12-12.4h0m-3.5-4.9h0m9.2 5.2h0m-4.9 7.1h0m-14.3 41.9h0m29.8-27.7h0m-25.3 30.7h0m5.7-33.6h0m11.9 4.3h0m-14.8 12h0m-1.2 1.8h0m33.7-16.9h0m-16.3 6.7h0m-4.6-17.3h0m-10.2 26.3h0m9.5-17.1h0m-12.8 27.6h0m26.8-39.5h0m-19.6 22.1h0m25.3-5.4h0m1 1.7h0m-22.5-34.1h0m-6.1 18.9h0m7.4 9.8h0m.2-20h0m16.7 13.5h0m-13.5 23.3h0m-30.3 29.5h0m17.7-42.5h0m6.4 .4h0m-5.9-16.8h0m30.7 13.6h0m-25.3 14.3h0m18.2-28.1h0m-18.3 42.7h0m-20.8 17.1h0m4-9.1h0m6.3-4.5h0m6.9-40.4h0m21.1 18.4h0m-37 27.1h0m10.3-7.8h0m15-9.5h0m-29 17.2h0m22.3-11.6h0m18.2-27.4h0m-14.2-8.2h0m4.3-15.6h0m-11.7 .9h0m-.3 59.2h0m-7.8-1.1h0m18.9-50.1h0m-22.1 43.4h0m13.6-31.3h0m-15.2 29.4h0m6.8 0h0m22.3-25.8h0m15.1-.4h0m-22.7-11.1h0m-5.6 0h0m3.1 10.1h0m-20.8 32.9h0m40.8-24.4h0m-18.5-7.5h0m19.8 5.1h0m-10.2-6.9h0m-20.5 33.3h0m34-30.4h0m-40.1 29.5h0m2.2-6.2h0m28.2-32h0m-25.7 37.8h0m8.8-.6h0m5.6-31.3h0m-27 37.1h0m5.3-5.7h0m10.4-31.1h0m25.1-1h0m-40.3 48.1h0m12-9.9h0m23.8-53.5h0m1 4h0m-15.3-8.2h0m-2.2 51.7h0m-13.1 10.2h0m31-25.2h0m-2-5.2h0m-3.7-14.7h0m-33.1 47.1h0m23.4-17h0m9.4-7.8h0m-30.6 29.5h0m13.7-33.5h0m3 .2h0m16.6-28.6h0m-16.2 3.1h0m4 36.1h0m2.6-1h0m.6-32.8h0m-19.1 33.9h0m37.9-10.7h0m-19.2-22.9h0m12.7 23.5h0m-19.6-13.5h0m12.5-21.3h0m-17.6 44.7h0m25.1-7.1h0m-13.7-40.5h0m-2.5-4h0m-12.9 68.2h0m15.5-43.8h0m4.1-20.8h0m-16.9 61.5h0m11.6-18.3h0m-3.9-9.5h0m-4.5 23.9h0m5.3-1.3h0m8.8-51.2h0m12.9 30.3h0m-15.9-4.4h0m10.1 1.7h0m-8.5-36.6h0m1.6 41.4h0m-9-34.9h0m11.5 4.9h0m-16.7 .5h0m4.1-6h0m11.5 23.6h0m-26.6 25.8h0m24.8-52.4h0m-10.5 35h0m14.2 12.4h0m-33.6 14.1h0m24.3-63h0m-11.6 62.8h0m-12.7 8.2h0m37.1-60.7h0m-38.6 57.4h0m17.8-48.6h0m.4 9.1h0m-4.4 17.5h0m.7 1.7h0m9.6-42.1h0m24.2 29.9h0m-21.2-36.3h0m-25.5 70.6h0m16.1-48.3h0m8.3 12.7h0m14.3-15.5h0m-17 3.6h0m17.8 20.5h0m-25.9 5.7h0m21.1-11.9h0m-17.2 5.6h0m6.4-11.5h0m-2.6-32.3h0m15.4 52.6h0m2.8-34.6h0m-35.8 50.1h0m7.5-6.5h0m5.9-14.7h0m-12.4 18.6h0m7.8-7.6h0m6.5-47.3h0m-2.8 35h0m7.3 .5h0m-21.6 21.1h0m4.3-14.4h0m-5.3 21.6h0m39.8-50.4h0m-37.5 39.5h0m37-21.9h0m-21.3 12.2h0m9.2-9.2h0m11.2-13h0m-25.1 27.9h0m-10.3 0h0m27.4-28h0m15.8-5.9h0m-30.1 27.7h0m9.7-36.2h0m10.5-6.3h0m-15.4 42.6h0m.4 .6h0m16.1-13.3h0m-1.8-18.9h0m4.6 13.8h0m-22.2 5h0m28.1-1.6h0m-5.2-13.9h0m-23.3 7h0m8.2 6.5h0m13.6 .1h0m-33.6 15.4h0m39.4-22.5h0m0 5.9h0m-27.1-13.4h0m-.4-9.6h0m4.4 40.2h0m3.6-5.6h0m-3.3 3.9h0m14.3-17.5h0m-32.9 33.1h0m12.9-48.2h0m-3.4 39.9h0m1.5-1.9h0m19.1-25.9h0m-1.3-11.1h0m-14.4 11.6h0m22.3 13.5h0m-8.9-30.9h0m-4.9 13.9h0m-11.4-12.8h0m-8.8 44.3h0m17.1-48.1h0m-4.7 9.5h0m15.8-4.1h0m-20.9 28.7h0m8.2 1.1h0m1.2 11.3h0m-10.3-12.7h0m-4.9 12.3h0m7.8-56.1h0m-.7 18.4h0m-15.7 46.7h0m27.5-59.1h0m-10.2 7.2h0m2 23.4h0m1.6-19.6h0m-12.1 30.1h0m12.5-24.3h0m12.6-2.3h0m-10.6 17.2h0m6.6 8h0m14.3-25.8h0m-25.1 20.6h0m-1.3-36.3h0m.4 2.8h0m7.2 16.7h0m-9.5 18.5h0m-12.6 19.3h0m15.8-46.9h0m6.8 20.7h0m12.3-22.6h0m-4.8-4.6h0m4.7 .3h0m-14.4 4.8h0m3 9h0m-3.7 1.8h0m-.1 2.4h0m-1.9-2h0m5 17.8h0m8.6 7.6h0m-16.9-42.1h0m11.5 37h0m-11.4-45h0m8.5 37.1h0m-7.5-32.3h0m-17.3 64.4h0m32.7-60.3h0m1.7 10.3h0m-4.6 12.5h0m-3.5 .6h0m6.3 12.2h0m-16.5-1.6h0m-19.7 24.3h0m17.1-21.7h0m27.8-22.9h0m-21-22.7h0m17.7 34.2h0m-18.3 .1h0m4.3 .2h0m2.6-24.6h0m.8 11.1h0m17.7 6.9h0m-29.4-9.1h0m8.4 33.4h0m11.9-8.8h0m-13.1-.4h0m24.1-12.7h0m-28.4-9.6h0m4.6 26.8h0m-3.9 6.9h0m11-20.9h0m-12.3 3.6h0m2-29.7h0m19 21.1h0m-5.8-3.7h0m-6.1-14.6h0m4.2-3.5h0m-2.6-.4h0m-11.3 13.8h0m22.6-4.6h0m-34.2 41.4h0m16.5-32.2h0m21.2 7.1h0m-16.3-6.5h0m-.2-24.2h0m-7.5 32.7h0m-9.8 28.2h0m34.7-22.6h0m-40.5 28.4h0m17.9-49.5h0m-5.2 34.8h0m26.4-19.2h0m-24.8-13h0m6.6-12.2h0m-9.5-5.6h0m15.5 38.8h0m10.6-12.3h0m-32.1 20.5h0m24-18.4h0m-17-27.9h0m20.8 19.6h0m6.2 11.2h0m-43 28.2h0m5.8-11.6h0m17.1-17.1h0m8-.6h0m-21.1 21.2h0m15.4-17h0m-2.5 4.2h0m22.4-8.5h0m-16 4h0m-7.3 8.2h0m2.5-43.6h0m-7 48.9h0m9.7 .1h0m-13.3-3.8h0m-14.1 24h0m23.3-26.8h0m-12 .3h0m13.6-36.6h0m-18.2 53.7h0m37-28h0m-25.8-10.1h0m10 17.3h0m-29.5 32h0m33.9-26.9h0m-8.4-3.5h0m16.3-18.7h0m-12.9-14.5h0m6.5 4.8h0m-13.3 42.2h0m21.7-22.8h0m-27.3 26.1h0m2.1-26.7h0m-7.3 33.7h0m20-52.5h0m.6-3.4h0m-12.2-.6h0m10.7-3.6h0m-10.6 45.9h0m6.5-49.5h0m-9.4 0h0m14.6 45h0m-16.1-37.7h0m4.8 7.9h0m-17.2 37h0m16.6-20.3h0m9.2-36.5h0m-6.3 32.9h0m-14.5 28h0m30.3-24.5h0m-14.8 14.9h0m-22.6 8.3h0m9.6-7.9h0m-9.9 11.5h0m28.2-50.4h0m-21.4 45h0m32.2-7.2h0m-17.9-45.8h0m23.3 18.9h0m-9.5 12h0m1.4 4.2h0m-34.8 19.6h0m40.6-33.9h0m6.3 2.2h0m-25.1 6.5h0m-2.4-11.5h0m4.1-23.5h0m-25.7 60.4h0m4.8 3.5h0m-2.6 5.3h0m31.1-52.6h0m-13.4 44.2h0m3.2-54.5h0m-4.7 6.8h0m-15.4 57.7h0m27.7-54.2h0m17 15.1h0m-26.6-20.7h0m-20.4 51.8h0m.5 .1h0m31.3-39.6h0m-23.1 41.2h0m-5.2 9.4h0m38.7-34.6h0m-34 23.3h0m20.7-60.2h0m-9.6 45.5h0m-20.2 18.6h0m21.9-47.5h0m22 3.1h0m-10.8-.3h0m-9.6 15.6h0m8.2-.3h0m-.4-23.4h0m-11.5 46.3h0m7.5-27.6h0m-7.3-31.5h0m28.3 31.6h0m-1.1-3h0m-30.1 3.1h0m11.7-10.5h0m5.6 29.3h0m.8-13.5h0m5.3-13.1h0m-7.8 24.7h0m-13.6-10.5h0m-3 3.5h0m5.3-4.5h0m4.1-11.9h0m-15.5 35.3h0m38.6-33h0m-27.4 12.1h0m20.4-15.2h0m-18.9 11.8h0m-23.1 25.8h0m38.6-43.3h0m-15 15.9h0m20.2-.7h0m-42.8 37.2h0m9.5-7.3h0m30.9-34.5h0m1.5-12.8h0m-23.5 30.1h0m-5.5 4.5h0m35.1-17.3h0m-25.5 5.9h0m-1.8-1h0m24.9-11.3h0m-21.5-19.9h0m-3.6 37.6h0m13.6-23.2h0m-25.9 47.9h0m19.3-18.5h0m10.4-14.2h0m-15.1-16.1h0m8.5 19.2h0m-2.8 12.2h0m-11-25.1h0m7.4-13.5h0m5.9-13.2h0m4 20.8h0m-17.1 2.3h0m20.2 1.2h0m-4.7-9.2h0m-5.8-11.1h0m-21.7 59.3h0m-5.6 1.1h0m37.6-43.5h0m-15.7-2.4h0m-1.3 15.1h0m1.6 5.1h0m1.1-23h0m-22.7 54.4h0m36.2-30.5h0m-4-12.4h0m-12.4 5.3h0m0 1.1h0m-2.2-9.5h0m19-4.9h0m-.9 25.9h0m-9.5-5.1h0m-2.5-23h0m-12.1 32.5h0m5.1-32.4h0m15-8.1h0m3.6 20.9h0m-23.8 19.4h0m18.9-44.5h0m9.2 43.4h0m-38.8 24.1h0m13.2-10h0m-13.8 6.6h0m15.3-65.7h0m3 43.8h0m14.6-40.3h0m-30 60.7h0m23.1-16.1h0m-2.6-3.7h0m-19.4 5.7h0m8.7-8.9h0m23.7-30.2h0m-17.2-13.1h0m9.7 52.3h0m-10.8-39.3h0m22.1 20.1h0m-20.2-26.6h0m-.7 32.2h0m-.2 2h0m1.6-38.3h0m-17.8 61.6h0m25.6-50.7h0m19.8 12.7h0m-20.9 25.2h0m-19.1 .1h0m20.6-36.3h0m-6.5 19.9h0m-15 22.5h0m8.7-25.8h0m4.6-18.7h0m22.8 16.9h0m-12.1 13.6h0m-11-38.6h0m2 19.1h0m-4.7-6.8h0m12.8-12.4h0m-1.5 18.6h0m-10.9 15.1h0m15.2-11.7h0m-.5 21h0m-14.2 0h0m-6.9 16.7h0m12.1-47h0m-6.8 8.8h0m22.8 5.3h0m-9.9-11.5h0m-18.3 27.5h0m-.3 9.2h0m14.5-49h0m7.3 22.7h0m-2-19.8h0m-3.5 22h0m2.1 19.1h0m-27.5 2.4h0m24.4-37.1h0m-12.1 42h0m1.4-56.9h0m4.6 27.2h0m-3.1-3.9h0m9.1-7.7h0m-1.8-14.9h0m5.7-1.3h0m10.2 19.4h0m-18.8 9.9h0m-13.8 21.2h0m10.7-19.1h0m-6 30.7h0m12.1-46.6h0m8 33h0m-10.2-16.6h0m10.4-18h0m-15.1 2.7h0m1.7-13.5h0m8.2 39h0m-26.6 23.6h0m45.4-38.4h0m-41.4 38.4h0m19.2-67.4h0m14.2 38.3h0m-.6-2.7h0m2-17h0m-14.1 22h0m-2.5-41.9h0m-5.5 6h0m3.6 28.9h0m-20.2 28.5h0m15-19.4h0m5 5.8h0m2.7 5.8h0m-2.3-29.1h0m-9.8 38h0m28.7-24.5h0m-25.9 1.7h0m2 8.1h0m2.8 3h0m18.6-14.4h0m-5.6-9.1h0m8.8-10.8h0m-43.3 44.3h0m29.8-9.6h0m.7-1h0m-8.3-52.8h0m3.6 14.8h0m2.7 16.7h0m6.8 12.5h0m-22.5 19.7h0m23.1-19.5h0m-12.9-22.3h0m-5.3-1.4h0m13.8 8.7h0m-30.6 37.6h0m15.6-11.3h0m14.9-26.3h0m-25.6 36.2h0m15.4-36.9h0m18.4-13.8h0m-16.5-3.2h0m14.5-2.5h0m11.6 16.3h0m-6.3 20.5h0m-4.9-24.1h0m-14.1-.1h0m1.9 23.2h0m3-35.8h0m-3.2 45h0m18.2-12.8h0m-1.5 4.1h0m-19.5-31h0m10.3 17.1h0m4.2-6.2h0m-14.3 21.9h0m-24.6 20.6h0m52.3-34.5h0m-36.2 25.7h0m6.2-24.9h0m-2.1 18.3h0m1.9-17.9h0m4.6 19.9h0m11.8-2.5h0m-14 4.8h0m13.4-5.7h0m-7.3-18.3h0m-9.9 23.3h0m1.1-15.4h0m-9.3 7.9h0m10.8 1.2h0m22-14.7h0m.7-3.4h0m-27.2-9.4h0m-10.4 33.8h0m29.8-48.6h0m3 29.8h0m-34.3 34.6h0m27.3-68.8h0m-8.2 25.5h0m24.8 2.5h0m-21.9 13.5h0m-7.9-44.3h0m8.5 55h0m5.3-46.4h0m-2.8 37.3h0m-13.7-28.3h0m-5.1 44.3h0m14.7-43.3h0m-9.4 2.8h0m3.8 24h0m12.7-9.4h0m-31.4 29.2h0m20.3-46.2h0m26.5 13.9h0m-31.7 9.8h0m1.8-32.5h0m.2 11.1h0m14.4-7.8h0m-11.4 2.5h0m8.8-3.5h0m18.2 22.3h0m-45.7 26.1h0m33.3-24.4h0m-11.6-28.8h0m-17.3 53.1h0m11.4-29.9h0m25.6 1.8h0m.4 9.2h0m-17.2-31.6h0m-21 47.5h0m32-27.4h0m4.8-.9h0m-8.1 20h0m-11.7-22.5h0m16.6-13.9h0m-14.3 43.3h0m12.8-35.5h0m4.1 .6h0m-15.6-18.6h0m-17.9 61.4h0m32.8-46.1h0m-.4 7.8h0m-15.9-2.3h0m-2.9 15.9h0m-13.4 23.8h0m33-23.4h0m-24.5-29h0m20.2 26.2h0m3.3-16.9h0m-21.5-1.7h0m13.5 13.5h0m-5.4-30.3h0m-2.6 9.5h0m8.6 7.3h0m-8.9 33.7h0m-24.6 22.2h0m8.7-21h0m2.7-4.7h0m25-29.2h0m-11-11.3h0m9.9 3.2h0m8.4 30.7h0m-23.5-13.9h0m-17.7 42.5h0m27.8-20.5h0m-6.7-24.7h0m6-15.7h0m7.7 .5h0m-6.5 37.5h0m-1.9-24.9h0m-4.9 35.7h0m-20.3 8h0m12.2-2.4h0m15.8-57.8h0m-3.2 16.4h0m-2.6-3.2h0m-2.8 19.7h0m-.7-9.5h0m-12.4 27.9h0m-1.1 5.5h0m28.3-38.1h0m4.6 5.7h0m-28.4 33.6h0m-6.5-10.5h0m-1.1-1.6h0m31.2-36.4h0m-12.9 37.6h0m8.8-44.9h0m3.3 10.2h0m-20-1.8h0m25.6 11.7h0m-19.3-3.2h0m-18.5 44.9h0m18.9-71.2h0m7.8 38.6h0m-6.4-35.2h0m15.1 22.4h0m-18.8 20.7h0m5.6-.5h0m13.8-24.7h0m-7.5 16.7h0m-2.1 2.5h0m4.9-16.8h0m-10.6 33.3h0m12.6-13.3h0m-3.7-13.3h0m-35.4 33.1h0m35.6-36.9h0m7.2-.3h0m-6.1 1.1h0m-6.4 27.1h0m-19.3 15.8h0m18.5-67h0m-.8 10h0m-.8 2.8h0m9.2 33.2h0m3.1 2.2h0m-23.1-44.6h0m-3.8 54.2h0m30.4-43.9h0m-6.2 22.3h0m1.2 2h0m-19.5-28.8h0m16.8-3.2h0m-16.8 1.2h0m3.7-6.4h0m16.6 7.3h0m-22.3 47.6h0m2.9-28.6h0m10.3 12.6h0m-18.2 25.6h0m11.4-22.8h0m-7.3 13.1h0m25.5-29h0m-19.1-2.3h0m-9.2 30.1h0m27.4-39.4h0m1.6 12.2h0m-4.1 21.9h0m-24.1 4.9h0m32.3-28.5h0m-19.3 12.3h0m20.7-2.8h0m-4.3-4.9h0m-13.5-28h0m-9.2 18.2h0m11.7 .1h0m10.9 11.2h0m-11.5-10.5h0m-23.9 42.3h0m27.6-21.5h0m-15.2 17.3h0m-4.8-17.5h0m5 13.8h0m6.8-29.1h0m21.6 6.6h0m-24.9-11h0m-21.5 41.2h0m13.3-15.1h0m2.6 9.6h0m-1.6-3.1h0m-4.6 .2h0m23.5-35.2h0m1.4-.2h0m-12.6-4.2h0m14.4 23.5h0m-10-5.7h0m11.1-16.9h0m-4.1 32h0m-2.1-28h0m-9.9 15.6h0m17.8-5.4h0m-14.8-5h0m-3.1-7.6h0m1.4-9.8h0m-15.7 45.1h0m-7.7 7h0m41.3-41h0m5.3 1.5h0m-42.9 48.9h0m32.7-61.5h0m-11.9 45.2h0m-8 8.7h0m-7-1.8h0m32-19.5h0m2.4-7.8h0m-42.5 37.7h0m20-68.9h0m-4.4 1.3h0m-8.4 56.8h0m28.5-11.4h0m-1.2-21.5h0m8.1 1.3h0m-12.6 18h0m-7.6-37h0m-12.1 48.4h0m10.6-5.8h0m-5.9 1.4h0m27.7-23.6h0m-28.5-27.4h0m-4.7 52.9h0m16.5-31.3h0m-3.9-6h0m6.9 21.8h0m10.7-19.6h0m-28 29.9h0m34-15h0m-.5 .7h0m-18.7-35.7h0m5.2 49.9h0m5.5-18.4h0m-18.5 9.3h0m14.1 7.1h0m-1.2-13.2h0m-20.6 8.1h0m23.9-6.7h0m-29.8 30.8h0m17.9-57.1h0m-12.7 46.5h0m9.6-14h0m17.8-19.3h0m-1.4 8.7h0m-5.1-17.8h0m-4.6 1.8h0m-17.4 43.2h0m.6-10.3h0m-8.6 8h0m.6 9.1h0m.2-3.5h0m13-54.4h0m-9.4 59.2h0m16.8-57.4h0m23.6 14.1h0m-28-7.3h0m-2.3 37.7h0m18.6-22.6h0m-16.9-10.4h0m2.8 34.2h0m21.1-21.8h0m-7.1-3.3h0m-23.7 26.5h0m21.4-9.7h0m-13.3-40.8h0m-6.4 38.6h0m-1.5 8.3h0m-2.1 7.7h0m28.9-13.6h0m-13.7-26.4h0m-8.3 32.1h0m17.1-42.7h0m-7.8 .2h0m-1.5-.1h0m-12.5 52.8h0m10.3-36.4h0m-.1-27.8h0m-1.7 23.8h0m-1.3-20.7h0m-2.2 4.2h0m-18.5 58.9h0m21.7-66.2h0m-6.6 57.7h0m6.4-22.9h0m8.5-30.1h0m-14.8 40.4h0m12.7-24.6h0m9.6-3.7h0m-17.9-14h0m7.6 13.9h0m18.3 9.2h0m-22.8 29h0m-4.6-8.4h0m7.9-24.7h0m1.3-9.8h0m-2.7 30.8h0m12.8-28.2h0m-15.5 10.1h0m5.1-16.2h0m4-.6h0m9.5 39.3h0m-17.6-5.8h0m18.9 5.1h0m-16.4-37.1h0m16 26.4h0m-12.7-7.8h0m5.9-1.9h0m-10.3-5.8h0m9.3 27.6h0m-6.5 .3h0m5.7-44.8h0m-33.9 64.6h0m24.2-52.5h0m2.8 40.5h0m.8-41h0m11.1 33.2h0m10.8-23.8h0m-25.8 20.8h0m-1-2.9h0m-2.7 4.7h0m2.2-14.2h0m-1-8.8h0m-5.4 23.6h0m1.6-3.8h0m-5.8 5.3h0m30.5-8.1h0m-38.1 23.8h0m1.1-8.2h0m35.1-22.4h0m-15.7-.7h0m-1.3-5.1h0m2 12h0m-18.3 28.8h0m12.1-23.8h0m-1.2-33.6h0m17.1 31.4h0m-5.4-2.4h0m-17.3 11.4h0m29.4-10.9h0m-11.1-6.6h0m-5 7.9h0m-4.4-23.6h0m10.5 23.7h0m2-23.6h0m-5.7 11.8h0m21.8-.6h0m-31.8 15h0m5.8-38.7h0m4-7.2h0m11 33.9h0m-13.8 21.5h0m-9.6-6.7h0m5.9 11.2h0m12.1-35.3h0m-15.6 18.1h0m17.5 5.7h0m4.9-20.5h0m-7.7-27.5h0m-7.3 56h0m2.8-12.5h0m-4.5-39.9h0m2.5 18.8h0m-20.7 33.5h0m5.3-2.7h0m3.1 3.3h0m32.4-18.5h0m-42.5 34.7h0m39.2-40.8h0m-21.5-29.3h0m22.6 37.5h0m-15-16.3h0m2 25.1h0m-9.2-6h0m7.1 .5h0m8.7-2.3h0m9.9-3.9h0m-41.4 23.3h0m18.7-60.3h0m2.6 6.4h0m16.4 11.1h0m-3.1-6.5h0m-2.7 8.6h0m-.4 12.3h0m-24.1 18.1h0m1.9-3.7h0m24.9-34.4h0m-20.9-12.2h0m15.6 5.6h0m-18.3 43.2h0m2.2-38.8h0m3.4-4.2h0m12.3 5.8h0m-10.9 36.6h0m6.6-13.2h0m-21 26.1h0m-1.4-5.2h0m30.4-36.2h0m9.4 4.6h0m-7.1 22.6h0m-7.6-6h0m-18.7 4.4h0m7.3-18.8h0m9.5-27.6h0m15.5 32h0m-12.9 9.2h0m-13.1-35.3h0m20.1 29.1h0m-7.9-33.9h0m.4 50.1h0m-30.4 12.4h0m9-3.8h0m38.3-33.6h0m1.2 7.4h0m-6.7-1.7h0m-32.9 23.8h0" stroke="#858585" stroke-width="1.44" stroke-linecap="round" fill="none"/>
<path d="M376.9 409.5h0m-9.3 5.7h0m.1-33h0m-3.9 8.7h0m6.8 1.7h0m-.3-11.9h0m-3.3 6.7h0m2.2 6.8h0m-2.3-12.3h0m9.4 21.2h0m-8.2 10.5h0m4.4-2.5h0m-5.8 8.1h0m-.7-26.6h0m-7.5 11.2h0m20.3-2.9h0m-9.5-26.8h0m1.2 22.5h0m8.6-2.1h0m-16.9-3.5h0m2.1 9.1h0m8.9 13.4h0m-8-36.4h0m12.6 27.8h0m-8.4-9.6h0m-10.2 6.1h0m3.9-23.1h0m6.6 12.2h0m-2.9-.6h0m7.6 20.5h0m-5.5-34h0m2.9 35.4h0m-12.1-29.6h0m16.8 30.7h0m-5.7-7.7h0m2.3 13.4h0m-1.1-.6h0m-.3-26.2h0m-8.1-4.8h0m-3.3 3.5h0m7.3-4.1h0m2.8-6.2h0m.5 30.8h0m5.4-8.2h0m-10.3-23h0m7.9 34.2h0m-.3-32.5h0m-13.3 30.3h0m13.4-.7h0m-4.1-24.5h0m9.7 8.2h0m-15.6-1.8h0m11.6-14.9h0m-3.9 22.5h0m-12.9-8.5h0m22.9 17.8h0m-16.7-18.1h0m4.1-8.9h0m4.6 14.4h0m-10.4-21h0m15.7 31.8h0m-14.8-19.6h0m0-3.2h0m-2.2 .8h0m3.9-11.7h0m10.5 23.5h0m-.1-1.6h0m-12 19h0m6.3-34.9h0m-1.4 34.9h0m-2.4-11.6h0m1.1-26.4h0m1.4 .3h0m12.7 8.8h0m-5.7 14.4h0m4-13.6h0m-8 12.9h0m-8.5-20.3h0m-3.6 22.7h0m10.5-4.2h0m-.8-12.5h0m7.4 20.4h0m2.5 5.2h0m-5.5 5.7h0m-8.4-27.2h0m3.5-2h0m-1.6-6h0m-1.3 32.6h0m3-17.5h0m-.9-3.3h0m1.4-11h0m.9 2.1h0m6.4 32.4h0m1.1-3.1h0m-6.8-5.1h0m-8.4-15h0m-.8-13.9h0m5.1 23.5h0m-.8-4h0m11.6 17h0m-14.2-7.3h0m-3.3-28h0m14.1 6.3h0m-9.2 22.4h0m6.9 2.7h0m-5.9-29.9h0m13.2 28h0m-5.6 2.1h0m-12-25.7h0m-.3-12.4h0m16 25.8h0m-14.5-8.6h0m4.9 .1h0m-3.1-8.5h0m9.2 24.4h0m8.4-.7h0m-22.8-25.1h0m10.5 15h0m-1.5-.1h0m.1-20.7h0m-4.6 23.9h0m-5.6-19.8h0m3.6 5.6h0m8.5 1.9h0m10.9 4.8h0m-7.3 24.7h0m.3-3.7h0m-.4-38.3h0m.7 39.8h0m4-5.3h0m-12.3-27.3h0m8 5h0m-2.2 24.6h0m-8.7-22.2h0m9.8-14.4h0m-8.1 18.5h0m1.2 1.3h0m12.3 13.4h0m1.2-11.2h0m-11.9 18h0m1.2-29.2h0m-6.9-11.6h0m6.2 0h0m0 25.3h0m-.8-15.5h0m5.2 23.4h0m-11.7-20.5h0m6.4-3h0m5.6 23.5h0m5.3-20.3h0m-13.9-11h0m9 28.2h0m-6.1-18.4h0m1 0h0m7.1 23.5h0m-1.8-28.1h0m5.8 11h0m-12.4 21.3h0m-1.1-31.8h0m3.4 13.4h0m-10.7 6.7h0m3.2-19.2h0m-2.7 36h0m4.4-14.2h0m11.8 3.9h0m-1.3-12.8h0m-9.6-1.8h0m8.1-6.1h0m-7.9 9.9h0m8.4 17.2h0m2.3-36h0m-2.3 25.3h0m-5.2-19.9h0" stroke="#8a0f1a" stroke-width="1.44" stroke-linecap="round" fill="none"/>
<path d="M374,419 C380,418.5 386,418.5 392,417.5 L396,416.5" stroke="#858585" stroke-width="1.1" fill="none"/>
<path d="M380 417.4h0m3.5-.4h0m3.5-.5h0m2.5-.5h0m2-.4h0m-13.5 .4h0m-2-1.5h0" stroke="#8a0f1a" stroke-width="1.50" stroke-linecap="round" fill="none"/>
<path d="M407.7 413.6h0m-11 1.7h0m15.3 2.2h0m-10.1 1.2h0m2.3-2.1h0m.6 .4h0m4.5 2.1h0m-5.3 3.3h0m-1.4-4.1h0m-1.7-6.2h0m-1.3 5.7h0m4.5-8h0m.7 13.4h0m-.8-11.2h0m4.3-1.7h0m-5.3 2.4h0m-6.2 1.6h0m1.4-2.9h0m8.6 6.1h0m1.8 4.4h0m-3.2-1.8h0m-2.3-8h0m-2.9 1.4h0m10 2h0m-.4-6.5h0m-6.8 13.3h0m8.9-4.7h0m-15.7-2.5h0m9 7.7h0m-1.3-1.9h0m-4.2-8h0m3.3 3.1h0m2.1-5h0m3.9-1h0m2.8 6.1h0m-12.9 4h0m8.1-4.3h0m-3.3 5.2h0m-5.9-3.6h0m7.4-3.7h0m2.4 3.3h0m-10.8 1.6h0m11.5-4.8h0m-.5 1h0m-7.1 .9h0m1.1 4.3h0m6-7.2h0m-5.2 3.8h0m-1.5 4.2h0m3.3-10.6h0m2.3 10.7h0m-2.1-9.4h0m3.5 .9h0m-1.6-1h0m-5.2 4.2h0m1.4 3.5h0m2.5-4h0m-.8 .8h0m-2.7 5.2h0m-1.1-6.1h0m-2.7-3.1h0m7.1 9.8h0m-5.8-5.7h0m6.8-2h0m-3 1.8h0m-3.7-3.6h0m3.7 1.6h0m2.4 6.4h0m1.8-5.2h0m-11 1.6h0m7.5-6.5h0m4.6 .9h0m-2.9 7.4h0m-7.7-1.2h0m13.8 1.3h0m-6.2-4h0m-1.9-1h0m-.1-2.9h0m1.1 5.6h0m-2.1-1.1h0m6.3 2.1h0m-6.9-6.3h0m-1.4 7.1h0m9-.8h0m-4.6 1.7h0m6.1-6.5h0m.2-.7h0m-.1-2.3h0m-12.1 10h0m1.1-6.3h0m8.8 8.5h0m.8-7.1h0m-3.4 3.7h0m2.9-1.7h0m-3.3-1.2h0m2.5 0h0m1.5-.2h0m-11.2-3.2h0m-2.6 4.1h0m12.9-6.4h0m-6.9 10.3h0m6.5 1.8h0m-8.7-8.3h0m1.8 .5h0m6-3.2h0m-11 2.7h0m3.3-.5h0m-2.9 1.7h0m12.1-1.6h0m-4.2 7.3h0m-2-10h0m2 12.6h0m-6.6-2.4h0m11.1 0h0m-10.9-6.9h0m3 3.3h0m-5.3-3.1h0m14.8 3.5h0m-3.5-2.9h0m-3.7-2.2h0m-6.8 3.4h0m10.2 4.4h0m-3.8-6h0m-1.2 5.2h0m1.8-7.6h0m5.4 2.4h0m.8-.4h0m-7.2 .2h0m7.3-5.3h0m-4.1 14.3h0m1.7-2.5h0m1.5-1.3h0m0 .3h0m0-.2h0m-2.6-8.3h0m2.2-1.1h0m-12.6 2.8h0m4 .8h0m-4 2.6h0m13.7-2.7h0m-13.2 3.6h0m5.7 5.9h0m1.1-.2h0m-2.2-.6h0m-3.8-10.5h0m8.6-1.1h0m2.7 1.9h0m2.3-1.2h0m-5.4 4.8h0m-2.4-3.6h0m-1.3 6.7h0m-3.3-4.9h0m.1-1.6h0m10.9 3.9h0m1.1-1.2h0m-10.8 4.5h0m11.4-5.4h0m-7.6 4.7h0m-3.2 1.5h0m4.5-4.1h0m-6.8-1.1h0m.1-.4h0m5.5-2h0m-4.5-2.1h0m4.3 7.4h0m-4.2-4.4h0m3.9-.2h0m1.9 9.5h0m.5-1.5h0m-4.4-2h0m-4.7-5.9h0m10.6 8.2h0m-7.3-9.9h0m12.1 2.5h0m-4.2-2.9h0m-3.4 11.1h0m1.9-6.5h0m3-4.5h0m-4.7 6h0m-3.8-6.7h0m8 3.3h0m-12.6 2.5h0m11.4-1.8h0m-7.9 5h0m8.2-1.4h0m2.4-5.5h0m1.6 3.6h0m-2.2 2.7h0m.6-8.5h0m-.3 .6h0m-6.8 7.6h0m.5-3.3h0m-4.9-2.1h0m2.1 4.4h0m.6 3.1h0m3.9-10.4h0m-.5 11.4h0m-8.9-8.5h0m12.4-4h0m3 5.5h0m-14.8 3.5h0m5.1-3h0m3.8-3.8h0m2 5.2h0m-5.6-6.3h0m-.1 0h0m-4 6h0m-1.4-1.3h0m9.9-2.6h0m-2.4 8.4h0m3.2-1.2h0m-6.9-9.2h0m6.8 2.2h0m1.1-.5h0m-7.2-2.2h0m5.9 5.1h0m3.6-2.9h0m-3.3 9.6h0m-4-11.1h0m5.6-.8h0" stroke="#8a0f1a" stroke-width="1.30" stroke-linecap="round" fill="none"/>
<path d="M438.2 425.9h0m22.5-24.3h0m-32.8 35.4h0m.4-.4h0m19.6-65.9h0m-11.5 61.1h0m-11.2 9.5h0m26.9-34.6h0m8.8-1.8h0m-28.7 29.4h0m19.3-35.8h0m-1 20.8h0m-6-30h0m8.3 25.3h0m-22.5 24.2h0m24.8-65.6h0m4.4 34.8h0m-10.3-19.2h0m2.3 26.3h0m.3 .2h0m-15.4 7.2h0m34.2-29.3h0m-22.9 25.2h0m-22.8 16.2h0m47.7-33.4h0m-5.8-12.7h0m-38.1 45.4h0m22.4-29.3h0m-.9 8h0m-17.8 16.6h0m12.2-12.6h0m9.3-38.7h0m-27.1 54.9h0m6.9-8.5h0m15.3-18.1h0m12.2-.8h0m9-2.6h0m-30.1 20.8h0m29-29.1h0m-36.4 40.7h0m30.2-25.4h0m1.4-7.4h0m-16.2 2.5h0m-24.8 28.5h0m30.9-46.5h0m-23.5 48.2h0" stroke="#c1dced" stroke-width="1.44" stroke-linecap="round" fill="none"/>
<path d="M458 387.1h0m-.7-13.2h0m-2.9 21.1h0m-2.5-4h0m7.7 3.6h0m-13.5 33.9h0m5.2-46h0m9.9 16.1h0m-8.4-22.8h0m.1-3.8h0m-12 9.2h0m8.9-2.9h0m1.2 13.8h0m9.7-6.6h0m-15.1-16.9h0m23.1 19h0m-25.4 30.6h0m6-13.2h0m-11.7 22.9h0m4.5-39.5h0m26.6 6.4h0m-1.8 17.4h0m-37.4 10h0m29.3-4.8h0m-19.2 6.2h0m18.3-39.5h0m-1.2 26.5h0m4.5 1.8h0m-12.1-40.9h0m1.9 10.7h0m-8.8-1h0m5.2 4.1h0m-22.4 43.9h0m33-37.1h0m4.6-3.7h0m-19.2-2.5h0m11.3-10.1h0m6.8 11.3h0m-14.4-13.2h0m-8 55.3h0m20.5-28h0m-18 1h0m3.1-32.2h0m1.3 47.9h0m-17.4 10.3h0" stroke="#ddeaf6" stroke-width="1.44" stroke-linecap="round" fill="none"/>
<path d="M459.3 414.8h0m-15.5 11.8h0m-19.4 8.6h0m29.3-45.9h0m-7.6-22.7h0m22.2 35.7h0m-10.3-27.7h0m-5.3 45.6h0m3.9-13h0m-33.6 27.7h0m20.2-54.2h0m14 33.5h0m-27.2 13.1h0m14.4-54.6h0m3.3 20.1h0m20.3 2.3h0m-11.8 19.9h0m7.9-6.1h0m-35.6 19.5h0m25-60.9h0m-8.8 26.2h0m21.2-2.4h0m-4.2 10.7h0m-31.9 29.9h0m27.4-50.8h0m-14.6 46.8h0m-.8-46.3h0m13.9 5.8h0m-21.5 45.1h0" stroke="#a6cee3" stroke-width="1.44" stroke-linecap="round" fill="none"/>
<path d="M457.5 412.8h0m5 4.5h0m-12.4-16.5h0m8.2-3.5h0m-16.6-10.4h0m-3.9 41.5h0m17.5-37.5h0m-15.1 41.7h0m-2-.1h0m8.1-62.3h0m-5.5 12.6h0m18.9 14.8h0m-7.4 18.6h0m-9.1-8.2h0m6.4-21.3h0m3.5 22.6h0m-8.9-8.3h0m18.5-2.6h0m-16-30h0m4.3-1.5h0m-4.2 26.5h0m.4-26.3h0m1.9 40.1h0m.3-16.5h0m-4.1-17.4h0m-20.6 63.9h0m32.1-60.7h0m-4.7 28.4h0" stroke="#9dc9e0" stroke-width="1.44" stroke-linecap="round" fill="none"/>
<path d="M444.2 425.3h0m.2-2.7h0m14.3-26.2h0m-15.3-18.5h0m-1.1 23h0m24.8 7.5h0m-32.9 14.3h0m14.4-22.3h0m-9.9 13.4h0m17.6-7.5h0m-1.5 15.6h0m-1.3-21.4h0m10.6-17.4h0m-.9 32.6h0m-17.1-45.5h0m12.8 37.2h0m-8.5 9.9h0m-4.1-38.3h0m-2.1 45.4h0m3.9-40.3h0m-2.7-2.3h0" stroke="#abd0e5" stroke-width="1.44" stroke-linecap="round" fill="none"/>
<path d="M445 427.2h0m-7.9-4.8h0m-.1-2.1h0m24.3-45.3h0m-12.3 5.9h0m-12.9 47.2h0m8.5-33.8h0m-15 36.4h0m11.4-38.7h0m24.1 25.2h0m-24.3-8.8h0m-3.5 4.6h0m1.7 11.6h0m8.8-8h0m8.9-45.9h0m-4.6 31.2h0m-27.7 36.8h0m31-19.9h0m10-9.2h0m-9-15.2h0m-7.5-27h0m-3 53.9h0m21.3-34.5h0m-15 25.6h0" stroke="#afd2e6" stroke-width="1.44" stroke-linecap="round" fill="none"/>
<path d="M462.4 414.6h0m-38.8 23.1h0m33-61.9h0m-6 31.5h0m12.8 1.4h0m-14.6-.7h0m17.1 7h0m-31.1 17.8h0m12.8-56.6h0m8.4 40.5h0m-6.9-27.7h0m-6.9 .5h0m2.4 11.5h0m-6.6 15.7h0m13.7-13.6h0m10.6-19.4h0m-20.4-4.6h0m13.3 23.1h0m7.8 15.5h0m-5.2-17h0m-21.8 33.6h0m11.3-46.7h0m17.4 17h0m-6.5 9.6h0m-2.6-26.9h0m-11 16.7h0m-12.9 25.6h0m16.9-36.3h0m10.4 26.4h0m-32 13.7h0m1.1-8.8h0m45.5-23.8h0m-29.2-30.6h0m13.7 28.6h0m-12.5 29.4h0m4.4-19.5h0" stroke="#a8cfe4" stroke-width="1.44" stroke-linecap="round" fill="none"/>
<path d="M443 379.9h0m3.1-5.4h0m26.7 20.9h0m-6.2 9.7h0m-17.1 .5h0m23.1-1h0m-22.2 20.3h0m-18.2 13.1h0m31.1-19.3h0m-25 13.1h0m1.6-11h0m2.8-32h0m-1.8 25.3h0m18.4-22.9h0m-35.4 39.9h0m18.1-8.1h0m-15.1 8.4h0m6.4-7.3h0m23.3-51.8h0m-21.7 60.9h0m14.9-22.4h0m18.4 .2h0m-26.6-18.5h0m25-6.1h0m-8.2 25.8h0m-15.2-35.2h0m6.3-2.3h0m5.6 15.5h0m-12.6 40.1h0m19.2-22.4h0m-9.1-12.5h0m-2.7-12.6h0m-5.6 23.9h0" stroke="#d4e6f3" stroke-width="1.44" stroke-linecap="round" fill="none"/>
<path d="M459.9 400.3h0m2-8.3h0m-29.4 34.5h0m30.9-27.8h0" stroke="#2f79b6" stroke-width="1.44" stroke-linecap="round" fill="none"/>
<path d="M445.8 367h0m-22 66.8h0m41.5-28.5h0m-19.2-12.9h0m4.8 28h0m-3.8-51.2h0m1.8 48.6h0m-12.7 8.4h0m38.4-27.3h0m-27.9-11.1h0m-11.3 31.1h0" stroke="#97c6df" stroke-width="1.44" stroke-linecap="round" fill="none"/>
<path d="M454.5 381.6h0m12.3 14.7h0m-2.7 10.3h0m1.6 8.8h0m-24.1 8.9h0m.9-37h0m27.4 5h0m-17.3-10h0m-27.6 52.1h0m27.8-31.8h0m-17.8 19.1h0m17.6-4.9h0m4-14.7h0m-5.8-25h0m10.3 31.7h0m-26.9 17.8h0m7.5-8h0m30.2-25h0m-41.3 29.1h0m30.2-34.2h0m-27.4 47.8h0m-9.2-6.5h0m32.9-31.1h0m-6.6 25.4h0m-4.8-17.2h0m6.5-40h0m-7.5 40.7h0m5.3-4.5h0m11.7-22h0m1.5 29.5h0m-21.4-23.2h0m5.7 13.1h0m8.7 7.5h0m-11.2-18.5h0" stroke="#cde2f1" stroke-width="1.44" stroke-linecap="round" fill="none"/>
<path d="M427.1 433.3h0m32.7-19.4h0m-18.1-12.7h0m4.9 9h0m21.3-14.1h0m-24.5-20.1h0m6.3 8.8h0m-5.7 3.4h0m29.9 15.1h0m-14.3-12.1h0m3 22.7h0m-20.4 5.4h0m-16 21.9h0m19.8-66.4h0m-2.9 50.7h0m-15 1h0m39.1-33.6h0m-37.6 46.7h0m-.6-17.4h0m10.4 8.8h0m-3-15.4h0m22-10.4h0m-15.6 7.8h0m-1.2-26.9h0m28.7 21.8h0m-21.8-19.3h0m-18 42.4h0m24.9-11.5h0m-.4-44.9h0m2 38.6h0m-28.4 10.9h0m30-5.7h0m-16.9-38.1h0m6.5 24.8h0m-4.1-10h0m20.2 20.4h0" stroke="#9fcae1" stroke-width="1.44" stroke-linecap="round" fill="none"/>
<path d="M460.2 406.1h0m-5.5-34.4h0m-12.7-3.7h0m10.9 31.6h0m-19.3 37.2h0m23.1-22.5h0m-11.9-12.5h0m2.3-12.5h0m-8.2 40.3h0m12.9-9.6h0m-11.2-40.5h0m19.2 18.1h0m-37.3 40.6h0m20-52.5h0m17.7-11.9h0m9.8 23.8h0m-12.5 17.2h0m-15.5-19.9h0m17.1 .9h0m-32.9 42.8h0m18.5-48.1h0" stroke="#b5d6e9" stroke-width="1.44" stroke-linecap="round" fill="none"/>
<path d="M438.8 425.9h0m1-1h0m7.4-15h0m2.4-36.9h0m13.3 14.9h0m-22.1-2.2h0m-2.8 46h0m30.1-42.1h0m-12 9.2h0m2.3 11h0m-13.9-.3h0" stroke="#d0e3f2" stroke-width="1.44" stroke-linecap="round" fill="none"/>
<path d="M447.4 411.5h0m-17.7 24.2h0m3.2-10h0m28.4-29.5h0m-6.7 3.9h0m-7.7 18.8h0m15.5-7.2h0m5.8-10h0m-36.7 19.7h0m17.2-23.5h0m-1.2-17.4h0m-12.4 44.4h0m15.4-52.9h0m15.8 21.2h0m-2.8 24.3h0m-4.5-17.4h0m-10.1-18h0m9.5 27.1h0m-20.5 11.9h0m24.2-32.5h0m6.3 7h0m-38.4 34.9h0m33.1-42.3h0m-20.2 12.4h0m18.5 .5h0m-17.5-4.5h0m-18 35.2h0m17.1-63.7h0m-1 35.9h0m-4.4 18.4h0m-5.7 2.4h0m10.7-6h0" stroke="#cbe1f0" stroke-width="1.44" stroke-linecap="round" fill="none"/>
<path d="M431 420.4h0m16.5-48.6h0m22.5 23.4h0m-19.1-.4h0m14.7-11.1h0m0 7.8h0m4.6-.3h0m-1.1 3.4h0m-26.1 32.8h0m4-53.8h0m24.5 19.9h0" stroke="#c3ddee" stroke-width="1.44" stroke-linecap="round" fill="none"/>
<path d="M437.1 417.9h0m5 14h0m-12.1-5.5h0m27.8-49.8h0m-7 9.4h0m6.2 29.6h0m-11.3-47.8h0m9.8 13.1h0m-6 29.7h0m13.7-21.9h0m-14.5-1.9h0m3.4 1.7h0m-28.9 44.7h0m22.7-36.1h0m20.4-13.6h0m-26.1 25.3h0m-9.7 13.6h0m19.3-35.8h0m6.1 21.1h0m-8.1 17.3h0m-5.4-22.1h0m18.2 7.4h0m-14-35.6h0m3.7 1h0m-.8 26h0m11.3-24.2h0m-14.1 21.2h0m-20.5 33.8h0m36.9-48.5h0m-21.5 19.4h0m28.5-4.1h0m-38 30.4h0m32.4-26.6h0m-20.6-15.9h0m15.6-1h0m10.5 16h0m-17.4-30.9h0m-17.4 47.8h0m7.4-12.9h0" stroke="#c7dfef" stroke-width="1.44" stroke-linecap="round" fill="none"/>
<path d="M431.1 437.6h0m13.6-67.2h0m-1.6 44.3h0m13.5-44.9h0m6.2 24.8h0m4.3 19.4h0m-10.1 .6h0m-14 3.7h0m-8.5 14.4h0m16.1-26.2h0m-8.4-.2h0m1.4-7.9h0m10.2-24.5h0m-6.5 40.2h0m4.6-40.4h0m15 32.5h0m-8-5.1h0m12.6-4h0m-11.2 10h0m-2.9-5.7h0m-12.4-17.9h0m22.6 1.7h0m-16.2-10.1h0m-17 53h0m35.8-20.1h0m-46.2 24.5h0m2 8.6h0m34-38.5h0m-17.9 21.5h0m5.4-19.7h0m-23.2 28.4h0m44.8-26.1h0m-33.5 25.7h0m6-48.6h0m13 16.3h0m-7.6-4.4h0m-12.9 21.3h0m22.1-21.7h0m-21.5 38.7h0" stroke="#a0cbe1" stroke-width="1.44" stroke-linecap="round" fill="none"/>
<path d="M452.3 376.8h0m2.1 41.9h0m-13.2-44.4h0m5.3-4.7h0m1.3 41.8h0m13.9-8.5h0m5.1-10h0" stroke="#97c5de" stroke-width="1.44" stroke-linecap="round" fill="none"/>
<path d="M459.9 380.1h0m-8-3.4h0m2.6 17.5h0m-8.2-12.1h0m11-5.2h0m4-1.6h0m.6 29.5h0m-12.2-27.3h0m-2.2-9.7h0m14.6 51.5h0m-15.7-29.4h0m-23.8 51.1h0m43-26.1h0m-23.7-23h0m21.6 20.9h0m-16.8-43.2h0m-1.5 5.2h0m2.4-4.9h0m12.9 35.4h0m11.7-12.8h0m-23-8h0m12.9 7h0m-35.4 32.6h0m11.7 5.5h0m10.3-26.6h0m19.8-3.5h0m-9.8 6.7h0m-11.9-28.5h0m-23.9 54.5h0m28.9-57.6h0m8.5 28.3h0m-7.7-.1h0m5.6-4.7h0m4.4-7.1h0m1.3-2.4h0m-6.4 14.7h0m-6.2-27.6h0m-.2 12.1h0m9.9 4h0m-12.3-3.9h0" stroke="#b7d7e9" stroke-width="1.44" stroke-linecap="round" fill="none"/>
<path d="M436.5 426.5h0m15-23.5h0m-6.1-17.5h0m-18.9 55.7h0m26.3-74.4h0m-1.8 42.7h0m-9.1 14.4h0m17.4-15.4h0m-2.4-9.3h0m-13.3-24.1h0m1.7 9h0m-6 48.5h0m1.7-25.1h0m-9.9 28.3h0m41.5-33.6h0m-9.5 16.6h0" stroke="#d0e4f2" stroke-width="1.44" stroke-linecap="round" fill="none"/>
<path d="M456.3 407.8h0m7-3.8h0m8.5-1.4h0m-7.8 7.1h0m-28.1 17.4h0m10.4-.4h0m3.1-20.2h0m-.9-16.8h0m8.8-4.6h0m-10.2 16.9h0m16.1-12.2h0m-5.1 4.7h0m-6.9 25.6h0m11.6-33.4h0m-23.1 40.1h0m14.3-43h0m4.1 28.7h0m-3.8 .8h0m-2.3-15.9h0m-6.2-7.1h0m-21.3 38.9h0m38.6-37.3h0m-2.1 11.3h0m-29.1 22.1h0m28.6-28.7h0m-9.7 11.7h0" stroke="#d6e7f4" stroke-width="1.44" stroke-linecap="round" fill="none"/>
<path d="M427 425.2h0m45.9-27.9h0m-26-26.6h0m-16.6 51.1h0m40.9-27.2h0m-15.7 7.5h0m-.2 18.6h0m-29.5 8.1h0m32-53h0m2.6 15.6h0m-4 21.9h0m14.6-10.7h0m-22.4 22.1h0m6.4-3.7h0m3-28.5h0m-28.9 34.9h0m42.9-25.1h0m-18 9.9h0m8.9-9.8h0m-7.2-34.2h0m5.3 19.6h0m-20 .2h0m-14.1 53.8h0m27.4-44.6h0m1.7-21.5h0m6.5 9.9h0m-25.1 48.5h0m11.5-33.2h0m-13.2 16.9h0m20.4-34h0m-4.8 20.7h0m22.2-11.3h0m-25.6 6.5h0m25.9-5.6h0m-48.5 32.4h0m10.8 6.7h0m37.6-28.9h0m-13.9 12.1h0m-12.1 8.2h0m-15.8-3.2h0m24.3-2.8h0" stroke="#c3dded" stroke-width="1.44" stroke-linecap="round" fill="none"/>
<path d="M423.2 438.5h0m23.6-24.8h0m7.1-38.8h0m-5.7 5.9h0m15.1 10.7h0m-9.5 23.9h0m-27.8 20.6h0m23.6-23.5h0m11.4-20.6h0" stroke="#a5cee3" stroke-width="1.44" stroke-linecap="round" fill="none"/>
<path d="M443.2 400.1h0m4.7-32h0m12.8 49.7h0m6.2-19.2h0m-9.5-1h0m1.2 12h0m-7.9-18h0m-5.5 19.9h0m16.4-34.8h0m-17.7 22.2h0m-.8 7.5h0m2.7-17.9h0m14.6 8.6h0m-33.8 35.6h0m20-42.2h0m-3.4 38.7h0m7.9-5.1h0m5.2-54.6h0m7.3 18.4h0m-13.9-4.3h0m2.2 23.8h0" stroke="#cfe3f2" stroke-width="1.44" stroke-linecap="round" fill="none"/>
<path d="M450.7 384.7h0m1.6-.4h0m8.9 32.5h0m7.5-13.3h0m-11.1-17h0m1.7 27.5h0m-16.3 10.8h0m16.4-26.1h0m-23.9 31.4h0m28.3-22.7h0m-21-20.1h0m-14.2 43h0m28.6-38.8h0m-12.3 5.2h0m19.2-.7h0m-9.1-15.2h0m-4 10.4h0m-14.1 39.7h0m14.4-39.9h0m-5 23h0m-8.7-1.2h0m22.7 2.1h0m-26.6 11.2h0m38-19.7h0m-45.3 31.1h0m37.6-51.3h0m-18.4 1.4h0m-4.3-12.3h0m29 25.7h0m-47.4 31.6h0m36.7-19.5h0m-29.8 20.7h0m32.9-15.8h0m-20.7 6.8h0m3.1-37.5h0m-1.9 13h0m.4 3.3h0m3.4-11.9h0m-2.5-20.5h0m-1.1 56.7h0m2.5-4.5h0m4-13.3h0m-4.9-17.7h0m-4.4-1.8h0" stroke="#bedaec" stroke-width="1.44" stroke-linecap="round" fill="none"/>
<path d="M455.9 412.2h0m-21.6 9.2h0m11.1-38.6h0m16 35.2h0m9.5-24.6h0m-25.7 20h0m-7.7 9h0m8.2-37.1h0m3 29.8h0m-.7-15.7h0m15.4 8.6h0m4.2-19h0m-39.6 40.7h0m45.9-34.7h0m-43.8 33h0m37.3-36.6h0m-15 1.5h0m4.6 13.1h0m2.6-14.3h0m-12.4 .2h0m23.1 12.9h0m-19.9-13.4h0m-11.9 28.4h0m-7.5 15.8h0m7.5-1.6h0m24.7-24.3h0" stroke="#c4ddee" stroke-width="1.44" stroke-linecap="round" fill="none"/>
<path d="M462.3 392.5h0m-14.3 25.2h0m16-28.6h0m7.3 15.2h0m-17.6-4.9h0m-5.6-23.3h0m4.8 47h0" stroke="#d5e6f3" stroke-width="1.44" stroke-linecap="round" fill="none"/>
<path d="M442.6 428.4h0m6.8-46.2h0m-3.5 46.4h0m16.6-35.9h0m-10.2 22.9h0m-12.2-37.1h0m.4 35.8h0m10.8 2.8h0m-7.8-13.7h0m17.2-24h0m-18.3-5.6h0m3.6 40.1h0m5.1-34.5h0m-3-3.7h0m3.5 24.8h0m-24.4 25.2h0m3.1 7.6h0m16.1-30.5h0m17.6-14.7h0m-24.3 26h0m2.2-13.5h0m7.7-9.9h0m-21.1 40.7h0" stroke="#9bc8e0" stroke-width="1.44" stroke-linecap="round" fill="none"/>
<path d="M465.1 406.4h0m2.7-7.2h0m-27.1-8.4h0m9.3-5.4h0m-6-10.9h0m16 37.6h0m-12.5-35.6h0m-23 64.9h0m4.4-16.2h0m-2.9 9.8h0m6.4-17.1h0m.2 .3h0m27-17.7h0m4.3-10.6h0m1.9 1.7h0m1.4 7.4h0m-28.3 30.5h0m2.8-45.2h0m11.9-6.9h0m-21.4 49.7h0m12.6-42.8h0m19.9 33.2h0m-6.9-6.5h0m4.6-18.5h0m2.2 14.9h0m5.2-17.9h0m-4.9 .5h0m-22.5 3.3h0m7.1 24.3h0m17.2-5.2h0m-20.1-31.7h0" stroke="#9ecae1" stroke-width="1.44" stroke-linecap="round" fill="none"/>
<path d="M462.8 411.4h0m-30.5 13.3h0m17.6-57.6h0m2.3 2h0m-7.5 7.7h0m-16.5 55.3h0m6.4-16.1h0m13.7-44.4h0m11.8 34.5h0m-7.8-30.1h0m6.5 7.1h0m-15.1 22.6h0m17.9-8.4h0m-10.7 18.4h0m.3-7.5h0m-28.7 27.6h0m25.8-31.5h0m14.2 6.8h0m-10.1 2.2h0m10.7-10.2h0m.6-17.8h0m-33.7 40.1h0m16.9-59.1h0m-23.8 69.9h0m20.2-59.3h0m-4.2 47.9h0m5.7-44.5h0m.8 44.6h0m1.8-34.7h0m-3.4 26.8h0m-2.4 9.8h0m5.6-39.2h0m-19.9 40.2h0m15.3-43h0" stroke="#b6d6e9" stroke-width="1.44" stroke-linecap="round" fill="none"/>
<path d="M426.9 426.6h0m35.9-33.1h0m-17.3 18.5h0m19.7-18.8h0m-2.3-5.5h0m-32.7 37.9h0m28-44.6h0m-23.8 38.9h0m20.7-41.6h0m-19.8 39.9h0m6.5-48h0m3.3 27.2h0m-.3 16.9h0m-10.6 19h0m17.1-61h0m4.4 48.2h0m-11.2-50.2h0m-4.3 43.4h0m26.4 .4h0m7.3-15.2h0m-15 16.4h0m-6.7 .2h0m12.2-2.6h0m-8-16.5h0m-5.9 5.9h0m4.3-28.5h0m-2.6 46.3h0" stroke="#b4d5e8" stroke-width="1.44" stroke-linecap="round" fill="none"/>
<path d="M464.8 381.9h0m-28.1 47.3h0m12.4-9h0m-1.6-16.7h0m-6.9-23.5h0m26.6 17.4h0m-13.5-19.1h0m9.2 39.6h0m-4.7-29.2h0m-8.7 15.7h0m-.3 6.7h0m-5.1-17.5h0m-3.6-14.7h0m27.1 18.5h0m-32.7 26.2h0m32.7-13.7h0m-25.2-24.6h0m10.9-16h0m-9.3 42.7h0m8.6-26.8h0m-6.6-5.5h0m-1.7 47.3h0m11.5-8.4h0m-25.5 19.3h0m33.6-41h0m-3.8-.6h0m2-14.3h0m-7.5 37.6h0m-8.3-31.9h0m-17.7 35.1h0m21.7-24.1h0m-21.8 35.9h0m-3.3-6.8h0" stroke="#d9e8f5" stroke-width="1.44" stroke-linecap="round" fill="none"/>
<path d="M443.9 375.6h0m-5.8 44.8h0m16.3-8.9h0m-5.8-10.3h0m-9.1 14.2h0m-11.4 11.7h0m30.5-30.8h0m-16.6-23.8h0m17.4 3.2h0m-1.6 20.8h0m-22.5 19.1h0m21.6-10.1h0m-9.1 16h0m-6.7-40.2h0m10.6 21h0m6.9 2.4h0m-27.1 16.2h0m34.9-11h0m3.6-2.5h0m-29.4 6.2h0m-7 8.4h0m-9.1 12.6h0m21.4-47.3h0m17.5 1.2h0m-5.2 4.4h0m3.8 25.3h0m-21.3 11.1h0m7.4-52.1h0m-13.2 57.3h0m11.6-19.7h0" stroke="#d5e6f4" stroke-width="1.44" stroke-linecap="round" fill="none"/>
<path d="M465.3 389.7h0m-5.7 25.3h0m-26.8 5h0m21.5-20.9h0m2.2-4.5h0m4.5 13.4h0m1.7-3h0m-14.7-19.4h0m10.7 20h0m1.3-32.2h0m-17.4 50h0m-7.8 2.7h0m31.3-35.7h0m-28.4 31.2h0m-2.8 1.2h0m-10.4 7.1h0m42.8-45.4h0" stroke="#cfe3f1" stroke-width="1.44" stroke-linecap="round" fill="none"/>
<path d="M455.3 413.4h0m-10.4-21h0m25.2 1h0m-27.3-.7h0m21.8-2.6h0m-39.1 50.9h0m26.4-47.2h0m14.8 15.3h0m-24.2-37.9h0m27.6 23.8h0m-27.7-3.7h0m8.4 2h0m-12.8 23h0m17.3-36.9h0m-11.3 48.1h0m3.1-18.6h0m15.3-30.9h0m-22.9 37.8h0m-14.1 24.1h0m11.6-25.3h0m-4.1 4.1h0m22.8-13.8h0m-24.1 20.4h0m12.2-30.5h0m9.2 27.5h0m.9-12.6h0m-1.3-28.9h0m11 17.2h0m-14.1-11.6h0m11.5 13.2h0m-13.3-2.3h0m-7.5-17.6h0" stroke="#bfdbec" stroke-width="1.44" stroke-linecap="round" fill="none"/>
<path d="M431.9 432.9h0m26.3-32.4h0m-10.9 10.3h0m17.4-20.3h0m-12.7 18.2h0m.5-15h0m-10.7 25.4h0m2.5-37.5h0m5.3 35h0m10.1-17.5h0m-19.8 12.1h0m12.6-3.6h0m2.6-5.6h0m-18.7 24.6h0m8.2-54.5h0m21.2 13.1h0m-36 48.9h0m14.8-49h0m9.2-16.5h0m-8 10.5h0m5.1 27.9h0m16-2.7h0m-15.8-12.2h0" stroke="#98c6df" stroke-width="1.44" stroke-linecap="round" fill="none"/>
<path d="M424.8 427.2h0m6.9 5.5h0m22.8-64.4h0m-11.8 52.3h0m2.8-36.6h0m-4 34.2h0m9.8-2.2h0m-6-4.5h0m-17.7 14.7h0m26.6-49.5h0m5.6-.8h0m-1.9 12.2h0m-15.4 36.8h0m-19.7 12.6h0m24-62.2h0m.6 34h0m-11.3 23.6h0m12.5-48.8h0m-23.1 44.6h0m39.5-22.9h0m-13.6-37.8h0m-15.9 58.9h0m36.3-26.6h0m-3.1-13h0m-25-.5h0m0 42.4h0m-13.9 2h0m15.1-12.8h0m-6.9 2.1h0m16-35.3h0m-9.8 23.7h0m7.2-4.9h0m-.9-7.4h0m1.7 4.3h0m13.8 7.1h0" stroke="#a2cce2" stroke-width="1.44" stroke-linecap="round" fill="none"/>
<path d="M463.2 404.6h0m-8.4-28.4h0m10.3 33.8h0m-20.1-16.6h0m-1.4 11.5h0m-.1-11.6h0m-14.9 46.3h0m21.8-52.7h0m-2.7 14.6h0m6-5.1h0m-5.3-17.7h0m-14 41.9h0m33.4-22.9h0m-.9 .3h0m-14.2-26.8h0m14.8 28.2h0m-22.8-30.2h0m17.3 46.1h0m-36.8 13.2h0m33.2-52.5h0m-15.8 23.9h0m5.5 27.4h0m-5.1-38.1h0m.4 34.2h0m23.9-16.5h0m-19.7-21.6h0" stroke="#c8dfef" stroke-width="1.44" stroke-linecap="round" fill="none"/>
<path d="M458 381.7h0m-5.1 33.8h0m.8-39.5h0m-25.7 47.8h0m36.2-41.4h0m-4.2-8.1h0m6.6 11.4h0m-7.5-5h0m-14-13.3h0m20.3 23.3h0m-11.2 19.5h0m-.6-13.6h0m19.6 2.3h0m-33.4 28.4h0m6.8-46.3h0m-1.5 29.8h0m9.7-39.8h0m2.7 4.7h0m-29.9 64.4h0m24.3-41.1h0m2-24.3h0m-5.9 5.7h0m-7.2 44.8h0m29.7-30.4h0m-6.9-11.8h0m-12.6 33.9h0m6.3-6.1h0m-10.5-36.6h0m3.8 41.7h0m-1.5-2.1h0m17.8-28.6h0m-24.2 45.6h0m9.6-52h0m-18.5 43.6h0m28.4-28.8h0m-12.8 20.4h0m-.1-46h0m8.6 3.7h0" stroke="#c5deee" stroke-width="1.44" stroke-linecap="round" fill="none"/>
<path d="M442.6 387.6h0m6.4-2.7h0m-21 49.5h0m19.1-44.2h0m2.9 5.9h0m-5 22.4h0m20.7-26.2h0m-18.1-4.9h0m-21 53.2h0m30-42.4h0m-14.2 6.2h0m28.2-2.9h0m-45.4 34.7h0" stroke="#d6e6f4" stroke-width="1.44" stroke-linecap="round" fill="none"/>
<path d="M449 407.1h0m-4.1-11.4h0m22.2 12.3h0m-12.3-29.9h0m-9.4-7.4h0m9.9 32.8h0m9.4 3.5h0m-23.2 21.1h0m11.9-52.7h0m-22.6 62.6h0m35.8-52.7h0m-16.5 23.5h0" stroke="#d8e7f4" stroke-width="1.44" stroke-linecap="round" fill="none"/>
<path d="M458 404.5h0m-22.5 27.6h0m7.1-4.9h0m22.7-23.1h0m.7-12.3h0m-23-20.4h0m12.5 11.1h0m-3.1 38.7h0m-3.1-42.9h0m-23.1 50.2h0m27.5-20.7h0m17.6-7.7h0m-22.2-27.8h0m6 6.8h0m-9.1 29h0m10-18.9h0m-6.2 10.9h0m19.8 7.7h0m-6.8-10.8h0m.6-3.6h0m-19.2 29h0m28.6-17.3h0m-22.1-3h0m7.5-15.2h0m-6-6.6h0m4.5-7.2h0m2.2 36.8h0m-11.4-39.1h0m-16.4 66.3h0m3.9-11.1h0m36.2-30.4h0m-41.3 28.8h0m8.5 1.3h0" stroke="#b0d3e7" stroke-width="1.44" stroke-linecap="round" fill="none"/>
<path d="M466.7 391.6h0m-16.7-20.6h0m16.5 43.6h0m-24.8 13.9h0m3.6-55.8h0m3.3 45.9h0m10.8 1.1h0m-21.2-2.9h0m21.9-41.2h0m-8.2 1.5h0m1.5 13.7h0m-8.4-3.9h0m6.3 6.7h0m1.1 28.2h0m-2.9-5.2h0" stroke="#a7cee4" stroke-width="1.44" stroke-linecap="round" fill="none"/>
<path d="M442.1 424.2h0m17.6-11.4h0m5.3-24.6h0m-23.7-7.9h0m30.6 16.8h0m-24.1-16.8h0m14.1 15.3h0m-27.3 25h0m5.8 9.1h0m14.9-55.2h0m-13.6 48.4h0m15.6-1.8h0m1.3-10.3h0m-17.1-11.2h0m8.2-6.1h0m-25.4 34.8h0m30.7-51.4h0m-17.1 39.6h0m23.2-33.6h0m-11-11.4h0m5 21.2h0m-11.9 21.9h0m3.7-14.4h0m14.6 .2h0m4.7-17.5h0m1.9 20.1h0m-11.7-11.5h0m6.5-3.1h0m-6.3-1h0m-29.6 50.3h0m33-49.3h0m-9.8 33.1h0m-21 11.7h0m17.2-47.8h0" stroke="#dceaf6" stroke-width="1.44" stroke-linecap="round" fill="none"/>
<path d="M457.2 397.6h0m14.8 9.4h0m-31-14.7h0m-11.6 38.6h0m27.5-15.1h0m8.9-14.3h0m-17.6-12.7h0m-16.7 42.5h0m10.8-57.2h0m-6.1 46.2h0m30.3-13.1h0m-10.9 4.7h0m4.6-23.7h0m-21.5 29.1h0m20.6-42.1h0m3 14h0m-14.1 15.7h0m-22.5 30.9h0m42.6-32h0m-5.1 12.6h0m-27.9 .1h0m31.7-26h0m-23.4-17h0m-1.2 37.8h0m24.9-10.2h0m-11.4-27.1h0m-25.7 61.5h0m1-3.6h0m35.7-23.1h0m-17.1 16.7h0m5.7-32.6h0m9.5 8.8h0m-12.3 0h0m-3-6.9h0m12.5 23.2h0m-21.7 6h0m-1.6-4.7h0" stroke="#b9d8ea" stroke-width="1.44" stroke-linecap="round" fill="none"/>
<path d="M427.4 429.2h0m19.2-50.9h0m-5.3 51.4h0m1.3-7.7h0m-.4-6.3h0m2.2-37.8h0m8.9-4.1h0m2.1 28.4h0m-14.3 10h0m12.9 9.2h0m.3-22.4h0m-9.9-6.4h0m28.9 5.1h0m-13.5-6h0m-18.9 1h0m11.3 21.1h0m-17.8 11.2h0m-8.8 .7h0m7.7 6.6h0m20.7-18.3h0m-2-25.7h0m-7.2 40.9h0m6.8-37.7h0m.7-4.6h0m-6.7 27.7h0m15.4-37.6h0m-3.8 36.1h0m-2.4-20.8h0" stroke="#a3cce2" stroke-width="1.44" stroke-linecap="round" fill="none"/>
<path d="M452.8 384.3h0m-27.9 52.6h0m33.2-49.3h0m9.1 21.1h0m-13.5 4.6h0m6.6-28.8h0m-1.7 33.4h0m9.5-9h0m-33.4 25.9h0m15.3-46.9h0m18.2 8.3h0m-39 38.1h0m32.8-23.5h0m-31.4 19.2h0m15.7-50.7h0m11.6 26.8h0m-34.5 23.5h0m22.3-24.9h0m12.8-10.6h0m-33.2 32.6h0m29.7-53.7h0m-27.1 65h0m14.9-39.7h0m17.1-9.9h0m-13.9-21.7h0m19.2 34h0m4.1-3.4h0m-17.7 22.1h0m1.8-40.8h0m-3.4 12.1h0m12.5-1.3h0m-17.3-6h0m-1.8 12.4h0" stroke="#c6deee" stroke-width="1.44" stroke-linecap="round" fill="none"/>
<path d="M449 406.2h0m-1.8 13.4h0m.6-26.7h0m-10.5 20.1h0m5.8 5.6h0m7.6-32.4h0m1.6-5.5h0m-3.3 24.5h0m21.4-13h0m-9.2-4.5h0m-13.5 28.2h0m10.1-45h0m-24.5 62.3h0m27.2-42.7h0m12.9 4.5h0m-23.8 18.2h0m-14.8 11.1h0m21.7-11.3h0m-29.2 13.6h0m28-5.6h0m4.7-34.9h0m-32.5 52.3h0m25.2-66.4h0m-10.1 47.7h0m21.1-16.3h0m-11.7-29.4h0m-10.7 45.6h0m6.5-49.8h0m3.7 41.9h0m2.8 9.4h0m6.8-30.7h0m-27 41.3h0m23.1-45.3h0m-10.3 5.5h0m15.7-4.7h0m-32.5 42.8h0m36.1-26.8h0" stroke="#aad0e5" stroke-width="1.44" stroke-linecap="round" fill="none"/>
<path d="M425.9 427.5h0m6.5-8.7h0m17.5-27h0m-1.1 3.9h0m25.4 1.8h0m-23.8 19.5h0m16-24.5h0m6 7.6h0m-12.4-26.2h0m-5.5 26.7h0m4.7-6.1h0m9-.5h0m-8.1-14.9h0m-3.4 13.1h0m-11.1-5.5h0" stroke="#d2e4f2" stroke-width="1.44" stroke-linecap="round" fill="none"/>
<path d="M431.2 435.5h0m6.4-12.1h0m2.2-5h0m5.8-10.8h0m7.2-25.8h0m11.4 22.2h0m-28.7 14.5h0m18-12.7h0m-12.2 23.2h0m8.3-22.7h0m-24.6 20.7h0m27.5-14.1h0m-2.5 2.9h0m23.6-22.5h0m-23.5 29.7h0m2.9-50.2h0m4.7 8.7h0m11.4 13.4h0m2.7 9.1h0m-22.8-18.1h0m-19.2 38.4h0m14.8-48.6h0m-18.8 61.2h0m24.4-43.5h0m-4.9-2.9h0m-2 39.4h0m-3-.3h0m5.8-58.8h0m.9 23.6h0m-21.8 33.2h0m6.6-3.1h0m16-.3h0m18-25.1h0m-24.3 20.6h0m1.5-21h0m-13 26.4h0m19.6-10h0m5.3-22.8h0m14.2 1.5h0" stroke="#d7e7f4" stroke-width="1.44" stroke-linecap="round" fill="none"/>
<path d="M425.1 440.9h0" stroke="#3f8ec3" stroke-width="1.44" stroke-linecap="round" fill="none"/>
<path d="M441.6 370.4h0m13.1 30.7h0m-9.8 3.8h0m-17.7 22.9h0m11.8-3.6h0m1.7-52.9h0m14.4 32.1h0m8 .8h0m-7.3-34.9h0m-9.7 4.3h0m-9.9 55.9h0m3.9 3.8h0m1.6-57.2h0m19.5 7.9h0m-17.6 31.9h0m3.4-33.2h0m13.2-5.4h0" stroke="#b1d4e7" stroke-width="1.44" stroke-linecap="round" fill="none"/>
<path d="M443.3 370.7h0m22.7 44.7h0m-14.2-24.5h0m-4.5-18h0m4.3 32.8h0m.6-15.7h0m-7.3 8.4h0" stroke="#b5d5e8" stroke-width="1.44" stroke-linecap="round" fill="none"/>
<path d="M443.5 384.8h0m-19.8 46.8h0m38.1-47.1h0m9.9 11h0m-36.9 31.8h0m26.1-27.8h0m-10.8 3.5h0m4.1-10.2h0m2.4 19.1h0m1.4 2.5h0m-20.2 16.5h0m31.1-34.6h0m-9.5 .9h0m-12 7.5h0m1.8 1.4h0m22.2-3h0m.4 3.5h0m-31 3.2h0m10.6 8.7h0m14.5-32.3h0m-13.3-10.6h0m14.7 30.8h0m-14-14.9h0m-26.5 49.1h0m40.2-48.7h0m-6.8 2h0m-14.3-5.2h0m25.5 2.2h0m-7.3 1.3h0m-14.5 3.3h0m-.2 16.5h0" stroke="#bbd9eb" stroke-width="1.44" stroke-linecap="round" fill="none"/>
<path d="M457 406.6h0m-12.1-8h0m9.2 11.1h0" stroke="#9ac7e0" stroke-width="1.44" stroke-linecap="round" fill="none"/>
<path d="M451.5 373.2h0m-16.3 59.4h0m-9.8 1.7h0m42.6-38.5h0m-8.3-23.1h0m4.2 26h0m-17.2 20h0m17-12.1h0m-20.2-21.4h0m18-2.3h0m-25.3 35.8h0m21.5-5.7h0m11.1-19.6h0m-12.1-11h0m-6.7 4.6h0m-10.8 31h0m25.5-25.6h0m-38.2 40.5h0" stroke="#a9cfe4" stroke-width="1.44" stroke-linecap="round" fill="none"/>
<path d="M442.9 411.4h0m20.1-18.4h0m-17.8 33.1h0m20.5-19h0m-6.2-28.5h0m1.7 38h0m-34.1 8.7h0m26.5-52.3h0m-28 63.6h0m27.6-24.2h0m1.4-10.3h0m-1.6-34h0m-2.3 41.5h0m-3.2 12.6h0m-3.2-54.7h0m19.5 44.8h0m-2-7.9h0m-10-23h0" stroke="#b3d5e8" stroke-width="1.44" stroke-linecap="round" fill="none"/>
<path d="M443.5 419.4h0m25.8-15.6h0m-18-24.7h0m-8.7 46.1h0m-11 5.5h0m12.3-40.4h0m30.3 12.1h0m-22.8 10.1h0m-7.3 16.6h0m1.5-28.2h0m-.2-21.4h0m18.8 6.8h0m2.1 7.4h0m-16.6 13.5h0m-8.7 17h0m16.3-49.5h0m-28.3 48.8h0m32.1-22.3h0m-2 9.2h0m2.6 8.1h0m-15.2 .7h0m12.7-41h0m-10.8 .7h0m-18.7 43.9h0m39.3-20.5h0m-24-34.3h0m-6.2 54h0m16.5-45.1h0m-22.3 52.7h0m27.4-23.9h0" stroke="#a1cbe2" stroke-width="1.44" stroke-linecap="round" fill="none"/>
<path d="M447.9 367.3h0m6.9 26.3h0m-14 33.9h0m-15.3 11.4h0m33.3-52.9h0m1.8-7.1h0m-9.3 22.8h0m-6.2-24h0m-3.2 29.4h0m-15.3 17.9h0m15.4-47.6h0m10 33h0m-1.9-25.5h0m-7.6 34.2h0m20.1-41.2h0m-28.9 42.3h0m11.1-6.2h0m-.3-10.6h0m-5.8 16.8h0m1.9-36h0m14.6 32.8h0m7.3-15h0m-4.1 1.4h0m-4.1-20.2h0m6.1 31.7h0m-18.7-42h0m.8 43.8h0m4.1 3.5h0m-2.5-22.7h0m18.8 15h0m-30.1 10.5h0m6.8-1.6h0m12.1-5h0m-4.9-11.6h0m-16.1 30h0m30.5-40h0" stroke="#bddaeb" stroke-width="1.44" stroke-linecap="round" fill="none"/>
<path d="M438.8 412h0m11-42.7h0m-19.3 60.2h0m31.1-11.3h0m-17.3-24.5h0m-3.6 27.8h0m-1.2 8.7h0m19.2-25h0m-16.9-16.3h0m-4.8 29.4h0m27.6-27.9h0m-14.6 30.9h0m4.5-.2h0m5.2-31.9h0m-25.9 41.5h0m17.6-44.5h0m-10 4.1h0m13.4-11.4h0m9.1 21.8h0m-14.7 21.1h0m-2.6-14.8h0m11.8-30.7h0m7.2 8.1h0m-42.5 45.9h0m6.5-4.1h0m16.7-24.6h0m-18.3 38.3h0m13.9-22.6h0m11.9-22.9h0" stroke="#a4cde3" stroke-width="1.44" stroke-linecap="round" fill="none"/>
<path d="M471.9 399.1h0m-18.4-24.8h0m-25.1 56h0m19.9-46.6h0m-4.4 24.1h0m7.2 16.8h0m5.9-17.3h0m-15.4-.8h0m25.3 2.7h0m-18.3-21.1h0m11.6 21.8h0m-20.7 12.9h0m11.4-47.8h0m-1.4 26.3h0m-7.5 6h0m2.1-38.4h0m-2.5 43.7h0m1.5-3.3h0m17.6-18.1h0m-1.8 .1h0m5.3 12.1h0" stroke="#cce1f0" stroke-width="1.44" stroke-linecap="round" fill="none"/>
<path d="M462.2 416.6h0m-17-21.8h0m16.3-14h0m-3.4 7h0m-16-12.2h0m-1.4 43.8h0m23.8-38.2h0m-20.2 35.1h0m10-8.8h0m-5.5 4h0m-24.9 19.9h0m28.7-36.8h0m11 5.1h0m-.9-19.7h0m-25.8 51.2h0m11.4-29.2h0m18.9-14.1h0m-39.6 36.4h0m29.2-37.1h0m-30.5 37.8h0m35-43.8h0m7.9 29.2h0m-16.2-30h0m-7.1 3.4h0m17 2.3h0m-12.3 14.1h0m-11.8 26.3h0m12.2-28.9h0m-11 27.6h0m26.3-34.6h0" stroke="#c2dced" stroke-width="1.44" stroke-linecap="round" fill="none"/>
<path d="M466.3 401.6h0m-16.6-15.3h0m14.1 30.8h0m-10.9-26.1h0m16.5 11.3h0m5.1-.6h0m-17.4-4.1h0m-23.9 32.3h0m7.5-8.1h0m4.7 5.8h0m2.1-13.7h0m6.9-10.3h0m1.4-16h0m6.7-7.9h0m-39.1 62.1h0m13.7-23.1h0m9.3-23h0m2.4 14.9h0m18.6-21.7h0m-23.7 17.2h0m-1 21.3h0m-1.2-34.4h0" stroke="#add2e6" stroke-width="1.44" stroke-linecap="round" fill="none"/>
<path d="M454.6 393.2h0m3.4-19h0m-30.1 55.1h0m28.1-43.4h0m-11.4 23.3h0m-13.6 27.6h0m31.5-22.9h0m-10.7 6.4h0m-1.9-22.7h0m-9.8-19.8h0m0 37h0m-7.7 19.8h0m33.9-37.3h0m-24.8 25.1h0m7.7-28.2h0m21.7 5.8h0m-12.1-5.4h0m-4.2-9.1h0m1.4-15.7h0m2.6 19.5h0m-15 29.8h0m22.2-9.7h0m-17.2 14.9h0m17.9-26.5h0m7.1 .9h0m-16.8-16h0m-12.9 47.3h0m21.1-27.6h0m-10.1-5.9h0" stroke="#d8e8f5" stroke-width="1.44" stroke-linecap="round" fill="none"/>
<path d="M452.2 399.1h0m-.8-.3h0m14.6 9.6h0m-4.7-8h0m9.7 2.7h0m-14.6 .2h0m.6-4h0m-20.8 35.2h0m-3-12.6h0m26.4-20.8h0m-8.2-34.5h0m18 30.1h0m-2.9 5.3h0m-20.6 22.1h0m17.8-41.7h0m-33.9 43.2h0m22-53.9h0m-.3 30.6h0m18.1 1.6h0m-6.5-13.8h0m-5.3-18.5h0m-22.1 59.4h0m12.8-55.4h0m-5.4 27.3h0m-1-19.6h0m-4.8 37.8h0m17.2-53.3h0m2.4 50.7h0m-18 13h0m1-15.5h0" stroke="#99c7df" stroke-width="1.44" stroke-linecap="round" fill="none"/>
<path d="M462.2 379.8h0m-7 5.7h0m-13.7 28.7h0m6.2-45.2h0m-18.7 61.9h0m26.9-48.9h0m-7.4 4.5h0" stroke="#bbd8ea" stroke-width="1.44" stroke-linecap="round" fill="none"/>
<path d="M452 380.1h0m-7.7 3h0m20.8 4.4h0m-4.2-8.5h0m-14.4-.2h0m-23.8 57.6h0m35.4-19.5h0m-10.9-7.1h0m-4.1-4.6h0m19.7-16.3h0m-6.2 16.9h0m-17.7 6.1h0m12.5 3.8h0m-3.2-35.3h0m-25.1 55.9h0m14.4-10.3h0m6.7-.6h0m-8.7-8.5h0m7.5 .4h0m21.3-27.7h0m-17-17h0m7.3 18.4h0m-29.7 49.7h0m12.7-12.1h0m24.8-36.8h0m-31 28.8h0m23.6-5.7h0m1.9-24.3h0m-13.1 28.5h0m7.6-20.8h0m-4.4 23.3h0m-14.2 4.5h0m25.9-14.6h0m-14.8-27.8h0m13.6 18.7h0m-6.9 4h0" stroke="#c0dbec" stroke-width="1.44" stroke-linecap="round" fill="none"/>
<path d="M456.5 372.8h0m-28.7 63.8h0m15.6-22.2h0m20.6-28.8h0m-33.7 44.7h0m16.8-36.2h0m.4 30.8h0m-14.3 12.8h0m21.8-55.8h0m-2.1 8.9h0m12.5 17.6h0m-2.4-28.4h0m-8.8 22.2h0m-11-15.3h0m8.5-8.3h0m-1.5 18.5h0m-6.7 23.2h0m12.7-15h0m-8.8 22.4h0m-15.5 5.5h0m21.9-21.8h0m-7.7-27h0m11.6 25.3h0m-13.5-31.9h0m18.8 3.9h0m-16.9 4.8h0m-1-5.6h0m4.6 14.4h0m-23 33.3h0m28.1-34.4h0m14.4-6.2h0m-16.3 32.2h0m-10-51.9h0m16.4 27h0m-2.7 7.7h0m-4 3.4h0m17.3-17.5h0m-9.9-14.1h0m-5.6 9.4h0m-22.6 54.5h0m12.7-61.3h0m4.6 41.1h0m1.7-41h0m-12.6 40.6h0m9.3-3.4h0m7.4-11.7h0m3.9 7.5h0" stroke="#aed2e6" stroke-width="1.44" stroke-linecap="round" fill="none"/>
<path d="M438.7 415.8h0m12 7.8h0m-15.3-2.3h0m-3.5 6.8h0m28.6-30.9h0m-7.4 22.2h0m-7.9-22.2h0m-2-29.6h0m4.5 25.8h0m1.4 18.4h0m-6.6-3.6h0m6.3-31.5h0m-.2 33h0m-.5 9.7h0m-14.4 4.5h0m20.3-3.1h0m2.8-10.7h0m4.4-3.5h0m-5.9-28.4h0m-6.9 47.9h0m-.5-59h0m-3.9 34.9h0m-4.9 22.9h0m17.9-31.6h0m.3 14.6h0m3.9 7.7h0m-10-23.4h0m-7.1 8.6h0m18.2-16.7h0m9.6 22.8h0m-21.5-28h0m-24.7 57.4h0" stroke="#cae0f0" stroke-width="1.44" stroke-linecap="round" fill="none"/>
<path d="M440.4 386.3h0m-6.6 43.9h0m17.2-32.6h0m-7.7-8.5h0m.3-11.9h0m6.1 31.7h0m-7.1-23.7h0m26.7 17.5h0m-29.8 12.4h0m17.4-2.9h0m-15.1-15.3h0m-.5 19.1h0m.9 13.3h0m18.7-13.8h0m2.8-11.5h0m.6-12.7h0m-24.2 29.4h0m7.9-5.6h0m8.9 3h0m-3.1-50.6h0m4.3 52.1h0m-1.8-16.5h0m-20.2 15.7h0m28.4-26.5h0m-23.8 37.7h0" stroke="#a5cde3" stroke-width="1.44" stroke-linecap="round" fill="none"/>
<path d="M440.7 372.6h0m26.9 21.6h0" stroke="#3581bb" stroke-width="1.44" stroke-linecap="round" fill="none"/>
<path d="M470.4 396.1h0m-15.4-4h0m14.2-.2h0m-14.7-10.4h0m-3.9-15h0m-.3 55.9h0m12.7-28.3h0m-4.3 5.3h0m9.1-7h0m-19.9 4.5h0m-14.2 26.6h0m24.2-9.4h0m-2.5-6.6h0m8.3-28.9h0m.8 29.2h0m-1.4-7.3h0m-13.9 22.7h0m4.2-19.2h0m-7.8 11.7h0m-1.5-15.9h0m6.7-11.9h0m13.8 27.7h0m-8.1-23.9h0m-13.6 34.8h0m-19.9 6.6h0m17-13h0m19.4-13h0m-13-14.6h0m7.7-14.1h0m-21 46.3h0m-10.4 9.6h0m23.3-21.3h0" stroke="#dbe9f6" stroke-width="1.44" stroke-linecap="round" fill="none"/>
<path d="M430 436.2h0m13.3-48.2h0m.3-17.2h0m-2.6 10.2h0m23.5 17.1h0m-1.5 10.7h0m-31 24h0m19.3-36h0m.8 3.6h0m6.9 5.3h0m1.2-14.4h0m-28.7 36h0m35.3-28.3h0m-23.6 9.4h0m-15.6 21.4h0m28.7-52.4h0m.9 .2h0m10.7 33.2h0m-39.2 15.1h0m38.2-25.8h0m-16.8 12.8h0m12.3-6.6h0m10.3-4.8h0m-11.5-18.1h0" stroke="#96c5de" stroke-width="1.44" stroke-linecap="round" fill="none"/>
<path d="M465.3 411.3h0m-2-10h0m-5.9-14.8h0m-3.6 10.5h0m2.4 .8h0m-7.3 6.7h0m-22.9 36.5h0m34.6-42h0m-17.2-23.6h0m-21.1 63.1h0m38.5-56.3h0m-23.3 44.1h0m25.8-32.7h0m-23 27.8h0m14.3-6.8h0m-8.1-46.9h0m-2 53.3h0m19-28h0m-37.6 34.2h0" stroke="#b2d4e8" stroke-width="1.44" stroke-linecap="round" fill="none"/>
<path d="M460.7 406.2h0" stroke="#2066a9" stroke-width="1.44" stroke-linecap="round" fill="none"/>
<path d="M438.4 426h0m-15.2 11h0m39.1-44.5h0m-17.3 8.1h0m27.2-1.1h0m-32.2 30.7h0m-2.4-12.6h0m-12 22.8h0m16.6-33.1h0m15.5-2.6h0m3.8 10.3h0m-9.7 7.5h0" stroke="#abd1e5" stroke-width="1.44" stroke-linecap="round" fill="none"/>
<path d="M467.9 412.8h0m-22.9-39h0m-3.7 39.4h0m11.5 7.6h0m-1.5-9.3h0m-25.3 20.3h0m14.1-11.8h0m19.7-27.5h0m-9.1-25.5h0m11 52.8h0m-31.4 11.9h0m15.7-23h0m-.8-3.4h0m13.7-32h0m-11 46.8h0m1.8-29.7h0m5.6-12.7h0m-22.4 41.7h0m25 1.5h0m-33.9 20.9h0m8.9-5.9h0m22.2-46h0m-31.9 48.8h0m37.5-42.4h0m.2 19.6h0m-12.1-12.7h0m11.4-.4h0" stroke="#d3e5f3" stroke-width="1.44" stroke-linecap="round" fill="none"/>
<path d="M459.2 395.5h0m-3.2-8.8h0m-22.5 32.6h0m15.5-38.7h0m.2 38.8h0m-4.8-15.9h0m18.6-3.9h0m-21.5 24.5h0m-.8-33.4h0m16.1-5.5h0m-27.9 42.1h0m23.6-18.9h0m4.2-32.7h0m11.7 15.7h0m-25.7-18.5h0m-2.3 3.3h0m16-7.2h0m5.5 18.9h0m-7.4 22.7h0m10.6-6.3h0m-30.6 24.7h0m24-46.1h0m-7.9 29.8h0m-10.3 10.1h0m8.2-40.9h0m8.9 15.5h0m2 17.3h0m2.6-29.6h0m-7.9 31.3h0m-30.4 13h0m33.1-42.7h0m-16.3-11.2h0m24.1 10.8h0m-6-11.1h0m-8.9 7.6h0m-2.6 41h0m7.6-32.5h0m-18.4 42.5h0m6.9-18.1h0" stroke="#bcd9eb" stroke-width="1.44" stroke-linecap="round" fill="none"/>
<path d="M462.4 398.1h0m4-14.6h0m-15.3 4.5h0m-2.3 4.8h0m-21.7 38.9h0m16.7-41.6h0m22 6.5h0m-6.1 6.1h0m1.1-21.2h0m-9.5 39.9h0m-6.4-9h0m-1.6-16.3h0" stroke="#c8e0ef" stroke-width="1.44" stroke-linecap="round" fill="none"/>
<path d="M454.5 367.9h0m-10.3 .5h0m-14.4 53.3h0m23-14.3h0m3.3-35.9h0m-6 9.4h0m-18.5 43.8h0m32.9-17.6h0m-12.6-36.4h0m-3.2 45.9h0m2.9-9.5h0m-5.1-25.9h0m4.8-2.8h0m-28.1 52.5h0m35.3-58.5h0m-5.6 4h0m-1.6 41.1h0m-19.8 17.3h0m35.1-49.2h0m2.7 13.5h0m-43 34.6h0m23.6-62.3h0m11.2 42h0m-28.9 21.1h0m7.3-20.8h0m23.6 3.7h0m-15.1-23.7h0m3.7-17.6h0m-.7 20.5h0m16.8-9.6h0m-8.6-1.2h0m-1.6 12.6h0" stroke="#bad8ea" stroke-width="1.44" stroke-linecap="round" fill="none"/>
<path d="M443 368h0m-15.5 66.8h0m21.3-22.4h0m5.8-32.9h0m-8.7 6.5h0m10.7 27.5h0m-9.8-38.4h0m6.3 39.4h0m-15.8 13.5h0m35.9-34h0m-28.9 20h0m.6 2.1h0m8.3-32h0m12.5 26.2h0m-9.4-31.4h0m-6.1 5.5h0m-3.6 20.5h0" stroke="#cee2f1" stroke-width="1.44" stroke-linecap="round" fill="none"/>
<path d="M452.1 376.2h0m2.7 43.3h0m-26.9 15h0m28.7-48.2h0m10.4 24h0m-7 4.8h0m-5.6 3h0m-28.4 16.8h0m35.5-43.9h0m-9 19.1h0m-6.7-22.8h0m5-8.8h0" stroke="#acd1e5" stroke-width="1.44" stroke-linecap="round" fill="none"/>
<path d="M441.2 418.4h0m31-21.8h0m-44.2 33.2h0m28.6-45.3h0m-5.9 6h0m9.3 20h0m8-16.5h0m-24.3 27h0m21.6-27h0m.7 22.2h0m-23.8-6.5h0m.9-10.1h0m8.8 11.9h0m-.6 1.6h0m-21.6 20.6h0m16.9-6.6h0" stroke="#cae1f0" stroke-width="1.44" stroke-linecap="round" fill="none"/>
<path d="M445.1 424.6h0m15.3-4.4h0m10.3-14.7h0m-10.8 5.4h0m-2-8.6h0m-22.2 16.8h0m12.9-1.5h0" stroke="#95c5de" stroke-width="1.44" stroke-linecap="round" fill="none"/>
<path d="M466.7 396.4h0m-.6-12.2h0m-30 47.1h0m18.1-48.2h0m-15.2 39.3h0m-8.9 16.2h0m17.3-21.2h0m-4.4 6.7h0m19-40.3h0" stroke="#a9d0e5" stroke-width="1.44" stroke-linecap="round" fill="none"/>
<path d="M450.2 415.4h0m-15.1 8h0m32.1-38.3h0m-24.3-4h0m-10.2 53.3h0m29.9-46.7h0m-22.2-8.6h0m17.3 17.1h0m4.3 11.5h0m.4 9h0m-26.9 7.5h0" stroke="#d4e5f3" stroke-width="1.44" stroke-linecap="round" fill="none"/>
<path d="M474.1 395.9h0m-31.6 15h0m-2.1 11h0m-12.1 11.6h0m21.6-19.2h0m6.7 .1h0m-21 .8h0m26-.9h0m-12.4-16.1h0m-3.1 25.5h0m18.7-40.2h0m-13.2 16.5h0m-8.9-25.2h0m27.1 33.2h0m-19.4-.4h0m-10.5-29h0m22.2 5h0" stroke="#add1e6" stroke-width="1.44" stroke-linecap="round" fill="none"/>
<path d="M431.4 434.8h0m9.9-66.3h0" stroke="#2166a9" stroke-width="1.44" stroke-linecap="round" fill="none"/>
<path d="M451.4 401.1h0m7.5 16.6h0m7.1-24.1h0m-29.2 35.6h0m35.1-35.4h0m-15.8-10.3h0m12.6 2.8h0m-11.7 14.4h0m-4.2 1.6h0m-16.4 20.9h0m25-22.1h0m-18.1-31.5h0m3.3 53.6h0m1.7-47.6h0m21.4 24.9h0m-24.6 19.7h0m26.8-27.9h0m-15.3 16.1h0m-12.8-24.3h0m5.5-2.8h0m9.3 23.4h0m3.8-10.5h0m-.2 23.6h0m1.5-27.9h0m-9.4 19.6h0m12.8 3.7h0m-39.6 23.5h0m41.5-26.6h0m1.7-4.3h0m-25.8-20.3h0m9.5 24.9h0m-5.7-.3h0m15.7-2.4h0m-36.6 23.2h0m20.3-51.9h0m7.8 22.1h0m1.7-14.9h0" stroke="#d1e4f2" stroke-width="1.44" stroke-linecap="round" fill="none"/>
<path d="M469.2 388.6h0m-4.8 14h0m-11.7-6.6h0m-11.7-4.6h0m15.8 10.9h0m-13.5 21h0m22.4-32.9h0m-17.7 20.5h0m5.5-22.8h0m-5.4 34.6h0m-6.1-20.3h0m16.3-13.1h0m-2.1 .8h0m-8.1 22.6h0m-15.8 19.2h0m12.1-44h0m7.1 .4h0m-3.9-15.9h0m-19.8 53.9h0m19.9-21.8h0m24.3-1.2h0m-1.1-6.6h0m-29.4 28.7h0m7.6-40.8h0" stroke="#c9e0ef" stroke-width="1.44" stroke-linecap="round" fill="none"/>
<path d="M441.4 423h0m4-16.5h0m19.5-5.8h0m-18.7 25.1h0m6-11.2h0m5.5-10.2h0m-30.4 32.5h0m42.1-41.6h0m-32 33h0m20.3-27.2h0m-14.3-3.1h0m2 22.1h0m-14.6 19.4h0m1.5-18h0m12.8-10.6h0m13.3 4.5h0m-4-12.6h0m-12.5 26.3h0m2.4-8.4h0m-11.5 3.7h0m17-2.6h0m-9.1 5.6h0m-2.5-15.2h0m17-21h0m-28.2 32.9h0m8.2 2.4h0m-4.2 9.6h0m25.4-59.9h0m-12.8 .5h0m4 47.9h0m17.8-42.6h0" stroke="#dae9f5" stroke-width="1.44" stroke-linecap="round" fill="none"/>
<path d="M440.8 371.6h0m1.8 35h0m11.9-20.9h0m-2.5 16.3h0m8.1-26.4h0m1.7 7.5h0m-34 43.1h0m8.2-6.2h0m8.3-47.8h0m10.3-2.9h0m9.5 48.8h0" stroke="#9ac7df" stroke-width="1.44" stroke-linecap="round" fill="none"/>
<path d="M436.8 428.3h0m-7.1 10.7h0m8.5-26.1h0m5.3-42.1h0m13.8 32.8h0m7.9 2.4h0m-21.1-35.3h0m28.7 31.7h0m-42.4 35.1h0m16.9-11.2h0" stroke="#a7cfe4" stroke-width="1.44" stroke-linecap="round" fill="none"/>
<path d="M470.5 406.9h0m-28.5 5.1h0m20.6-34.8h0m-1.2 13.5h0m-2.3 9.5h0m2.1 8.2h0m-17.2-38.7h0m10.6 7.6h0m-13.4-3.6h0m10.2 29.6h0m3.6-29.9h0m2.8 5.5h0m-30.8 45.1h0m20 2.3h0m-8.5-2.4h0m20.5-46.3h0" stroke="#cee3f1" stroke-width="1.44" stroke-linecap="round" fill="none"/>
<path d="M441.2 369.4h0m2.3 6.8h0m-17.6 54.7h0m44.8-37.5h0" stroke="#a0cbe2" stroke-width="1.44" stroke-linecap="round" fill="none"/>
<path d="M458.7 394.2h0m1.1-8.6h0m-33.5 47.2h0m15-17h0" stroke="#a1cce2" stroke-width="1.44" stroke-linecap="round" fill="none"/>
<path d="M442.1 398.9h0m1.4 3.7h0m20.2-22h0m-19.6 48.3h0m2-22.6h0m5.3 10.5h0m-7.9 4.2h0m3.4-32.8h0m22.7 7.2h0m-25.7-19.2h0m10.9 22.9h0" stroke="#9cc8e0" stroke-width="1.44" stroke-linecap="round" fill="none"/>
<path d="M463.4 413h0m-5.6-2.2h0m-11.9-7.7h0m-17.2 20.5h0m28.9-32.2h0m11.1 8.5h0m-4.4 2h0m-16.6 9h0m-3.3 7.4h0m-9.4 16.5h0m10.3-54.8h0m13.8 38.2h0m-15.5-5.5h0m23.1-25.2h0m-21.7 3h0m3.8 33.7h0m-2.2-36h0m18.6 13.7h0m-25-26.9h0m-.8 49.3h0m14.3-1.4h0m-3.2-50.2h0m-6.2 10h0m29.1 18.8h0" stroke="#afd3e7" stroke-width="1.44" stroke-linecap="round" fill="none"/>
<path d="M472.3 397h0m-12.9-23.7h0m-17.9 54.4h0m16-10.8h0m-6.8-15.2h0m.9 20.4h0m3.2-12.7h0m-9.1-23h0m19.7 28.4h0m-20.6-36.8h0m14.9 32.8h0m-8.9 6.4h0m1.5-34.5h0m.5-3.5h0m-22.2 51.8h0m18.9-57h0m2 22.2h0m.2-16.1h0m-6.4-2.7h0m13.8 36.2h0m-28.9 14.6h0m11.7-26.9h0m22.4-6.6h0m-4.1-1.1h0m-14.1 9.1h0m10.1 5.7h0m12.4-18.1h0m-17.2-17.5h0" stroke="#b8d7ea" stroke-width="1.44" stroke-linecap="round" fill="none"/>
<path d="M453.5 372.4h0m-7.3 11.6h0m-11 52.5h0m8.2-35.3h0m18.9 5.3h0m-39.4 27.7h0m19.9-12.2h0m-19.7 9.1h0m15.6-10.9h0m-9.6 12.6h0m37.3-32.2h0m-9.9 18.8h0m-20.2 7.1h0m7.8-11.9h0m-2.8-42.9h0m15.6 13.5h0m12.9 5.8h0m-16.5 24.8h0m-10-15.8h0m9.3-5.3h0" stroke="#b3d4e8" stroke-width="1.44" stroke-linecap="round" fill="none"/>
<path d="M457 416.4h0m.6-5.2h0m9.4-18.9h0m-37.7 34.4h0m20.4-54h0m3.8 25.1h0m-2.5-27.5h0m-8.3 27.6h0m5.1-7.4h0m-7.1-11.7h0m28.4 28.3h0" stroke="#9cc9e0" stroke-width="1.44" stroke-linecap="round" fill="none"/>
<path d="M438.4 415.1h0m31.2-15.6h0m-28.8-21.4h0m10.4 30.2h0m-8.8-35.8h0m-8.1 43.6h0m15.1-2.8h0" stroke="#b1d3e7" stroke-width="1.44" stroke-linecap="round" fill="none"/>
<path d="M465.8 389.9h0" stroke="#3784bc" stroke-width="1.44" stroke-linecap="round" fill="none"/>
<path d="M443.6 370.3h0m-.4 50.9h0m19.1-19.9h0m8.6-10.6h0m-29.8-18.3h0" stroke="#dae8f5" stroke-width="1.44" stroke-linecap="round" fill="none"/>
<path d="M461.4 405.6h0m-20.9-24.8h0m27.4 4.4h0" stroke="#4b97c8" stroke-width="1.44" stroke-linecap="round" fill="none"/>
<path d="M463.7 393.1h0m-21.3-16.8h0m-2.1 10.7h0m13 28.1h0m1.3-22h0m8.1 8.5h0m-11.4 19.4h0m7.3-24.4h0m-12.2 20.5h0m-3.1 1.4h0m13.9-47.3h0m-3.3 15.1h0m7 2.9h0m3.2 15h0m-8.8-9.6h0m1.7 18.1h0m-11.9-45h0m-2.4 49.7h0m26.8-14h0m-13.2-13.1h0m15.7 10.8h0m-19-12.4h0m15.4 17.2h0m-13.1-15.5h0m5.8 17.8h0m-20.1 9.3h0" stroke="#d2e5f3" stroke-width="1.44" stroke-linecap="round" fill="none"/>
<path d="M432.5 423.3h0m15.8-15.8h0" stroke="#337eb9" stroke-width="1.44" stroke-linecap="round" fill="none"/>
<path d="M459.3 413.2h0" stroke="#3e8dc3" stroke-width="1.44" stroke-linecap="round" fill="none"/>
<path d="M441.5 410.5h0" stroke="#2a72b1" stroke-width="1.44" stroke-linecap="round" fill="none"/>
<path d="M461.3 405h0m-16.3 5.4h0m-5.9 4.5h0m11.6-41.4h0m11.4 8h0m-20.2-11.9h0m-3.1 64.1h0m-6.4-7.3h0m21.6-34.8h0m7.3 1h0m-15.5-14.1h0m-.4 40.6h0m-16.2 16.8h0m35-18.4h0m-10.7-34.4h0" stroke="#acd1e6" stroke-width="1.44" stroke-linecap="round" fill="none"/>
<path d="M447.5 412.9h0m-1.2-26.8h0m15.2-9.3h0m-28.1 50.4h0m-7.3 3.6h0m6.8-7.4h0m31.5-6.1h0m-21-44.2h0m-16.9 55.4h0m34.6-8.5h0m-29.9 12.3h0m2-5.1h0m26.3-30.2h0m-9.9 25.8h0m1-45.8h0m-7.9 18.5h0m5.8-6.8h0m24.5 7.8h0m-29.2 16.1h0m19.1-29.5h0m-9.9 11h0m-7.6 19.4h0" stroke="#cce2f1" stroke-width="1.44" stroke-linecap="round" fill="none"/>
<path d="M460.6 374.9h0m-2.8-3h0m11.1 21.8h0m2.1 5.2h0m-12.5 11.1h0m-7.1-34.9h0" stroke="#b7d6e9" stroke-width="1.44" stroke-linecap="round" fill="none"/>
<path d="M463.1 403.3h0m-9.5-2.2h0m.6 6.6h0m-3.5-10.3h0m-2.1 5h0m-7.5-6.4h0m7.5-1.7h0m13.8 7.7h0m-29 19.5h0" stroke="#c6dfef" stroke-width="1.44" stroke-linecap="round" fill="none"/>
<path d="M447.6 374.3h0m8.5 44.9h0m14-29.3h0" stroke="#327db8" stroke-width="1.44" stroke-linecap="round" fill="none"/>
<path d="M465.7 401.5h0" stroke="#4895c7" stroke-width="1.44" stroke-linecap="round" fill="none"/>
<path d="M442.8 424.6h0m12.8-48.8h0m10.1 22.2h0m-15.1 20.2h0m-7.4 8.5h0m19.9-12.7h0m2.9-9.7h0m-3.4 11.3h0m-14.3-47.7h0m-13.6 68.3h0m10.1-28.6h0m-15.1 24.9h0m21.3-43.9h0m-21.8 45.4h0m37.3-38.2h0" stroke="#c9e0f0" stroke-width="1.44" stroke-linecap="round" fill="none"/>
<path d="M448 408.2h0" stroke="#2267aa" stroke-width="1.44" stroke-linecap="round" fill="none"/>
<path d="M462.8 411.7h0m-21.3-27.4h0m-3.9 47.9h0" stroke="#95c4de" stroke-width="1.44" stroke-linecap="round" fill="none"/>
<path d="M449.4 420h0m18-29.6h0m-36.7 43.2h0m5-13.3h0m2.9 7.7h0m19.8-22.2h0" stroke="#b8d7e9" stroke-width="1.44" stroke-linecap="round" fill="none"/>
<path d="M449.2 366.9h0m9.7 16.8h0m-3.1 19.6h0m-8.1-6.8h0m6.8-24.6h0m-18.2 43.5h0" stroke="#97c5df" stroke-width="1.44" stroke-linecap="round" fill="none"/>
<path d="M459.9 403h0m-7.7-33.8h0" stroke="#4593c6" stroke-width="1.44" stroke-linecap="round" fill="none"/>
<path d="M466.2 383.2h0" stroke="#195ba2" stroke-width="1.44" stroke-linecap="round" fill="none"/>
<path d="M458 372.9h0" stroke="#1a5da3" stroke-width="1.44" stroke-linecap="round" fill="none"/>
<path d="M461.6 376.8h0" stroke="#1f63a8" stroke-width="1.44" stroke-linecap="round" fill="none"/>
<path d="M461.5 389.1h0" stroke="#3682bb" stroke-width="1.44" stroke-linecap="round" fill="none"/>
<path d="M463.8 394.5h0m-9.7-4.4h0m-17.6 27.6h0" stroke="#3885be" stroke-width="1.44" stroke-linecap="round" fill="none"/>
<path d="M441.5 410.1h0m15.7-4.3h0m-2.9 9.5h0m17.1-18h0m-43.7 36.7h0m34.1-15.9h0" stroke="#9ac8e0" stroke-width="1.44" stroke-linecap="round" fill="none"/>
<path d="M432.8 426.7h0m12.7-10.9h0m3.8-38.4h0m-25.2 54h0m48.6-30.7h0m-7.3-1.4h0m5.2 3.1h0m.7 1.9h0" stroke="#a6cee4" stroke-width="1.44" stroke-linecap="round" fill="none"/>
<path d="M442.3 394.8h0m-6.2 34.1h0m14.2-42.2h0" stroke="#9fcbe1" stroke-width="1.44" stroke-linecap="round" fill="none"/>
<path d="M467.9 390.6h0" stroke="#236aac" stroke-width="1.44" stroke-linecap="round" fill="none"/>
<path d="M447.5 370h0m-4.9 17h0m25.4 13.3h0m-17.4-25.2h0m15.9 35.5h0" stroke="#b2d4e7" stroke-width="1.44" stroke-linecap="round" fill="none"/>
<path d="M435.7 430.8h0" stroke="#3885bd" stroke-width="1.44" stroke-linecap="round" fill="none"/>
<path d="M443.9 402.6h0" stroke="#c0dced" stroke-width="1.44" stroke-linecap="round" fill="none"/>
<path d="M460.1 399.2h0m-16.9-31.4h0" stroke="#195ca3" stroke-width="1.44" stroke-linecap="round" fill="none"/>
<path d="M447.6 368h0m-5 21.8h0" stroke="#2369ab" stroke-width="1.44" stroke-linecap="round" fill="none"/>
<path d="M460.9 409.4h0" stroke="#2d76b4" stroke-width="1.44" stroke-linecap="round" fill="none"/>
<path d="M456.4 412.8h0m2.1-33.2h0m-2.4 32.5h0m-17.4 7h0m7.1-16.8h0m-2.9-16.3h0m17.3-3.4h0" stroke="#c4deee" stroke-width="1.44" stroke-linecap="round" fill="none"/>
<path d="M448.8 387.8h0" stroke="#3683bc" stroke-width="1.44" stroke-linecap="round" fill="none"/>
<path d="M449 372.2h0m-18.5 64.7h0m33.9-39.6h0" stroke="#b9d7ea" stroke-width="1.44" stroke-linecap="round" fill="none"/>
<path d="M465 403.7h0" stroke="#2d77b4" stroke-width="1.44" stroke-linecap="round" fill="none"/>
<path d="M432.6 418.7h0" stroke="#1e62a7" stroke-width="1.44" stroke-linecap="round" fill="none"/>
<path d="M473.2 402.3h0" stroke="#4e99c9" stroke-width="1.44" stroke-linecap="round" fill="none"/>
<path d="M428.6 438.4h0m-3.8 .3h0m48.4-45.5h0" stroke="#dbe9f5" stroke-width="1.44" stroke-linecap="round" fill="none"/>
<path d="M444.8 377h0" stroke="#4c98c9" stroke-width="1.44" stroke-linecap="round" fill="none"/>
<path d="M459.3 385h0" stroke="#4493c6" stroke-width="1.44" stroke-linecap="round" fill="none"/>
<path d="M470.8 406.9h0" stroke="#266eae" stroke-width="1.44" stroke-linecap="round" fill="none"/>
<path d="M428.7 432.6h0m-4.6 1.6h0" stroke="#99c6df" stroke-width="1.44" stroke-linecap="round" fill="none"/>
<path d="M460 397.2h0m3.5-4.9h0m-7.6-17.4h0m-1 6.8h0m-17.6 36.5h0m13.6-38.3h0" stroke="#c2dded" stroke-width="1.44" stroke-linecap="round" fill="none"/>
<path d="M472.3 392.1h0m-22.3 33.6h0" stroke="#4795c7" stroke-width="1.44" stroke-linecap="round" fill="none"/>
<path d="M453.5 370h0" stroke="#4a97c8" stroke-width="1.44" stroke-linecap="round" fill="none"/>
<path d="M435.7 418.2h0" stroke="#4d98c9" stroke-width="1.44" stroke-linecap="round" fill="none"/>
<path d="M464.9 416.6h0" stroke="#276eae" stroke-width="1.44" stroke-linecap="round" fill="none"/>
<path d="M442.5 423.4h0m12.3-41.8h0" stroke="#1c5fa5" stroke-width="1.44" stroke-linecap="round" fill="none"/>
<path d="M455.4 407.5h0" stroke="#4190c5" stroke-width="1.44" stroke-linecap="round" fill="none"/>
<path d="M465.9 408.7h0" stroke="#2065a9" stroke-width="1.44" stroke-linecap="round" fill="none"/>
<path d="M466.2 409.4h0" stroke="#276eaf" stroke-width="1.44" stroke-linecap="round" fill="none"/>
<path d="M448.5 420h0" stroke="#1b5fa5" stroke-width="1.44" stroke-linecap="round" fill="none"/>
<path d="M452.3 386.2h0" stroke="#2971b1" stroke-width="1.44" stroke-linecap="round" fill="none"/>
<path d="M466.7 385.6h0m-33.2 49.6h0" stroke="#1d61a6" stroke-width="1.44" stroke-linecap="round" fill="none"/>
<path d="M450.7 379.1h0" stroke="#2971b0" stroke-width="1.44" stroke-linecap="round" fill="none"/>
<path d="M443.5 420.2h0" stroke="#2d76b3" stroke-width="1.44" stroke-linecap="round" fill="none"/>
<path d="M471.3 394.6h0" stroke="#2f78b5" stroke-width="1.44" stroke-linecap="round" fill="none"/>
<path d="M448.2 369.1h0" stroke="#2167aa" stroke-width="1.44" stroke-linecap="round" fill="none"/>
<path d="M458.3 404.6h0" stroke="#4f9ac9" stroke-width="1.44" stroke-linecap="round" fill="none"/>
<path d="M463.2 390h0" stroke="#286faf" stroke-width="1.44" stroke-linecap="round" fill="none"/>
<path d="M451.5 406.1h0" stroke="#1f64a8" stroke-width="1.44" stroke-linecap="round" fill="none"/>
<path d="M459.3 412.4h0" stroke="#2b74b2" stroke-width="1.44" stroke-linecap="round" fill="none"/>
<path d="M437.8 431.8h0" stroke="#327cb8" stroke-width="1.44" stroke-linecap="round" fill="none"/>
<path d="M467.8 410.8h0" stroke="#266dae" stroke-width="1.44" stroke-linecap="round" fill="none"/>
<path d="M423.2 437.2h0" stroke="#4996c8" stroke-width="1.44" stroke-linecap="round" fill="none"/>
<path d="M425.7 438h0" stroke="#3580ba" stroke-width="1.44" stroke-linecap="round" fill="none"/>
<path d="M449.1 382.1h0" stroke="#3a88bf" stroke-width="1.44" stroke-linecap="round" fill="none"/>
<path d="M460.8,419 C467,418.5 473,418.5 479,417.5 L483,416.5" stroke="#6baed6" stroke-width="0.9" fill="none"/>
<path d="M493.1 414.6h0" stroke="#084694" stroke-width="1.30" stroke-linecap="round" fill="none"/>
<path d="M483.2 416.7h0m3.9 3.3h0m3.2 2.7h0" stroke="#1a5da3" stroke-width="1.30" stroke-linecap="round" fill="none"/>
<path d="M495.8 412.8h0m-7.9 1.1h0" stroke="#13549d" stroke-width="1.30" stroke-linecap="round" fill="none"/>
<path d="M486 418.8h0m4.2-4.7h0" stroke="#185aa1" stroke-width="1.30" stroke-linecap="round" fill="none"/>
<path d="M484.2 414.6h0m2.5 2.5h0m-1.4 .3h0m1-1.1h0m2-3.2h0m.9 .1h0" stroke="#0c4a97" stroke-width="1.30" stroke-linecap="round" fill="none"/>
<path d="M492.1 416.7h0" stroke="#2a73b2" stroke-width="1.30" stroke-linecap="round" fill="none"/>
<path d="M494.9 419h0m-2.8-4.9h0" stroke="#195ca3" stroke-width="1.30" stroke-linecap="round" fill="none"/>
<path d="M496.8 412.9h0m-6.8 .5h0" stroke="#1e62a7" stroke-width="1.30" stroke-linecap="round" fill="none"/>
<path d="M489.7 412.6h0" stroke="#317cb7" stroke-width="1.30" stroke-linecap="round" fill="none"/>
<path d="M491.4 416.2h0m2.4-.8h0" stroke="#236aac" stroke-width="1.30" stroke-linecap="round" fill="none"/>
<path d="M486.7 418.3h0m4.4-3.8h0m4.8-3.6h0m-.8 9.1h0m-.5 .1h0m-9.3 .1h0m5.6 1.8h0" stroke="#10509b" stroke-width="1.30" stroke-linecap="round" fill="none"/>
<path d="M486 413.7h0" stroke="#1557a0" stroke-width="1.30" stroke-linecap="round" fill="none"/>
<path d="M488.6 417.6h0m-2.6-6.8h0" stroke="#0b4a97" stroke-width="1.30" stroke-linecap="round" fill="none"/>
<path d="M492.4 419h0m3.5-7.4h0" stroke="#0f4f9a" stroke-width="1.30" stroke-linecap="round" fill="none"/>
<path d="M490.2 417.3h0m3.7-7.2h0m-7.8 7.5h0" stroke="#2e78b5" stroke-width="1.30" stroke-linecap="round" fill="none"/>
<path d="M497.6 414.6h0m-8.3-3.3h0m7.4 6.5h0m-11.1 2.3h0" stroke="#2f79b6" stroke-width="1.30" stroke-linecap="round" fill="none"/>
<path d="M490.3 418.8h0" stroke="#094694" stroke-width="1.30" stroke-linecap="round" fill="none"/>
<path d="M498.6 413.7h0" stroke="#2268ab" stroke-width="1.30" stroke-linecap="round" fill="none"/>
<path d="M487.9 414.5h0" stroke="#2267aa" stroke-width="1.30" stroke-linecap="round" fill="none"/>
<path d="M490.1 411.6h0m7.3 .3h0" stroke="#276eae" stroke-width="1.30" stroke-linecap="round" fill="none"/>
<path d="M491.8 421.1h0m-6.1-10.5h0m-.5 9.1h0m8.4-4.5h0m-4 .6h0m-3.1 .4h0m10.1-7.3h0m-8.9 10.6h0m10-8.9h0m-12 8.8h0" stroke="#0e4d99" stroke-width="1.30" stroke-linecap="round" fill="none"/>
<path d="M494.8 419.5h0m-8.6-8.9h0m2 9.2h0" stroke="#15569f" stroke-width="1.30" stroke-linecap="round" fill="none"/>
<path d="M490.8 412.5h0m.9 10.1h0m6.2-7.3h0m-5.9 6.9h0m4.6-9.9h0m-13.6 5.2h0" stroke="#0f4e9a" stroke-width="1.30" stroke-linecap="round" fill="none"/>
<path d="M496.2 417.6h0" stroke="#2b73b2" stroke-width="1.30" stroke-linecap="round" fill="none"/>
<path d="M487.5 413h0" stroke="#175aa1" stroke-width="1.30" stroke-linecap="round" fill="none"/>
<path d="M487.1 417.3h0" stroke="#1b5fa5" stroke-width="1.30" stroke-linecap="round" fill="none"/>
<path d="M498.1 412.5h0" stroke="#1657a0" stroke-width="1.30" stroke-linecap="round" fill="none"/>
<path d="M496.5 414.6h0m-12.7 1.4h0m14.1-4.8h0m-14.6 1.4h0m4.6 4.7h0m2.2 2.6h0" stroke="#1759a1" stroke-width="1.30" stroke-linecap="round" fill="none"/>
<path d="M487 410.7h0m7 2.8h0m-.9 5.9h0m4.3-7.2h0m-1.1 8.5h0m.6-10.1h0" stroke="#1658a0" stroke-width="1.30" stroke-linecap="round" fill="none"/>
<path d="M483.9 416.5h0m14.2 1.2h0m-10.9 4.1h0m-2.2-4.5h0" stroke="#276faf" stroke-width="1.30" stroke-linecap="round" fill="none"/>
<path d="M486.8 421.4h0m7.6-2.8h0" stroke="#1c60a5" stroke-width="1.30" stroke-linecap="round" fill="none"/>
<path d="M496.7 411h0m.1 6.8h0m1.3-9.2h0m-.1-.3h0m-4.1 13.3h0" stroke="#11519c" stroke-width="1.30" stroke-linecap="round" fill="none"/>
<path d="M489.5 417.5h0" stroke="#256cad" stroke-width="1.30" stroke-linecap="round" fill="none"/>
<path d="M490 413.4h0" stroke="#195ba2" stroke-width="1.30" stroke-linecap="round" fill="none"/>
<path d="M487.3 419.8h0m10.1-5.1h0" stroke="#2d76b4" stroke-width="1.30" stroke-linecap="round" fill="none"/>
<path d="M488.7 421.6h0m2.4 1.1h0" stroke="#266eae" stroke-width="1.30" stroke-linecap="round" fill="none"/>
<path d="M484.9 413.3h0m12-3.9h0m-5.6 5.1h0m-4.4 4.1h0m11.2 0h0m-.3-9.5h0m-9.9 9.9h0" stroke="#2a72b1" stroke-width="1.30" stroke-linecap="round" fill="none"/>
<path d="M488.2 410h0m8.9 9.8h0m.5-2.6h0m-9.8-6.8h0" stroke="#14559e" stroke-width="1.30" stroke-linecap="round" fill="none"/>
<path d="M491.3 410.9h0m-4.6 11h0" stroke="#0e4e99" stroke-width="1.30" stroke-linecap="round" fill="none"/>
<path d="M489.9 419.8h0m.8-6.9h0m-.4 3h0m-2.7 2.8h0" stroke="#2d77b4" stroke-width="1.30" stroke-linecap="round" fill="none"/>
<path d="M494 414.2h0m.6-2.7h0m-6.6-.4h0m7.2-1.3h0" stroke="#2971b0" stroke-width="1.30" stroke-linecap="round" fill="none"/>
<path d="M498.5 416.7h0" stroke="#317bb7" stroke-width="1.30" stroke-linecap="round" fill="none"/>
<path d="M491.2 410.2h0" stroke="#2c74b3" stroke-width="1.30" stroke-linecap="round" fill="none"/>
<path d="M494.4 414.4h0m-5.6-2.2h0m5.6 9.6h0" stroke="#307bb7" stroke-width="1.30" stroke-linecap="round" fill="none"/>
<path d="M484.5 418.5h0m4.5-7.7h0m3.9 12.2h0m5.2-8.5h0" stroke="#266dae" stroke-width="1.30" stroke-linecap="round" fill="none"/>
<path d="M492.3 418.8h0" stroke="#2065a8" stroke-width="1.30" stroke-linecap="round" fill="none"/>
<path d="M487.5 411.5h0m1.8 5.1h0m-2-5.9h0m5.5 9.9h0" stroke="#2167aa" stroke-width="1.30" stroke-linecap="round" fill="none"/>
<path d="M487.1 419.1h0m.8-1.3h0m-4.5 .2h0" stroke="#0d4c98" stroke-width="1.30" stroke-linecap="round" fill="none"/>
<path d="M490.9 419.5h0m-1.8 .8h0m-4.5-.2h0m8-8.5h0" stroke="#1d61a6" stroke-width="1.30" stroke-linecap="round" fill="none"/>
<path d="M495.3 413.1h0" stroke="#2066a9" stroke-width="1.30" stroke-linecap="round" fill="none"/>
<path d="M492 411.4h0m4.7 9.9h0m-.5-12h0m.6 10.9h0m-8.2-2.7h0m8.3-8h0" stroke="#2065a9" stroke-width="1.30" stroke-linecap="round" fill="none"/>
<path d="M498.5 417.5h0m-8-5.6h0" stroke="#2c75b3" stroke-width="1.30" stroke-linecap="round" fill="none"/>
<path d="M491.5 419.7h0m-.8-6.2h0" stroke="#1a5da4" stroke-width="1.30" stroke-linecap="round" fill="none"/>
<path d="M486.9 417.2h0m1.2 .5h0" stroke="#2f79b5" stroke-width="1.30" stroke-linecap="round" fill="none"/>
<path d="M488.8 413.3h0m9.1 3h0m-5.7-1.9h0" stroke="#276eaf" stroke-width="1.30" stroke-linecap="round" fill="none"/>
<path d="M487.6 422.2h0m7.2-2.4h0" stroke="#0b4996" stroke-width="1.30" stroke-linecap="round" fill="none"/>
<path d="M484.1 416.7h0m5.9 4.6h0m1.5-3.8h0" stroke="#2e77b4" stroke-width="1.30" stroke-linecap="round" fill="none"/>
<path d="M489.3 415.9h0" stroke="#2268aa" stroke-width="1.30" stroke-linecap="round" fill="none"/>
<path d="M490.4 413.9h0m7.1 5.9h0" stroke="#2b74b2" stroke-width="1.30" stroke-linecap="round" fill="none"/>
<path d="M490.4 416.9h0" stroke="#2166a9" stroke-width="1.30" stroke-linecap="round" fill="none"/>
<path d="M490.3 411.6h0m-3.8 .7h0" stroke="#0d4b98" stroke-width="1.30" stroke-linecap="round" fill="none"/>
<path d="M495.8 413.7h0" stroke="#094695" stroke-width="1.30" stroke-linecap="round" fill="none"/>
<path d="M483.9 416.3h0" stroke="#2971b1" stroke-width="1.30" stroke-linecap="round" fill="none"/>
<path d="M484 413.3h0" stroke="#1a5ca3" stroke-width="1.30" stroke-linecap="round" fill="none"/>
<path d="M491.9 409.7h0m-8.8 6.8h0" stroke="#13539d" stroke-width="1.30" stroke-linecap="round" fill="none"/>
<path d="M487.5 412h0m5.9 1.9h0m3.3 6h0m-11.8-8.8h0m12.8 2.7h0" stroke="#1b5ea4" stroke-width="1.30" stroke-linecap="round" fill="none"/>
<path d="M492.2 413.6h0" stroke="#246aac" stroke-width="1.30" stroke-linecap="round" fill="none"/>
<path d="M497 416.9h0m-4.9-2.2h0" stroke="#104f9b" stroke-width="1.30" stroke-linecap="round" fill="none"/>
<path d="M491.2 413.8h0m-1.1 4.6h0" stroke="#0a4795" stroke-width="1.30" stroke-linecap="round" fill="none"/>
<path d="M493.4 413.2h0" stroke="#2f7ab6" stroke-width="1.30" stroke-linecap="round" fill="none"/>
<path d="M494.2 410.6h0m-4.2 2.7h0m2 7.9h0" stroke="#1f64a8" stroke-width="1.30" stroke-linecap="round" fill="none"/>
<path d="M496.7 411.2h0m-1.7 6.7h0" stroke="#2a73b1" stroke-width="1.30" stroke-linecap="round" fill="none"/>
<path d="M497.6 419.3h0m-6.7-4.8h0m-2.5 7h0" stroke="#2870b0" stroke-width="1.30" stroke-linecap="round" fill="none"/>
<path d="M497.1 416.6h0" stroke="#185ba2" stroke-width="1.30" stroke-linecap="round" fill="none"/>
<path d="M491.3 413.7h0m5.4 6.1h0m-5.8-2.4h0" stroke="#084594" stroke-width="1.30" stroke-linecap="round" fill="none"/>
<path d="M492.3 423h0m-1.2-.9h0" stroke="#256bad" stroke-width="1.30" stroke-linecap="round" fill="none"/>
<path d="M492.9 415.6h0m-1.8-5.2h0m-1.8 5.8h0m-4.3 4.1h0m8.1-9.3h0" stroke="#094795" stroke-width="1.30" stroke-linecap="round" fill="none"/>
<path d="M487.1 419.7h0" stroke="#0a4896" stroke-width="1.30" stroke-linecap="round" fill="none"/>
<path d="M483.6 417.6h0" stroke="#307ab6" stroke-width="1.30" stroke-linecap="round" fill="none"/>
<path d="M490.8 412.2h0m-5.8 3.7h0m2.1-1h0" stroke="#2369ab" stroke-width="1.30" stroke-linecap="round" fill="none"/>
<path d="M485.5 413h0" stroke="#266dad" stroke-width="1.30" stroke-linecap="round" fill="none"/>
<path d="M488.1 415.4h0" stroke="#12539d" stroke-width="1.30" stroke-linecap="round" fill="none"/>
<path d="M484 418.5h0" stroke="#12529d" stroke-width="1.30" stroke-linecap="round" fill="none"/>
<path d="M496.9 410.4h0" stroke="#0c4b98" stroke-width="1.30" stroke-linecap="round" fill="none"/>
<path d="M485.1 420.2h0m8.5-9.9h0m2.2 7h0" stroke="#15579f" stroke-width="1.30" stroke-linecap="round" fill="none"/>
<path d="M494 418.1h0" stroke="#327db8" stroke-width="1.30" stroke-linecap="round" fill="none"/>
<path d="M490.9 414.6h0" stroke="#13549e" stroke-width="1.30" stroke-linecap="round" fill="none"/>
<path d="M494.2 416h0" stroke="#2368ab" stroke-width="1.30" stroke-linecap="round" fill="none"/>
<path d="M490.7 419.5h0" stroke="#12529c" stroke-width="1.30" stroke-linecap="round" fill="none"/>
<path d="M498.1 411.4h0" stroke="#1a5ea4" stroke-width="1.30" stroke-linecap="round" fill="none"/>
<path d="M492.8 419.4h0" stroke="#1e63a7" stroke-width="1.30" stroke-linecap="round" fill="none"/>
<path d="M342.4 508h0m24.1-15.2h0m-17.5 38.6h0m.1-25.5h0m3.1 19.3h0m20.9-20.4h0m-27-24.3h0m11.3-6.4h0m-2.8 24.5h0m-9 23.5h0m8.5-27.5h0m18 4.4h0m.3-.9h0m-.9 12h0m-5.1-5.9h0m-7.1 6.6h0m11.9-.4h0m-41.6 19.9h0m19.1-28.3h0m9.2 11.8h0m18.7-9.6h0m-22.1 21.6h0m-25 10.7h0m32.7-16.6h0m-19 5.3h0m24.9-19.9h0m-10-.2h0m-26.5 35.2h0m-.1-4h0m17.6-21.7h0m5-29.3h0m8.5 19.3h0m-17.9 12.8h0m-14.3 14.7h0m-5.9 6.5h0m40.2-50.2h0m-3.2 7.6h0m2.1-5.5h0m-11.5-14.3h0m-5.9 35.1h0m19.1 1.6h0m-27.3 10.9h0m-3 14.6h0m4.6-11.4h0m12.1-3.6h0m9.7-14.8h0m-2.6-23.3h0m3.1 18.4h0m-15.9 22.1h0m27.8-12.8h0m-24.5 0h0m13-5.7h0m-23.6 29.4h0m-10.5 3.7h0m22.5-56.6h0m18.3 18.4h0m-5.6-.4h0m-10.8 3.7h0m-7.3-.1h0m-1.4-7.2h0m9.1-10.8h0m7.9 23.6h0m-8.4-6.2h0m5.1-21.5h0m8.8 34h0m-19.1 .3h0m-6.5-34.8h0m19 18h0m-14.9 12.5h0m11.7-6.4h0m5.5-5.1h0m7.1 4.2h0m-22.6 10.6h0m-.8 16.2h0m5-24.9h0m-3.7-9h0m3.2 12.5h0m7.4-9.7h0m-1.3 6.9h0m0-34.3h0m-14.1 55.3h0m6.2-23.7h0m-.2-7.5h0m19.9 17.1h0m-23.5 19.9h0m2.1-5.4h0m-4-32.5h0m-15.1 32.9h0m43.2-30.9h0m-36.5 36h0m30.5-17h0m-3.7-34.7h0m-5.6 11.8h0m9.2 24.4h0m1.7-19.4h0m-36.4 25.7h0m27.9-11.4h0m6.8-18.2h0m-14.6 8h0m9.7 6.5h0m-8.9 11.6h0m-1.1-2.4h0m17.2-20.4h0m-17-6.2h0m-15.8 31h0m15.7-10.9h0m5.1-24.6h0m-1.7 14.6h0m-6.2-10.2h0m8.3 7.5h0m-2.1 27h0m9.7-6.2h0m-32 5.9h0m8.4-9.9h0m6.7 7.2h0m-22.1 12.5h0m26.2-63.4h0m-6 32.9h0m.1 26.6h0m-3.2-10.9h0m1.2-28.8h0m14.5 30.8h0m-33.3 15.2h0m40.6-19.4h0m6.7-20.3h0m-25.7-21.9h0m-4.3 59.2h0m7.8-34h0m-16.6 38.2h0m41-46.7h0m-17.9-6.8h0m-7.3 5.4h0m-1.5-19.2h0m-19.1 62.4h0m3-3.1h0m9.4-8.3h0m2-8.5h0m9 11.8h0m-12.6 10.8h0m.3-20.4h0m24.8-26.5h0m7.2 4.2h0m3.1-1.7h0m-10.4 21.1h0m-21.1-10.5h0m-4.7 15h0m3-3.3h0m-.8 16.1h0m9.2-29.8h0m-12.2 19.9h0m17.7-42.7h0m-5.4-4.6h0m-1.9 43.6h0m26.1-12.9h0m-16-6.9h0m14.2 10.2h0m-9.3-30.1h0m5.7 8.2h0m-8.1 11.6h0m3.5 6.1h0m9.2-4.1h0m-19.9-11.1h0m-20.5 35h0m2.1 7h0m13.4-49.7h0m6.6 32.6h0m-11.1 8.2h0m-8.9 2.6h0m26-23.8h0m6.9-15.8h0m-6.5 15.1h0m-16-22.9h0m-11.7 64.2h0m17.3-34.7h0m2.9 14.6h0m-.8-48.7h0m-1.2 23.7h0m10.1 12.2h0m1-1.4h0m-29.5 21h0m23.1-37.2h0m-1.4-19.9h0m11.6 35.1h0m-14.7-5.4h0m5.2-13h0m-2.7-11.1h0m8.8 38.2h0m6.7-21.1h0m-13.8-4.9h0m-26.5 52.7h0m23.9-15.8h0m-25.1 14.2h0m18.9-61.4h0m20 27.8h0m0-1h0m-7.6-4.9h0m-6.3-24.4h0m-8.2 1.7h0m5.2 24.8h0m4.7-15.4h0m-31.6 49h0m31.8-65.2h0m14.5 45.5h0m-31 14.4h0m6.6 1.7h0m28.9-27.6h0m-44.6 33.7h0m18.4-65.5h0m9.7 46.7h0m-17.7-4.9h0m17.6-41.6h0m-33.8 71h0m22.5-22.1h0m-6.2 6.4h0m9.6-56.2h0m16.3 14.5h0m-6.3 17.3h0m-.8 16.4h0m-13.2-19.5h0m16.3-8.2h0m-3.4 27.2h0m-11.5-42.8h0m-1.4 39.4h0m11.5 7.2h0m3.4-.7h0m-3.9-2.9h0m-.9-30.8h0m-2.7 3.6h0m16.5 6.7h0m-5.6-11h0m-13.2 37.6h0m15.9-42.5h0m-12.5-.9h0m6.4 39h0m14.9-24.8h0m-10.2 11.2h0m-20 13.1h0m-10 8.5h0m-10.1 1.9h0m21.2-4h0m-3.7-27.2h0m26.9 13.8h0m-25.8 18.5h0m10.4-49.3h0m-2.3 11.9h0m5.6 27.3h0m.9-47.9h0m-28 65.8h0m38.7-33.9h0m-24.7 12.6h0m-2.8-35h0m5.3 43.3h0m4.2-11.6h0m-25.8 29h0m21.6-36.7h0m9-1.6h0m-31.8 36.7h0m30.3-30.9h0m3.5-.2h0m2.7-29.8h0m-3.1 15.9h0m-10.2-15.2h0m-4-8h0m-17.2 67.9h0m33.6-29.7h0m-.5-30.7h0m-7 3.8h0m-5.3-4.6h0m-9.2 46.1h0m-14.2 9.1h0m35-60.8h0m3.2 20.8h0m-4.1-2.9h0m-3 29.7h0m-18.8 11h0m19.4-57.9h0m1 9.3h0m-7.9-12.9h0m25.6 34.1h0m-20.2 13h0m5-25h0m-11.4-6.7h0m8.8 9.4h0m-12.6 28.1h0m-.1-52.5h0m8.7 19.9h0m12.1 14.2h0m-7.4-22h0m-8.1 43.6h0m-6.6-8h0m6.6 6.4h0m22.8-36.9h0m-30.7 29.8h0m7-15.1h0m-.5 21.1h0m2.2-19.6h0m19.6-14.2h0m-17.8 15.2h0m2.3-37.7h0m4.2 4.4h0m3.5 30.4h0m-17.7-11h0m11.1 20.8h0m-2.2-13.7h0m-21.8 34.1h0m23.1-50h0m10-5.5h0m-4.8-2.2h0m-17.8 56.4h0m26.8-33.1h0m-43 35.5h0m29.2-25.1h0m-18.9 8.8h0m28.5-17.1h0m4.2-9.4h0m-23.5 25.3h0m-11.1 13.3h0m29.6-24.8h0m-12.5-28.6h0m.1 46.4h0m20.9-16.4h0m-15.8-18.6h0m8.7 16.2h0m-10.7 4.5h0m-7-14.3h0m20.9-13.1h0m-14.6 6.7h0m1.3 24.4h0m-2.2-17.1h0m-7.1 30h0m17.4-20.8h0m-30.6 33.8h0m9-24h0m20.4-12h0m-5.4 16.5h0m-8.7-14.8h0m16 14h0m1.2-19.3h0m-3.6 19.1h0m-26.6 8.4h0m30.1-12.7h0m6-4.9h0m-12.5 2.6h0m-9.5-32.4h0m-13.2 44.8h0m7.2-13h0m10.2 10.4h0m22.2-29.8h0m-26.8 1.6h0m6.7 13h0m12.3-25.6h0m-11.6-9.7h0m9.5 27.6h0m-15.5-27.1h0m-10.4 57.8h0m12.1-9h0m4.8-19.2h0m-11.8-26.8h0m19.8 41.4h0m-7.5-8.4h0m-2.9-4.1h0m-25.9 26.7h0m20.6-39.5h0m-24.1 48h0m27.6-63.6h0m2.3 37.1h0m-3.2 3.6h0m-4.7 6.9h0m-2.4-37.5h0m-1.4 36.8h0m-10.7 16.7h0m-7.4-3.6h0m23.9-15.9h0m2.4-46.5h0m20 17h0m-37.7 44.8h0m16.9-8.4h0m1.2-25.3h0m-23.5 32.1h0m19.6-31.5h0m10.4 7.5h0m16.5-4.7h0m-13.1-13.7h0m-.3-2.9h0m-10.7 18.1h0m-3.8 10.6h0m10.3-5.3h0m-9.3-23.3h0m13-4.8h0m-.5 18.7h0m11.2-11.7h0m-47 42.3h0m26.4-53.6h0m17.1 25.2h0m-21.7 17.7h0m17.3-44.3h0m3.4 25.9h0m-21.2-12.7h0m-2.3-16.4h0m23.4 34.8h0m-18.6-20.6h0m1.1-11.8h0m5.8 25.8h0m-4.4 16.2h0m7.8-47.8h0m5.6 8.1h0m-12.3 12.9h0m9.7 25.6h0m-9.6-6.5h0m-1.5-33.6h0m6.4 14.7h0m1.7 17.3h0m2.3-1.5h0m-13.6 5.4h0m6.7 9.2h0m-6.4 8h0m-1.2-4.3h0m-14.6 1.7h0m37.5-13.6h0m-22.4-3.4h0m-4.4 12.7h0m-6.2 7h0m7.2-45.9h0m7.6 32.4h0m12.2-16h0m-21.1 22.5h0m-3.7 12.7h0m32-51.5h0m-25 38.6h0m16-45h0m-17.4 24.7h0m-1.3 21.4h0m-7.3 6.5h0m25.2-40.6h0m-16.3 7.9h0m17.5 20.5h0m-16.1-2.2h0m31.6-18.5h0m-14.2 6.9h0m-30.9 30.3h0m24.5-21h0m-7.8-22h0m.3 20.6h0m-4.6-8.5h0m9.1-6h0m2.1 24.3h0m-16.2 9.2h0m-3.2-4.9h0m15.5-4.6h0m-22.3 6.3h0m16.4 2.4h0m-12.4 8.8h0m39.4-41.3h0m-23.3-8.2h0m14.8 29.4h0m-35.3 10.8h0m26.1-30.2h0m11.2-.6h0m3 5.4h0m7-3.9h0m-1.9 4.6h0m-15.4 6.1h0m-32.5 22.1h0m47-39.2h0m-47.4 43.8h0m28.1-43.7h0m3.9-1.6h0m.2-6.4h0m-.6 24.4h0m-2.8-9.4h0m-3.2-26.5h0m7.6-2.3h0m-26.3 60.8h0m19.5-31.3h0m9.7-3.3h0m-12.5 8.8h0m-17.6 23.6h0m30.3-31.2h0m-7.7-13.8h0m7.7 9h0m-22.4 19.7h0m4.2-15.2h0m10.1-21.2h0m2.4 17.3h0m9.6-9.9h0m-32.8 51.4h0m27.3-63.3h0m1 3.4h0m-7.1-3.3h0m-17.2 61.2h0m22.4-28.4h0m7.1 6.1h0m-12.3-38.7h0m11.4 40.8h0m-6.1-41.5h0m-10.3 8.3h0m5 40.8h0m-1.8-15.7h0m5.1-28.5h0m-6.9 3.9h0m8.5 7.9h0m-6.9 2.6h0m-6.4 4h0m10.3-2.1h0m-10 8.7h0m11.7-32.1h0m-17.6 61.3h0m-13.7 9.5h0m41.7-49.4h0m-12.7-5.7h0m7.1 34h0m5.2-38h0m-17.7 33.5h0m7.9-3.1h0m-16.8 20.3h0m34.2-32.4h0m-33.5 14.3h0m21.9-30h0m-17.8 8.6h0m-2.3-16.6h0m-11.2 49.9h0m12.2-18h0m17.6-7.7h0m-16.6-33.6h0m10.2 34.6h0m18.4-4.7h0m-23.9 15.4h0m13.5-6.5h0m-16.8 7.7h0m-5.1 7h0m1.4 1.8h0m20.9-39.1h0m-3.2 28.7h0m-16.9-10.6h0m-1.6-30.9h0m-18.9 61.5h0m5.5 .2h0m21.6-30h0m-21.6 26.5h0m34.3-53.8h0m-.2 12.5h0m-29.1 44h0m6.3 .7h0m10.5-16.1h0m-22 23h0m33.8-24.5h0m-31 15.4h0m18.9-34.5h0m13-2.8h0m-5.1 11h0m-14.4 14.6h0m15.4-35.7h0m9.8 32h0m-4.4-24.4h0m-20.9 26.7h0m-.9-36.6h0m3.9 18.3h0m12.5 11.4h0m-12.3-8.3h0m8.9-32.3h0m17.2 24.6h0m-36.7 28.8h0m-4.9 8.4h0m27.6-10.4h0m-35.9 18.5h0m13.2-20.2h0m-3.5 9.3h0m9.7-3h0m31.1-33.7h0m-30.9 39.7h0m10.2-65h0m-7.1 18.7h0m-7.2 49.5h0m20.4-42h0m-9 29.2h0m12-30.3h0m-1.5 5.6h0m-7 17.8h0m8.9 5.1h0m.9-27.1h0m7.3 11.9h0m-8 14.6h0m-9.5-30.8h0m-4.8 39.2h0m-13.7-8.4h0m19.7-2.3h0m-31.4 15.4h0m19.5-15.3h0m31.5-25.6h0m-44.7 46.2h0m9.4-4.8h0m34.5-37h0m-22.7-21.9h0m-3.9 6.4h0m6.7 14.4h0m-21.9 25.6h0m41.7-16.9h0m-25.8-8.5h0m-5.6 25.2h0m22.7-19.4h0m1.2-7.2h0m-5.7-12h0m-32.9 45.7h0m6.4-8.6h0m11.2-20.7h0m14.7-17.3h0m13.6 12.6h0m-18.2-6.5h0m-26.3 52.4h0m25-46.5h0m1.1 9.6h0m-9.1 15.4h0m5-47.8h0m-10.2 46.7h0m16.4 3.3h0m15.2-31h0m-26.5 2.2h0m-4.7 32.7h0m-.6 10h0m15.3-51.9h0m-10.6 41h0m9.3-21.7h0m-6.9-10h0m16.7-11.2h0m-25 33.6h0m36-12.6h0m-22.2 14.7h0m-26.3 15.6h0m3.7-4.7h0m27-51.7h0m-5.1 2.7h0m7.3 22.7h0m5.9-14.1h0m-6.5-6.9h0m-6.9 31.3h0m-20.8 24.2h0m42.6-44.2h0m-21.4-13.8h0m-21.5 44.7h0m21.7-38.1h0m-22.9 41.8h0m18.6-55.6h0m-24.4 63.9h0m40.8-32.8h0m-6.3 5.3h0m-17.8 19.3h0m9.2-28.9h0m2.7-9.1h0m8.5 12.1h0m-18.5 11.4h0m-.4-34.2h0m22.4-.3h0m-24.7 51.2h0m15.9-57.5h0m-4.5 52.6h0m16.3-23.6h0m2.3 1h0m-22.7-31.4h0m-2.2 8.7h0m-15.7 52.1h0m16.4-39.3h0m10.3 7.2h0m-2.3 5.8h0m-20.9 17.3h0m15.2-13.8h0m6-29.2h0m-14.4 56.1h0m14.4-22.8h0m-25.6 28.6h0m20.4-64.5h0m11.5-4.1h0m-11 6.2h0m3.4 31.9h0m20.2-4.5h0m-8.6 2.5h0m-14.5-27.2h0m-2.2 33.9h0m-1.6-14.9h0m-2.4 4.5h0m1.3-19.8h0m-14.6 40.4h0m37.7-7.6h0m-6.3-17.1h0m-8.1-5.1h0m-6.4-5h0m-13.7 48.7h0m35-31h0m-20.7-7.1h0m.8-22.5h0m-24.4 59.9h0m47-28.7h0m-14.8-29.9h0m-32.3 51.8h0m27.7-22.2h0m16.9 5.3h0m-36.2 8.2h0m35.1-29.4h0m-10.5 4.7h0m-5.5-27h0m11.3 44.4h0m2.1-12.2h0m-8.9-6.9h0m-6.3 27.6h0m9.8-34h0m-22.4 28.7h0m22.3-15.4h0m-.9 16.7h0m6.3-37h0m-5.3 17.1h0m4.7-4.8h0m6.6-3.7h0m-20.2 21.8h0m13.1 3.6h0m-7.5-22.7h0m1.5 4.7h0m-10.2 27.5h0m14.8-10.7h0m-6-7.6h0m3.8-21h0m-27.5 45h0m21.7-7.3h0m-13.3 2.2h0m-9.5 10.3h0m28.2-56.9h0m10.2 34.7h0m2.7-6.8h0m-2.5-1.4h0m-18.4-14.4h0m22 12.1h0m-12.3 12.9h0m-.4-32.4h0m9.4 2.2h0m-23.6 14.6h0m-3.3 5.7h0m30.1-16.2h0m-17.2 27.7h0m-4.7-40.6h0m-18.2 56h0m10.5-62.1h0m13-2.4h0m-7.2 56.2h0m19-32h0m5.6 1.5h0m-22.8 8.2h0m17.4-12.6h0m-14.2 8.2h0m-2.6-29.4h0m-18.6 63.2h0m24-29.5h0m-.4-10.6h0m-6-8.2h0m23.1 23.8h0m-26.2-30.9h0m24 25.5h0m-13.7-33.7h0m-13 4.7h0m6.5 49.3h0m21.4-29.6h0m-22.5 27.6h0m10.2-36.3h0m8.4 29.9h0m-10.7-17.8h0m9.6 13.7h0m4.8-20h0m-8.4 22.2h0m.4 .1h0m-15.8-35.2h0m-3.1 18.3h0m-.3 18.6h0m-21.9 26.9h0m31.9-71.3h0m-2.6 19h0m5.5 13.9h0m-8-32.5h0m3.9 37.7h0m-7.8 7.5h0m7.5-28.9h0m-12.4 .4h0m-8.1 43.1h0m14.7-5.9h0m5.1-15.5h0m-17.3 15h0m21.6-41.2h0m9.8 6.7h0m.1 16.3h0m-7.1-.4h0m-15.1-23.3h0m1.9 27.7h0m17-17.5h0m3 2.7h0m-15.6-2.5h0m12.8 4.3h0m-18.4-19.4h0m24.6 23.5h0m-26.8-24.1h0m13.4 21.2h0m-13.6 14.3h0m2.7 16.6h0m13.4-44.6h0m-4-16h0m20.9 35.2h0m-19.3 13.4h0m-28 13h0m22.5-34.2h0m10.4 14.8h0m6-13.5h0m-25.8-10.4h0m18.8 5.8h0m3.4 5.8h0m-5.4-23h0m.3 17.4h0m-7.5 23.1h0m6.6 .8h0m-14.8-27.2h0m25.5 9.6h0m-5.1 1.6h0m-20.7-15.6h0m24.7 2.9h0m-11.4 17.2h0m-27 22.6h0m17.3-25.4h0m-3.5-31.2h0m21.9 34.3h0m-19.4-25h0m5.6 12.4h0m-4.8 18.7h0m10.3 8.7h0m-28.5 5.8h0m28.3-29.2h0m-.8-19.1h0m-13.2 4.7h0m1.5-8.1h0m4.9 19.9h0m4.7 29h0m-29.6 6.3h0m46.9-22.2h0m-35.4 24.1h0m3-6.2h0m8.1-21.9h0m21-20h0m-13.3 37.3h0m6.6-17.3h0m-3 18h0m17.8-17h0m-23.4-14.3h0m18.9 19.3h0m-10.3-14.6h0m13.2-1.6h0m-28.7 2.1h0m-1.4 16.3h0m20.8-32.4h0m-19.1 38.5h0m11-35.1h0m9.4 29.8h0m1.2-29.1h0m-2 25.2h0m-15.9-22.3h0m1.6 14.2h0m-7.3 3.4h0m18.2 3.9h0m-14.3-8.4h0m6.7-.3h0m-22.2 32.4h0m12.1-42.8h0m9.2 5.7h0m1-15.6h0m-10.3 36.6h0m-8.4 11.6h0m11.9-19.7h0m.9-34.2h0m-23 54h0m12.1 8.8h0m-1.4-17h0m21.5-4.2h0m-10.9 9.2h0m-.4 4.9h0m-16.7 4.4h0m33.2-25.9h0m-17.1-6.3h0m9.1 6.4h0m6.9-14.7h0m6.8 5.9h0m-33.9 34.1h0m15.2-13.7h0m-20.3 15.4h0m33.7-24.4h0m-10.3-8.7h0m6.2-21.6h0m-12.6-10.2h0m27.4 26.4h0m-25.5 .2h0m4.7-19.4h0m2-7.3h0m-9.3 3.8h0m1.1 33.9h0m10.4-25.5h0m18.4 12.1h0m0 3.1h0m-8.3 16.4h0m-18.6-14.6h0m3.6 12.1h0m2.5-7.5h0m13.2-10.3h0m-25.6-23.2h0m28.4 31.9h0m-23.8-3.7h0m3.2 2.4h0m-24.4 35h0m15.3-55.2h0m31 14.2h0m-8.7 10.7h0m-13.8 15.3h0m-4.9-5.7h0m2.7-35.5h0m2.9 46.2h0m-3.8-43.4h0m7.8-14.3h0m-15.6 49h0m27.7-35.1h0m-30.6 52.5h0m32.7-36.4h0m-2 8.7h0m-36.6 23h0m15.3-49.3h0m29.1 25.9h0m-25.6 13.3h0m12.8-30.6h0m-8.4-.4h0m-2.6 25.5h0m17.7-13.5h0m4.8 .8h0m-11.1-15.2h0m-10.9-6.6h0m5.2 18.8h0m-29.6 26.9h0m41.1-14.3h0m-26.7 7.1h0m-18 16.9h0m36.6-50.8h0m7.7 2.8h0m-5.9-4.9h0m6.2 17.7h0m-20-25.2h0m-5.4 28.1h0m-17.6 30.1h0m44.2-24.8h0m-4 2.2h0m-16.5-18.3h0m24.9 5.9h0m1 7.8h0m-47.9 27.4h0m44.7-42.6h0m-7.4 6.4h0m.3-12.6h0m-21.9 7h0m10.1 29.9h0m14.5-5.6h0m-6.5 1.8h0m-16.1-10.4h0m-13.2 16h0m32.1-44.5h0m6 11.5h0m-33 38.2h0m1.8-9h0m29.9-17h0m-13.6-16.7h0m-10.7 28.6h0m18.3-5.1h0m7.3-7.4h0m-1.1-13h0m-5.3 20.2h0m-7.4-17.4h0m-5.7 14h0m1.1 4.3h0m7.6-31.8h0m-6.8-1.9h0m6.9 13h0m-11.7 35.5h0m14.3-8.6h0m-5-1.8h0m-2.8-8.1h0m-20.9 23.7h0m36.4-41.8h0m-24.9-.5h0m-16 41.5h0m15.3-37h0m4.5 12h0m-22.4 31.2h0m4 .7h0m39.5-47.5h0m.8-1.8h0m-20.1-10.9h0m-4.1 51.3h0m-4.6-3.3h0m10.6-29.6h0m-25.8 46.2h0m19.5-47.3h0m-13.2 45.5h0m-4.5-3.2h0m33.6-46.8h0m-24.5 45.2h0m8.4-37.7h0m6.6 3.4h0m2.3-21.6h0m18.7 14.7h0m-2.7 16.6h0m-39.9 30.3h0m30.8-60.8h0m-22.9 37.2h0m16.5-10.3h0m-8.8-15.4h0m-14.3 50.7h0m34-52.5h0m-7.7-8.2h0m-8.5 45.6h0m-8.9 4.5h0m28.6-23.8h0m-43.7 21.6h0m10.9-7.6h0m1.2-4.4h0m31.2-28.5h0m-25.6 27.6h0m11.2-10.7h0m-.5 17.7h0m12.6-17.3h0m-18-16.1h0m0 39.1h0m-3.3-.7h0m5.9-56.7h0m0 24h0m7.1 12.7h0m-15.2 22.1h0m.1-14.5h0m20.7-32.2h0m-17.7 0h0m-6.5 51.1h0m25-31.2h0m-25.7 25.6h0m5.5-41.9h0m20 31.3h0m-28.9 14.9h0m11.2-17.6h0m17.7-27h0m-8-1.4h0m-9.1-.8h0m-4.6 41.7h0m2.5-7h0m22.9-16.9h0m-12.2 5.2h0m-18.1 26.2h0m20.1-27.5h0m-26.3 15h0m20.5 .9h0m9-35.2h0m-6.6-1.9h0m-31.4 51.5h0m11.8 .8h0m33.4-23.4h0m-7.9-2.5h0m-16 17h0m-12-5.2h0m19.4-36.8h0m10.4-13.1h0m2.6 4.7h0m-21.8 18.1h0m-15.9 34.4h0m27.8-22.3h0m-10.4 16.7h0m-4.8 .4h0m15.3-21.4h0m-2.6 4.2h0m-9.8-9.4h0m-5.3 27.2h0m36.2-26.4h0m-44.3 41.4h0m23.6-71.3h0m-1.8 40.4h0m-4.1-28.8h0m11.6-4.2h0m16.4 23.6h0m-22.7 22.5h0m-14.3 8h0m29.1-17.5h0m-7.9-2.3h0m-2.3-5.2h0m6-5.9h0m-3.4 14h0m-27.7 13.4h0m6.9-10.6h0m7.2 6h0m18.4-31.8h0m-3.2-16.6h0m-11.7 22.5h0m-2.8-9.1h0m-1.9-8.3h0m4.6 22.4h0m-12.4 34.4h0m7.4-50.6h0m7.4 39.8h0m-19.5 9.3h0m40-40.3h0m-21.6-14.3h0m-5.8-2.8h0m6.3-4.9h0m-6.6 25.3h0m24.8-13.7h0m-1.8 31.1h0m-28.5 10.4h0m18.6-49.2h0m-2.1 10.1h0m-18.9 37.1h0m25.5-49.9h0m-7.3 49.8h0m17-24.7h0m-48 33.1h0m52.1-33.2h0m-17.8 17.4h0m1.3-44.5h0m-19.6 45.3h0m24.2-30h0m-13.6-10.8h0m-9 50.6h0m23.5-44.2h0m-31.4 41.2h0m21.9-10.8h0m-3.4 11.6h0m10.4-28.6h0m2.4 8.6h0m-16.4-27.4h0m-2.8-9.6h0m7.5 24.8h0m-10.8 20.4h0m8.1-2.6h0m-23.5 15.3h0m24.1-37.9h0m12.7 12.9h0m-8.3-15.8h0m-9.6-.2h0m-19.8 49.9h0m19.6-7.9h0m18.7-47.9h0m-3.1 13.4h0m-34.1 34.2h0m17.2-42.7h0m15.7 25.8h0m-8.7 12.1h0m18.6-23.6h0m-40.4 34.8h0m19.1-48.6h0m-5.2-.8h0m3.7 41.5h0m11.1-49.6h0m-15.4-5.5h0m32.5 31.6h0m-25-10.7h0m12.7-13.3h0m-13.7-9.4h0m-11.9 61.9h0m23.5-52.2h0m6.6 10.7h0m-12.4-1.6h0m7.7 19.2h0m10.7 .2h0m-30.4-29.7h0m29.8 20.1h0m-14.6 17.6h0m-11.4-25.7h0m10.9-.8h0m9.7 30.4h0m-21.4-22.7h0m2.3 32.1h0m11.5-55.2h0m-1.6 25.1h0m-20.3 17.1h0m24.5-21.7h0m-24.7 27.1h0m34.7-17h0m-29.5 10.8h0m.9-2.8h0m26-26.9h0m2.2 25.4h0m-15.4-40.8h0m-15.6 62.3h0m27.7-40.4h0m-23.2 15.7h0m18.4-15.1h0m-21.4 31.5h0m7.1-26.5h0m-.2-4.6h0m-1.7-5.8h0m1.5 17.1h0m-5.2 15.5h0m7.9 4.1h0m-8.4-10.7h0m14.5-27.9h0m-.1 24.1h0m-12.4 15.9h0m10.4-45h0m-11.6 38.3h0m27.9-20.3h0m-1.9 10.3h0m-7.6-17.2h0m7.6-3.1h0m-4.3 20.3h0m.2-23.3h0m-10-.4h0m1.6 14.6h0m12.1-13.1h0m-22.3-13.4h0m26.3 20.5h0m-25.1-20.4h0m3.2 9.8h0m-7.8 2.2h0m11 11.6h0m-5.1 30.7h0m3.4-17.3h0m8.1-25.9h0m-35.2 44.1h0m24.1-28.2h0m-11.9 24.8h0m14.6-39.6h0m13.5-3.2h0m-31.3 38.1h0m10.2-7.7h0m-22.3 29.1h0m45.1-35.9h0m-25.4-21h0m-12.3 52.5h0m35.9-29.5h0m-35.8 33.2h0m14.3-22.3h0m4.6-20.2h0m8.9-3.9h0m6.8 4.2h0m-33.8 41.8h0m32.3-53.1h0m-18.3 23.1h0m-22.6 24.7h0m15.1-11.2h0m30.3-13h0m-8-.2h0m-14.9 13.7h0m4.8-6.3h0m9.9 .9h0m-26.9 11.5h0m23.6-39h0m14.9 3.9h0m-36.3 27.1h0m12.5-33.9h0m10.2 25.7h0m-2.1 2.3h0m-4.2 2.1h0m-5.8 7.7h0m4.2-54.1h0m.5 17.1h0m-9.2-11.1h0m-7.1 58.6h0m41.5-40.8h0m-51.7 34.7h0m33.2-25.4h0m4.3-22.5h0m-15.7 13.2h0m6.7 9.6h0m-23.9 21.7h0m16.4-10.1h0m5.3-24h0m22.7 11.7h0m-5.3-3.6h0m-20.6 29.1h0m10.4-28.6h0m-20.5 21.1h0m22.7-30.9h0m-30 32.2h0m39.3-16.2h0m-5.5-7.4h0m-15.3 20.8h0m12 1h0m-11.9-44.2h0m3.4 41.5h0m1.1-42.7h0m-12.4 48.4h0m5.7-42.1h0m5.8 26.2h0m.7 7.9h0m-5.1 10.8h0m-2.1 2h0m-18.2 2.4h0m16.2-19.3h0m3-20.2h0m-13 33.8h0m35.3-25.6h0m-29.1 24.8h0m-13.3 9.6h0m21.1-64.5h0m1.9 32.6h0m-11.9 32.6h0m17.2-38.4h0m-4.4 19.2h0m1.3 5.4h0m20.7-33h0m4.1 15.3h0m-28.1 20.5h0m.9-48.5h0m-17 49.7h0m11.5-19.9h0m9.9 13.1h0m-23.1 20.8h0m-1-13.5h0m26-46.1h0m16.5 9h0m-48 46h0m26.3-43.8h0m4.9-22.5h0m8.9 50h0m-11.9-19.9h0m-25.5 26.6h0m20.5-23.6h0m-4.1-14.8h0m21.7-2.6h0m2.4 31.4h0m-30.8 18.8h0m6.6-45.8h0m-5.2 28.6h0m16.1 2.8h0m-14.6 5.5h0m-6.3 10.3h0m6-16.9h0m13.8-14.9h0m2.4-27.2h0m-27.3 47.7h0m47.1-17.8h0m-38.7 12.4h0m36.6-10.9h0m-48.4 21.7h0m32.8-13h0m-25.8 16.2h0m4-16.3h0m11.7-34.2h0m29.8 13.5h0m-30.7-25.9h0m29 27.9h0m-15.3-8.8h0m-13.9 32.7h0m16.6-47.2h0m3.4 36h0m-21.9-9.8h0m1.8 10.7h0m-.4 5h0m25.2-26.2h0m-5.3 24.5h0m-25 2.2h0m29.7-31.2h0m-21.4-12.1h0m26.8 20.5h0m-21.1-15.9h0m15.8 29.6h0m-9-13.7h0m-34.2 35h0m43.7-43.5h0m-27.3 15h0m23.8-13.8h0m-14.3-14.6h0m5.7-2.6h0m-4.4 43.1h0m-15.4 9.3h0m7.2-52.3h0m10.1 17.2h0m-9.5 16.6h0m3.3 13.2h0m-.1-24.9h0m9.8-4.6h0m7.2 .2h0m-25.4-11.3h0m8.4 48.1h0m7.5-9.1h0m1-5.4h0m-5.2-14h0m-14.5 35.3h0m21.2-35.3h0m-.7-9.4h0m-6.4-15.3h0m-4.8 46.9h0m12.6-21h0m-15.4 25.5h0m-13.2 16.1h0m26.7-46.8h0m.2 12.5h0m8.9-14.8h0m-30.9 45.2h0m32.4-32.2h0m-39.8 22.2h0m17.5-35.7h0m-1.2 1.8h0m2-10.6h0m20.3 33.6h0m-34.6 10.9h0m12.7 4.9h0m23.4-35.6h0m-18.8 2.1h0m-5.3 27.7h0m1 4.9h0m1.3-10.5h0m23.8-30.8h0m-22.1 25.7h0m13.7-26.9h0m-1.9 3.4h0m5.9 1.4h0m-24.1-5.7h0m31 7h0m-27.9 31.2h0m28.6-19.7h0m-22.1-24.6h0m-1.4 19.6h0m.8 .1h0m6.4-16.8h0m-22.8 46.2h0m9-9.5h0m-6.6 1.9h0m7.8-22.3h0m-2.4 25h0m26.1-30.4h0m-29.4 38.1h0m13.7-17.5h0m2.9-6.9h0m10.9-18.1h0m-43.9 41.4h0m37.6-44.9h0m-5.9-8.5h0m-4.7 45.3h0m2.4-23.3h0m-19 38.8h0m34.6-33.7h0m-33.7 30.4h0m30.2-36h0m-41.7 38.8h0m30.5-44.7h0m-4.5 13.9h0m-1-26h0m12.2 35.6h0m-7.5-43.6h0m13.7 42.6h0m-42.9 26.2h0m24.4-15.5h0m18.6-23h0m-6.5-24.9h0m-11.5 .7h0m7.3 40.7h0m-1.7 3.1h0m-9.7-52.7h0m20.4 39.7h0m5.9-21.2h0m-26.2-7.8h0m-2.6 48.2h0m31.6-35.2h0m-11.5-10h0m-12.3 40.1h0m10.8-44.8h0m3.2 5.2h0m6 8.6h0m-17.2-17.1h0m-11 34.6h0m-16.8 17.7h0m24.9-36.3h0m17.1 10.9h0m7-10.8h0m-38.2 42.5h0m29.4-32.4h0m-3.1 14.3h0m8.1-10.4h0m-4.1 7.8h0m-10.8-8h0m-5.4-3.5h0m6.2-29.5h0m-32.5 60.1h0m17.9-52.2h0m27.5 30.8h0m-8.7-18h0m3.8-1.4h0m3.9-4.5h0m-21.4-3.7h0m8.3 2.1h0m8.6 20.4h0m-20.8 23.8h0m-4.2 1.2h0m20.5-47.7h0m9.8 5.2h0m-38 43.3h0m23.5-16.4h0m-25.8 20.2h0m37.6-25.6h0m.8-14.4h0m-28.2 23.2h0m9.8-46.5h0m18.7 21.2h0m.5-5.7h0m-4 1.5h0m-9 4.5h0m-5.3-5.8h0m-3.4-4.5h0m-11 40.6h0m37-34h0m-48.5 47.7h0m39.1-41.7h0m-11.2 19.4h0m-5.6-39.9h0m4.6 14.2h0m-1.3 30.8h0m24.4-24.2h0m-48.8 31.8h0m.9 10.6h0m31-32.4h0m-12.3-19.8h0m2.6 37.2h0m8-40.7h0m3.8-7.1h0m-30.5 50.8h0m31.1-30.8h0m11.7 14.4h0m-1.5-6.2h0m-26 3h0m16.1-3.9h0m8-5.1h0m-17.4 10.9h0m-14.2 24.1h0m18.6-20.3h0m7.3-23.3h0m-22.7 44.8h0m27.4-17h0m-14.2-27.4h0m12.2 17.9h0m-7.4-7.7h0m-14.9 16h0m-3 12.1h0m25.6-21.8h0m-24.1 21.1h0m-8.9 8.8h0m17.6-38.5h0m.5-21.8h0m12.5 30.3h0m-3.5 .4h0m-7.6-2.6h0m16.3 1.1h0m-21.6 5.4h0m18.2-30.8h0m-18.6 6.5h0m4 2.5h0m10.8-13h0m-15.3 48.7h0m-8.4 8.8h0m6.6-43.7h0m6.6-18.8h0m12.6 34.4h0m-19 3.2h0m21-7.1h0m-15.8-.2h0m2 17.6h0m0-14.8h0m-2.9-32.5h0m-.5 13h0m-.8 34.1h0m-8.5-.4h0m23.1-24.1h0m2.9 9.7h0m4 6.5h0m-20.6-11.1h0m15.2-23.3h0m1.7 22.5h0m-8.2 16.2h0m13.6-6.9h0m2.4-9.6h0m-24 4.2h0m-4.7 15.8h0m19.9-31.4h0m-26.5 34.1h0m5.4-19.8h0m19.9 18.6h0m-37.2 16.8h0m29.2-42.9h0m-27.9 49.1h0m43.3-50.7h0m-29.2 20.6h0m-1.2 17.1h0m11.8-12h0m8.4 2.9h0m15.9-13.7h0m-21-31.6h0m-.8 49.3h0m1-4.9h0m2.6-29.4h0m-34.3 45.2h0m36.8-49.6h0m-29.5 49.2h0m17.2-19.2h0m20.7-31.6h0m-11.9-6.2h0m-27.8 47.1h0m36.1-24.7h0m-23 25.7h0m1.9-3.2h0m-10.2 14.2h0m32.9-48.9h0m-15.1 1.4h0m-8.7 30.1h0m17.9 .2h0m7.4-14.9h0m-18.3-33.5h0m-3.3 35.8h0m-5.8 14.8h0m5.3-47.9h0m25.9 27.4h0m-1.5-2.2h0m-12.4-17.6h0m-7.7 14.4h0m-22 44.2h0m23.9-57.9h0m1.3-1.6h0m14.8 20.5h0m-29 29.6h0m-10.3 2.1h0m21.3-38.4h0m-3.7 2.2h0m8.2 16.9h0m18.5-5.3h0m-8.1-1h0m-8.5-32.4h0m16.6 24.9h0m-7.1-20.1h0m-24.5 43.6h0m-.5-2h0m20.7-19.2h0m2.3-6.7h0m7.6-7.2h0m-3.4 24.2h0m-13 11.4h0m-7.1-15.2h0m16.8-20.8h0m-13.2 18.5h0m-2.6-36.2h0m-26 71.3h0m14.6-10.1h0m4-20.9h0m-3.1 5h0m13.4-41.6h0m-20.2 62.5h0m19.4-41.8h0m13-17.3h0m-25.5 41.6h0m25.8-22.4h0m-4.1 14.3h0m-7.3-15.1h0m-19 41.4h0m23.3-43h0m-27.3 35.9h0m26.5-42.6h0m15.7 5.1h0m-4.9-4.3h0m-28.6 45.3h0m35.8-41.3h0m-13.5-4.4h0m.1 11.6h0m-30.9 28.8h0m19.4-24.1h0m9.3-10.3h0m-16.7 20.1h0m-13.3 13.9h0m34.2-12.1h0m-9.4-38.8h0m-8.7 29.4h0m-12.5 25.9h0m17.9-21.4h0m2.1-30.9h0m-4.8-11.6h0m5.4 26.1h0m-26.9 41.6h0m37-45h0m-11.3 12.2h0m19.2 7.4h0m-5.4 3.8h0m-5.9-14.4h0m-6-13h0m-8.7 29.4h0m-6.2-.1h0m17.4-26.1h0m-1.3-6.2h0m-13.3-5.9h0m-13.8 64.1h0m38.6-51h0m-17.1 13.6h0m24.7 1.8h0m-25.5 21.4h0m-24.7 2.5h0m38.4-30.8h0m-38.1 38h0m17-54.9h0m-14.9 53.1h0m35.6-49h0m9.5 12.8h0m-37.1 35.7h0m13.8-43.1h0m11.6 14.6h0m-15.1-24.3h0m18-4.1h0m-19.7 1.1h0m3.4-2.5h0m-2 .5h0m19.4 19.9h0m9.8 9.1h0m-16.6 10.7h0m-26.3 18.6h0m36.1-29.5h0m-23.8 14.8h0m19.4-5.3h0m-9.5-7.9h0m-3.8-4.1h0m-23.8 39.4h0m39.1-51.9h0m-4.4 2.3h0m3.6 22.8h0m-22.9-1.9h0m14.2-42h0m-11.4 35.2h0m19.8 4.1h0m-3.4 7.2h0m-12.6-29.2h0m-6.1 32.3h0m16.5-32.6h0m-12.3-9.1h0m20.5 4.6h0m-33 36.6h0m34.2-24.4h0m-11.6 11.2h0m11.8 .9h0m9.5-12.7h0m.1 8h0m-11.7 8.5h0m10.1-19.3h0m-16.4 22.2h0m-12.7-25h0m-20.5 45.8h0m16.9-10.4h0m27.2-15.9h0m-9.4 8.9h0m-20.1 11.8h0m27.5-32.2h0m-18.1 4.9h0m12.3-23.6h0m-9.4 5.8h0m6.4 28.6h0m-24.5 4.3h0m6.8-37.1h0m21.1 3.1h0m-27.9 40.8h0m12.6-20.5h0m9.2-29.4h0m11.7 21h0m-23.1 1.3h0m26.6-9.5h0m-41.3 34.8h0m11.4-12.8h0m-10.2 10.4h0m42.4-12.5h0m.6-10.8h0m-27.8 26.4h0m1.8-52.7h0m-2.8 53.8h0m11.9-15.1h0m-3.3 0h0m-5.6-18.7h0m-.3 27.7h0m5.2-41.5h0m12.2 24.7h0m-22.3-33.1h0m-8.4 61.5h0m25.9-32.1h0m3.6 12.9h0m.9-12.3h0m-25.7 23.8h0m16.9-39.9h0m15.3 7.7h0m-28.1-2.6h0m-16.1 41.7h0m14.4-50.5h0m-3 40.1h0m28.6-2.4h0m-37.3 22.7h0m18.1-39.8h0m-4.2 28.7h0m5-35.8h0m-6.6 13.3h0m14.7 6.7h0m-19.5 22.4h0m31.2-23.8h0m-26 16.4h0m-7-8.7h0m15-11.3h0m2.1-5.5h0m-8.5 10.8h0m.8-23.8h0m-1.3 37.7h0m16.7-16.9h0m-14.9-38.2h0m-18.9 65.8h0m50.5-37.5h0m-20.7 15.6h0m14.3-16.6h0m-7.4 18.8h0m-32.7 14.2h0m23.4-63h0m-26.9 66.1h0m18.1-29.1h0m-2.9-18.5h0m30.3 10.9h0m-2.1-11.6h0m-17-11.2h0m-4.6 40.6h0m7.6-13.2h0m-29.4 22.2h0m27.7-40.6h0m-17.2 39.8h0m18.7-5.7h0m-5.6 6.5h0m19.1-38.2h0m-43.5 49.4h0m36.8-26.5h0m-15 8.5h0m13.8-36.8h0m1 16.4h0m7.2 2.3h0m4.7-2.2h0m-2.4 4.5h0m-30.2 13.2h0m-17.5 17.2h0m4 4.4h0m13.2-50.8h0m24 .3h0m-32.1 30.4h0m20.4-3.9h0m.4 3.7h0m-11.8-9.6h0m14 14.2h0m3.2-39.6h0m-29.2 41h0m28-41h0m12.3 9.1h0m-9.1 23.7h0m1.6-1.2h0m-4.4 7.5h0m-5-35.8h0m-7.9-18.3h0m6.5 27.9h0m-1.7 21.1h0m2.1-28.3h0m-13.4 38.1h0m7-39.7h0m6.2 11.6h0m-27.7 31.2h0m15.4-17.5h0m20.9-20.1h0m-11 15.4h0m9.2 11.1h0m-16.9-33.5h0m3.7-11h0m1 38.1h0m-23.2 26.1h0m45.5-41.5h0m-18.2 1.8h0m-7.4-6.4h0m-15.9 37.3h0m24.2-5.3h0m-10-48.8h0m5.4 25.3h0m15.7-15.7h0m10.7 23h0m-7.9-20.1h0m-7.9-3.1h0m-9 35h0m-13.3 10.7h0m34.2-34.2h0m-5.4 12.9h0m-10.6-8h0m-11.2-15.7h0m22.3 11.8h0m-16.6 25.7h0m.3 1.8h0m7-53.7h0m11.3 14.3h0m-.9 27h0m-15.2-29.5h0m14.9 26.9h0m-11.7-13.7h0m-21.7 28.3h0m19.8-13.8h0m-5.5-16.3h0m15.8-5.4h0m-7.8-12.5h0m-10 9.5h0m28.4 10.2h0m-11.4 17.3h0m-35.1 27.2h0m14.4-23.7h0m4.8 10.1h0m5.7-39.8h0m-8.6 21.7h0m5-11.9h0m-.8-15h0m-.8-.4h0m-8.9 44.1h0m-9 1.7h0m39-42.2h0m-42.4 55.1h0m48.5-31.9h0m-25.7-22.5h0m27.6 8.5h0m-18.7 18.4h0m-13.3-5.8h0m17.1-12h0m-.8 1.6h0m-4.6-24.1h0m-33.5 68.8h0m36.2-57.3h0m3.9-5.5h0m-25 37.3h0m11.8-11.4h0m20.5-13.2h0m-2.1 8.2h0m-30.1 22.3h0m35.3-29.7h0m-10.1 29.1h0m-7.6-18.5h0m-3.2-25.7h0m9.6 18h0m-27.1 37.7h0m19.2-19.4h0m-28.8 16h0m11.6-5.6h0m-11.7 15.6h0m13.3-13h0m19.2-19.1h0m0-29.9h0m-17.3 38.8h0m-10.2 25.3h0m11.9-8h0m.5-21.7h0m3.9 15.1h0m14.1-21.3h0m-.9-20.1h0m8.8 29.8h0m-31.7 13.6h0m.3 6.9h0m35.6-40.8h0m-8.4 3.7h0m-18.1 10.8h0m2.4-22.2h0m4.4 23.9h0m-22.1 24.4h0m35.4-28.9h0m-.9-5.8h0m-4-21.2h0m-12.5-3.9h0m9.4 6.2h0m2.8 3h0m-30.1 39.8h0m32.6-43.2h0m-.6 8.2h0m4.9 17.7h0m.6-18.7h0m-11-16.8h0m3.4 21.1h0m-19.4 34.5h0m23.6-28.1h0m-3.9-11.4h0m-18.6 36.2h0m2.5-43.3h0m-.5 29.5h0m-18.8 18.8h0m38.7-33.2h0m-3.7 9h0m5.6-6.5h0m-22.6 14.9h0m-1.3-24.4h0m.1-7.4h0m.5 .7h0m-11 40.1h0m.9 7.1h0m17.2-3.6h0m6.9-54.7h0m-11.1 53.4h0m-19.1 9.7h0m28.6-42.3h0m5.7-8.3h0m-37.4 57h0m3.9-.6h0m.3-14.5h0m-3.1 12.9h0m31.7-53.2h0m-10.7 4.3h0m3.5 9.9h0m20.8-1.8h0m7.7 5.6h0m-19.5 12.8h0m16.5-10.3h0m-43 15.1h0m29.4-2.1h0m-6.7-34.4h0m-27.2 52h0m45.3-35.4h0m-43.1 25.3h0m32.4-33h0m-13.9 35.7h0m-4.7-54.6h0m-12.9 61.6h0m28.1-15.4h0m-3.1-23.7h0m-13-14.5h0m7 38.6h0m11.4-30.8h0m-2.7 2.9h0m-10.5-18.7h0m14.3 39.3h0m-13.8-4.4h0m14.4 11.9h0m-6-11.2h0m-13.2 5.2h0m19.5-4.3h0m-13.3-13.2h0m-3.1 10h0m20.9-16.6h0m-4.9 18.6h0m7.7-23.4h0m-15.5 25.5h0m16.9-9.5h0m-24.2 9.1h0m-3.4-16h0m-4.3 37h0m22-27.4h0m-32.6 27.8h0m41.7-21.9h0m-12.6-1.9h0m-16.7 12.9h0m14.6-42.1h0m-16.4 34.6h0m37.5-13.1h0m-14 14.4h0m-11.9-48.1h0m-.8 8.1h0m15.9 33h0m-17.1 3.5h0m19.8 2.2h0m-39.4 25.7h0m17.8-45.3h0m-6.9 25.4h0m11.3-38.7h0m-21 58.2h0m37.1-28.5h0m-25-4h0m14.6-34.9h0m1.7 40.3h0m-3.1 4.3h0m3.5-6.8h0m-28.9 30h0m4.8-10.5h0m19-24.9h0m6.2 6.9h0m1.8-9.6h0m5.1-8.6h0m-20.1 7.1h0m.7-9.9h0m20-5.2h0m-22 26.8h0m8.8 6.8h0m-12.1-24h0m19.1-13h0m-17.3 28.8h0m3.9-3.5h0m11.3-1.2h0m-7.8 3.4h0m7.2-14.8h0m-27.9 43.1h0m19.1-17.8h0m13-41h0m11.2 25.9h0m-29.7-16.5h0m12-14.3h0m-30.3 69.2h0m15-29.6h0m21.6 3.1h0m-9.4-36.8h0m-7.2 27.7h0m-.1 11.2h0m-12 11.4h0m17.4-57.9h0m9.7 13.5h0m-4.1 19.3h0m-8.8-32.7h0m-3.6 17.7h0m6.1 2.1h0m-13.7 29.6h0m-9.1 14.7h0m8.3-2.9h0m-1.2-7.5h0m19.5-13.5h0m12.2-11.6h0m-27.4 27.3h0m16.2-19.4h0m-16.7 20.6h0m23.5-12.5h0m-15.5-19.8h0m-17.9 35.7h0m10-.1h0m22.7-56.4h0m-17.8 44.8h0m9.6-18.2h0m-15.3 10.3h0m16.3-.6h0m-2.1-45.1h0m-1.2 40.4h0m6-24.7h0m3.3 7.8h0m4.8-3.6h0m-30.9 35.4h0m8.9-15.7h0m16.5 6h0m-30.1 16h0m26.9-29.7h0m2.7 .3h0m-11.5-3.6h0m12.5-23.9h0m-24.1 50.9h0m11.6-30.6h0m-9 36.3h0m2.1-.9h0m3.5-43.1h0m-9.2 52h0m13-24.7h0m-2.7-10.1h0m13.1-28.6h0m.2 43.2h0m-8.2-11.4h0m-2.4-14.7h0m3.6 4.9h0m-3.2 21.9h0m-13.8 20.6h0m-5.3-1.1h0m18.8-13.6h0m3.4-53.6h0m-2.4 4.2h0m20.7 33.5h0m3.5-15.4h0m-31.1-3h0m-10.5 48.4h0m-4.1-8.1h0m26-25.9h0m.4 16.4h0m-27.7 22.8h0m11.8-19.8h0m16.1-11.7h0m-13.5 11.3h0m3.7-44h0m4.1 44.8h0m-4.7-19.4h0m3.2 21.6h0m-10.2 1.2h0m13.1-22.1h0m8.7-17.7h0m-3.8-6.8h0m-16.8 38.2h0m18.1-37.7h0m8.6 20.2h0m.1-8.8h0m1.5 3.5h0m-10.8 20.4h0m-1.4-11.3h0m-23.6 29.5h0m17.3-18.7h0m7.9-23.4h0m7 24.6h0m-19.3 9.6h0m27.7-31.3h0m-6.7 1.5h0m-19.7-17.2h0m6.4 23.6h0m-23.6 33.7h0m42.3-46.2h0m-23.3 25.3h0m4.1 8.8h0m-8.6 8.8h0m16-53.8h0m10.7 5.3h0m-14.5 17.6h0m10.3-1h0m-8.8 16.4h0m-12.2-8.4h0m-15 13.7h0m14.1-40.2h0m10.4 38.8h0m11.2-2.9h0m-18.8-8h0m26.7-19.9h0m-21.8-20.1h0m24.5 28.5h0m-.6-6h0m-1 14.1h0m-17.8-38.8h0m-16 55.2h0m34.1-24h0m-9.8-14.3h0m-19.3 1.2h0m3.9 14.6h0m-5.7 29.1h0m18.5-8.8h0m-6.9-32.9h0m-.3 5.5h0m7-7.2h0m-20.1-11.4h0m14.5 9.7h0m-13.1 22.2h0m1.1-35.8h0m-15.2 61h0m24.2-11.8h0m-25.9 9.8h0m-.9 10.7h0m7.5-13.1h0m27.9-49.7h0m-8.9-6.5h0m-2 42.8h0m19.1-1.3h0m-4.2-3.6h0m-21.2-41h0m-1.8 49.4h0m18.6-4.6h0m3.2-23.7h0m-28.8 46.5h0m20.4-27.9h0m-8.2-28.4h0m-5.2 50.3h0m18.2-29.7h0m-22.9 21.3h0m14.6-29.1h0m20.2-3.2h0m-17.8 6.7h0m6.4-13.9h0m-13.7-7.6h0m27.7 26h0m-17.9-.7h0m1.3-.5h0m-.5-1.9h0m-5.9-.6h0m24.4-.9h0m-36.2 17.3h0m-7.3 12h0m18.1-4.1h0m-8 4.6h0m31.6-32h0m-28.2 10.1h0m5.1-25.3h0m6.1 31.7h0m-30.7 17h0m23-24.4h0m18.3-5.3h0m-14.7 17.9h0m4.6-18.1h0m11.5-10.9h0m.4 26.3h0m-5.1 5.3h0m-19.6-30.8h0m.6 36.4h0m-4.9 6.6h0m10.8-11.5h0m-8.6-13.5h0m6.7-19.8h0m13.9 21.1h0m6.4 1.8h0m-20.9-19.3h0m-19.4 48.6h0m43.6-40h0m-44.1 24.8h0m25.5-18.7h0m10.3 9.6h0m-27.7 10.4h0m21.3-31.5h0m2.4-11.4h0m-10.8 40.3h0m7.8-1.7h0m2.3-10.8h0m7.5-18.6h0m-16.6 12.8h0m-27 28.8h0m13-7h0m9.8-38.2h0m-2 4.8h0m-2.6-14h0m3.2 21.2h0m7-9.5h0m-4.4 28.1h0m-.9-3.4h0m-14.7 7.3h0m15.2-15.6h0m-.6 15.9h0m-14.5 5.8h0m20.8-17h0m16.1-6.7h0m-25.7-30.2h0m21.2 32.9h0m-12.8 9.3h0m-5.2 .3h0m-2.8-13.1h0m16.9-22.7h0m1.6 35.7h0m-15.8-26.2h0m9.1 29.7h0m5.5-7.4h0m-3.5-11.3h0m-9.9 14.5h0m22.5-4.3h0m-7.7-31.4h0m-14.1 30h0m7.5-3.9h0m11.7-3.8h0m-43 27.2h0m23.6-6.3h0m-20.4 18.1h0m17.2-11.8h0m-19.6 14.5h0m18.1-37.6h0m-1.6 25.4h0m2.8-54.5h0m26.6 17.1h0m-5.1-1.6h0m-6.3 5.3h0m-16.1-4.8h0m7.7-10.4h0m-16 52.3h0m25.9-49.6h0m-16.5 40.3h0m25.8-19.6h0m-19.4 18.1h0m22.5-18.8h0m-17.4 10.6h0m3.1-18.9h0m-10.4-23.2h0m1.9 12.7h0m-5.8 10.7h0m24.6-1.4h0m-26.7 15.3h0m17-28.3h0m8.5 5.3h0m.6 7h0m-11.5 19.6h0m-22.9 9.4h0m27.5-3.5h0m-.9-40.3h0m-6.7 14.2h0m-16.1 21.1h0m4.7-37.4h0m22.3 19h0m-22.5-24.1h0m7.6-1.1h0m-21.8 50.6h0m23.4 .5h0m8.9-12.3h0m10.2-11.9h0m-20.4 6.9h0m-16.7 27.8h0m22.9-55.8h0m5.2 31.5h0m-5.5-26.5h0m-22.7 49.4h0m21-35h0m1.3 14.5h0m-28.9 12.4h0m34.7-20.4h0m3.6 1.1h0m-27.8 16.7h0m2.6-31.5h0m2.2 22.3h0m2-11.3h0m15.3 18.1h0m9.5-15.2h0m-24.8 16.1h0m14.8-8h0m-16-29.9h0m.2 2.9h0m-13.3 54h0m12.2-29.9h0m-15.3 21.3h0m39.4-29.2h0m-22.5 6.6h0m-18.2 28.1h0m25.2-57.6h0m13.3 6.6h0m-2 13.6h0m-1-1.4h0m-12.4 4h0m20.9-3h0m-12.3 19.7h0m17.1-19.2h0m-2.4-3.8h0m-17.2 8.2h0m15-.5h0m-13.2 18.2h0m.3-.1h0m-13.8-30.9h0m3.5 39.5h0m-11.7-12.6h0m23.8-34.5h0m3.1 7.1h0m6.3 8.2h0m-4.4 4.3h0m-20.8 21h0m14.8-33.6h0m-11.4 13.4h0m17.4-19.6h0m-1.8 .2h0m-19.8 43.6h0m-4.2 5.2h0m19.6-14.4h0m-15.9-45.8h0m26.9 26.6h0m-15-15.5h0m-7.1 8h0m-3.2 23.7h0m-1.2-31.5h0m23.6 16h0m-20.3-13.7h0m10.4-2.7h0m-8.8 22.8h0m-12.5 28.4h0m8-65h0m-13.9 60.6h0m27.7-45h0m-14.6 16.4h0m1.1-32h0m-14.7 71.6h0m30.9-37.7h0m-15.6 16.4h0m10.5-18.9h0m-13-11.6h0m17.1 23.2h0m-.9-2.1h0m2.3-1.5h0m-20.6 17.4h0m22.1-11.5h0m-1.9 .9h0m6.3-23.6h0m-24.7-15.8h0m-.6 46.4h0m9.4-15.2h0m-13 17.6h0m8.4-5.9h0m-11.6 11h0m17.9-38h0m23.6 5.5h0m-19.7 7.6h0m-6.4-14.7h0m-2-18.8h0m12.5 23.9h0m-19.9 32.8h0m-4.6-2.6h0m20.7-5.8h0m2.4-39h0m-6.6-2.8h0m-11.6 46.7h0m-16.9 14.6h0m45.5-25.6h0m-14.5-29.3h0m-1.4 38.2h0m-26.5 12.9h0m21.9-15.3h0m8.4-37h0m-22.1 48.1h0m13.8-10.2h0m6.4-19.8h0m3.7 13.3h0m-22.7 18.9h0m13.3-20.8h0m22.4-19h0m-34.8 38.2h0m9.9-54.8h0m8.2-7.3h0m-3.9 18.1h0m-23 45.9h0m26-17.3h0m-16.7 5h0m1.3 2.2h0m9.5-46.1h0m17.2 18.7h0m-30.8 31.2h0m13.2-33.1h0m-11.6 30.2h0m11.5-51.4h0m6.2-4h0m17.6 19.7h0m-39.5 43h0m22.7-56.7h0m-23.9 50.3h0m28.5-14h0m2.8-30h0m-2.1 33.9h0m-14.1-7.7h0m13.6 8.6h0m3.9 5.1h0m-.4-34.6h0m-5-2.8h0m9.8 32.9h0m-14.9-31.3h0m-8.1 19h0m23.4-17.8h0m-32.9 45.1h0m6.2-22.6h0m21.8 9.4h0m-4.1-21.1h0m-21.7 31.8h0m15.9-18.2h0m-5.4 8h0m3.5-48.7h0m13 14h0m-3.4-7.9h0m-15.8 45.7h0m17.2-20.8h0m-18.8-6.9h0m28.3 2.5h0m-28.5 33.5h0m-10-3.9h0m15.7-2.8h0m10.2-12.6h0m9.8-15.6h0m-26.7 8.6h0m7.2-24.2h0m-24.8 62.9h0m2.3-10.7h0m26-21.1h0m-6.3-23.3h0m-2 23.7h0m.3-41.1h0m8.1 8.3h0m3.5 1.8h0m0 41.1h0m-2.9-30.6h0m-10.9 22.6h0m7.5 5.1h0m-11 9.2h0m2.8-40.4h0m2.9 18.8h0m3.3 8.1h0m15.4-14h0m-26.4 35.7h0m8-67.5h0m15.5 12.1h0m-20.3 30.8h0m24.9-29.2h0m1.2 4.9h0m-25.1-7.2h0m13.3 19h0m11.9 3.3h0m-19.6-18.8h0m-1.6 3.1h0m-5.2 32.4h0m36.1-16h0m-12.5 9.1h0m-14.9-17.1h0m1.4 27.5h0m14.3-37.4h0m-9.3 38.4h0m-12.2-13.2h0m-1.1 9.8h0m13.8-9.4h0m-9.9-8.7h0m-10.9 28.8h0m10.8-59.7h0m5.7 29h0m-10.8-19.2h0m12.6-3h0m-11-2.4h0m11.4 15.3h0m-7.7 26.8h0m-1.6 7.8h0m18.7-44.2h0m-18.4 9.9h0m-4.3-11h0m-4.4 36h0m27.2-32.8h0m-1 14.8h0m-39.2 41.3h0m27.9-59.8h0m8 9.8h0m.2 30.5h0m-30.3 17.4h0m24-45.3h0m10.5 1.1h0m-26.3 28.4h0m30.8-22.7h0m-44.3 41.8h0m33.3-33.6h0m-5.8 13.7h0m-9.4-6.7h0m21.8-28.8h0m-36.9 50.1h0m30-62.7h0m3.5 7.1h0m-17.4-3.7h0m15.8 35.4h0m-11.4 7.8h0m-1.5-30.6h0m26.2 10.3h0m-11.1 10.3h0m-11.8 .6h0m5.5 5.6h0m-6.8-7.5h0m-12 22.1h0m12.5-26.2h0m5.7 3h0m-2.6 .9h0m16.3-22.4h0m-21.3 28.2h0m2-15.3h0m22.9 13.6h0m-42.9 22.7h0m6-9.9h0m15.3-27.7h0m11-14.1h0m-1.4 28.1h0m-13.4-30h0m-2.1-2.4h0m18.4 20.9h0m-1.7 22.4h0m3.2-26.2h0m-9.2-4.7h0m-22 32.4h0m12.7-48.4h0m2 23.3h0m-.7-22.7h0m1.5 45.9h0m-5.1-42.6h0m16.1 24.5h0m-8.3-3.1h0m-4.1 28.6h0m19.2-21.3h0m-13.5-4.4h0m-11.2 24h0m32.7-25h0m-6.2-12.1h0m-34.2 31.4h0m8.8-26.9h0m1.9-22.5h0m10.2 52h0m-12.7-40.9h0m5.2-14.4h0m-1.9 19.9h0m.2 1.5h0m-9.9 37.8h0m-9.3 8.8h0m25.2-43.1h0m.1-12.6h0m14.1 32.7h0m-.2-9h0m-38.4 23.8h0m23.4-44.2h0m-8.3-3.9h0m8.8 29.2h0m10.8 7.9h0m-19-27.9h0m22.3 26.3h0m-23.6 15.5h0m18.4-46.3h0m-7.9 .4h0m-20.7 44.9h0m1.9-9.8h0m13.1-51.4h0m11.9 26.5h0m-6-10h0m-5.8-6.3h0m13.5 .6h0m-4.6 6.4h0m1.2 28.8h0m-25.2 14.5h0m7.1 6.1h0m4.2-28.7h0m19.1-14.3h0m-19 17.2h0m.7-35.4h0m7.9 40.6h0m-5.9 5.3h0m-5.9-8h0m-13.2 15.6h0m35.4-46.3h0m10.2 8.7h0m-22 23.7h0m16.1-10.1h0m-2-25.6h0m-6.8 1.2h0m-10.3 50.1h0m-8.7-2.1h0m17.2-44.8h0m-11.8-.8h0m4.3 14.9h0m21.3 7.7h0m-1.8-10.2h0m-17.8-15h0m-24.9 61.9h0m2.2-1.2h0" stroke="#7b7b7b" stroke-width="1.44" stroke-linecap="round" fill="none"/>
<path d="M361,524 C367,523.5 373,523.5 378,522.5 L382,521.5" stroke="#7b7b7b" stroke-width="1.1" fill="none"/>
<path d="M393.8 515.7h0m4.8 2.6h0m-9.5 3.5h0m10.8-4.8h0m-9.5 .1h0m7.3-2.2h0m-6.8 9h0m1.8 2.9h0m5.2-9.2h0m-7.8 8.6h0m-5.1-1.8h0m10-9.1h0m1.1 12.1h0m-5.8-9.3h0m7.6-3.2h0m-3.5 12.2h0m-2.6-6.7h0m2.2-4.8h0m-8.7 8.2h0m4.7 .8h0m2.1-6.7h0m5.4-3.1h0m2.4 4.9h0m-10.4 2.3h0m7.8-5.1h0m-3.6 11.4h0m-1.1-8.4h0m-8.9-1.1h0m3.2 5.2h0m2.2 .8h0m.6-9h0m4.7 9.8h0m-10.9-5.1h0m2.5-.2h0m4.2 4.5h0m-1.5-6.2h0m8 6.8h0m-2.2-1.1h0m-1.7-6.7h0m5.6 5.1h0m-6.6 4.1h0m-6.4-9.2h0m5.3 6.9h0m.8 3.4h0m-6.7-9.8h0m8.9 9h0m2.7-.5h0m-4.3-4.5h0m2 4.5h0m4.2-9.3h0m.2 5.3h0m-11.4 1.1h0m11-9.3h0m-2.3 8.1h0m-3.7-6.6h0m-6.6 5.4h0m6.7-.1h0m-6.1-1.3h0m14-7.2h0m-2.5 6.4h0m-11.4-2.1h0m6.4 8.5h0m-4.3 1.7h0m8.5-3.1h0m-6-1.9h0m4.4 .5h0m.9-4.7h0m1.5-2.3h0m-12.4 1.4h0m13.8-1.3h0m-.9 .5h0m-6.2 6.1h0m6.8 3.7h0m-6.6-4.7h0m2.8 3h0m5.5-.8h0m-9-3.6h0m2.2 1.9h0m-2.9-2.5h0m7.7-4h0m-6.4 3.6h0m-1.2 4.7h0m9.3-11h0m-8 14.7h0m-3.9-8.9h0m-.2-1h0m1 .6h0m9.3-1h0m-14.9 3.7h0m12.9 0h0m-2 1.1h0m-.1-4.1h0m-7.8 5.3h0m4.5-7.9h0m5.5 6.5h0m-2.6 1.4h0m4.3-2.7h0m-3.3-.5h0m-2.5 5.7h0m1.5 1.2h0m-3.2-9.6h0m1.7 9.4h0m3.1-9.6h0m2.5-.5h0m-1.3 7.8h0m-3.9-7.6h0m-1.8 10.8h0m-1.8-7.6h0m5.7 .3h0m-3.9-.7h0m-7.2 .3h0m16.3-5.5h0m-.4 6.6h0m-5.5 7.3h0m1.3-4.9h0m-4.7 1.9h0m4.8-7h0m-2.5-.7h0m2.6-2h0m-.4 11.8h0m-9-11.2h0m5.4 8.1h0m0 1.7h0m4.5-3.8h0m-3.3 2.9h0m-2.1-1.8h0m4.6 2.2h0m4.9-3.1h0m-14.4-2.4h0m5.2 7h0m-2.6-2.9h0m3.9 2.7h0m-1.7-6.7h0m1.6 8.1h0m-3.3-11.2h0m-.8 8.4h0m12.5-1.9h0m-4.9 2.8h0m2.4 .3h0m-10.3-3.6h0m11.9-7.4h0m-14.8 2.4h0m8.8 7.8h0m5.7-9h0m.6-3.2h0m-9 5.4h0m5.4-2.3h0m-2.9 3.8h0m-4.9 1.9h0m11.5-4.4h0m-1.4 7.9h0m-3.8-10.6h0m-3.8 2.5h0m-4.7 .1h0m5.7 8.4h0m-7.9-4h0m7.9-1.4h0m-7.1 0h0m15.1 2.9h0m-9.4 2.2h0m6.1-1.9h0m-1.7-.5h0m-1.7 .7h0m6.5-1.3h0m-3-4.2h0m-6 .9h0m7 3.7h0m-4.5-7.3h0m2.1 1.8h0m.1 5.6h0m.4-5.7h0m-2.3 2.1h0m2.3-1.9h0m-3.1 4h0m-1.5-4.1h0m-5 .2h0m2.7-1.8h0m7.2 4.6h0m-.1 2.5h0m-11.7-6.1h0m11.5 1.6h0m-7.8 8.1h0m.3-9.7h0m4.5 1.6h0m4.7 4.1h0m-9.7 1.6h0m-2.6-4.5h0m3.9 3.2h0m-4.1-4.2h0m8.2-.6h0m-5.4 .5h0m-.1-.2h0m5.9 7.5h0m-3.3-9.7h0m-1.5 6.6h0m10.4-9.8h0m-14.8 4.8h0m5.3-.2h0m-2.2 7.1h0m.8-8.5h0m-2.4 3.4h0m3.9 6.6h0m8.6-12h0m.8-.4h0m-14.3 8.1h0m13.2-3.6h0m-14.8 1.8h0m13.7 4.9h0m-7.2-7.6h0m7.3 1.8h0m-12.8-1.8h0m3.5 6.8h0m6.6 1.1h0m2.5-7h0m1.5 5.7h0m-.3-3.2h0m-11.6-2h0m10.2-2.2h0m.7 3.4h0m-2.2 7.2h0" stroke="#8a0f1a" stroke-width="1.30" stroke-linecap="round" fill="none"/>
<path d="M370.4 515.9h0m1.2 2h0" stroke="#8a0f1a" stroke-width="1.60" stroke-linecap="round" fill="none"/>
<path d="M374.5 440.5h0" stroke="#8a0f1a" stroke-width="3.60" stroke-linecap="round" fill="none"/>
<text x="379.00" y="442.80" font-size="6.4" text-anchor="start" fill="#231f20" >COPD</text>
<path d="M374.5 447.8h0" stroke="#858585" stroke-width="3.60" stroke-linecap="round" fill="none"/>
<text x="379.00" y="450.10" font-size="6.4" text-anchor="start" fill="#231f20" >Healthy</text>
<path d="M374.5 542h0" stroke="#8a0f1a" stroke-width="3.60" stroke-linecap="round" fill="none"/>
<text x="379.00" y="544.30" font-size="6.4" text-anchor="start" fill="#231f20" >Disease</text>
<path d="M374.5 549.9h0" stroke="#858585" stroke-width="3.60" stroke-linecap="round" fill="none"/>
<text x="379.00" y="552.20" font-size="6.4" text-anchor="start" fill="#231f20" >Normal</text>
<text x="447.80" y="443.68" font-size="6.6" text-anchor="start" fill="#231f20" >Low</text>
<rect x="461.2" y="438.6" width="25.3" height="4.6" fill="url(#gblue)"/>
<text x="488.00" y="443.68" font-size="6.6" text-anchor="start" fill="#231f20" >High</text>
<text x="473.70" y="451.18" font-size="6.6" text-anchor="middle" fill="#231f20" >HEOCA distance</text>
<path d="M329.3,427.0 L329.3,448.5 L350.8,448.5" fill="none" stroke="#3b4a6b" stroke-width="0.8"/>
<path d="M327.7,430.0 L329.3,427.0 L330.90000000000003,430.0 Z" fill="#3b4a6b"/>
<path d="M347.8,446.9 L350.8,448.5 L347.8,450.1 Z" fill="#3b4a6b"/>
<text x="326.40" y="437.75" font-size="5.9" text-anchor="middle" fill="#231f20" transform="rotate(-90 326.40000000000003 437.75)">UMAP2</text>
<text x="340.05" y="455.92" font-size="5.9" text-anchor="middle" fill="#231f20" >UMAP1</text>
<text x="469.30" y="465.65" font-size="6.8" text-anchor="middle" fill="#231f20" >HEOCA distance</text>
<line x1="440.70" y1="476.60" x2="443.70" y2="476.60" stroke="#888" stroke-width="0.6" />
<line x1="440.70" y1="474.60" x2="440.70" y2="478.60" stroke="#888" stroke-width="0.6" />
<path d="M450.7 476.4h0m-.2 .4h0m5.1-.2h0m-3.8-.1h0m-3.4 .3h0m6.9-.1h0m-4.4-.3h0m2.1 0h0m-4.9 .3h0m3 0h0m6.2-.4h0m-6 .5h0m-1.5-.1h0m1.2 0h0m2.8-.3h0m0 .4h0m0-.5h0m9.3 .2h0m-9.6-.1h0m-.4 .4h0m-2.7-.4h0m1.3 .3h0m3.2-.1h0m-2.5-.1h0m-1.7 .1h0m-2.8 .1h0m8.4-.1h0m-4.3 .2h0m-1.5-.4h0m1.4-.1h0m7.2 .5h0m-8.7 0h0m3.9-.4h0m-1.2 .4h0m0-.1h0m2.7-.1h0m.6-.2h0m3.6 .2h0m-11.6-.1h0m8.1 .1h0m-4.3-.2h0m-3.7 .3h0m1.2-.2h0m10.4 .4h0m-3.5-.1h0m-.5-.1h0m-7.8-.4h0m2.7 .1h0m-2.4 0h0m.8 .2h0" stroke="#333" stroke-width="1.00" stroke-linecap="round" fill="none"/>
<path d="M476 476.6h0m3 0h0m3 0h0m6 0h0" stroke="#333" stroke-width="0.90" stroke-linecap="round" fill="none"/>
<rect x="443.7" y="470.7" width="3.5" height="11.9" fill="#8c8c8c" stroke="#777" stroke-width="0.4"/>
<line x1="461.50" y1="491.70" x2="467.20" y2="491.70" stroke="#888" stroke-width="0.6" />
<line x1="461.50" y1="489.70" x2="461.50" y2="493.70" stroke="#888" stroke-width="0.6" />
<line x1="471.80" y1="491.70" x2="477.60" y2="491.70" stroke="#888" stroke-width="0.6" />
<line x1="477.60" y1="489.70" x2="477.60" y2="493.70" stroke="#888" stroke-width="0.6" />
<path d="M449 491.7h0m1.5 0h0m1.5 0h0m1.5 0h0m1.5 0h0m24.5 0h0m1 0h0m17 0h0m1.5 0h0" stroke="#333" stroke-width="1.00" stroke-linecap="round" fill="none"/>
<rect x="467.2" y="485.4" width="4.6" height="12.6" fill="#8a0f1a" stroke="#5a0f0f" stroke-width="0.4"/>
<rect x="437.5" y="467.7" width="65.0" height="33.30000000000001" fill="none" stroke="#8a8a8a" stroke-width="0.7"/>
<line x1="452.40" y1="501.00" x2="452.40" y2="503.00" stroke="#8a8a8a" stroke-width="0.7" />
<text x="452.40" y="509.24" font-size="6.5" text-anchor="middle" fill="#231f20" >0.1</text>
<line x1="468.80" y1="501.00" x2="468.80" y2="503.00" stroke="#8a8a8a" stroke-width="0.7" />
<text x="468.80" y="509.24" font-size="6.5" text-anchor="middle" fill="#231f20" >0.2</text>
<line x1="486.80" y1="501.00" x2="486.80" y2="503.00" stroke="#8a8a8a" stroke-width="0.7" />
<text x="486.80" y="509.24" font-size="6.5" text-anchor="middle" fill="#231f20" >0.3</text>
<text x="433.00" y="478.75" font-size="6.8" text-anchor="end" fill="#231f20" >Normal</text>
<text x="433.00" y="494.55" font-size="6.8" text-anchor="end" fill="#231f20" >Disease</text>
<line x1="435.30" y1="476.60" x2="437.50" y2="476.60" stroke="#8a8a8a" stroke-width="0.7" />
<line x1="435.30" y1="491.70" x2="437.50" y2="491.70" stroke="#8a8a8a" stroke-width="0.7" />
<text x="431.40" y="519.18" font-size="6.6" text-anchor="middle" fill="#231f20" >Cell</text>
<text x="431.40" y="525.98" font-size="6.6" text-anchor="middle" fill="#231f20" >number</text>
<text x="459.80" y="519.18" font-size="6.6" text-anchor="middle" fill="#231f20" >Normal</text>
<text x="459.80" y="525.98" font-size="6.6" text-anchor="middle" fill="#231f20" >2198</text>
<text x="488.40" y="519.18" font-size="6.6" text-anchor="middle" fill="#231f20" >Disease</text>
<text x="488.40" y="525.98" font-size="6.6" text-anchor="middle" fill="#231f20" >214</text>
<text x="471.10" y="538.95" font-size="6.8" text-anchor="middle" fill="#231f20" >Cell proportion</text>
<rect x="438.40" y="547.10" width="0.62" height="7.40" fill="#8a0f1a"/>
<rect x="439.02" y="547.10" width="61.28" height="7.40" fill="#8c8c8c"/>
<rect x="438.40" y="562.80" width="34.66" height="7.40" fill="#8a0f1a"/>
<rect x="473.06" y="562.80" width="27.24" height="7.40" fill="#8c8c8c"/>
<rect x="437.8" y="542" width="65.09999999999997" height="31.600000000000023" fill="none" stroke="#8a8a8a" stroke-width="0.7"/>
<line x1="438.40" y1="573.60" x2="438.40" y2="575.60" stroke="#8a8a8a" stroke-width="0.7" />
<text x="438.40" y="583.54" font-size="6.5" text-anchor="middle" fill="#231f20" >0</text>
<line x1="500.30" y1="573.60" x2="500.30" y2="575.60" stroke="#8a8a8a" stroke-width="0.7" />
<text x="500.30" y="583.54" font-size="6.5" text-anchor="middle" fill="#231f20" >1</text>
<text x="433.00" y="553.25" font-size="6.8" text-anchor="end" fill="#231f20" >Normal</text>
<text x="433.00" y="568.95" font-size="6.8" text-anchor="end" fill="#231f20" >Disease</text>
<line x1="435.30" y1="550.80" x2="437.80" y2="550.80" stroke="#8a8a8a" stroke-width="0.7" />
<line x1="435.30" y1="566.50" x2="437.80" y2="566.50" stroke="#8a8a8a" stroke-width="0.7" />
<rect x="440.50" y="585.80" width="4.20" height="4.20" fill="#8a0f1a"/>
<text x="447.20" y="590.24" font-size="6.5" text-anchor="start" fill="#231f20" >COPD</text>
<rect x="469.70" y="585.80" width="4.20" height="4.20" fill="#8c8c8c"/>
<text x="476.40" y="590.24" font-size="6.5" text-anchor="start" fill="#231f20" >Healthy</text>
<text x="609.00" y="419.28" font-size="6.9" text-anchor="middle" fill="#231f20" >Disease cells differential expressed genes</text>
<rect x="535.3" y="422" width="148.10000000000002" height="139.70000000000005" fill="none" stroke="#8a8a8a" stroke-width="0.7"/>
<path d="M571.9 555.2h0m69.7 1h0m-71.1-3.6h0m20 2.4h0m68.7 1h0m-40.8-1.9h0m-5.2-1.5h0m-21.9-.8h0m69.9 4.2h0m-87.5-.1h0m26.5-.1h0m16.6-.6h0m-29.9 .1h0m47.5-2.8h0m-68.5 3.6h0m77.6-1.7h0m-44.2-2.3h0m42.6 1.4h0m.2 1.8h0m-78.4-1.1h0m97.7 1.7h0m-66.4 .2h0m-2.4-1.2h0m-36.5-2.8h0m95.5 3.1h0m-65.8 .7h0m11.1-1.8h0m24.2 .2h0m39.9 .5h0m1.7-1.2h0m-7.8 1.3h0m-49.2-.3h0m35-1.2h0m3 1.4h0m-97.8 .8h0m67.2 .3h0m-.6-2.8h0m-42.8 1.9h0m60.7 .2h0m30.1 .4h0m-111.4-1.4h0m65.3 1.5h0m46.5-2.8h0m-82.8 2.2h0m22.5-.3h0m-7.1-.5h0m43.7 .5h0m20.9 .2h0m-114.1-.2h0m86.1-.7h0m-20.3-2.2h0m-33.1 4.3h0m50.7-1.3h0m-27.2-1.1h0m-55.6 2.2h0m92.3-1.1h0m24.7 1h0m-15.7-1.4h0m-56.8 .8h0m32.2-1.1h0m4 .4h0m6.8 1h0m-50.4 .5h0m-23.3 0h0m88.7-.3h0m-98.1-1.3h0m85.8 1.4h0m-59.2-.2h0m79.1 .5h0m2.8-.1h0m-106.2-2h0m85.7 1.9h0m-77.4-.4h0m72-.6h0m22.7 1.1h0m-31.3 0h0m-27.9-.3h0m-39.6-2.5h0m55.5 .5h0m5.6-.6h0m.1 2.9h0m29.5-.9h0m-33.6 .4h0m-6.9-.1h0m-13.8-.4h0m52.7-2.7h0m-46.7-.5h0m-41.1 2.1h0m46.9-.8h0m18 1.7h0m-6.4-3.3h0m26.1 4.2h0m-55.9-.7h0m15.7-2.8h0m-48.4-.1h0m14.9 2.2h0m71.8 1.4h0m-77.5-.7h0m78.9-.5h0m-.8 .6h0m-34 .7h0m36.7 .3h0m-64-1.8h0m58.3 .8h0m-58 .3h0m20.7-.1h0m36.8-1.7h0m-11.8 1.1h0m-15 1.1h0m-6.5 0h0m-11.1 0h0m-29.6-.2h0m-17.7-.1h0m62 .6h0m-11.6-.5h0m58.3-.5h0m-53.1-.8h0m34.1 .5h0m-33.2-1.2h0m23.2 .5h0m-78.8 .4h0m17.2 .4h0m39.8-.2h0m31.3-1h0m-1.4 1.7h0m-29.7-1.5h0m31 1.4h0m-5 .1h0m.8 .3h0m6.3-2.5h0m-15.6 2.3h0m-50.1 .5h0m64.5-.8h0m-87.9 .5h0m37.7-.7h0m70.4 .7h0m-18-2.4h0m-13.1-1.5h0m-57.6 2.8h0m56.3 .8h0m-37.5 .7h0m-15.8-.4h0m0-.9h0m78.8-1.2h0m-94.2 2.3h0m18.4 .2h0m-12.4-1.1h0m84.1-1.9h0m-68.4 2h0m46.9 .3h0m-52.4 .5h0m38.7-1.7h0m38.8 .7h0m-17.6 .6h0m-54.6-2.7h0m-9.9 3.1h0m10.9-.5h0m12.9-2.5h0m39.5 2.9h0m-19.6 .1h0m-45.9-.2h0m56.8-1.3h0m-51.1 1.3h0m6.5-1.7h0m34.6 1.4h0m40.6-.6h0m8.4 .7h0m-103.4 .4h0m46-.7h0m59.5-1.7h0m-64.1 2.4h0m55.2-1h0m-11.6-3.7h0m-43.6 .2h0m35.4 4.2h0m-6.5-.3h0m-38.8-1.3h0m-15.5 1.6h0m-26.6 .4h0m89.6-2.7h0m-52.8 1.6h0m5.3-.8h0m45.2 0h0m13 1.7h0m-88.7-.2h0m88.6-1.5h0m7.8 1.2h0m-72.5 0h0m-8.3 .7h0m-11.4-.9h0m80-3.4h0m-23.1 3.8h0m16.1-1.3h0m-63.6 1h0m21.3 0h0m17.5 .5h0m26.6 .2h0m-81-.1h0m31.8-.3h0m72.7-1.2h0m-88.7 .4h0m-8.3-.4h0m85.2 1.5h0m-57.5 .3h0m49.9-2.1h0m.1 1.8h0m17.5-1.1h0m-42.9-2.2h0m17 3.5h0m-31.2-.4h0m60.6 .4h0m0-4.7h0m-61.6 .9h0m-53.7 2.8h0m66.7-.2h0m-10.6-1.1h0m15-.2h0m25.3 .4h0m-96.4 1.1h0m109.2 .6h0m-2.3-.1h0m-1.6-1.8h0m-78.5 1.4h0m48.7-2.6h0m-43.4 2.2h0m-33.7-.6h0m111.5 1.8h0m-102.9-2.5h0m-8.2 .2h0m2.6 1.2h0m30.2 .5h0m-.9-.7h0m-22 .9h0m36.5 .5h0m-14-.5h0m53.9 .2h0m-79.2-1.9h0m100.5 2.3h0m-35.9-.7h0m-59.7-2.6h0m-7.6 2.8h0m50.8-.7h0m-18.5 .3h0m18-.5h0m42.7 1.3h0m-26.5-.7h0m31.2-.4h0m2 .5h0m-5.4-.1h0m-29.5 .6h0m-22.9-1.5h0m-34.2 1.6h0m78.1-1.7h0m-55.3 .3h0m47.4 1.3h0m-11.8-.6h0m-3.1-.6h0m-53.9 .3h0m53.1-.2h0m48.9 .8h0m-72.4-2.2h0m-34.2-.6h0m81.7 2.9h0m-76.9-3.3h0m38.7 3.5h0m-34.2 0h0m-3.2-2.2h0m68.6 1.3h0m-38.6-.3h0m54.1-1.5h0m-76.3 2.3h0m-19.5-.1h0m113.8-1.6h0m-53.2 1.3h0m-32.5-.4h0m17.1 1.3h0m-43.3 0h0m1.1-3.4h0m63.9 1.2h0m-.1 1h0m-23.1-1.6h0m3.2 2.9h0m50.2-.8h0m-50-3.9h0m-27.9 2.3h0m29.2 2.4h0m-41.6-.5h0m-5.8 .5h0m76.3 0h0m25.6-3.7h0m-17.1 2.8h0m-30.8 .1h0m8 .7h0m-47.3 .1h0m90.6-1.7h0m-.7 .6h0m-82.8-1h0m2.7 .8h0m20.1 1h0m38-2.7h0m7.1 2.3h0m-24.3 .6h0m17.2-1.5h0m-21.5 1h0m-25.1-1.5h0m27.2 1.8h0m-1.3-.3h0m-64.1-.7h0m60.4 .8h0m44-1.4h0m-51.7 1.6h0m34.2-2.3h0m-58.9-.1h0m-12.6 2h0m66.3 .2h0m-17.2-1.1h0m49.8 1.5h0m1.7-1.2h0m-109.7 1.1h0m47.5-2.3h0m37.4 1.3h0m-59.9-1.6h0m-16.6 1.6h0m27.1 .7h0m59.9-.8h0m-38-.9h0m-65.8 .6h0m90.8-.8h0m-91.9 0h0m70 1.5h0m-17.4 .3h0m-49.6-1.2h0m105.8 .8h0m5.3 .6h0m-45.9-.4h0m-15-.1h0m-41.1 .4h0m-5.5 .5h0m23.7-.9h0m27.9 .3h0m-17.1-1.3h0m-8.1 1.5h0m41.7-1.7h0m37.8 1.2h0m-52.6-.7h0m-8.5 1.2h0m4.5-1.5h0m23.1 1.8h0m12.6-.2h0m-42.8 .1h0m-25.2-.9h0m42.4 .7h0m-14.8-.1h0m64.3-2.2h0m-82.4 1.1h0m76.4 1.3h0m-82.4-3.3h0m61.1 3.2h0m-32-1h0m.7 1h0m10.6 0h0m-52-1.1h0m6.2 .8h0m45.5-.9h0m29.6-.4h0m-68.4-.8h0m-25.1 .3h0m109.6-.1h0m-54.2-1h0m-2.4 2.7h0m22.5 .7h0m-72-2.9h0m40.7 2.6h0m6.1 .4h0m-39.1-4.8h0m-2.4 3.8h0m84.9-.7h0m-33.7 1.4h0m12.6-2.1h0m35.2-.5h0m-18.5 .9h0m-88.4 1.2h0m41.7-.4h0m55.9-.6h0m-78.8 1.4h0m-8.3 .3h0m82.2-5h0m-15.8 4.7h0m-49.5-.2h0m25.1 .4h0m-40.1 .2h0m48.1-4h0m-14.9 2.7h0m-14.1-2.1h0m48.2 1.1h0m-70.6 1.7h0m91.3-.3h0m-73.8-.3h0m13.5 1h0m7.7-.7h0m-1.9 .1h0m-2.8-.7h0m-21.5-1.1h0m5.1 1.5h0m55.8 1.1h0m-77.8-.9h0m17.4 0h0m28.4 0h0m23.3 .9h0m-53.9-.1h0m53-.6h0m-9.5 .4h0m-50.1-4.4h0m72.3 3.5h0m-23.5 .3h0m-29.8-2.1h0m71.8 2.1h0m-98.6 .9h0m46.2-2.8h0m-19.5 2.8h0m65-.6h0m14.8-1h0m-69.3 1.6h0m64.7-2.4h0m-13 1.8h0m-38.4-.1h0m56.4 0h0m.8-.3h0m-19.3-1.1h0m-87.1 1.7h0m59.9-.7h0m-42.9 1h0m-8.1-1.5h0m20.9 .6h0m25.6 .8h0m25.8-.4h0m-56.8 .3h0m78.2-.3h0m-50.3-.1h0m-7.4-.9h0m-56-.3h0m59.5-.9h0m-29.9 .6h0m66.4-.2h0m-51.9 1.2h0m1.1-1h0m37 1.6h0m-39.7-.1h0m65.1 .5h0m-99.3-1.7h0m62.6 .9h0m-7.2-.4h0m29.7 1.4h0m23.5-1.9h0m-69.1-.8h0m46.2 1.1h0m-77.6-.6h0m99.5-.3h0m-69.4-.6h0m-8.2 2.5h0m19.1 .4h0m46-.9h0m-64.9 .3h0m33.6 .3h0m-52-2.1h0m-15.8 2.4h0m-2.5-.6h0m69.2-1.7h0m15.8 .9h0m-22.6 1h0m22.7-.9h0m25.3-.8h0m-25.5 1.4h0m-30.4-.8h0m1.7 1.1h0m18.2 .5h0m-32.6-2.3h0m-8.8 .8h0m16.3 1h0m63.1 .3h0m-9.9-2.3h0m-43.3 1.8h0m.7 .1h0m17 .8h0m-23.3-.3h0m-24.5-.9h0m-14.9 .9h0m8.3-.2h0m21.3-1.3h0m45.2 0h0m-57.9-1.2h0m.4 1.7h0m8.6 1h0m-42.1-1.4h0m9.4 .1h0m71 .8h0m21.2 0h0m-44.5 0h0m6.2 .3h0m-14-2.1h0m47.2 1h0m17.3-.2h0m-13.9-.1h0m-98.7 0h0m53.5 .4h0m26.6-.5h0m-44 1.9h0m66.3-.2h0m-5.5-.3h0m-83.2-.6h0m86 .3h0m-66.4 .6h0m35.7-1.2h0m-59.2 .2h0m2.1-1.1h0m65.8 1.8h0m28.4 0h0m-91.8-.6h0m72.4 .6h0m-1.5-.2h0m-.9 .7h0m18.8-1.6h0m-45.6 .6h0m49.1-.2h0m-40.7 .3h0m-52.1-1h0m-15 .3h0m27.2-.6h0m69.4 .7h0m-37.6-.5h0m8.4 .1h0m4.3 0h0m-5.4-.1h0m-10.8-1.6h0m35 2.6h0m-61.7 .7h0m42.6-1h0m6.3-5.3h0m13.2 4.9h0m-6.8 1.5h0m-43.9-1.1h0m45.8 .6h0m-9.2 .4h0m-21.3-.5h0m-6.9-.6h0m51.2-1.1h0m-13.8 1h0m-4.6-.4h0m-12.5-.2h0m45.5 1.2h0m-108.8 .1h0m14.8-1.5h0m91.3 2.1h0m-54.7-1.9h0m48 2.1h0m-5.7-2.1h0m-96.7 1.8h0m25-1.5h0m-3.2-1.3h0m31.9 2.7h0m38.3-1.6h0m-51.4 1.6h0m-43.2-.3h0m18.9-.6h0m11.9-.1h0m-17.3 1.1h0m-12.7-.9h0m88.3 .7h0m-59.2-.3h0m-3 .4h0m47.9-.1h0m-31.2-1h0m-1.2 0h0m32.1-1.7h0m-.3 2.7h0m-33.8-.2h0m70.4-1.6h0m-68 1.3h0m58.5-.7h0m-97.2-.9h0m67.9 .8h0m7.9 1.1h0m25.6-.2h0m-74-.1h0m-15.4-.1h0m71.1 .8h0m-59.2 0h0m91.1-1.3h0m-95.7 .5h0m13.6 .5h0m-18.4-.9h0m52.6-.1h0m-1 1.5h0m-26.9-.2h0m-26.9-.1h0m62-2.1h0m-68.8 .9h0m-1.6-.5h0m67.2 1.1h0m-32.8-.1h0m67.5 1.1h0m-35.9-1.9h0m-14.9-1h0m37.7 2.9h0m19.8-.9h0m-67.7 .9h0m-14.4-.1h0m56.1-1.2h0m-3.9 1h0m27.5-.6h0m-100.5 .1h0m80.5 .7h0m-89.1-1.1h0m96.9 .3h0m-100.5 .7h0m115.4 .3h0m-2.5-.3h0m.4-1.4h0m-43.5-.4h0m-22.9 .1h0m47.4 2h0m-91.1-.7h0m72.2-.5h0m-5.4 .5h0m8 .6h0m-78.4-2h0m98.9 .8h0m1.6-1.1h0m-92.4 .6h0m2.4 1.4h0m-6.8-2.1h0m20.1 2.1h0m75.5-2.7h0m-69.9 2.4h0m19.9 0h0m-31 .6h0m1.3 0h0m50.3-2.3h0m-28.1 1.6h0m51.8-.7h0m23.8 .9h0m.9-.2h0m-6.6-1.7h0m-76.7 1.9h0m63.1-1.2h0m-86.8-.5h0m8.7 1.8h0m-14.2-.8h0m78.7-.5h0m17-2.2h0m-55.5-44.8h0m-10 35.3h0m5.3-61.3h0m2.8 17h0m.2-14.9h0m-4 43.2h0m6.8 16.8h0m-11.5-7.8h0m13.8-58.1h0m-1 58.1h0m-3.6-39.7h0m-4.1-3.5h0m7.9 3.6h0m0-11.7h0m-13.2 35.3h0m14.5-11.7h0m-.7-1.8h0m-12.9-11.8h0m7.6 56.4h0m-2.9-61.7h0m-6 55.9h0m12.9 9.8h0m2-56.9h0m-11.3 30.7h0m1.5-34.2h0m-1.1 35.9h0m3.6-28.6h0m-5.6 22.5h0m10.1-36.1h0m-.8 54h0m3-23.3h0m-12 34.4h0m14.4-3.1h0m-5.3-50h0m-.1-20.6h0m1.9 5h0m-1 51.9h0m1.1-35.7h0m-12.2-13.3h0m5.3 8.4h0m-1.6 5.7h0m4.1 51h0m-3.1-57.9h0m5.8-21.2h0m1.5 25.7h0m-11.7-.8h0m2.5 21h0m5.8 31.1h0m2.8-58.6h0m.6 41.4h0m-13 12.4h0m2.9 8h0m13.5-6.1h0m-10 2.6h0m8.6-22.8h0m-3.9-38.2h0m-2.3 7h0m3.1 26.1h0m3.9 19h0m-5.5-68.7h0m4.7 64.4h0m-1.3-23.5h0m0 31.5h0m-.2-34.8h0m-1.5 31.1h0m-9.5-27.7h0m3.7-13.1h0m8.1 25.7h0m-2.8 3.6h0m-10.8-18.4h0m13.7 19.4h0m-11.6 23.3h0m-2.7-21.9h0m8-51.8h0m-4.1 55.4h0m11.9 16.6h0m-2.9-56.1h0m-9.4 57.6h0m8.4-36.6h0m1.4-38h0m-10.4 10.8h0m3.5-.1h0m-4.7 8.4h0m7.5-24.1h0m-9.5 55.8h0m2.4-31.5h0m10.2 33.1h0m-6-38h0m.6-17.6h0m-4.3 61.6h0m2-32.3h0m-1.6 42.1h0m8.4-32.5h0m-1.4-7.7h0m-9.4 35.9h0m7.6-56.9h0m6 21.4h0m-5.8-21.2h0m4.2 12.1h0m3 29.9h0m-14.6-34.4h0m11.5 16.4h0m-3.3-24.2h0m3.6-4.5h0m2.2 55.6h0m-6.1-56.1h0m-7.2 49.5h0m12.2 11.7h0m-3.3-59.5h0m-5.6 65.8h0m9.7-10.9h0m-9.6 14.5h0m9.5-27.4h0m-3.1-22.4h0m-6.6 26.1h0m3.4-44.2h0m-7.2 29.7h0m4.6 9h0m2.6 30.6h0m-5.9-39.8h0m9.7-38.5h0m-10.8 7.9h0m-1.2 70.9h0m3.1-44.4h0m8.7-31.8h0m2.6 20.7h0m-.9 52.9h0m-12.6-17.6h0m9.5-37.8h0m-5.7 30.1h0m-4.8-5.8h0m1.9-4.9h0m14.4 20.2h0m-7.1-32.6h0m-3.7 30h0m-5.9-49.7h0m3.4 60h0m10-5h0m-12.9 0h0m15.3 4.8h0m-1.3-4.1h0m-11.9-24.2h0m13.2 12.8h0m-2.6 26.3h0m-13.3-70.1h0m16.1 44.2h0m-2.8-33.8h0m-5.1-9.7h0m4.5 18.2h0m-5 .6h0m-.5-28.5h0m-6.2 40.9h0m1 24.8h0m4.8 15.3h0m3.1-60h0m-4.3 20.7h0m10.5-4.1h0m-7-37.8h0m6.3 62.7h0m-13.2 3.2h0m.3-11.2h0m5.9-44h0m-8 6.6h0m12.7 17h0m.1-12.3h0m-9.3 45.5h0m-3.3 10.2h0m6.1-51.2h0m6.6-19.6h0m-5-3.6h0m5.3 44.2h0m-9.8 12h0m10.3-30.2h0m-1.8 2.4h0m.1-18.8h0m-5.9 19.9h0m3.9 47.9h0m6.1-1.7h0m-7.6-71.8h0m2.6 1.9h0m-3.6 .7h0m7.6 21.3h0m-1.3 16.2h0m-4.8-48.9h0m5.9 30.3h0m-2.3-27.5h0m-3.9 8.5h0m-8 27.9h0m3.8 28.5h0m6.2-48.1h0m-7.4 0h0m11.8 38.6h0m-13.1-16.4h0m8.9-17.4h0m2.2 7.3h0m1.3 13.3h0m-12.2-27.1h0m-.1 23h0m11.4 3.3h0m-9.7-7.3h0m10.6 24.5h0m-14.8 12.4h0m5.7-64.8h0m-4.4 40.8h0m12.6-31h0m-2.7 14.7h0m-6.6 29.9h0m2.7-52.7h0m5.2 31.1h0m3-4.4h0m-10.3 15.8h0m8-21.5h0m0 48.9h0m-3.7-69h0m5.8 5.4h0m-11.1-6.4h0m9.6 56.2h0m-.9-5.5h0m.6-56.2h0m-12.7 54.6h0m13.2 6.4h0m1.9-16.7h0m-1.3 12.4h0m-9.6-4.8h0m5.5-20.3h0m3.6-10.8h0m-8.2 46.1h0m-1.2-7h0m7-34.8h0m3.7-5h0m-12.3 15h0m0 9.3h0m-2.4-20.9h0m11.8 12.1h0m-1-41.6h0m-.8 19.5h0m-8.8 12.9h0m1.3-16.2h0m7.1 13.3h0m3-14.8h0m-3.1-4.7h0m-5.2 52.1h0m-3.4-34.4h0m9.2-19.9h0m-1.3 5.9h0m2.1 45h0m-11.6 13.3h0m12.9-65.4h0m-1.3 47.6h0m-9-15.8h0m-1.5 36.2h0m3.1-65.7h0m-.3 23.2h0m3-7.8h0m-5.7 27.4h0m11.5 20.7h0m-1.7-33.7h0m5.2 19.8h0m-4.7-19.2h0m-5.1 .2h0m.2-.7h0m-6.4 20.5h0m11.5-34.4h0m-.3 52.6h0m2.2 4h0m0-41.6h0m-2.7 .1h0m4 15.9h0m-10.6-38.8h0m-2.7 36.5h0m8.7-28.4h0m-5.5 51.6h0m7.7-19.7h0m2.4-11.4h0m-2.4 10.8h0m-.7-11h0m-7.2-16.2h0m9.2 2.5h0m.9-14.3h0m-9 61.3h0m8.2-18.6h0m-8.1-22h0m1 2.5h0m1.1-14.2h0m-2.2 48.8h0m-1.6-14.4h0m5-50h0m-3.8 61.6h0m9.3 1.4h0m1-2.9h0m-7.9 9.3h0m-3.8-7h0m9-9h0m-11.9 .1h0m.4-34.5h0m11.7 43.1h0m-2.5-56.3h0m1.3 55.1h0m-.1-30.9h0m-8.3 8.3h0m11.7 16.5h0m-9.4-32h0m6.7 40.2h0m-.2-51.9h0m-4 59.5h0m3.4-18.8h0m4.1 16.6h0m-15.2 .9h0m9.1-71.6h0m4.2 23.5h0m-4.2-4.4h0m-3.5 3.4h0m4.1-23.9h0m3.7 48.2h0m-1.8 12.8h0m-9 10.1h0m-1.8-6.5h0m8 6.7h0m4.8-66.6h0m.2 7.3h0m-9.5 43.1h0m10.5-41.9h0m-13.3 16.5h0m10.6-32.9h0m-7.2 34.5h0m.3-27.5h0m1.6 10h0m5.9 37h0m-1.4-11.4h0m3.4-1h0m-1.4-33.4h0m.7 2.1h0m-11.2 32h0m8-41.8h0m2.6 30h0m-11.3 27h0m12.9-7.5h0m-3.7-10.6h0m-10.1 31.5h0m13.5-30.3h0m-4.3-38.2h0m-7.6 34.6h0m1.9 18.2h0m-2.3 21.1h0m9.1-46.5h0m-8.2-.4h0m-.5 37.2h0m-1.7-3.9h0m3-28.3h0m-4.5 21.3h0m13.3-28.3h0m-12.4 48.6h0m13.4-48.8h0m-9.6-10.3h0m4.1-6.1h0m8.1 55.2h0m-2.6-50.4h0m-3.5 1.6h0m-.1 12.3h0m4-11h0m-3.6 26.9h0m-7.1 9.6h0m6.5-41.9h0m-6.5 37.5h0m9.4 18.9h0m-12.3-6.7h0m10.3-27.8h0m-6.3 22.1h0m-3.5-48.7h0m9.5 63.8h0m-3.8-63.8h0m-3.6 60.9h0m10.1 1.2h0m0-24.3h0m.9-26.5h0m-9.3 45.4h0m8.4-29.1h0m-1 35.6h0m1.3-57.8h0m.3-2.1h0m-12.8 38.3h0m5.8 26.1h0m5.8-57.1h0m-5.1-3.8h0m-5.7 54.5h0m7.9-60.2h0m2.2 70h0m4-2.5h0m-12.4-40.8h0m-4.2-30.1h0m3.8 42h0m11 9.1h0m-9.5 1.8h0m6.3-33.8h0m-4.6-9.4h0m-2.4 24.1h0m6.5-27.8h0m-5.9 46.4h0m10.4 12.3h0m.3-31.2h0m-9.9-4.2h0m-4.7 38.8h0m2.8-14.8h0m-4.2-52.5h0m13.6 4.5h0m2.3 19h0m-9.4 6.7h0m4.1-17h0m-6-12.9h0m-1.7 20.7h0m1.2 49.4h0m7.3-3.3h0m1-30.2h0m-7.8 10.6h0m6.8-4.5h0m1.3 20.7h0m-12.1-1.4h0m2.2-48.3h0m-1.8 23h0m8.2-25.5h0m-6.9 32.3h0m-.5-18.6h0m8.9-1h0m-10 29.6h0m1.4-48h0m5.7-4.4h0m4.9 59.1h0m-12.3 7.2h0m2.6-28h0m1.1-32.9h0m3.7 64.9h0m3.6-51.1h0m.3-4.8h0m-1.2-13.6h0m-8.1 42h0m12.4-14.6h0m-3.4-8.9h0m4.8 44.3h0m-1.8-72.3h0m-9.6 50.6h0m7.1-33.5h0m-9.3 42.2h0m9.6 9.9h0m-11.9 10.1h0m.5-8.7h0m.2 6.9h0m1.8-24h0m11.6-11.8h0m-1.9-38.4h0m-8.7 69.9h0m10.2-4.8h0m-9.9-14.6h0m7.5 4.7h0m-4.7 15.8h0m7.2-32.1h0m-7.9 4.8h0m8.4-8.7h0m1.6 2.4h0m-6.6-29.8h0m2.2 55.6h0m4.6 .3h0m-4.4-15.9h0m.8-3.9h0m-5.4-24.2h0m7.9-8.9h0m-12.1 49h0m-1 9.6h0m0-6.7h0m2.8-20.2h0m6.7 32.6h0m3-4.3h0m-4.7-49.6h0m-3.8 35h0m-1.1-9.5h0m-1.2-9.3h0m7.9 21.5h0m-8.4-10.5h0m8.2-25.8h0m3.2-27.6h0m-2.4 5.5h0m3 60.8h0m-14.1-40h0m6.8-6.5h0m5 11.5h0m-2.9-18.9h0m6 28h0m-4.1-3.8h0m-1.5-26.9h0m-1.9-1.2h0m7.2 40.9h0m-2.6-32.9h0m-10 34.3h0m12.9 8.2h0m-3.4-38.8h0m.8-7.4h0m-11.3-6.2h0m5.6 11.8h0m8.7 35.6h0m-9.6-20.7h0m7.3 31.7h0m-1.3-60.4h0m-4 14.2h0m5.5 16.2h0m-14.1-.4h0m4.5 30.3h0m-1-24.4h0m-1.2-24.5h0m10.5 40.2h0m1.1-34.6h0m-9.1 20.1h0m8.5-3.6h0m.3-9.8h0m1.9 14.1h0m-14.3 28.8h0m7.9-72.9h0m2.3 50.9h0m-7.9 2.5h0m-2.4-4.9h0m12.6 13.2h0m-6.3-52.3h0m-7.6 63.7h0m.7-23.2h0m13.8 18.4h0m-.2-12.8h0m-8.7-34.4h0m6.1 22.3h0m5 22.3h0m-12.4-42.3h0m9.6-21h0m-7.8 60.1h0m5.4-56.6h0m3.9 63.7h0m-1.7-40.1h0m-1.3 10.5h0m-11.2 16.6h0m10.9 17.1h0m-7-59.3h0m-5 3.4h0m.8 34.6h0m10.8 21.3h0m-11.2-.3h0m1.1-41.7h0m6.4 51.3h0m-4.2-22h0m3.1-41.3h0m5.9 23.4h0m-7.6 39.2h0m-1.2-36.8h0m-.1 19.1h0m11.9-2.3h0m-3.2-35.4h0m-9.4 38.6h0m-.1-22.7h0m-1.9 11.3h0m1.3 3.7h0m-2.7-24.2h0m7.8-8.3h0m-7.8 36.6h0m11.5-44.1h0m3.4 26.4h0m-2.5-15h0m-7.8 48.7h0m4.9-56.3h0m-7.1-6.4h0m7.5 13.6h0m-4.7 .6h0m2.7-13.5h0m7.5 65.8h0m-10.7-42.7h0m1.5 32.4h0m-2.9-16.4h0m9.7-7.8h0m4.3 35.7h0m-5.2-20.6h0m.9-23.4h0m.5 40.2h0m-13.3-62.7h0m5.9 30.1h0m9.3 23.3h0m-9.3 3.8h0m8.9 1.9h0m-10.6 5.3h0m0-53.9h0m5.9-16.9h0m4.1 49.9h0m-9-37.6h0m-.4 5.5h0m-3.5 37.7h0m4.7-2.8h0m-4.9-7.4h0m4 16h0m-.8-26.1h0m10.9-3.7h0m-10.3 6.9h0m5.7 31.2h0m-8 3.3h0m-2.1-12.7h0m10.7-17.3h0m-7 6.4h0m5.2-55.5h0m-7.1 38.1h0m11.9-14.5h0m-7.8-2.1h0m-1 15.8h0m6.3-31.7h0m1.2 54.7h0m1.4-15h0m-4.7 32.4h0m-8.2-11.5h0m14-40.2h0m-6.9-16.1h0m-8.1 63.3h0m7.3-64.9h0m-4.2 34.4h0m12.4 13.4h0m-7.9-52.9h0m-3.2 53.9h0m10.7 3.1h0m-13.9-45.2h0m.6 27h0m-1.2-35.4h0m13.5 3.6h0m-11 44.5h0m3.9-55.3h0m-5.6 40.8h0m10.2-31.7h0m-.5 51.1h0m.4 7.5h0m-6.8-35h0m-2.5 39.3h0m8.5-24.5h0m-1.7-21h0m-4.4 51.8h0m-.2-69.5h0m-1.6 53.8h0m5.7 16.6h0m.3-54.3h0m-4.6-11.4h0m9.2 28.4h0m-2.9-20h0m3.8-10.5h0m-1.4 43.8h0m-12.2-32.5h0m.1 47.9h0m6.3-59.5h0m-7.7 19h0m1.1 20.6h0m13.9 7.1h0m-5.2-32h0m7.1 37.3h0m-13.1-49.2h0m1.4 5.6h0m6.8 18.8h0m1.9-21.5h0m1.5 37.3h0m-3.5-29.5h0m-4.4 5.4h0m-2 3h0m6.6-20.1h0m-7-6.9h0m-1.6 41.7h0m12.4-3.9h0m-2.3 28.3h0m-8.5-39.2h0m.5 9.6h0m4.2-21.1h0m6.6 37.2h0m-6.3-42.3h0m-9.6 2h0m7 1.9h0m-6.9 7.5h0m-.1 42.3h0m14.2-44.4h0m-1.5 8.3h0m-9.3 38.2h0m7.2-35.4h0m1.7-23h0m-3.5-8.4h0m5 2.5h0m.2 29.2h0m1.6 23.6h0m-5.9-37.3h0m6.6 56.8h0m-14.1-21.5h0m-1.7-7.6h0m2.8 24.9h0m-3.6-32h0m15.1-17.7h0m-10.6-4.9h0m10.1 49.7h0m-13.5-17.9h0m12.5 5.6h0m-.4-47.2h0m3.5 63.5h0m-9.8-61.6h0m4.2 48.1h0m-4.7-43.6h0m-.8-6.1h0m8.4 46h0m-.5-4.9h0m-10.2 26.5h0m0-66.6h0m7.2 .5h0m-1.5-6.2h0m-8.4 49.7h0m6-22.7h0m-.7 46.1h0m3.5-75.6h0m-4.7 52.7h0m-2.8 20.2h0m12.5-14.8h0m-9.8-22.9h0m6.1-37.4h0m-10.2 73.8h0m11.9-65.6h0m-10.3 50.9h0m5.4-42.3h0m5 59.8h0m.4-73.7h0m-8.3 73.7h0m9.4-3h0m-11.1-17.8h0m-1.3-32.7h0m.5 22.4h0m13.3 1.8h0m-2.1 23.1h0m-11.8-28.4h0m10.3 26.8h0m1.4-63.1h0m-8.3-2.9h0m-.3 64.1h0m7.7-65h0m1 35.1h0m-13.4 10.4h0m13.8-21.8h0m-1-23.4h0m2.8 49.6h0m-9.7-30.4h0m8.1 29.6h0m-11.9 7.3h0m12.3-53h0m-14.4 61.1h0m12.4-67h0m-6.3 54.6h0m6.6-46.1h0m1.8 25.2h0m-6.1-35.6h0m4.7 19.3h0m-.2 .9h0m-7 9.5h0m1.1 50.3h0m-3-26.1h0m10 9.6h0m.7-35.8h0m-.5-17.6h0m1.3 30.4h0m-7.2-41.9h0m.1 5.1h0m5 55.7h0m-5.8-50.4h0m-3.6 26.9h0" stroke="#c2c2c2" stroke-width="2.90" stroke-linecap="round" fill="none"/>
<path d="M577.1 491h0m-9 30.1h0m6.5-4.3h0m-10.3-2.3h0m12-10.9h0m-5.1-23.3h0m-2.2 9.7h0m3.5 7h0m-6 18.3h0m3 23.8h0m8.7-80.6h0m-5 5.6h0m-2.2 30.9h0m2.7-20.6h0m-5 47.9h0m3.3-9.2h0m-11.5 22.9h0m16.6-25.5h0m-7.2-2.9h0m-2.5-5.5h0m-8.2 36.2h0m15.6-13.9h0m-2.4 22h0m.2-62.7h0m-.4 62.9h0m-4.1-21.7h0m4.4-23.8h0m-22.3 49.2h0m27.5-37h0m-7.1 14.9h0m-16.1 11.3h0m13.6-21.6h0m6 1.6h0m-8.2 10.6h0m12.1-72.9h0m-3.2 29.9h0m-8.3 11.9h0m-17.2 52h0m25.1-27h0m1.7 24h0m-1.2-20.1h0m-15.7-5.7h0m-10.2 32h0m27.2-49.1h0m2.1-12.6h0m-4.5-7.4h0m-14.5 68.1h0m17.8-25.1h0m-2.7-63.4h0m-.6 14.8h0m3-16.9h0m-.2 7.7h0m-3.3 76.4h0m-9.8-23.5h0m.4-21.9h0m13.3-39.2h0m-10 84h0m7.4-85.5h0m-18.4 66.9h0m8.5-18.1h0m12.5-50.4h0m0 11.4h0m-13.6 46.1h0m11.8-21.7h0m-3-.9h0m-16.7 56.3h0m16.8-48.5h0m1.7 5.2h0m-5.4 31.1h0m6.7-45.2h0m-4.9 14.1h0m-2.7-19.5h0m1.1 42.1h0m-2.6-16.6h0m7.5-37h0m-1.1 17.4h0m4.2-24.7h0m-2.4 76.4h0m-8.4 2.1h0m11.3-48.2h0m-13.2 56.2h0m10.5-11.2h0m-1 11.6h0m-5.6-54.6h0m7-8h0m-1.3 37.9h0m-.6-18.4h0m1.6-24.1h0m-4.3 40.5h0m-2.8 3.7h0m-2.6-33.4h0m12.8 33.7h0m-14.9-3.3h0m13.7-48.9h0m-3.2 25.7h0m-5.9 2.4h0m6.4-6.4h0m-2.9-10.9h0m.6 53.7h0m-6.7-6.7h0m12.1-29.8h0m-12.1 15.1h0m9.6-56.9h0m0 49.1h0m3.6-44.5h0m-20.6 52.5h0m11.1 8.7h0m6.1-33.3h0m-7.4 42.3h0m-7.8 3.5h0m3.5-38.6h0m12.3 23.4h0m-7.5-1.4h0m-7.2-3.2h0m9.4-43.8h0m-8.2 72.6h0m-8.4-19.3h0m21.6-60.2h0m-18.2 51.7h0m4.3 19.2h0m1.3-21.3h0m11.6-38.2h0m-3.6 16.7h0m-14 44.1h0m3-33.3h0m15.1-12.9h0m-.2-23.4h0m-.5 23.1h0m-8.6 29.7h0m9.2-63.7h0m-.7 15.8h0m-10.1 60.2h0m.4-23.3h0m12.3-8.5h0m-13.7 12.7h0m-4.7 32.3h0m7-23.7h0m7.5 5.5h0m-12.4-15.6h0m11.6-20h0m6.5-34.6h0m-19.6 62h0m6.5-35.1h0m1.3 2h0m-6.8 29.3h0m4.8-27.1h0m12.5 36.2h0m0-27.4h0m-.4-30.6h0m-.7 47.4h0m-12.1-4.8h0m5.8-22.8h0m-2.1 8.7h0m-4.5 1.8h0m12.6-42.3h0m-19.5 72.4h0m19.1 7.4h0m-19.3-10.3h0m19.8-17.3h0m-6.6-35.9h0m-6.8 47h0m6.9-44.2h0m-2.8 10.3h0m7.1-29.3h0m-6.2 45.7h0m5 23.1h0m-7-8.2h0m11.8-57.6h0m-9.6 64.2h0m-.1 11.8h0m-5.4-35.8h0m12.8 1.5h0m-13.4 45.9h0m5.5-56h0m1.2 33.5h0m2.6 11.1h0m4.5-65.9h0m-18.9 57.6h0m11.8-50.1h0m-9.2 39.2h0m16.9-65.9h0m-3.4 6.8h0m2.7 31h0m2.9 58.1h0m-.5-69h0m-1.6 28h0m-1-44.6h0m3.4 68.5h0m-17.7-21.3h0m-8 21.1h0m23.7-77.2h0m-1.9 5.1h0m-8.8 55.3h0m12.7-27.6h0m-15.5 13.4h0m11.5-21.9h0m-3.7-10.1h0m7.7-10.9h0m-1.2 28.9h0m-11.2 8.3h0m5.5-21.2h0m5 9.1h0m.3-6.5h0m-3.6-16.7h0m2 7.4h0m-17.7 68.6h0m18.9-17.4h0m-17.1 31.6h0m.7-35.8h0m15.6 19.5h0m0-46.6h0m-6.4 16.9h0m8.1-52.7h0m-2.8 49.3h0m.1-35.6h0m3-5.8h0m-2.3 52.9h0m-24.1 33.1h0m25.2-61.9h0m.4-20.9h0m-2.8 72.1h0m-8.3-36h0m-5.5 12.3h0m12.2-29.2h0m-21.4 63.7h0m25.9-77.8h0m-20 67.5h0m7.4-10.1h0m12.7-52.8h0m-1-15.6h0m-15.4 71.6h0m12.3-51.2h0m-12.9 45.2h0m17.7-27.6h0m-10.9 11h0m-3.3 41.2h0m10.9-25.1h0m-2.3-24.6h0m-4-19.7h0m-.5 66.2h0m-19.8 5.7h0m23.7-86.2h0m5.2-11h0m-11.9 67.8h0m8-49.6h0m-.1-10.3h0m-.4 60.1h0m.5-61h0m4.1 20.7h0m-2-17.9h0m-8.7 24.7h0m8.8-6.2h0m-1.6-3h0m.5 13.3h0m-8.2 17.6h0m8.7-43.7h0m-1.4 7h0m4.8 15.5h0m-1.2-27h0m-.8 20.5h0m2.2-24.9h0m-4.9 26.5h0m-8.3 52.2h0m3.6 11.4h0m3.7-60h0m1.7 8.8h0m-18.9 53.9h0m-1.9-4.9h0m11.7-40.9h0m9-41.1h0m1.9 20.7h0m-.2 20.2h0m-14.8 41.2h0m10.3-10.2h0m-13.9 12.8h0m8-43h0m1.1-11h0m8.1-24.1h0m-3.4 0h0m-8.4 36h0m11.1-21.4h0m3 7.9h0m-.4-25.8h0m2.3 33.8h0m-.8-35.8h0m-.3-1.7h0m-22.8 84.9h0m14.6-59.4h0m4.7-3.3h0m-2 37.3h0m4.1-47.3h0m-4.4 57.8h0m-.3-20.4h0m-3.6-21.2h0m8.3-21.2h0m-8.2 47.1h0m6.9-11.9h0m-15.8 16.1h0m8.1-37.1h0m-2.6 61.8h0m-3.5-35h0m16.7-34.7h0m-16.2 60.1h0m5.6-45.8h0m5.9-30.3h0m-.6 29.7h0m3.7-6.5h0m1.9-16.8h0m-6.8 63.5h0m.5-31.3h0m-20.8 41.9h0m16.8-57.9h0m.4-3.4h0m9.1-13.8h0m-12.3 56.3h0m9.7-54.6h0m-5.7 69.1h0m5.5-58.1h0m1.1-22.5h0m1.2 42.3h0m.3-41.3h0m-24.1 83.6h0m13.2-52.6h0m11.9-30h0m-24.2 76h0m24-78.2h0m-1.7 30.7h0m-2.5-17.8h0m3.4-7h0m-3.8 78.1h0m1.5-6.9h0m-17 13.3h0m9.7-42h0m7.2-45h0m-16.1 58h0m14.8-52.5h0m-14.5 80.5h0m16.2-80h0m3.2-10.6h0m-2 6.3h0m-4.1 40.2h0m5.2-29.1h0m-11.7 71.9h0m10.5-31.2h0m1 37.3h0m1.1-71.1h0m-3.8 10.7h0m.9 13.1h0m-6.6 15.9h0m-1.9 25.1h0m9.3-83.1h0m-1.8 63h0m3.1-63.1h0m-15.1 47.7h0m14.3-52h0m-11.7 35.4h0m-3.4 31.5h0m14.1-59.8h0m-12.5 34.4h0m14.9-19.6h0m-18.6 35h0m16-38h0m1.8-19.2h0m-3.8 73.3h0m-8.4 1h0m9.9-62.6h0m-9.1 71.5h0m11.7-46.8h0m-7.5 11.7h0m4.8-12.6h0m-1.9 36.2h0m1.7-66.5h0m3.9 74.3h0m-9.7-7.8h0m1.7-50.3h0m-7.1 20.5h0m3.4 52.1h0m-.2-20h0m6.8-44.9h0m-13.2 60.5h0m-4.2-17h0m-.1 18h0m11.6-65.9h0m9.5-15.2h0m1.5 7.9h0m-4 10.9h0m-9.3 36h0m12.9-59.8h0m-1 64.6h0m-5.9-3.4h0m3.4-20.8h0m-6.8-8.3h0m8.9-31.3h0m-19.4 62.1h0m19.4-56.7h0m1 1.2h0m-10.7 65.2h0m8.2-69.3h0m-3 32.2h0m-1.6 38.7h0m7.4-72.7h0m-11.5 67.8h0m.2 3.6h0m9.7-29.1h0m-4.7-11.2h0m-20.3 45.6h0m6.5-8.4h0m10.8 9.4h0m4.7 7.9h0m-1-31h0m-6.8 10.8h0m.5 23.4h0m11.9-18.5h0m-24.1 2.2h0m17.9-13.2h0m-8.2-4.2h0m11.4-57h0m-7.3 23.5h0m11-15.6h0m-19.4 75.4h0m-4.7-.2h0m22.1-14.9h0m-3.1-56.3h0m-7.2 78.8h0m3.9-52.5h0m1.4 8.7h0m-1.7 30.2h0m-5.1-30.5h0m.7 17h0m-8.2 21.8h0m18.6-66.5h0m-8.2 41.8h0m10.7-38.9h0m-2.7 55.7h0m.6-20.5h0m.9-29.7h0m-2.6 32.5h0m-3.4-39.6h0m4.9-9.9h0m-19.7 77.8h0m7.9-4.3h0m-11.8-1.6h0m6.3-10.8h0m16.2-50h0m-14.5 45.7h0m7.6-40h0m-3.3 56.2h0m-5.3-2h0m3.5-23.4h0m13.6 18.5h0m-4.6-68.1h0m2.1 2.1h0m-.4 34.3h0m4.1-41.2h0m-18.7 64.4h0m14.4-59h0m2.1 30.7h0m-18.3 29.5h0m18.4-30.2h0m1.2 20.5h0m-2-40.9h0m-.3-16.6h0m-13.3 43h0m-1.2 11.3h0m13.3-40.3h0m-4.5 13.5h0m6.9-27.3h0m-22 80.8h0m11.3-26.5h0m4.4-34.2h0m4-22.8h0m-2.1 15.8h0m-11.5 49.5h0m8.3-20.8h0m-1.6 38.4h0m-1.2 8.1h0m10-42.2h0m-.4-11.3h0m-5.6-3.8h0m5.3-21.4h0m-1.2 46.1h0m2.4 4h0m2.6-28.2h0m-1.7-2.5h0m1.6-37.4h0m-11.8 62.1h0m-2.5 17h0m5.3-56.2h0m8.8-21h0m-23.1 74.2h0m21.2 4.7h0m2.1-80.7h0m-.8 .8h0m-12.3 93h0m10.6-15.4h0m-.9-64.5h0m-2.4 0h0m4.2 57.2h0m-5.7-43.3h0m4.8-5.1h0m-3.4-12.7h0m-6 61.8h0m.4-36.6h0m-4.3 60.7h0m2.1-7.1h0m10.8-28.3h0m.7-59.3h0m1.2 4.1h0m-2.1 9.3h0m-5.9 71.2h0m8.2-53.6h0m-9.1 50.7h0m8.8-75.4h0m-3 41.6h0m2.6-48.1h0m-19.9 66.2h0m12-26.4h0m6.9-8.9h0m.2 11.3h0m-2.5 9h0m2-33.2h0m2 43.9h0m-27.7 34.8h0m21.4-50.6h0m-7.2 46.7h0m13.3-83.8h0m-6.2 22.2h0m-1.4-14h0m-4.1 48.8h0m10.5-44.3h0m-5.4 6.3h0m-3.5 56.6h0m-8.9-11.6h0m17-35.1h0m1.2 .2h0m-12.2 52.1h0m9.6-74.5h0m-9.5 79.8h0m13.7-89h0m-5.5 34.2h0m-.1-27.1h0m1.7-6.2h0m3.2 68.6h0m-9.2-19.5h0m3.9-48.7h0m1.9-1.7h0m-2.3 11.3h0m6-18.5h0m-7.5 65h0m5.8-52.3h0m-5.6 26.7h0m-.2 9.6h0m-3.8-2.3h0m7.5-17.6h0m-13.1 41.7h0m13.9-46.5h0m-21.9 60.3h0m19.7-66.6h0m-16 52.8h0m11.9 7.3h0m6.7-64.2h0m-13 44.2h0m4-24.4h0m12.1-21.9h0m-9.1 67.7h0m-.8-2.5h0m.6-55.3h0m-2.6 17.3h0m10.2-36h0m-2.6 8.7h0m-24.5 81h0m28.6-84.8h0m-6.4 19.1h0m2.2-17.2h0m-3.5 16h0m-10.5 45.4h0m15.4-43.7h0m1.5-1h0m.8 40.2h0m-4.6-44.1h0m-8.1 63.3h0m11.6-63.7h0m-3.7 60.5h0m.1-46.3h0m-16.1 28.9h0m11.3-21.4h0m-4.6 46.6h0m8.4-44.5h0m.8 5h0m4.5-36.6h0m-15.4 39.6h0m1.4-11.4h0m5.4 49.7h0m-5.6-16.9h0m7.7-40.7h0m7.4 37h0m-2.5-10h0m-1.7-49h0m-3.1 9.4h0m6.5 66.7h0m-8.1-28.5h0m-10.7 5.3h0m18.7-25.8h0m-.1-40.2h0m-18.1 76h0m14.3-21.3h0m2.2 24.1h0m3-25.9h0m-2.5 17.9h0m-1.4-31.9h0m-3.8-1.9h0m-9 31.7h0m8.5-29.5h0m4.9-4.2h0m-8 6.3h0m2.8 1.3h0m6.5-24.7h0m-4.6 10.4h0m-8.3 35.6h0m9.1 25.4h0m-7.7-43.9h0m3.7-19.4h0m-.2 13h0m-3.6-1.6h0m5.6-.3h0m7.3 49.8h0m-1.8-34.7h0m-4.7-20.5h0m-13.6 52.7h0m13-18.7h0m4.8-57.3h0m-4 28.7h0m-7 20.7h0m8.9 19.7h0m1.8-73.2h0m-17 56.9h0m11.7-26.4h0m-7 32.4h0m14.3-62.3h0m-.1 30h0m-10.4-3.2h0m9.5-30.4h0m-9.5 29.2h0m-3.1 13h0m9.5-33.6h0m-11 58.2h0m6.6-20.5h0m4.5-21.1h0m3 49.8h0m-.4-68.8h0m-9.6 36.8h0m9.9-31h0m-6.1 33.8h0m-.3-15.5h0m2.7 36.8h0m2.2-18.8h0m-13.8 30.6h0m14.3-48.7h0m-2.7-3.1h0m5.8 59.7h0m-1.5-79.5h0m-12 73.7h0m-9.9 2.3h0m22.4-26.3h0m-.8 12.3h0m-1.7-18.8h0m2.2-20.5h0m-4.5 4.9h0m4.4 11.7h0m-20.2 26.2h0m8.8-25.8h0m2.5-2.3h0m7.1 10.3h0m-11.2 21.7h0m7.9-29.2h0m-11.5 40h0m6.2 8.9h0m-8.3-18.5h0m17.2-25.3h0m-8.1 4h0m.2-3.4h0m-2.2-5.7h0m11.5-41.3h0m1.7 3.2h0m-14.1 70.3h0m5.3-51.4h0m.7 7.4h0m.3 7h0m-3.3 17.1h0m7.3-14.7h0m-11.3 1.3h0m3 28.5h0m1.7 4.3h0m-11.8 2.6h0m13.1-63h0m-5.7 77.9h0m11-67.3h0m-5.6 9.1h0m7.1 6h0m-13.7 19.4h0m12.8-30.8h0m-.4 37.6h0m2.6-68.1h0m-12.9 41.5h0m6.5 21h0m6.8-34.2h0m.2-1.6h0m-8.5 35.3h0m1.4-40.7h0m-6.1 12.7h0m-2.4 36.5h0m14.4-67.3h0m-5.3 24.6h0m-8.7 62.1h0m-1-16h0m14.9-11.1h0m-6.1-35.8h0m3.5-23.1h0m-1.6 14.5h0m4.2-16.1h0m-1.9 39h0m-24.7 47.1h0m19.4-30.7h0m-6.7-5h0m8.1 26.8h0m-13.7-2.7h0m9.4-22.6h0m.1 9.1h0m-6.6 12h0m10.2-8.2h0m6.4-53.5h0m-1.7-1.3h0m-3.8 41.3h0m-14.4 15.7h0m17.4-64.3h0m-13.8 85.2h0m3.7-54.2h0m3.7 3.6h0m-10.2 29.5h0m18.7-56.1h0m-4.3 40.9h0m2.3-23.5h0m-6.9 52.6h0m7.3 2.8h0m-3.4-38.1h0m1.9-27.7h0m3.7 30.7h0m-8.7-23.2h0m3.3 6.5h0m3.3-30.6h0m-10.2 53.2h0m10.7-46h0m-4.1 35.2h0m1.2-21.2h0m5.6 42.6h0m-14.6-17.7h0m-.3 .4h0m6.4 42.7h0m-2-44.5h0m5.4-32.8h0m-1 2.8h0m2.2 21h0m2 11.9h0m-10.6 20h0m-.3-39.2h0m-4.9 47.5h0m2.5 6.5h0m-8.1-10.4h0m14.7-40.9h0m-6.3 19.4h0m5.1 34.2h0m3.7-34.3h0m-.9-3.6h0m5.7-7.5h0m-19.6 33.7h0m10.8-54.5h0m3.9 6.1h0m1 26.6h0m-9.1 17.2h0m-5.5-8.6h0m3.2-5h0m-5.6 18.2h0m19-54.8h0m-2.6 25.6h0m2.8-42.7h0m-13.7 85.9h0m14.9-33.5h0m-12.2-18h0m9.4-31.5h0m2.7-9.8h0m-5.2 27.5h0m-2.1 2h0m8.9-10.9h0m-1.2 23.2h0m1.3-33.3h0m-10.8 55.8h0m7.4-11.8h0m-4.1 19.7h0m3.1-55.4h0m-6 61h0m1.3 10.3h0m4.4-42.9h0m3.4 21h0m-.9 29.7h0m-14.7-32.5h0m2.6 30.8h0m11.3-90.8h0m-16.7 91.5h0m8.6-42h0m5.4 38.7h0m4.8-37.2h0m-7.2-2.7h0m4.5-47.1h0m-14.9 70.5h0m.4 5.4h0m4.4 14.4h0m11.2-94.1h0m-11.3 44.5h0m9.9 17.6h0m.3-15.7h0m.5 28.6h0m-14 10.9h0m-4 3.4h0m16.5-79.1h0m4.3 9.5h0m-4-16.2h0m4.6 72.9h0m-9.6-44.9h0m5.3 37.5h0m-4.5-22.4h0m5.9 38.2h0m-4-73.2h0m2.6 29.5h0m-4.3 2.7h0m-.1-1.5h0m2.3 14.9h0m3.1-46.3h0m-7.4 13.7h0m8.7-23.2h0m.5 35h0m-12.2 58.5h0m10.1-53.3h0m1.5-41.4h0m.2 21.2h0m-4.2 45.6h0m4.9 5h0m.6-56.7h0m-9.5 26.9h0m8.5-38.7h0m-5.8 73h0m7-62.8h0m-16.3 55.8h0m14.3-71h0m-7.7 43.5h0m10.6-21.2h0m-10.5 65.1h0m8.1-80.8h0m-7.3 46.8h0m7.1 22.7h0m-6.2-13.2h0m6.4-61.6h0m-17.8 65.1h0m12.2-23.3h0m-4 13.5h0m8.7 5h0m-5 31.7h0m3.5-58.3h0m-2.2 30.4h0m-8.2-2.7h0m-13.4 26.6h0m27-70.7h0m1.2-11.1h0m-7.4 30.4h0m-2.1 1.9h0m4.2-28.1h0m3.3 73.5h0m2.2-60.8h0m-2.9-3.2h0m-1.9 37.6h0m-3.7 35.4h0m4.9-95.3h0m-8.9 71.4h0m4.1-36.3h0m1.2-1.3h0m5.2 31.4h0m-8-1h0m.3-35.8h0m8.2 11.2h0m-3.7 1.7h0m-11.5 17.4h0m11.5-20.4h0m-13.7 56.4h0m14.9-46.6h0m.8-43.5h0m3.2 5.1h0m-10.7 32.2h0m9.5 34.7h0m-5.6-39.5h0m-8.4 19.1h0m10.3-26.1h0m4.8 34.8h0m-4.7-12.2h0m-2.5 28.6h0m3.5-79.7h0m-19.6 92.4h0m16.6-55h0m-5.4 22.2h0m10.4 20.1h0m-1.8-7h0m-14.2-7.8h0m4.6 21.8h0m10.4-83.1h0m-4 73.2h0m1.5-39.1h0m1.5 1.1h0m-4.5-19.3h0m-.9 .8h0m6.3-3.8h0m-6 17.2h0m9-35.2h0m-8.9 21.4h0m5.5 2.5h0m-6.9 55.5h0m-11.4 19h0m2.7-12.6h0m8.6-57.7h0m-15.9 63.9h0m5.3-6.8h0m.2 7.1h0m10.3-31.1h0m9.2 7.2h0m-1.6-55.3h0m.9 53.4h0m-22.8 15.2h0m-3.5 16.1h0m19.2-14.4h0m6.5-23.7h0m-22.1 36h0m20.6-84h0m-.6 26.8h0m1.9-3.7h0m-7.7-4.8h0m3.1 42.9h0m-1.6 3.1h0m-11 14.2h0m16.4-80.6h0m-.5 15.8h0m-5.6 9h0m5.8-15.8h0m1.1 5.8h0m2.9 36.5h0m-6.9 9.5h0m-2.3-35.8h0m3.7 16.4h0m-1.4 18.4h0m5.5-58.5h0m.2-1.1h0m-10.1 21.8h0m5-5h0m-.9 44.8h0m3.3-25.2h0m.3-17.1h0m2.9-2.3h0m-2.7 35.1h0m-8.8 12.1h0m7-56.2h0m-1.1-5.8h0m-5 36.3h0m-1.3 21h0m7.8-57.3h0m-5.4 24.9h0m2.2 47.2h0m7 1.1h0m-8-61.1h0m1.8 34.8h0m-2.6-4.3h0m7.9-41h0m-7.9 10.2h0m-11.8 64.3h0m17.9-74.1h0m-1.5 24.1h0m-12 24.6h0m6.9-32.2h0m-8 50.1h0m17.3-78.8h0m-13.7 67.4h0m13.6-9.5h0m-2.2-52.9h0m-1.2 11.3h0m1.8 6.1h0m-9.9 29.9h0m-1.4 25.6h0m-.4-3.4h0m8.7-26.1h0m-8.8 42.3h0m10.5-84.8h0m-2.1 1.7h0m-13.2 69h0m12.4-43.2h0m1.3-2.2h0m1.4-20.9h0m-3.8 41.1h0m-7.7 25.1h0m4.2 1.2h0m8.2-70h0m-9.3 81.3h0m.3-41.1h0m-1.9 40.2h0m6.6 2.1h0m2.6-23.8h0m3.9 25.7h0m-23-5h0m3.4-21.3h0m12.1-38.4h0m1.6 18.6h0m-.6-26.6h0m3.2 26.8h0m-10.6 24.1h0m11.2-26.8h0m-2.1-30.1h0m-8.3 33h0m10.1-29.5h0m-4.7 15.9h0m-16.2 47.5h0m15 11.5h0m6.5-69.2h0m-1.3 5h0m1.3-23.1h0m-6.4 38.3h0m6-40.6h0m-9.3 81.1h0m12.8-82.9h0m0 53.6h0m-9.8-31.1h0m3.7 42.7h0m-8.1-25h0m10.8 3.6h0m.4-44.4h0m1 37.3h0m-4.3 3.1h0m-4.1-6.6h0m9.8 14.6h0m-5.4-17h0m-10.4 56.2h0m15.9-66.5h0m-10.4 56.5h0m5.7-51.5h0m-4.5 20h0m-5.3 1h0m-.7 9.6h0m-3 15h0m14.9 24h0m-20.9 1.3h0m21.2-97.4h0m1.8 17.7h0m-6.8 28.4h0m-20.8 47.3h0m23.6 2.9h0m-2.3-50.6h0m6.2-41.4h0m-19.7 79.9h0m7.7-20.4h0m11.9-62.4h0m1.8 46.2h0m-5.2-8.8h0m5.1-7.9h0m-3.2 .5h0m1.9 57.1h0m-11.1-47.6h0m6.5 35.2h0m2.9-38.9h0m1.9-19.6h0m-6.8 3.4h0m-.7 57.1h0m7.2-71.6h0m-7.5 56.7h0m5.7-64h0m2.5 2.9h0m-19.7 76.3h0m0-3.7h0m16.7-59.5h0m-7.9 39.8h0m6.9-19.4h0m3-23.4h0m-9.2 15.3h0m-2.1 36.9h0m7.2-53.4h0m-7.1 26.9h0m-1 8.2h0m-4.2 18.5h0m4.8 16h0m7.1-56.5h0m5.2-9.4h0m-11.1 49.4h0m4.3-39.6h0m-22.2 73.2h0m30-.4h0m-.7-77.8h0m-.2-8.5h0m-9.4 29.3h0m-7.3 13.4h0m12.9-48.7h0m5.2 21.7h0m-21.1 53.4h0m13.9-45.9h0m-17.6 52h0m23.1-76h0m-4.2 40.3h0m.9 18.8h0m3.6-69.1h0m-6.6 21h0m7.7-1.7h0m-4 4.3h0m-3 53.5h0m-2.9-29.8h0m9.1-17.6h0m-1 21.2h0m-23.6 30.6h0m21.8 6.3h0m-1.7-72.5h0m-4.5 49.5h0m3.9 22.7h0m-3.6-30.6h0m-4.5 30.6h0m6.6-3.4h0m5.7-72.6h0m-2.2 44h0m-1.1-7.7h0m1.4-46.4h0m-8.9 46.1h0m10.7-21.4h0m-2.2 6.8h0m-1.2-16.9h0m1.1-5.6h0m-9.3 83.9h0m4.9-71.9h0m2.7 16.6h0m5.5-7.5h0m-11.4 47.6h0m8.2-55.6h0m3-21.8h0m.3 14.9h0m-1.6 19.9h0m-5.5 49.6h0m-13.7-14.5h0m11-43.2h0m5 54.5h0m5.3-49.5h0m-10.8-6.7h0m.9 17.3h0m-12 34h0m10.3-9.4h0m8.6-9.7h0m-1.4-28.9h0m-2-12.7h0m-4 40.3h0m5.5-46h0m.1-6.6h0m2.9 61.1h0m-17-3.3h0m-2.4 27.3h0m17.9-48.5h0m-1.5-26h0m-4.3 35.6h0m2.1 23.9h0m-15.7 5.1h0m15.3 5.3h0m5.5-78.8h0m-.5 32h0m.5-3.3h0m-1.8 4.4h0m-19.7 47.2h0m15.7-69.8h0m-.1-1.6h0m5.6 10.2h0m-10.4 31.8h0m5.2-44.5h0m6.1-9.2h0m-17.7 52.5h0m11.6-3.4h0m.9-20.8h0m-15.4 37.8h0m9.2-7.5h0m.7 10.4h0m4-1.6h0m-11.4-14.1h0m5.3-1.5h0m8.3-12.7h0m3.1-37.1h0m-6.4 79.4h0m-5.9 2.6h0m9.5 4.9h0m-10.8-47.2h0m-1.4 23.8h0m10.5-41.1h0m2.2-21.9h0m-1.2 22.4h0m6-28.5h0m-1.4 18h0m-6.8 1.3h0m6.2 28.3h0m-2-47.3h0m.8 15.2h0m-2.9-6.5h0m.8 7.7h0m-9.8 55.3h0m3.6 16.4h0m5.9-56.1h0m-6.4 23.7h0m-4.9 3h0m12.4-19.5h0m3.5-32.6h0m1 20.1h0m-1.9-27.8h0m-25.2 96.5h0m24.2-84.7h0m2.3-2.6h0m-2.9 4.1h0m.4 10.1h0m1.6-21.1h0m-6.6 14.7h0m-3.4 23.4h0m10.9 42.4h0m-9.1-45.9h0m9.3-4.6h0m-10 45.7h0m2.5-58h0m1.6 73.4h0m.1-78.9h0m-22.8 83.3h0m27.5-96.9h0m-7.5 20h0m3.3-4.2h0m-4 11.7h0m6.5-24.8h0m-1 15.2h0m-1.9 55.8h0m2.6-41.9h0m-1.6-6.7h0m-.4 70.2h0m5.5-54.3h0m-3.4-42.4h0m-9.4 93.4h0m9-85.3h0m-1.6 37.1h0m0-8.1h0m-2.1 32.7h0m2.5-63.8h0m-1.3 4.4h0m3.4-2.6h0m.3 33.9h0m-9.3 8.6h0m12-42.5h0m-11.2 50.2h0m-3.1 16.4h0m8.7-64.4h0m1.5 16.3h0m-.6-18h0m1.9 11.2h0m-.3-19.2h0m-4.7 20.3h0m-2.1 62.1h0m6.9-6.6h0m-2.5-5.1h0m5.1-65.9h0m-12.5 28.8h0m-8 47.3h0m19.1-47.9h0m-5.2 26.1h0m-17.6 30.7h0m20.8 7h0m.8-94.4h0m-7.4 53.6h0m7.8-48.4h0m-15.8 81.4h0m11.8-48.4h0m-2.6 38.2h0m2.1-59.8h0m1.1 39.5h0m4.1-56.5h0m-4.9 21.9h0m-5.2 23.1h0m8.2-42.7h0m-11.6 80.4h0m-13.5 9.1h0m26.9-90h0m-10 45.8h0m-8.7 41h0m12.8-70h0m2.6-14.4h0m-9.2 74.6h0m13-46.6h0m-18.5 29h0m12.3-41.6h0m5.7 66.3h0m1.3-84.2h0m-8.7 28.1h0m9.6 63.4h0m-3.4-94.8h0m-5.2 89.4h0m.1-23.9h0m7-8.6h0m-5.2-10.6h0m1.5 21.8h0m5.1-35.9h0m-20.5 30.3h0m18.9-36.3h0m-2.5-1.8h0m4.1-7.2h0m-15.5 54h0m14.4-56.9h0m-21.2 80.5h0m11.1-51.7h0m10.3 15h0m.9-38.1h0m-4.1 21.1h0m-1.5 50.2h0m-12.9-20.1h0m16.9 15.4h0m-2.5-84.6h0m1-2.6h0m-16.4 70h0m16.4-41.7h0m-1.7 14.5h0m-4.7 51.4h0m3.7-67.3h0m-13 47.5h0m-3.5 2.9h0m16.9-11.8h0m-3.6 1.2h0m-3.6 7.8h0m2.4-22.3h0m.5-23.4h0m-1.9 45h0m8.6-49.9h0m.5 53.3h0m-5.8-8.3h0m-8.3 23.9h0m4-49.6h0m10.7-18h0m-11.6 31.5h0m-3 27.8h0m11.7-59.4h0m-8.1 60.6h0m7.2-20.5h0m-13.2 16.5h0m18.7-72.4h0m-22.3 79.7h0m17.6-68.5h0m3.2-21.3h0m-3.2 17.5h0m.5-1.5h0m-4 80h0m-2.7-23.6h0m-4.6-13.1h0m4.1-8.5h0m10.4-38.7h0m-1 66.9h0m-22.4-1.3h0m22.8-72.7h0m-23.3 84.8h0m20.2-84.6h0m-1.1 3.9h0m-1.3 38.4h0m7 11h0m-20.9 11.9h0m16.6-51.1h0m-20.3 61.9h0m19.5-6h0m2.3-73.7h0m-6.9 47.8h0m-1.7 .1h0m7.6-30.4h0m1.9 9.4h0m-1.7-15.9h0m3.7 4.7h0m-19.8 80.3h0m6.3-57.8h0m10.4 24.7h0m-.2-50.9h0m-1.4 39.4h0m-14.8 10.6h0m-4.7 17.9h0m23.9-8.1h0m-.6-43.6h0m.6 6.7h0m-.6 27.7h0m-6.6-45.7h0m6.6 32.5h0m-5.2 7.4h0m-9.7-12.5h0m7.9-20.6h0m2.3 62.9h0m-15.4 2.3h0m7.5-50.5h0m7.1-7.5h0m3.1-29.4h0m-16.6 79.6h0m19.6-28.4h0m-8.8-3.6h0m-18 35.2h0m23.7-85.8h0m-28.9 92.3h0m1.4-16.6h0m12.5-52.5h0m-6.5 41.9h0m14.8-62.1h0m5.3-6.6h0m-26.1 94.3h0m-8.9-9.7h0m23.6-46.2h0m-13.2 52.6h0m7.6-29.3h0m1.3-24.7h0m-12 56h0m3.5 2.1h0m15.9-61.1h0m-12 40h0m-8 14.1h0m16.1-46.2h0m13.2-38.7h0m-23.8 87.7h0m5.8-54.5h0m4 8.8h0m-5.2 24.3h0m13.1-53.3h0m5-7.9h0m-4-9.5h0m-10.5 60.2h0m12.6-45h0m-15.9 56.4h0m-1 3.1h0m-8.2 29.2h0m7.8-29.1h0m13.6-54.4h0m2.5 .8h0m-23 68.6h0m2.6-10.7h0m17.5-52.2h0m-22.8 76.5h0m5.3-15.2h0m15.3-65.4h0m5.2-2.6h0m-7.9 14.2h0m-22.9 65.8h0m32.4-87.8h0m-8.1 20.7h0m9.5-28.9h0m-33.9 99h0m8.1-6.7h0m17.5-68.7h0m-14.3 62.5h0m14.6-69.7h0m-4.1 16h0m9-28.9h0m-13.8 30.8h0m-13.1 56.1h0m28.9-93h0m-19.3 75.9h0m8.4-27.2h0m9.7-50h0m-3.1 15h0m.7 1h0m-18.4 70.1h0m19.9-66.3h0m-15.6 42.2h0m17.2-52.4h0m-2.7 8.6h0m4.2-9.2h0m-20.7 64.1h0m19.6-67.3h0m-22.9 52h0m8.1-13.7h0m-8.9 43.3h0m25.6-82.6h0m-25.3 86.9h0m11.4-35h0m11.8-49.8h0m-1.5-6.4h0m-22.3 89h0m18.3-98.6h0m-10 13.6h0m8.2-5.2h0m5.4 1h0m-.9 7.4h0m4.5 2.1h0m-28.1 31.5h0m3.6 18.9h0m-2.7 23.1h0m9.1-57.8h0m-3.6 7.4h0m6.3-17.9h0" stroke="#231f20" stroke-width="2.90" stroke-linecap="round" fill="none"/>
<path d="M618.4 538.4h0m16.2 11.5h0m-16.3-13.6h0m1.8 8h0m-15.3-4h0m-7.3-2.3h0m8.6-7.8h0m32-4.5h0m3.5 15.8h0m-34.8-.8h0m42.3 8.8h0m-6.4-8.7h0m17.8-3.2h0m-45.3-3.1h0m36.3 14h0m.9 3.1h0m-28.9 2.3h0m-22.6-1.6h0m24.2-12.9h0m-14.8 7.4h0m9.9 3.1h0m-23.7-8.5h0m18.3 2.8h0m11.5 6.9h0m-6-5.4h0m24.8 6.2h0m-2.8-1h0m-43-11.3h0m49.5-.4h0m-49-13.3h0m58.2 10.8h0m-61.5-3.6h0m11.3-3.4h0m-.6 11.1h0m25.1-6.1h0m-10.5 8.2h0m-3.5-7.3h0m4.9-8.2h0m4.5-2.5h0m-4.8 4h0m-4.1 1.8h0m39.5 22.1h0m-30.8-9.9h0m-18.4-12.1h0m27 13.3h0m-11 6.7h0m-1.7-5.1h0m-12.1 .5h0m28.3-6.8h0m13.1 4h0m-25.2 8.4h0m-18.6-7.7h0m17.1 .2h0m29.6-11.7h0m-7.2 7.4h0m.5 9.9h0m10.4 .1h0m-49.8-2.7h0m-11.3-6.1h0m24.7 2.7h0m5.3-7.5h0m12.2 6.8h0m21.7-12.4h0m-41.1-.2h0m24.1 15.6h0m15.7-17.9h0m-38 13.7h0m24.5 11.1h0m-38.5-19.9h0m-1.8 17.3h0m53.1-19.9h0m-17.5-1.8h0m5.5 10.4h0m10.4-6.8h0m-36.2 10.6h0m4 9.5h0m18.6-26.6h0m-24.4 21h0m-15.2-7.3h0m23.8 1.1h0m-.8-1.7h0m-20.7 13.9h0m15.6-1.2h0m-2.3-11.6h0m22.5-3.3h0m-23.4 7.6h0m6.6 8.5h0m23.9-13.1h0m-28.3-2.4h0m5.1 13.7h0m4.3 2.7h0m-2.3-20.1h0m18.3 8.9h0m13.7-7h0m-6.2 8.6h0m-37.5 9.7h0m32.8-10.8h0m-22.7 11h0m20.1-15h0m-17.3-9.2h0m3.2 23.1h0m26.3-20.6h0m-44.3 16.9h0m43.5-4.4h0m-56.7-19.9h0m23.7 7.5h0m-4.9 6.7h0m10.3-4.6h0m28.8 7.2h0m.7-10.7h0m-1.1-6h0m-63.8 1.6h0m45.2 12.2h0m-44.5 10.5h0m50.7-18.6h0m-10.2 11.9h0m-24.5 3h0m19.4-13.4h0m21.2-5h0m-56.9 10.5h0m43.7 2.5h0m-12.4-.3h0m-28.2 7.7h0m15.4 3.6h0m-2.8-15.5h0m48.6 7.3h0m-.7-11.1h0m-26.8 1.8h0m25.7 5.6h0m-18.3 2.9h0m-41 11.7h0m1.7-3.1h0m45.2-21h0m-32.3 10.9h0m34.5-1h0m-33.6-8.2h0m4.2 21.2h0m4.2-20.6h0m20 13.7h0m6.2-5.6h0m-34.8 5.3h0m-7.8-15.7h0m23.2 15.2h0m4.1 5.6h0m26.2-15.7h0m-25 18.8h0m-34.5-5.3h0m40.2-21.2h0m-10.9 6.2h0m27 18.5h0m-45.5-23.4h0m-3.7-1.6h0m32.2 2.5h0m-24.3 16h0m15.7 5h0m1.8-4.7h0m3.6-15.8h0m-21.6 14.1h0m27.1-8.7h0m3.6 16.4h0m-15.7-5.2h0m-.5 1.8h0m-2.2-11.5h0m-1.5-10.3h0m-2.8 11.2h0m-12.5-12.3h0m5.5 21.9h0m37.5 2.4h0m-56.2-18.3h0m20.5 21.5h0m31.5-9.4h0m-35.9 6h0m32.4-12.1h0m-3.1 12.2h0m5-7.2h0m-44.3-7.9h0m45.4-7.2h0m-42.6 20.7h0m11.1 .2h0m-20.6-6.5h0m42.1-.9h0m-23.2-5.4h0m28.1 4.1h0m8.7 3h0m4.8-1.1h0m-2.4-1.9h0m-30.2-.6h0m-9.6 12.1h0m3.2-.1h0m-12.8 .1h0m22.9-23.8h0m-8.7 18.7h0m-17.4-8.2h0m35.1 7.8h0m-32.5-9.7h0m39.5 6.3h0m-15.7 5h0m-29.2-5.7h0m47.5 0h0m-23.2 12.1h0m-2.5-26.4h0m16.3 16.5h0m-17.4 7h0m39.4-17.5h0m-17.8 17.8h0m-40.1-2.5h0m1.9 1.9h0m50.3 2.4h0m-44.3 1.3h0m12.8-3.1h0m-13.2-15.3h0m21.9 17h0m-17.6-24.7h0m12 14.7h0m-11.8 3.9h0m27.7-15h0m-11-5.2h0m-22.9 13.9h0m15.7 4.2h0m-11.7 5h0m-6.9-.9h0m11.4-10h0m6.9-9h0m32.7 18.5h0m-35.9-9h0m-19.1 10.6h0m-1.3-3.7h0m17.2-1.4h0m3.1-.3h0m15.2 3.2h0m-32.7-11.5h0m30.8 .7h0m12.1-1.5h0m-31.6 8.8h0m22.1-1.5h0m-10.6 .4h0m17.4-2.5h0m7.8-14.6h0m-52 17.2h0m44-1.1h0m-21.2-9.8h0m19.5 17.7h0m-33.7 3.7h0m22.5-9.6h0m-33.4-11.9h0m1.3 19h0m46.8-21.5h0m-33 1.1h0m9.5 19.8h0m21.5 2.7h0m-44.6-13.6h0m46.6 10.8h0m-25.9-11.6h0m6.6 8.7h0m18.7-10.1h0m-25.3 .8h0m35 13.5h0m-8.9-2h0m-14.8-9.4h0m8 11.9h0m-11-10.9h0m25.9 6.9h0m-3.1-18.6h0m-37.7 3.2h0m-13.7 16h0m11-2.7h0m29.6 3.5h0m-32.2-3.6h0m39.4-2.9h0m-6.6 3.4h0m3.2-7.9h0m0 3h0m13 9.4h0m-.9 .8h0m-29.3 .4h0m-2.7-6h0m34.2-20.4h0m.4 25.3h0m-35.5-13.6h0m-2.7 13.5h0m-7.3-8h0m18.4 8.8h0m6.9-9.4h0m-21.5 1.2h0m-6.5-11.5h0m26.8-3.8h0m10.6 24.9h0m-14.1-9.6h0m.4 0h0m-21.6 4.1h0m-14-2.7h0m-1.2 4.2h0m63.3-8.9h0m-48.3-6.7h0m-11.8 8.4h0m44.1-16.9h0m-35.5 17h0m30.7 3.2h0m-17.3-3.2h0m32.7-3.7h0m-7.2 7.8h0m-18.5 4.3h0m31-10.2h0m-3.9 3.6h0m-29.4 1.2h0m17.8-4.8h0m-44.5 9.6h0m49.7 2.8h0m-24.9 .4h0m7.7-23.9h0m-33.3 9.3h0m36.3 10.9h0m-26.5-14.7h0m17.2 4.3h0m-1.6 .2h0m-6.8 4.4h0m-14.3-3.4h0m44.9 3.4h0m-46.2-7.8h0m2.5 13.2h0m.8-8.5h0m54.8 4.6h0m-16.9-6.6h0m2-.7h0m-35.1 1h0m51.5-7.3h0m-12.3-4h0m2.2 6.7h0m-10-1.2h0m-21.1 16.4h0m27.7 3h0m-45.5 .3h0m44.2-25.1h0m-32.9 1.5h0m-7.1 8.3h0m45.2 11h0m-53.2 .6h0m24.7-10.1h0m27.6 3.5h0m11-14.5h0m-13.1 11.9h0m-12.8-12.2h0m-22.5 10.5h0m45.1 8.1h0m-18.8 4.3h0m.8 .6h0m13.4-8.9h0m-34.4 5.2h0m12.3 6.6h0m28.4-4.6h0m-24.9 4.7h0m-29.8-12.8h0m6.5-9.5h0m1.6 12.1h0m30.1-.4h0m-.4-.9h0m-35.3-13.1h0m32.2 3.9h0m-41.6 16.9h0m36.3-10.2h0m-9.8 2.6h0m36.1 8h0m-9-14.9h0m-2.2-.5h0m-.7 12.2h0m-9.5-22.1h0m-4.1 22.3h0m5-18.1h0m-19.6 17.5h0m-4-3.5h0m-11.4-16.7h0m6.1 14.2h0m-2.5-4h0m28.1-1.9h0m-20.4 11.4h0m.9 6h0m13.8-6.5h0m27.1 1.4h0m-8.1-7.8h0m-53 8.8h0m.5-17.4h0m2 10.6h0m46.2 9.9h0m-4.2 1.4h0m-2.5-24.1h0m-19.5 18.9h0m1.5 .1h0m-10.3 6.3h0m-14.4-12.8h0m63.6 2.1h0m-23.9-11.1h0m6.7 20.4h0m-39.2-23.3h0m-.5 16h0m5.3-14.2h0m40.6 19h0m-24.1-21.3h0m21.5 19.8h0m-27.5 4.7h0m42.4-4.5h0m-54.5-14.7h0m16.3 12.8h0m29.2-8.3h0m5.1 1.4h0m-29.7 .1h0m-27.5 13.2h0m26.4-2.3h0m2.3-2.2h0m-13.7-9.6h0m38.6 4.5h0m-29.3 5.7h0m31.2-11.4h0m-21.7-8.1h0m11.2 11.3h0m-31.8-6.5h0m40.7 8h0m-49.7-11h0m16.7 8.8h0m-12.8-11.8h0m7.9 10.4h0m12.2 10h0m10.3-5.6h0m-15.4-7.5h0m-24.9-6.9h0m6 6h0m37.4 16.2h0m12.2-7.8h0m-46.7 9.9h0m15.1-14h0m2.1-3.2h0m35.9-5.7h0m-49.8 10.9h0m14.2 9.4h0m3.8 .7h0m24.4-24.8h0m4.9 21.6h0m-1.2 5.5h0m-47.3-15.9h0m2.1-10.5h0m24.6 9h0m-34.7 9.3h0m28.4 3h0m21.1-22.3h0m.4 18.3h0m-29.9-4.9h0m32.8 3.2h0m-35.9-18.4h0m20.1 18.3h0m21.8-3.8h0m-45-6.1h0m20-2.2h0m-25.2 12.1h0m6.6-5.7h0m24.9 12.5h0m-3.1-12.4h0m-15 4.4h0m16.2 11.6h0m5.9-23.6h0m5.6 6.4h0m-20.2 12.3h0m-14.4-10.5h0m-7.8 16h0m.1-25h0m-9.5 13.9h0m29.3 7.4h0m19.5-4.5h0m-39.3-11h0m5.2 7.9h0m-9-1.9h0m25.1 1.7h0m1.7 5.1h0m5.2-2.3h0m2-1.1h0m-14.4 9.3h0m-6.1-15.5h0m31.5 9.7h0m-30.2 .1h0m3.2-3.4h0m3.8 5.4h0m19.1-7.1h0m-49.3 3.9h0m39.7-19.9h0m-9.4 23.8h0m29.3-6h0m-22.8 6.2h0m-.8-9.8h0m-7.6-.8h0m36.7 1.1h0m-30.5-1.7h0m-17.9 5.2h0m40.6 6.4h0m-44.6-4.6h0m2.3-2.6h0m34.1 1.6h0m-31.2 6.7h0m42.4 2h0m-56.7-.7h0m32.1-21.2h0m13.7 15.5h0m-19.8-16.1h0m.4-.9h0m23.4 12.7h0m6.9 7.3h0m-54.9 1.7h0m21.5-13.8h0m26.1 4.4h0m-42.9 3.5h0m18.8-18.8h0m7.7 24.6h0m-9.4-12.1h0m3.6 5.1h0m-20.2 8.1h0m53.5-9.4h0m-48.2-1.3h0m-9.2-9h0m9.3 17h0m-4.1 2.3h0m49-18.8h0m-59.8 4.8h0m58.1 9.4h0m-36.2-17.4h0m0-1.9h0m15.3-4h0m3.8 13.5h0m-28.5 5.1h0m7.2-7.2h0m-12 8.3h0m-1.4 5.5h0m23-6.6h0m14.8 3h0m-9.3-9.3h0m-3.2-2.4h0m-16.7 .9h0m33.2-10.3h0m6.8 6h0m-5.1 6.4h0m-48.5-13.4h0m.7 2.7h0m-3.5 4.1h0m2.2-1.1h0m5.7 18.3h0m49.4-17.6h0m.8 3.4h0m-22.2 16.6h0m-19-26.4h0m25 7.7h0m4.4-6h0m14.5 27.4h0m-12.8-28.5h0m1.2 18.7h0m-19.3-7h0m-15.3-7.1h0m49.6 9.8h0m-63.2-6.8h0m37 6.5h0m-14.6-.9h0m-12.9-10.1h0m-.3 20h0m18.5-5h0m-28.9 3.4h0m35.7-19.3h0m28.9 15.9h0m-19.2 10.8h0m-11.3-24.2h0m-22.8 19.6h0m39-10.2h0m-2.7 9.1h0m-16.4-9.8h0m30.6 8.2h0m-57.3-9.4h0m33.4 9.7h0m-33.8-10.5h0m15.8-9.8h0m19.9 10.1h0m22.7 15.2h0m-25.1-10.4h0m-6.2-8.5h0m-19.5-4.5h0m24 12.6h0m-15.9 10.6h0m40.9-3.8h0m-59.8-23h0m40.7 15.3h0m18.4 6.1h0m-26 .4h0m9-5.8h0m-11.2-3.3h0m-12-12.6h0m-14.2 26.8h0m30.5-1.5h0m-4.6-10.4h0m-22.1-7.1h0m35.9 11.6h0m-15.5-7.6h0m27.4 5.5h0m-23.8 2.5h0m5.9 1.7h0m.1-8.5h0m-23.4-11.1h0m-10.5 20.9h0m56 3.3h0m-8.7-6.6h0m8.3 9.2h0m-1.1-11.1h0m-26.7 2.2h0m5-8.1h0m-37-10.5h0m15.1 17.5h0m7.6-10h0m37.4 4.4h0m-48.4 3.2h0m-5.5 1.5h0m55.5 6.5h0m-20.2-2.4h0m-28.1-5.1h0m49.1-1.2h0m-15.4 7.6h0m-21.9-20.8h0m5.4 1.8h0m14.3 12.1h0m-12.4-6.4h0m-23.8 18.1h0m32.3-19.6h0m-24.7 10.5h0m39.5-.1h0m-31.3 9.8h0m17.8-18.6h0m10.8 18.2h0m-7.6-10.2h0m-30.7-14.6h0m2.7 2.5h0m-17.2 18.9h0m4.1-18.4h0m59.5 21.8h0m-2.7-11.4h0m-29.8-.8h0m-12.2 10.2h0m23.1-13.8h0m-8.2-10.9h0m-8.9 .1h0m-8.2 21.3h0m47 1.8h0m-39.1-15.8h0m-22.2 18.5h0m-.4-26h0m30 5.6h0m18.4 20.6h0m-28.9-16.5h0m-2 8.3h0m24.2 7.1h0m-1.5-6.6h0m-4.2-11.8h0m-1.2 14.2h0m25.8-4.5h0m-58.5-6.1h0m9.7 3.7h0m21.9-5.3h0m4.2 5.2h0m-12.5-2.7h0m-8.5-11.7h0m.6 12.3h0m-11.4 15.7h0m-9.1-18.7h0m8.9 14.4h0m56-7.7h0m-13.6 9.8h0m-.3-12.2h0m-29.6-9.3h0m-14.3 6.5h0m5.5 14.8h0m19.3-19.1h0m11.3 18.4h0m-40.4-6.2h0m45.3-4h0m-46.8-2.3h0m15.6 .9h0m26.6-3.7h0m15.5 8.3h0m-25.8-17.3h0m-2.2 20h0m-27.6-12.4h0m49.5 4.7h0m-40.9-3.5h0m-6.8-10.2h0m5.2 28.3h0m39.9-12.7h0m1.9-4.3h0m4 .8h0m-43.5 11.2h0m-4-7.3h0m54.8 10.7h0m-5.2-22.5h0m-35.7 12.8h0m3.7 6h0m15.7-17h0m-32 21.4h0m11.4-24h0m36.2 3.4h0m-24.8-6.1h0m-25.6 6.8h0m51.7-6.3h0m-38.7 21.4h0m22.7-6.1h0m14.2 5.9h0m-6.6 5.2h0m-38.8-15.6h0m41.3 11.1h0m-46.9 .4h0m37.8-18.2h0m-7 13.4h0m10-6h0m-20.1-.6h0m-3.6 3.2h0m-3.3 9.5h0m34.5-10.9h0m-28.6 10.8h0m10.5-5.6h0m-19.3 8.9h0m18-20.8h0m-17.5 14.1h0m15.4-9h0m-23.3-8.8h0m5.8 15h0m18.5 9.7h0m-30.3-20.4h0m37.1-7.1h0m-38.6 13.3h0m55.5-3.4h0m-25.1 13.1h0m-15.7-21.8h0m-12 22.3h0m6.6-9.9h0m32.2-9.8h0m11.6 20.5h0m-33.3-14.4h0m35 14.7h0m-3.3-.4h0m-51.4-23.2h0m36.1 18.1h0m21 6.4h0m-27.8-13.7h0m-22.7-11.5h0m20.6 7.3h0m25.8-3.4h0m-41.3 8.7h0m40.4 10.1h0m5.6 2.9h0m-34.5-15.3h0m-11.6 4.6h0m35 7.6h0m-37.2-2.7h0m32.3-.2h0m-37.2-13.4h0m1.3 13h0m10.6-6.2h0m42.4 0h0m-26.8 11.1h0m1.2-8.8h0m-19.7 1.8h0m3.2 2.2h0m16.1-9.4h0m-29.9-10.7h0m36.4 9.1h0m-32-7.1h0m.6 23.7h0m12-18.6h0m-22.4 2.5h0m47.8 10.3h0m17.4-20.5h0m-65.4 6.5h0m31.4 9.4h0m18.4-13.7h0m10.5 16.5h0m-27.1 10.1h0m28.8-8.3h0m-61.7-3.9h0m27.8-15.7h0m3.6 15.6h0m-30-16.2h0m19 25.1h0m3-12.3h0m1 15.6h0m23.1-13.4h0m3.7-11.8h0m-26.2 11.7h0m-19.3-10.5h0m17.6 11.9h0m-13.1-8.9h0m19.4 20h0m-18.6-2h0m-2.1 1.4h0m3-2.7h0m-1.7-7.1h0m23-11.4h0m-13.1 2.7h0m-11.7 10.7h0m21.8-4h0m22.9-1.4h0m-16.3 7.5h0m-30.5-1h0m24.9-17.1h0m-11.3 9.1h0m-.4-12.4h0m31.8 26.9h0m6.7-23.4h0m-23.8 16.6h0m2.2-8.2h0m5.6-5.1h0m-22.6-.1h0m40.4 7.5h0m-33.5-4.3h0m-21 17.6h0m4.6-23.4h0m53 11.6h0m-26.5-1h0m2.6 6.9h0m-20.4-13.4h0m-1.6 18.8h0m44.2-14.1h0m-10.3-8.9h0m-37.5 13.5h0m1.8-17.2h0m-12.8 14.6h0m47.3 4.6h0m-11.6-1.5h0m-30.7 3.8h0m7.6 3.7h0m14.6-4.2h0m11.4-1.9h0m-24-4.9h0m14.3 12.8h0m-12.6-.6h0m-1.6-3.9h0m43.8-8.8h0m-2.1-11.7h0m-31.4 14.3h0m31.1 9.6h0m-5.3 1.5h0m7.4-27.8h0m-54.8 14.6h0m11.2 11.4h0m20.9-4.7h0m11.2-5.8h0m-41.5 13.7h0m49.3-1.6h0m-25.6-10h0m22 8.6h0m-37.5-1.9h0m-8.1-.2h0m46.7 1.4h0m-47.5-2h0m47.4-8.8h0m-40.7 12.6h0m7.6-4.7h0m32.4-15h0m-13.9 8.8h0m-4.2 .2h0m27.4-6.2h0m-47.3 3.4h0m17.8 2.1h0m27.3-8.5h0m-36.7 2.9h0m3.9 18.6h0m33.3-13h0m-55.9-1.4h0m18.5-12.5h0m-24.1-.7h0m18.8 2.4h0m-11.9 13.8h0m-.7-4.8h0m25.2 4.2h0m5.4-13.9h0m-7 24.8h0m8.6-2.9h0m-12.7 3.1h0m39.1-.2h0m-49.7-25.1h0m14.5 17.2h0m-28.4-16.4h0m64.2 24.8h0m-38.8-16.1h0m26.6 6h0m-16.7 11.1h0m-35.6-15.2h0m20.7 7.7h0m-8.8 4.1h0m-3.8-16.9h0m7.5 12.8h0m42.3-16.2h0m-57.3 18h0m34.7-1h0m-10.5-1.2h0m23.8 4.7h0m-24.4-17.1h0m-11.1 .8h0m-1.2 8.9h0m47.6 4.7h0m-39-12.3h0m23.1 12.6h0m-29.5-19.3h0m22.1 18.1h0m-3.3-20.7h0m28.2 9.4h0m-48.3-3.2h0m30.5-7.7h0m-13.3 16.2h0m34.2-15h0m-14.8 16.2h0m-33-4.4h0m47.5 5.9h0m-38.7 1.5h0m5.7 5.1h0m31.3-2.6h0m-26.2 3.3h0m8.3 1.6h0m-2.4-6.3h0m-14.9 6.5h0m-13.5-18.4h0m12 17.9h0m26.1-15.2h0m-5.8-12.6h0m8.9 15.8h0m1.4-4.8h0m-41.6-5.8h0m23.7 23h0m-21.9-10.8h0m6.6 10.8h0m-19.7-6.6h0m5.7 6.3h0m-8.1-16.4h0m59.9 15.8h0m-2.3-12h0m-14.2 .5h0m-12.1-.3h0m-3.1-.1h0m-22.1-2.9h0m54.5 10.9h0m-16.6-4.2h0m-22.7 1h0m28.1 3.6h0m-40.1-18.1h0m52 22.7h0m-16.5-5.3h0m7.9-13.8h0m-36.9 14.9h0m24.1 2.1h0m4.6-16.1h0m8.9 9.1h0m-36.3 5h0m10-13.7h0m-16.1-8.9h0m44.9 1.9h0m-52.6 .1h0m36.2 4h0m1.1 4h0m7-11.9h0m8.5 7.7h0m-38.2 12.4h0m2.4-7.3h0m-2.3 13.7h0m38.1-7.9h0m-43.8 9h0m-.6-4.6h0m24.5-19.2h0m-20.5 21.9h0m-5-3.5h0m39.9-7h0m-14.6-4.7h0m-21.2 11.3h0m25.8 .7h0m-17-6.7h0m12.3 10.1h0m-4.3 1.9h0m-11.5-15.5h0m19.9 6.7h0m18.8 9.2h0m-36.6-14.3h0m-21.5 2.1h0m36.1 2.2h0m21-17.2h0m-8.8 15.1h0m-7.9-2.3h0m1 3.3h0m18.2-3.9h0m-15.3 2.8h0m-33.8-2.2h0m-10 13.9h0m55.6-5.4h0m-47.2-8.3h0m-5.6 8.3h0m13.4-5.3h0m43 2.2h0m-23.1 2h0m-4.5-.6h0m27.8 7.1h0m-29.3-.9h0m11.7-17.8h0m-21.4 13.7h0m9-.9h0m11.9-21.1h0m-10.7 24.5h0m10.5-.3h0m-38.1 1.2h0m31.8-.3h0m10.8-1.9h0m-29.3 3.6h0m33.3-5.9h0m7.9 7.1h0m-5.3-12.3h0m-7 4.9h0m-15-10.9h0m-25.1 15.9h0m9.2-3.3h0m7.9-2.2h0m-10.6-6.6h0m5.7 14.8h0m31.2-6.5h0m-.6-16.5h0m-42.7 8.3h0m-1.4 13.5h0m43.9 .5h0m-40.4-20.1h0m37.8 14.6h0m-11.9-18.2h0m3.7-2.2h0m-38.3 2h0m7.7 24.7h0m-9.4-16.7h0m41.5 4.5h0m24.1-6h0m-29.7-3.8h0m8.5 5.6h0m-36.2 0h0m-4.1 .8h0m5.6 6h0m50.4-4.6h0m-38.2-5.1h0m15.7 18.2h0m-26.4-2.3h0m-.5-5.6h0m44.3 4.7h0m-9.8-23.9h0m1.4 19.9h0m11.9 .4h0m-46.1 5h0m3-2.3h0m-5.2 0h0m-6.9-5.2h0m53.9-4.8h0m-14.1-109.5h0m13.6 2.1h0m6.4 3.2h0m-38.1 1h0m-2.7 8.4h0m22.7-6.3h0m-9.1 9.5h0m18.1 4.2h0m5.5-3.2h0m4.5-3.1h0m-59.8 6.3h0m13.6 0h0m10.9 3.1h0m20.8 2.1h0m4.5 4.2h0m9.1-3.1h0m-54.4 2.1h0m13.6 4.2h0m36.3 0h0m13.5 50.4h0m9.1 33.6h0m-10.9 3.1h0" stroke="#03967f" stroke-width="2.90" stroke-linecap="round" fill="none"/>
<path d="M651 474.5h0m-39.5 5.1h0m19.5-5h0m-30.5 42.2h0m63.8-54.5h0m-30.6-10.3h0m-22.8 34.1h0m27.9 2.3h0m-28.1-9.7h0m-2.1 10.6h0m4.6 2.3h0m32.8-25h0m0-3.3h0m-40.5-6.7h0m66.7 65.6h0m-37.8-48.5h0m-24.9 37.7h0m45.4 15.6h0m-17.5-55.9h0m-2.4 48.2h0m-11.2-46h0m-1.7 50h0m11.1-29h0m17.3-9.4h0m-3.1 6.7h0m.5-30.1h0m-9.5 8.3h0m22.5 51.5h0m2.6-56.9h0m-43.9 25.6h0m34.7-10h0m-1.2 15h0m-53.5-43.4h0m69 73.8h0m-33.5 0h0m-38 1.7h0m55.3-75.9h0m-18.1 76.1h0m-21.5-62.6h0m13.1-12.1h0m6 41h0m-24.5 1.9h0m26.6 16.1h0m7.5-11.5h0m-1.7 15.6h0m27-44.8h0m-66.5 9.2h0m67.9 19.6h0m-32.1-37.2h0m2.3 61.5h0m-14.7-12.4h0m-4.2-9.5h0m-2.7-40.7h0m12.5 58.3h0m-14.2-47.2h0m42-14.8h0m-38.3 34.9h0m51.3-12h0m-60.8 19.9h0m21 7.1h0m25.6 19.6h0m14.9-42.2h0m-28.9 9.8h0m-19.7-38.4h0m43.5 47.9h0m-62.7 21.2h0m50.1-26.3h0m-35.5 26.4h0m-12.5-51h0m54.6-17h0m-32 5.6h0m28.2 54.4h0m-44.3-25.5h0m-3.3-7.8h0m-5.7 29.5h0m32-13.3h0m-27.4-48.7h0m2.4 72.6h0m11.9-30.1h0m-12.2 20.9h0m31.6 9.1h0m-37.8-18.3h0m33-31.9h0m-6.4-.3h0m-7.8 10h0m-.5 22.7h0m8.3 14.5h0m-22.4-44.2h0m33.5 51.6h0m-40.8-8h0m39.9 2.7h0m-26.5-60h0m-4.3 9.5h0m-1.7 18.1h0m58.7 37.4h0m-25.7-16.9h0m-4.9-32.1h0m-8.6 44.5h0m25.6-33.7h0m-20.9 24h0m9.6-26.9h0m30.6 17.7h0m-7.9 18.1h0m-16.6-23.5h0m-24.8-29.2h0m3.6 8.1h0m-13.1-12.1h0m42.3 29.8h0m-57.4-21.7h0m43.1 31.4h0m5.1-53.1h0m-25.5 40.7h0m45.6 12.9h0m-66.3-9.6h0m60.6 16.7h0m-21.4-31.6h0m-37.1 32.8h0m28-31.7h0m11.7 16.3h0m-30.5-19.6h0m34.8 37.8h0m-6.8 3.2h0m9.3-55.5h0m-9.8-2.4h0m17.1 39.7h0m9.5-46.8h0m-22.8-2.6h0m-16.4 53.7h0m40.8-44h0m-57.4 10h0m37.4 13.8h0m-23.5-14h0m47.3 21.7h0m-65.8 17h0m16.6-24.6h0m12.3-31.5h0m-9.9 7.9h0m9.5 22.7h0m-15-26.9h0m45.4 44.7h0m-51.1 9.9h0m2-23.5h0m44 1.4h0m-19.7 13.9h0m8.9 8.9h0m22.4-29.2h0m-24.1-24.7h0m-41.6 54.5h0m40.4-47.9h0m13.6 55.6h0m-43.2-4.7h0m-18.5-33.7h0m6.2 2.4h0m-4.7 9.1h0m51.4 21.3h0m-3.5-59.5h0m-43.4 41.3h0m9.5-2.2h0m12.2-10.2h0m15.1-29.1h0m-8.4 49.3h0m-19.1 1h0m29.8-30.7h0m25.4-23h0m-37.2 37.8h0m-6 36.7h0m43.6-72.7h0m-49.6 30.8h0m-.9 33.3h0m18.3-24.9h0m-.7-4.4h0m-32.1 23.6h0m-4.6-.2h0m13.6-48.3h0m43.4-2.7h0m-45.5 54.1h0m3.9 5.2h0m14.6-59h0m-5.6 6.1h0m-9.4 19.2h0m52-2.7h0m-14.2 23.9h0m-52.5 9.2h0m58.1-39.9h0m13.3 13.5h0m-4.3 19.4h0m-9.9-11.3h0m-20.9-44.8h0m-19.9 56.8h0m44.8-2.3h0m5-11.4h0m-65.8 17.9h0m23.9-47.3h0m14 32.2h0m23.2-5h0m-23.1-23.3h0m13.3 30.8h0m9.4 .6h0m7 24.2h0m-5.5-43.5h0m-37.6 4.6h0m9.4-15.9h0m32.8-18.4h0m-30.3 28h0m-26 11h0m34.2 32.7h0m-38.5-61.3h0m26.4 20.5h0m10.9 20.1h0m-14.5 6.5h0m2-48.8h0m34.9-5.2h0m-21.4 19.5h0m3.2 31.3h0m4.9 12h0m15.9-2.6h0m-52.4-38.4h0m19.7 32.8h0m32.8 14.2h0m-62.8-61h0m36.5-10.8h0m-42.9 17.5h0m69.1 36.6h0m-57.6-28.6h0m29.1-20.6h0m-1.3 9.4h0m-29.6 13.7h0m58.5 17.7h0m-2.6 4.2h0m1.3-.1h0m-1.5-25.2h0m-61.4-14.2h0m4 30.5h0m36.3-13.7h0m-41.1 40.9h0m-2.3-69.3h0m22.6 48.2h0m40.1 16.7h0m-15.9-52.7h0m-11.2 5.9h0m-30.7-13.5h0m49.5 15.9h0m7.6 23h0m-27.6 3.5h0m33.9 27h0m-56.5-59.8h0m13.3 17.7h0m22.1 10.3h0m-28.8-45.7h0m19.2 59.8h0m31.2-25.4h0m-67.2-17h0m67.4 53.5h0m-5.2-68.7h0m-53.3 75.5h0m32.5-68.1h0m-24.1 31.2h0m10.7 25.8h0m1.5-36.8h0m20.9 2.6h0m-5.2 28.9h0m2.4-7.8h0m16.9-40.5h0m-48 4.3h0m4 22.4h0m-24.3 6.3h0m66.2-19.6h0m-17.8 9.9h0m-12.3-35.7h0m20.8-.2h0m17.4 43.2h0m-13.2-2.8h0m-24.5-15.4h0m8.6-7.7h0m-36.9 51.7h0m39.1-17.7h0m-1.5 9.4h0m-1-9.7h0m1.2-17.9h0m23.2 18.3h0m-45.2-15.9h0m44.9-24.6h0m-62.3 23.8h0m48.1-17.7h0m12.5 42.7h0m-35.4 3.6h0m-2.6-33.2h0m21.9-28.9h0m-37.3 22.1h0m-9.6 51.6h0m21.7-4.2h0m-13.9-11.7h0m24.4-42.9h0m-24.6-2.9h0m14.9 60.5h0m18.7-63.6h0m-3.7 66.2h0m-15.5-3.2h0m-2.8-40.9h0m10.2 3.5h0" stroke="#03967f" stroke-width="3.20" stroke-linecap="round" fill="none"/>
<line x1="533.30" y1="556.20" x2="535.30" y2="556.20" stroke="#8a8a8a" stroke-width="0.7" />
<text x="532.00" y="558.54" font-size="6.5" text-anchor="end" fill="#231f20" >0</text>
<line x1="533.30" y1="529.94" x2="535.30" y2="529.94" stroke="#8a8a8a" stroke-width="0.7" />
<text x="532.00" y="532.28" font-size="6.5" text-anchor="end" fill="#231f20" >25</text>
<line x1="533.30" y1="503.68" x2="535.30" y2="503.68" stroke="#8a8a8a" stroke-width="0.7" />
<text x="532.00" y="506.02" font-size="6.5" text-anchor="end" fill="#231f20" >50</text>
<line x1="533.30" y1="477.42" x2="535.30" y2="477.42" stroke="#8a8a8a" stroke-width="0.7" />
<text x="532.00" y="479.76" font-size="6.5" text-anchor="end" fill="#231f20" >75</text>
<line x1="533.30" y1="451.16" x2="535.30" y2="451.16" stroke="#8a8a8a" stroke-width="0.7" />
<text x="532.00" y="453.50" font-size="6.5" text-anchor="end" fill="#231f20" >100</text>
<line x1="533.30" y1="424.90" x2="535.30" y2="424.90" stroke="#8a8a8a" stroke-width="0.7" />
<text x="532.00" y="427.24" font-size="6.5" text-anchor="end" fill="#231f20" >125</text>
<line x1="541.70" y1="561.70" x2="541.70" y2="563.70" stroke="#8a8a8a" stroke-width="0.7" />
<text x="541.70" y="572.44" font-size="6.5" text-anchor="middle" fill="#231f20" >−5</text>
<line x1="587.00" y1="561.70" x2="587.00" y2="563.70" stroke="#8a8a8a" stroke-width="0.7" />
<text x="587.00" y="572.44" font-size="6.5" text-anchor="middle" fill="#231f20" >0</text>
<line x1="632.30" y1="561.70" x2="632.30" y2="563.70" stroke="#8a8a8a" stroke-width="0.7" />
<text x="632.30" y="572.44" font-size="6.5" text-anchor="middle" fill="#231f20" >5</text>
<line x1="677.60" y1="561.70" x2="677.60" y2="563.70" stroke="#8a8a8a" stroke-width="0.7" />
<text x="677.60" y="572.44" font-size="6.5" text-anchor="middle" fill="#231f20" >10</text>
<text x="609.7" y="581.9" font-size="6.8" text-anchor="middle" fill="#231f20">log<tspan font-size="4.5" dy="1.5">10</tspan><tspan dy="-1.5"> (fold change)</tspan></text>
<text x="0" y="0" font-size="6.8" text-anchor="middle" fill="#231f20" transform="translate(516,493.8) rotate(-90)">log<tspan font-size="4.5" dy="1.5">10</tspan><tspan dy="-1.5">(</tspan><tspan font-style="italic">P</tspan><tspan font-size="4.5" dy="1.5">adj</tspan><tspan dy="-1.5">)</tspan></text>
<text x="553.80" y="438.16" font-size="4.9" text-anchor="start" fill="#333" >KRT5</text>
<text x="569.20" y="449.76" font-size="4.9" text-anchor="start" fill="#333" >RACK1</text>
<text x="540.00" y="452.46" font-size="4.9" text-anchor="start" fill="#333" >MIR205HG</text>
<text x="576.80" y="454.56" font-size="4.9" text-anchor="start" fill="#333" >EEF1B2</text>
<text x="537.80" y="458.96" font-size="4.9" text-anchor="start" fill="#333" >KRT15</text>
<text x="553.80" y="461.16" font-size="4.9" text-anchor="start" fill="#333" >NPM1</text>
<text x="579.00" y="463.36" font-size="4.9" text-anchor="start" fill="#333" >EEF1A1</text>
<text x="541.80" y="471.06" font-size="4.9" text-anchor="start" fill="#333" >SNHG29</text>
<text x="615.60" y="428.36" font-size="4.9" text-anchor="start" fill="#13977a" >CAPS</text>
<text x="637.70" y="428.76" font-size="4.9" text-anchor="start" fill="#13977a" >PIGR</text>
<text x="660.00" y="430.96" font-size="4.9" text-anchor="start" fill="#13977a" >RSPH1</text>
<text x="610.70" y="433.76" font-size="4.9" text-anchor="start" fill="#13977a" >SLPI</text>
<text x="630.40" y="435.36" font-size="4.9" text-anchor="start" fill="#13977a" >TFF3</text>
<text x="595.40" y="438.86" font-size="4.9" text-anchor="start" fill="#13977a" >CETN2</text>
<text x="619.50" y="441.06" font-size="4.9" text-anchor="start" fill="#13977a" >CRIP1</text>
<text x="641.40" y="439.26" font-size="4.9" text-anchor="start" fill="#13977a" >C9orf24</text>
<text x="662.20" y="440.36" font-size="4.9" text-anchor="start" fill="#13977a" >C20orf85</text>
<text x="584.50" y="445.36" font-size="4.9" text-anchor="start" fill="#13977a" >TUBB4B</text>
<text x="612.90" y="446.26" font-size="4.9" text-anchor="start" fill="#13977a" >TUBA1A</text>
<text x="641.40" y="445.36" font-size="4.9" text-anchor="start" fill="#13977a" >PSCA</text>
<text x="588.40" y="450.26" font-size="4.9" text-anchor="start" fill="#13977a" >WFDC2</text>
<text x="607.50" y="450.86" font-size="4.9" text-anchor="start" fill="#13977a" >SMIM22</text>
<text x="626.10" y="452.46" font-size="4.9" text-anchor="start" fill="#13977a" >SCGB3A1</text>
<text x="664.40" y="450.66" font-size="4.9" text-anchor="start" fill="#13977a" >LRRIQ1</text>
<text x="649.10" y="455.06" font-size="4.9" text-anchor="start" fill="#13977a" >SAA1</text>
<text x="589.50" y="457.26" font-size="4.9" text-anchor="start" fill="#13977a" >EZR</text>
<text x="599.80" y="460.76" font-size="4.9" text-anchor="start" fill="#13977a" >SCGB1A1</text>
<text x="660.40" y="462.26" font-size="4.9" text-anchor="start" fill="#13977a" >CCDC170</text>
<text x="616.20" y="467.26" font-size="4.9" text-anchor="start" fill="#13977a" >BPIFB1</text>
<text x="664.40" y="467.26" font-size="4.9" text-anchor="start" fill="#13977a" >PIFO</text>
<line x1="560.00" y1="467.00" x2="568.00" y2="461.00" stroke="#333" stroke-width="0.45" />
<line x1="655.00" y1="455.00" x2="662.00" y2="462.00" stroke="#13977a" stroke-width="0.45" />
<line x1="658.00" y1="447.00" x2="665.00" y2="451.00" stroke="#13977a" stroke-width="0.45" /></svg>
</body></html>
